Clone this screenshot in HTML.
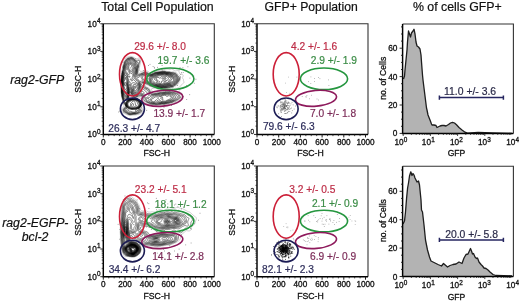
<!DOCTYPE html>
<html><head><meta charset="utf-8"><style>
html,body{margin:0;padding:0;background:#fff;width:520px;height:301px;overflow:hidden}
svg{display:block;filter:blur(0.3px)}
text{font-family:"Liberation Sans", sans-serif}
.tk{stroke:#111;stroke-width:0.3px}
</style></head><body>
<svg width="520" height="301" viewBox="0 0 520 301" font-family='"Liberation Sans", sans-serif'>
<rect width="520" height="301" fill="#fff"/>
<text x="157.40" y="10.80" font-size="12.35" fill="#111" stroke="#111" stroke-width="0.2" text-anchor="middle">Total Cell Population</text>
<text x="311.20" y="10.80" font-size="12.2" fill="#111" stroke="#111" stroke-width="0.2" text-anchor="middle">GFP+ Population</text>
<text x="457.30" y="10.80" font-size="12.35" fill="#111" stroke="#111" stroke-width="0.2" text-anchor="middle">% of cells GFP+</text>
<text x="37.20" y="84.00" font-size="12.3" fill="#111" stroke="#111" stroke-width="0.2" text-anchor="middle" font-style="italic">rag2-GFP</text>
<text x="35.30" y="226.70" font-size="12.3" fill="#111" stroke="#111" stroke-width="0.2" text-anchor="middle" font-style="italic">rag2-EGFP-</text>
<text x="35.10" y="241.20" font-size="12.3" fill="#111" stroke="#111" stroke-width="0.2" text-anchor="middle" font-style="italic">bcl-2</text>
<path d="M132.1,115.3 131.6,115.3 131.1,115.4 130.6,115.4 130.1,115.4 129.6,115.4 129.1,115.3 128.8,115.2 128.3,115.1 128.0,115.0 127.5,114.9 127.3,114.8 126.8,114.6 126.5,114.5 126.1,114.2 125.8,114.1 125.5,114.0 125.0,113.8 124.8,113.7 124.4,113.5 124.0,113.3 123.8,113.2 123.4,113.0 123.0,112.8 122.8,112.6 122.5,112.5 122.3,112.2 122.0,112.0 121.8,111.6 121.7,111.2 121.7,110.8 121.7,110.2 121.7,109.8 121.7,109.2 121.8,108.8 121.9,108.5 122.0,108.2 122.3,107.9 122.5,107.7 122.8,107.5 123.1,107.2 123.4,107.0 123.7,106.8 123.8,106.5 124.0,106.0 123.9,105.5 123.7,105.2 123.5,104.9 123.4,104.5 123.3,104.2 123.1,103.8 123.0,103.5 123.0,103.0 122.9,102.5 122.8,102.2 122.7,101.8 122.6,101.2 122.5,100.9 122.4,100.5 122.3,100.0 122.3,99.8 122.1,99.2 122.0,98.8 122.0,98.5 121.9,98.0 121.8,97.7 121.7,97.2 121.6,96.8 121.5,96.3 121.5,96.0 121.4,95.5 121.4,95.0 121.3,94.5 121.3,94.2 121.2,93.8 121.1,93.2 121.0,92.9 121.0,92.5 121.0,92.0 121.0,91.5 121.0,91.0 121.0,90.5 121.0,90.0 121.0,89.5 120.9,89.0 120.9,88.5 120.9,88.0 120.9,87.5 120.8,87.0 120.8,86.5 120.8,86.0 120.8,85.6 120.8,85.2 120.8,84.8 120.8,84.2 120.8,83.9 120.8,83.5 120.8,83.0 120.9,82.5 120.9,82.0 121.0,81.5 121.0,81.0 121.0,80.5 121.0,80.0 121.0,79.5 121.0,79.0 121.0,78.5 121.0,78.0 121.1,77.8 121.1,77.2 121.1,76.8 121.1,76.2 121.2,75.8 121.2,75.2 121.3,74.9 121.4,74.5 121.4,74.0 121.5,73.5 121.6,73.2 121.7,72.8 121.8,72.2 121.8,71.9 121.8,71.5 121.9,71.0 122.0,70.5 122.0,70.2 122.1,69.8 122.2,69.2 122.3,68.9 122.3,68.5 122.4,68.0 122.5,67.5 122.5,67.0 122.6,66.8 122.7,66.2 122.8,65.8 122.8,65.5 122.9,65.0 123.0,64.6 123.1,64.2 123.3,63.8 123.4,63.5 123.5,63.0 123.5,62.5 123.6,62.2 123.6,61.8 123.8,61.3 123.9,61.0 124.1,60.8 124.3,60.4 124.5,60.1 124.8,59.8 124.9,59.5 125.1,59.2 125.3,58.9 125.5,58.5 125.8,58.3 126.0,58.0 126.3,57.8 126.5,57.6 126.8,57.5 127.2,57.2 127.5,57.1 127.9,57.0 128.3,56.8 128.6,56.8 129.1,56.6 129.3,56.5 129.8,56.4 130.3,56.3 130.8,56.3 131.3,56.4 131.7,56.5 132.1,56.6 132.4,56.8 132.8,56.9 133.1,57.0 133.6,57.2 133.8,57.4 134.1,57.5 134.4,57.8 134.7,58.0 134.9,58.2 135.2,58.5 135.5,58.8 135.8,58.9 136.1,59.0 136.4,59.0 136.8,58.9 137.1,58.8 137.5,58.5 137.8,58.4 138.1,58.2 138.6,58.1 139.1,58.1 139.6,58.2 139.8,58.3 140.1,58.5 140.3,58.8 140.5,59.2 140.6,59.6 140.6,60.0 140.6,60.5 140.7,61.0 140.7,61.5 140.7,62.0 140.6,62.5 140.5,62.8 140.4,63.2 140.3,63.7 140.2,64.0 140.1,64.5 140.0,64.8 139.9,65.2 139.8,65.7 139.7,66.0 139.7,66.5 139.6,67.0 139.5,67.2 139.4,67.8 139.4,68.2 139.3,68.8 139.4,69.2 139.4,69.8 139.6,70.2 139.6,70.5 139.8,70.8 140.1,71.1 140.3,71.3 140.8,71.4 141.3,71.4 141.8,71.3 142.1,71.2 142.6,71.1 142.9,71.0 143.3,70.9 143.8,70.8 144.3,70.8 144.8,70.8 145.3,70.8 145.8,70.9 146.3,71.0 146.6,71.0 147.1,71.1 147.6,71.2 147.8,71.3 148.3,71.5 148.6,71.7 148.8,71.9 149.1,72.2 149.3,72.4 149.6,72.7 149.8,72.9 150.1,73.0 150.6,73.2 151.1,73.1 151.6,73.0 151.8,72.9 152.3,72.8 152.6,72.7 152.9,72.5 153.3,72.3 153.6,72.1 153.8,72.0 154.2,71.8 154.6,71.6 155.0,71.5 155.3,71.4 155.8,71.3 156.1,71.2 156.6,71.1 156.9,71.0 157.3,70.9 157.8,70.8 158.3,70.8 158.6,70.8 159.1,70.7 159.6,70.6 160.0,70.5 160.3,70.4 160.6,70.2 161.1,70.0 161.3,70.0 161.8,69.8 162.3,69.9 162.8,69.9 163.3,69.9 163.8,69.8 164.1,69.7 164.6,69.6 165.1,69.5 165.3,69.4 165.8,69.3 166.1,69.2 166.6,69.1 166.9,69.0 167.3,69.0 167.8,69.0 168.1,69.0 168.6,69.2 168.8,69.3 169.3,69.4 169.8,69.4 170.3,69.3 170.6,69.2 171.0,69.0 171.3,68.9 171.8,68.9 172.1,69.0 172.6,69.2 172.8,69.4 173.1,69.6 173.3,69.8 173.6,70.0 174.0,70.2 174.3,70.5 174.6,70.6 174.8,70.8 175.3,70.9 175.8,70.9 176.2,70.8 176.6,70.7 177.1,70.6 177.6,70.6 178.1,70.7 178.3,70.8 178.6,71.0 178.9,71.2 179.1,71.5 179.3,72.0 179.3,72.5 179.3,73.0 179.3,73.3 179.6,73.7 179.8,73.9 180.1,74.0 180.6,74.1 181.1,74.1 181.6,74.0 182.1,74.1 182.3,74.2 182.7,74.5 182.9,74.8 183.1,75.0 183.2,75.5 183.2,76.0 183.1,76.3 182.8,76.7 182.6,77.0 182.4,77.2 182.3,77.5 182.3,77.8 182.5,78.2 182.8,78.5 183.0,78.8 183.2,79.0 183.3,79.2 183.5,79.8 183.4,80.2 183.5,80.8 183.6,81.0 183.8,81.5 183.9,81.8 184.0,82.2 183.8,82.8 183.6,83.0 183.3,83.2 183.1,83.4 182.8,83.6 182.6,83.9 182.3,84.2 182.1,84.4 181.8,84.6 181.6,84.9 181.3,85.1 181.1,85.3 180.8,85.6 180.6,85.9 180.3,86.2 180.1,86.5 179.8,86.8 179.6,87.0 179.3,87.2 179.1,87.4 178.8,87.6 178.5,87.8 178.1,87.9 177.8,88.0 177.3,88.2 177.1,88.3 176.6,88.4 176.1,88.4 175.6,88.3 175.1,88.4 174.8,88.5 174.3,88.7 174.1,88.9 173.8,89.1 173.5,89.2 173.1,89.5 172.6,89.2 172.3,89.2 172.0,89.2 171.7,89.5 171.8,89.8 172.3,89.9 172.8,89.8 173.1,89.6 173.4,89.8 173.7,90.0 174.0,90.2 174.3,90.5 174.6,90.6 175.1,90.7 175.3,90.8 175.8,90.8 176.3,91.0 176.6,91.1 176.8,91.3 177.1,91.5 177.6,91.7 177.8,91.8 178.3,91.9 178.8,92.0 179.1,92.0 179.6,92.1 179.8,92.2 180.3,92.4 180.6,92.5 181.1,92.7 181.3,92.8 181.7,93.0 182.0,93.2 182.2,93.5 182.4,93.8 182.5,94.2 182.5,94.8 182.5,95.2 182.4,95.8 182.3,96.2 182.3,96.5 182.2,97.0 182.1,97.5 182.0,97.8 181.8,98.1 181.6,98.5 181.4,98.8 181.1,99.0 180.9,99.2 180.6,99.5 180.3,99.8 180.1,99.9 179.8,100.1 179.6,100.3 179.1,100.5 178.8,100.7 178.6,100.8 178.2,101.0 177.8,101.2 177.6,101.3 177.2,101.5 176.8,101.7 176.6,101.8 176.2,102.0 175.8,102.2 175.6,102.3 175.1,102.4 174.8,102.5 174.3,102.7 174.1,102.8 173.6,103.0 173.3,103.1 172.8,103.2 172.6,103.3 172.1,103.4 171.8,103.5 171.3,103.6 170.9,103.8 170.6,103.9 170.1,104.0 169.8,104.0 169.3,104.1 168.8,104.1 168.3,104.1 167.8,104.2 167.4,104.2 167.1,104.3 166.6,104.5 166.3,104.5 165.8,104.7 165.6,104.8 165.1,104.9 164.6,105.0 164.3,105.0 163.8,105.0 163.5,105.0 163.1,105.0 162.6,105.0 162.1,105.0 161.8,105.0 161.3,105.0 160.8,105.1 160.3,105.1 159.8,105.2 159.4,105.2 159.1,105.3 158.6,105.4 158.2,105.5 157.8,105.6 157.3,105.6 156.8,105.6 156.3,105.6 155.8,105.5 155.3,105.5 155.1,105.5 154.6,105.4 154.1,105.3 153.8,105.2 153.3,105.2 152.8,105.2 152.3,105.2 151.8,105.2 151.6,105.3 151.3,105.2 150.8,105.2 150.3,105.1 150.0,105.0 149.6,104.9 149.2,104.8 148.8,104.6 148.5,104.5 148.1,104.3 147.8,104.1 147.5,104.0 147.1,103.8 146.8,103.7 146.3,103.6 146.0,103.5 145.6,103.4 145.1,103.3 144.8,103.2 144.3,103.0 144.1,102.8 143.8,102.6 143.6,102.5 143.2,102.2 142.9,102.0 142.6,101.8 142.3,101.5 142.1,101.3 141.8,101.0 141.7,100.8 141.5,100.5 141.3,100.0 141.2,99.8 141.1,99.4 140.9,99.0 140.7,98.8 140.5,98.5 140.2,98.2 139.8,98.0 139.6,97.9 139.1,97.8 138.6,97.9 138.1,98.0 137.8,98.1 137.5,98.2 137.6,98.7 137.8,98.8 138.1,99.0 138.5,99.2 138.8,99.4 139.1,99.6 139.3,99.8 139.7,100.0 140.0,100.2 140.3,100.5 140.6,100.7 140.8,100.9 141.1,101.1 141.3,101.5 141.5,101.8 141.6,102.0 141.7,102.5 141.8,103.0 141.8,103.2 141.8,103.8 141.8,104.0 141.7,104.5 141.6,105.0 141.6,105.3 141.4,105.8 141.3,106.0 141.1,106.5 141.0,106.8 140.8,107.1 140.8,107.5 141.0,107.8 141.3,107.9 141.6,108.0 142.0,108.2 142.3,108.5 142.6,108.7 142.7,109.0 142.8,109.2 142.9,109.8 143.0,110.2 143.1,110.5 143.1,111.0 143.1,111.3 142.9,111.8 142.8,112.0 142.6,112.3 142.3,112.6 142.1,112.9 141.8,113.0 141.4,113.2 141.1,113.4 140.8,113.5 140.3,113.8 140.1,113.9 139.7,114.0 139.3,114.1 138.9,114.2 138.6,114.4 138.1,114.5 137.8,114.5 137.3,114.6 136.8,114.7 136.6,114.8 136.1,114.9 135.6,114.9 135.1,115.0 134.8,115.0 134.3,115.1 133.8,115.1 133.3,115.1 132.8,115.2 132.3,115.2 132.1,115.3Z" fill="none" stroke="#8a8a8a" stroke-width="0.4"/>
<path d="M156.1,91.8 156.6,91.6 156.8,91.5 157.2,91.2 157.6,91.0 157.8,90.9 158.2,90.8 158.6,90.7 159.1,90.7 159.6,90.7 160.1,90.7 160.6,90.7 161.1,90.6 161.3,90.5 161.8,90.2 162.0,90.0 161.8,89.6 161.6,89.4 161.2,89.2 160.8,89.2 160.3,89.2 159.8,89.2 159.5,89.2 159.1,89.3 158.6,89.4 158.1,89.3 157.8,89.2 157.4,89.0 157.1,88.8 156.8,88.6 156.5,88.5 156.1,88.4 155.6,88.2 155.3,88.2 154.8,88.2 154.3,88.1 153.8,88.1 153.3,88.2 152.8,88.2 152.6,88.3 152.1,88.5 151.8,88.6 151.6,88.8 151.4,89.2 151.4,89.8 151.6,90.0 151.8,90.4 152.0,90.8 152.2,91.0 152.3,91.2 152.6,91.5 152.9,91.8 153.3,91.9 153.8,91.9 154.3,91.9 154.8,91.9 155.3,91.9 155.8,91.8 156.1,91.8Z" fill="none" stroke="#8a8a8a" stroke-width="0.4"/>
<path d="M130.1,98.8 130.6,98.6 130.9,98.5 131.3,98.4 131.8,98.3 132.1,98.2 132.6,98.0 132.7,97.8 132.5,97.5 132.3,97.2 132.0,97.0 131.7,96.8 131.5,96.5 131.3,96.2 131.1,95.8 130.9,95.5 130.7,95.2 130.6,95.0 130.3,94.7 129.8,94.7 129.7,95.0 129.5,95.2 129.4,95.8 129.3,96.1 129.2,96.5 129.2,97.0 129.1,97.5 129.0,97.8 128.9,98.2 128.9,98.8 129.3,98.9 129.8,98.8 130.1,98.8Z" fill="none" stroke="#8a8a8a" stroke-width="0.4"/>
<path d="M132.1,114.8 131.6,114.9 131.1,114.9 130.6,115.0 130.1,115.0 129.6,114.9 129.1,114.8 128.8,114.7 128.3,114.6 128.1,114.5 127.5,114.3 127.3,114.2 127.0,114.0 126.5,113.8 126.3,113.6 126.0,113.5 125.6,113.2 125.3,113.1 124.9,113.0 124.5,112.8 124.3,112.7 123.9,112.5 123.6,112.2 123.4,112.0 123.2,111.8 123.0,111.5 122.8,111.0 122.8,110.8 122.7,110.2 122.7,109.8 122.7,109.2 122.8,108.8 122.9,108.5 123.1,108.2 123.4,108.0 123.7,107.8 124.0,107.5 124.3,107.3 124.5,107.1 124.8,106.9 125.0,106.6 125.2,106.2 125.2,105.8 125.0,105.5 124.8,105.2 124.5,104.9 124.3,104.7 124.0,104.4 123.8,104.1 123.7,103.8 123.5,103.5 123.4,103.0 123.3,102.6 123.2,102.2 123.1,101.8 123.0,101.5 122.9,101.0 122.8,100.5 122.8,100.2 122.6,99.8 122.5,99.4 122.4,99.0 122.3,98.5 122.2,98.2 122.1,97.8 122.0,97.4 121.9,97.0 121.8,96.5 121.8,96.1 121.7,95.8 121.7,95.2 121.6,94.8 121.6,94.2 121.5,94.0 121.4,93.5 121.3,93.0 121.3,92.7 121.3,92.2 121.3,91.8 121.3,91.2 121.3,90.8 121.2,90.2 121.2,89.8 121.2,89.2 121.2,88.8 121.1,88.2 121.1,87.8 121.1,87.2 121.1,86.8 121.1,86.2 121.1,85.8 121.0,85.5 121.0,85.0 121.0,84.5 121.0,84.2 121.1,83.8 121.1,83.2 121.1,82.8 121.2,82.2 121.2,81.8 121.2,81.2 121.2,80.8 121.2,80.2 121.2,79.8 121.2,79.2 121.3,78.8 121.3,78.2 121.3,78.0 121.3,77.5 121.4,77.0 121.4,76.5 121.4,76.0 121.5,75.5 121.6,75.2 121.6,74.8 121.7,74.2 121.8,73.8 121.8,73.5 121.9,73.0 122.0,72.5 122.1,72.2 122.1,71.8 122.2,71.2 122.3,70.9 122.4,70.5 122.5,70.0 122.6,69.8 122.7,69.2 122.8,68.8 122.8,68.5 122.9,68.0 122.9,67.5 123.0,67.0 123.0,66.6 123.1,66.2 123.2,65.8 123.3,65.4 123.4,65.0 123.5,64.5 123.6,64.2 123.8,63.8 123.9,63.5 124.0,63.0 124.0,62.6 124.1,62.2 124.2,61.8 124.3,61.5 124.5,61.1 124.8,60.8 125.0,60.5 125.2,60.2 125.4,60.0 125.6,59.8 125.8,59.4 126.0,59.1 126.3,58.8 126.5,58.5 126.8,58.3 127.0,58.2 127.3,58.0 127.8,57.8 128.1,57.7 128.6,57.5 128.8,57.5 129.3,57.3 129.6,57.2 130.1,57.1 130.6,57.0 130.8,57.0 131.1,57.0 131.6,57.1 132.0,57.2 132.3,57.4 132.7,57.5 133.1,57.6 133.3,57.8 133.7,58.0 134.0,58.2 134.3,58.5 134.6,58.7 134.8,59.0 135.0,59.2 135.3,59.5 135.6,59.7 135.8,59.9 136.1,60.0 136.6,60.1 136.9,60.0 137.3,59.8 137.6,59.6 137.9,59.5 138.3,59.4 138.8,59.3 139.3,59.4 139.6,59.6 139.8,59.8 140.0,60.2 140.1,60.6 140.1,61.0 140.1,61.5 140.1,62.0 140.0,62.2 139.9,62.8 139.8,63.0 139.6,63.5 139.6,63.8 139.4,64.2 139.3,64.8 139.3,65.0 139.2,65.5 139.1,66.0 139.1,66.5 139.0,66.8 138.9,67.2 138.8,67.6 138.7,68.0 138.6,68.5 138.5,68.8 138.5,69.2 138.5,69.8 138.5,70.2 138.5,70.8 138.5,71.2 138.5,71.8 138.5,72.2 138.6,72.5 138.8,72.9 139.1,73.1 139.6,73.2 140.1,73.2 140.6,73.0 140.8,73.0 141.3,72.8 141.6,72.7 141.9,72.5 142.3,72.3 142.6,72.2 142.9,72.0 143.3,71.8 143.6,71.7 144.1,71.6 144.6,71.6 145.1,71.6 145.6,71.7 145.8,71.8 146.3,71.9 146.6,72.0 147.1,72.1 147.6,72.1 147.9,72.2 148.2,72.5 148.5,72.8 148.7,73.0 149.0,73.2 149.2,73.5 149.5,73.8 149.8,73.9 150.3,74.0 150.8,74.0 151.3,73.9 151.6,73.8 152.1,73.6 152.3,73.5 152.8,73.3 153.1,73.1 153.3,73.0 153.8,72.8 154.1,72.6 154.3,72.5 154.8,72.3 155.1,72.2 155.6,72.1 156.1,72.0 156.3,71.9 156.8,71.8 157.3,71.8 157.6,71.8 158.1,71.7 158.6,71.6 159.1,71.6 159.6,71.5 159.8,71.5 160.3,71.4 160.8,71.3 161.1,71.2 161.6,71.1 162.1,71.1 162.6,71.0 162.8,71.0 163.3,70.9 163.8,70.9 164.3,70.9 164.8,70.9 165.3,70.9 165.6,71.0 166.1,71.1 166.3,71.2 166.8,71.4 167.2,71.5 167.6,71.5 168.1,71.6 168.6,71.5 169.1,71.5 169.6,71.5 170.1,71.6 170.5,71.8 170.8,71.8 171.3,71.9 171.8,71.9 172.3,71.8 172.6,71.7 173.1,71.7 173.4,71.8 173.8,71.9 174.1,72.0 174.6,72.2 174.8,72.3 175.3,72.5 175.6,72.6 176.1,72.7 176.3,72.8 176.7,73.0 177.0,73.2 177.3,73.5 177.4,73.8 177.6,74.0 177.8,74.5 178.0,74.8 178.2,75.0 178.5,75.2 178.8,75.4 179.1,75.5 179.6,75.6 179.9,75.8 180.2,76.0 180.4,76.2 180.5,76.8 180.5,77.2 180.5,77.8 180.5,78.2 180.5,78.8 180.4,79.2 180.3,79.6 180.1,80.0 180.0,80.2 179.9,80.8 179.8,81.0 179.7,81.5 179.6,81.9 179.3,82.2 179.1,82.4 178.8,82.6 178.6,82.9 178.4,83.2 178.3,83.6 178.1,84.0 178.0,84.2 177.7,84.5 177.5,84.8 177.2,85.0 176.8,85.2 176.6,85.4 176.2,85.5 175.8,85.6 175.5,85.8 175.1,86.0 174.8,86.2 174.6,86.5 174.3,86.8 174.1,87.0 173.8,87.2 173.6,87.4 173.2,87.5 172.8,87.6 172.3,87.6 171.8,87.6 171.3,87.7 171.1,87.8 170.6,88.0 170.3,88.1 169.8,88.2 169.6,88.3 169.1,88.3 168.6,88.4 168.1,88.4 167.6,88.5 167.1,88.5 166.6,88.5 166.1,88.5 165.8,88.5 165.3,88.5 164.8,88.5 164.6,88.5 164.1,88.5 163.6,88.4 163.1,88.5 162.6,88.5 162.1,88.5 161.6,88.4 161.1,88.4 160.6,88.3 160.1,88.3 159.6,88.4 159.1,88.4 158.6,88.3 158.2,88.2 157.8,88.1 157.5,88.0 157.1,87.9 156.7,87.8 156.3,87.7 155.8,87.6 155.4,87.5 155.1,87.5 154.6,87.4 154.1,87.3 153.6,87.3 153.3,87.2 152.8,87.2 152.3,87.1 152.0,87.0 151.6,86.8 151.3,86.7 150.8,86.6 150.5,86.5 150.1,86.4 149.6,86.2 149.3,86.1 149.1,86.0 148.7,85.8 148.4,85.5 148.1,85.2 147.8,85.1 147.6,85.0 147.1,84.8 146.8,84.7 146.3,84.7 145.8,84.7 145.5,84.8 145.2,85.0 145.2,85.5 145.3,85.8 145.6,86.2 145.8,86.5 146.1,86.7 146.3,86.9 146.6,87.0 147.1,87.2 147.3,87.3 147.8,87.5 148.1,87.6 148.5,87.8 148.8,87.9 149.1,88.2 149.3,88.5 149.4,88.8 149.6,89.1 149.8,89.5 149.9,89.8 150.1,90.0 150.3,90.4 150.5,90.8 150.7,91.0 150.8,91.2 151.1,91.7 151.2,92.0 151.3,92.2 151.6,92.7 151.8,92.9 152.1,93.1 152.6,93.2 153.1,93.2 153.6,93.1 154.1,93.1 154.5,93.0 154.8,93.0 155.3,92.9 155.8,92.8 156.2,92.8 156.6,92.7 157.1,92.6 157.5,92.5 157.8,92.4 158.3,92.3 158.6,92.2 159.1,92.1 159.5,92.0 159.8,91.9 160.3,91.8 160.8,91.8 161.1,91.8 161.6,91.7 162.1,91.7 162.6,91.6 163.1,91.6 163.6,91.6 164.1,91.5 164.3,91.5 164.8,91.4 165.3,91.3 165.8,91.3 166.3,91.3 166.6,91.2 167.1,91.2 167.6,91.1 168.1,91.0 168.3,90.9 168.8,90.8 169.2,90.8 169.4,90.8 169.8,90.8 170.3,91.0 170.6,91.1 170.9,91.2 171.3,91.3 171.8,91.4 172.3,91.4 172.8,91.5 173.1,91.5 173.6,91.7 173.8,91.8 174.3,91.9 174.6,92.0 175.1,92.1 175.6,92.1 176.1,92.2 176.3,92.3 176.6,92.5 177.1,92.7 177.3,92.8 177.8,92.9 178.2,93.0 178.6,93.1 179.1,93.2 179.3,93.4 179.6,93.5 179.9,93.8 180.3,94.0 180.6,94.2 180.8,94.5 181.0,94.8 181.1,95.1 181.1,95.5 181.1,96.0 181.1,96.5 181.0,96.8 180.9,97.2 180.8,97.7 180.7,98.0 180.5,98.2 180.3,98.6 180.1,98.8 179.8,99.1 179.6,99.3 179.2,99.5 178.8,99.7 178.6,99.9 178.3,100.0 177.9,100.2 177.6,100.4 177.3,100.6 177.0,100.8 176.6,101.0 176.3,101.2 176.1,101.3 175.6,101.5 175.3,101.5 174.8,101.7 174.5,101.8 174.1,102.0 173.8,102.1 173.5,102.2 173.1,102.4 172.8,102.6 172.3,102.7 172.1,102.8 171.6,103.0 171.3,103.0 170.8,103.2 170.5,103.2 170.1,103.4 169.6,103.4 169.1,103.5 168.8,103.5 168.3,103.6 167.8,103.6 167.3,103.7 167.0,103.8 166.6,103.8 166.1,104.0 165.8,104.1 165.3,104.2 165.1,104.3 164.6,104.4 164.1,104.5 163.6,104.4 163.1,104.4 162.6,104.4 162.1,104.4 161.6,104.4 161.1,104.5 160.8,104.5 160.3,104.6 159.8,104.6 159.3,104.7 159.0,104.8 158.6,104.8 158.1,104.9 157.6,105.0 157.3,105.0 156.8,105.1 156.3,105.1 155.8,105.0 155.6,105.0 155.1,104.9 154.6,104.8 154.3,104.7 153.8,104.6 153.3,104.6 152.8,104.6 152.3,104.6 151.8,104.6 151.3,104.6 150.8,104.5 150.6,104.4 150.1,104.3 149.8,104.2 149.4,104.0 149.1,103.8 148.8,103.7 148.4,103.5 148.1,103.3 147.8,103.2 147.3,103.0 147.1,102.9 146.6,102.8 146.3,102.7 145.9,102.5 145.6,102.3 145.3,102.2 145.0,102.0 144.7,101.8 144.4,101.5 144.1,101.2 143.8,101.0 143.6,100.9 143.3,100.7 143.1,100.5 142.8,100.1 142.6,99.8 142.5,99.5 142.5,99.0 142.4,98.5 142.3,98.0 142.1,97.8 141.9,97.5 141.6,97.3 141.3,97.2 140.9,97.0 140.6,96.9 140.1,96.8 139.8,96.7 139.3,96.6 138.8,96.6 138.5,96.8 138.1,96.9 137.8,97.1 137.4,97.2 137.1,97.4 136.8,97.6 136.5,97.8 136.1,98.0 136.0,98.2 136.3,98.5 136.6,98.6 136.8,98.8 137.3,99.0 137.6,99.1 137.9,99.2 138.3,99.4 138.6,99.6 138.9,99.8 139.3,100.0 139.6,100.2 139.8,100.4 140.1,100.6 140.3,100.8 140.6,101.1 140.8,101.4 141.0,101.8 141.2,102.0 141.3,102.3 141.5,102.8 141.5,103.2 141.6,103.5 141.6,104.0 141.5,104.2 141.5,104.8 141.4,105.2 141.3,105.5 141.1,106.0 140.9,106.2 140.8,106.5 140.6,106.9 140.3,107.2 140.2,107.5 140.0,107.8 140.1,108.2 140.3,108.4 140.6,108.6 141.0,108.8 141.3,108.9 141.6,109.1 141.8,109.4 142.0,109.8 142.1,110.0 142.2,110.5 142.2,111.0 142.1,111.5 142.0,111.8 141.8,112.1 141.6,112.3 141.3,112.5 140.8,112.7 140.6,112.8 140.2,113.0 139.8,113.2 139.6,113.3 139.1,113.5 138.8,113.6 138.5,113.8 138.1,113.9 137.6,114.0 137.3,114.1 136.8,114.2 136.5,114.2 136.1,114.3 135.6,114.4 135.1,114.4 134.6,114.5 134.3,114.5 133.8,114.5 133.3,114.6 132.8,114.7 132.3,114.7 132.1,114.8Z" fill="none" stroke="#8a8a8a" stroke-width="0.4"/>
<path d="M128.9,99.2 129.3,99.1 129.8,99.0 130.1,98.9 130.6,98.8 130.8,98.7 131.3,98.6 131.6,98.5 132.1,98.4 132.6,98.3 133.1,98.3 133.3,98.2 133.8,98.1 133.9,97.8 133.6,97.5 133.4,97.2 133.1,97.0 132.8,96.8 132.6,96.5 132.3,96.2 132.1,96.0 131.9,95.8 131.7,95.5 131.6,95.2 131.3,94.8 131.2,94.5 131.1,94.2 130.8,93.8 130.6,93.5 130.3,93.3 130.1,93.1 129.7,93.2 129.5,93.5 129.4,94.0 129.3,94.2 129.2,94.8 129.1,95.2 129.0,95.5 128.9,96.0 128.8,96.5 128.8,96.8 128.7,97.2 128.7,97.8 128.6,98.2 128.5,98.5 128.5,99.0 128.7,99.2 128.9,99.2Z" fill="none" stroke="#8a8a8a" stroke-width="0.4"/>
<path d="M131.3,114.5 130.8,114.6 130.3,114.6 129.8,114.6 129.3,114.5 129.1,114.5 128.6,114.3 128.3,114.2 127.9,114.0 127.5,113.8 127.3,113.7 127.0,113.5 126.6,113.2 126.3,113.0 126.0,112.9 125.8,112.8 125.3,112.6 125.0,112.5 124.6,112.2 124.3,112.1 124.0,111.8 123.8,111.5 123.6,111.2 123.5,111.0 123.4,110.5 123.3,110.0 123.3,109.5 123.5,109.0 123.6,108.8 123.8,108.5 124.1,108.2 124.4,108.0 124.7,107.8 125.0,107.5 125.3,107.3 125.5,107.1 125.8,106.8 125.8,106.5 125.8,106.2 125.6,105.8 125.5,105.5 125.3,105.1 125.1,104.8 124.9,104.5 124.6,104.2 124.4,104.0 124.2,103.8 124.0,103.5 123.8,103.1 123.7,102.8 123.5,102.4 123.4,102.0 123.3,101.5 123.2,101.2 123.1,100.8 123.0,100.4 123.0,100.0 122.8,99.5 122.8,99.2 122.6,98.8 122.5,98.4 122.4,98.0 122.3,97.5 122.2,97.2 122.1,96.8 122.0,96.4 122.0,96.0 121.9,95.5 121.9,95.0 121.8,94.5 121.8,94.2 121.7,93.8 121.6,93.2 121.5,93.0 121.5,92.5 121.4,92.0 121.4,91.5 121.4,91.0 121.4,90.5 121.4,90.0 121.4,89.5 121.4,89.0 121.3,88.5 121.3,88.0 121.3,87.8 121.3,87.2 121.2,86.8 121.2,86.2 121.2,85.8 121.2,85.2 121.2,84.8 121.2,84.2 121.2,83.8 121.3,83.2 121.3,83.0 121.3,82.5 121.4,82.0 121.4,81.5 121.4,81.0 121.4,80.5 121.4,80.0 121.4,79.5 121.4,79.0 121.5,78.5 121.5,78.0 121.5,77.5 121.6,77.2 121.6,76.8 121.6,76.2 121.7,75.8 121.8,75.2 121.8,75.0 121.9,74.5 122.0,74.0 122.0,73.6 122.1,73.2 122.2,72.8 122.3,72.2 122.3,72.0 122.4,71.5 122.5,71.0 122.6,70.8 122.8,70.2 122.9,70.0 123.0,69.5 123.1,69.2 123.1,68.8 123.2,68.2 123.2,67.8 123.3,67.2 123.3,67.0 123.4,66.5 123.5,66.0 123.6,65.8 123.7,65.2 123.8,64.9 123.9,64.5 124.1,64.2 124.3,63.8 124.3,63.5 124.4,63.0 124.5,62.5 124.5,62.2 124.7,61.8 124.8,61.5 125.0,61.2 125.3,60.9 125.5,60.5 125.8,60.2 126.0,60.0 126.2,59.8 126.3,59.5 126.6,59.2 126.8,59.0 127.1,58.8 127.4,58.5 127.8,58.3 128.1,58.2 128.6,58.1 128.9,58.0 129.3,57.9 129.7,57.8 130.1,57.6 130.6,57.5 131.1,57.5 131.6,57.6 132.1,57.7 132.3,57.8 132.8,58.0 133.1,58.1 133.3,58.2 133.7,58.5 133.9,58.8 134.2,59.0 134.4,59.2 134.7,59.5 134.9,59.8 135.2,60.0 135.5,60.2 135.8,60.5 136.1,60.7 136.3,60.8 136.8,61.0 137.3,60.9 137.6,60.8 138.0,60.5 138.3,60.4 138.8,60.3 139.3,60.5 139.4,60.8 139.6,61.2 139.6,61.5 139.6,61.8 139.5,62.2 139.3,62.8 139.2,63.0 139.1,63.4 138.9,63.8 138.8,64.2 138.8,64.5 138.7,65.0 138.6,65.5 138.6,66.0 138.6,66.5 138.5,66.8 138.4,67.2 138.3,67.5 138.1,68.0 138.1,68.3 137.9,68.8 137.9,69.2 137.8,69.8 137.8,70.2 137.8,70.7 137.8,71.0 137.7,71.5 137.7,72.0 137.6,72.5 137.6,73.0 137.6,73.5 137.8,74.0 138.1,74.1 138.6,74.2 139.1,74.2 139.6,74.1 140.1,74.0 140.3,73.9 140.7,73.8 141.1,73.6 141.3,73.5 141.8,73.3 142.1,73.2 142.6,73.0 142.8,72.9 143.1,72.7 143.5,72.5 143.8,72.4 144.2,72.2 144.6,72.2 144.9,72.2 145.3,72.3 145.8,72.5 146.1,72.6 146.6,72.7 146.8,72.8 147.3,72.8 147.8,73.0 148.1,73.1 148.3,73.4 148.6,73.6 148.8,73.8 149.1,74.0 149.4,74.2 149.8,74.4 150.3,74.4 150.8,74.4 151.3,74.3 151.6,74.2 152.1,74.0 152.3,73.9 152.7,73.8 153.1,73.6 153.3,73.4 153.6,73.2 154.1,73.0 154.3,72.9 154.8,72.8 155.1,72.7 155.6,72.5 155.8,72.5 156.3,72.4 156.8,72.3 157.1,72.2 157.6,72.2 158.1,72.1 158.6,72.1 159.1,72.0 159.3,72.0 159.8,71.9 160.3,71.8 160.7,71.8 161.1,71.7 161.6,71.6 162.1,71.5 162.6,71.5 162.8,71.5 163.3,71.4 163.8,71.4 164.3,71.4 164.8,71.4 165.2,71.5 165.6,71.6 166.0,71.8 166.3,71.9 166.8,72.0 167.1,72.0 167.6,72.0 168.1,72.1 168.6,72.1 169.1,72.1 169.6,72.1 170.1,72.2 170.3,72.3 170.8,72.4 171.3,72.5 171.6,72.5 172.1,72.6 172.6,72.5 173.1,72.6 173.6,72.7 173.8,72.8 174.3,72.9 174.6,73.0 175.1,73.1 175.4,73.2 175.8,73.5 176.1,73.6 176.3,73.8 176.6,74.0 176.8,74.3 177.0,74.8 177.1,75.0 177.3,75.4 177.5,75.8 177.7,76.0 178.1,76.2 178.3,76.4 178.6,76.5 179.1,76.7 179.3,76.9 179.5,77.2 179.6,77.5 179.7,78.0 179.7,78.5 179.7,79.0 179.6,79.5 179.5,79.8 179.3,80.2 179.2,80.5 179.0,80.8 178.8,81.1 178.6,81.4 178.3,81.7 178.1,82.0 177.9,82.2 177.8,82.5 177.6,82.9 177.4,83.2 177.2,83.5 177.0,83.8 176.8,84.0 176.6,84.3 176.3,84.5 175.8,84.8 175.6,84.9 175.3,85.0 174.9,85.2 174.6,85.5 174.3,85.8 174.1,86.0 173.9,86.2 173.6,86.5 173.3,86.7 173.1,86.8 172.6,86.9 172.1,87.0 171.7,87.0 171.3,87.1 170.8,87.2 170.5,87.2 170.1,87.4 169.6,87.5 169.3,87.5 168.8,87.6 168.3,87.7 167.9,87.8 167.6,87.8 167.1,87.9 166.6,87.9 166.1,87.9 165.6,88.0 165.1,88.0 164.6,88.0 164.1,88.0 163.6,87.9 163.1,88.0 162.6,88.0 162.3,88.0 161.8,88.0 161.5,88.0 161.1,88.0 160.6,87.9 160.1,87.9 159.6,87.9 159.1,87.9 158.6,87.9 158.1,87.8 157.8,87.7 157.3,87.5 157.1,87.4 156.6,87.3 156.3,87.2 155.8,87.1 155.3,87.1 154.8,87.0 154.6,87.0 154.1,86.9 153.6,86.8 153.3,86.8 152.8,86.6 152.3,86.5 152.1,86.4 151.6,86.2 151.3,86.1 150.9,86.0 150.6,85.9 150.1,85.8 149.8,85.6 149.5,85.5 149.2,85.2 148.9,85.0 148.6,84.8 148.3,84.6 148.1,84.4 147.7,84.2 147.3,84.1 147.0,84.0 146.6,83.9 146.1,83.8 145.8,83.7 145.3,83.6 144.8,83.6 144.3,83.7 144.1,83.8 143.6,84.0 143.3,84.2 143.4,84.8 143.6,85.0 143.8,85.3 144.1,85.6 144.3,85.9 144.6,86.2 144.7,86.5 144.9,86.8 145.2,87.0 145.4,87.2 145.8,87.5 146.1,87.6 146.4,87.8 146.8,87.9 147.1,88.0 147.6,88.2 147.8,88.3 148.2,88.5 148.4,88.8 148.6,89.0 148.8,89.3 149.1,89.7 149.2,90.0 149.4,90.2 149.6,90.5 149.8,90.8 150.1,91.2 150.2,91.5 150.3,91.8 150.5,92.2 150.6,92.5 150.8,93.0 151.0,93.2 151.2,93.5 151.5,93.8 151.8,93.8 152.3,93.9 152.8,93.9 153.3,93.8 153.8,93.8 154.1,93.7 154.6,93.6 155.1,93.6 155.5,93.5 155.8,93.4 156.3,93.4 156.8,93.3 157.1,93.2 157.6,93.1 158.1,93.0 158.3,93.0 158.8,92.9 159.2,92.8 159.6,92.7 160.1,92.5 160.3,92.5 160.8,92.4 161.3,92.3 161.8,92.3 162.3,92.3 162.8,92.3 163.1,92.2 163.6,92.2 164.1,92.2 164.6,92.1 165.1,92.0 165.3,92.0 165.8,91.9 166.3,91.9 166.8,91.8 167.3,91.8 167.8,91.8 168.1,91.8 168.6,91.7 169.1,91.6 169.6,91.6 170.1,91.7 170.3,91.8 170.8,91.9 171.3,92.0 171.6,92.0 172.1,92.1 172.6,92.1 173.1,92.2 173.3,92.3 173.8,92.5 174.1,92.5 174.6,92.7 174.9,92.8 175.3,92.8 175.8,93.0 176.1,93.1 176.5,93.2 176.8,93.4 177.1,93.5 177.6,93.7 177.9,93.8 178.3,93.9 178.6,94.0 178.8,94.2 179.1,94.5 179.3,95.0 179.4,95.2 179.6,95.6 179.8,96.0 179.9,96.2 180.0,96.8 180.0,97.2 179.9,97.8 179.8,98.0 179.6,98.3 179.3,98.6 179.1,98.8 178.7,99.0 178.3,99.2 178.1,99.4 177.8,99.5 177.4,99.8 177.1,100.0 176.8,100.2 176.6,100.3 176.2,100.5 175.8,100.7 175.6,100.8 175.1,101.0 174.8,101.0 174.3,101.2 174.1,101.4 173.8,101.5 173.3,101.7 173.1,101.9 172.8,102.0 172.3,102.2 172.1,102.3 171.6,102.5 171.3,102.5 170.8,102.6 170.3,102.7 170.1,102.8 169.6,102.9 169.3,103.0 168.8,103.1 168.3,103.2 167.8,103.2 167.6,103.3 167.1,103.3 166.6,103.4 166.2,103.5 165.8,103.6 165.4,103.8 165.1,103.9 164.6,104.0 164.3,104.0 163.8,104.0 163.3,104.0 163.1,104.0 162.6,103.9 162.1,103.9 161.6,104.0 161.3,104.0 160.8,104.1 160.3,104.2 159.8,104.2 159.6,104.3 159.1,104.3 158.6,104.4 158.1,104.4 157.7,104.5 157.3,104.6 156.8,104.6 156.3,104.6 155.8,104.6 155.4,104.5 155.1,104.4 154.6,104.3 154.3,104.2 153.8,104.2 153.3,104.2 152.8,104.2 152.3,104.2 151.8,104.1 151.3,104.1 150.9,104.0 150.6,103.9 150.1,103.8 149.8,103.6 149.6,103.5 149.2,103.2 148.8,103.0 148.6,102.9 148.1,102.8 147.8,102.6 147.4,102.5 147.1,102.4 146.8,102.2 146.3,102.0 146.1,101.8 145.8,101.6 145.6,101.3 145.3,101.0 145.1,100.8 144.8,100.6 144.6,100.4 144.3,100.2 144.1,100.0 143.8,99.5 143.8,99.2 143.8,98.8 143.7,98.2 143.5,98.0 143.3,97.6 143.1,97.3 142.8,97.0 142.6,96.8 142.3,96.6 142.1,96.5 141.6,96.2 141.3,96.1 140.9,96.0 140.6,95.9 140.1,95.8 139.6,95.8 139.1,95.8 138.6,96.0 138.3,96.1 138.1,96.3 137.6,96.5 137.3,96.7 137.1,96.8 136.6,97.0 136.3,97.2 136.1,97.3 135.7,97.5 135.3,97.6 134.8,97.6 134.5,97.5 134.1,97.2 133.8,97.0 133.6,96.8 133.3,96.5 133.1,96.3 132.8,96.0 132.6,95.8 132.3,95.5 132.1,95.2 132.0,95.0 131.8,94.7 131.6,94.2 131.4,94.0 131.3,93.8 131.1,93.4 130.8,93.0 130.6,92.8 130.4,92.5 130.1,92.3 129.6,92.5 129.4,92.8 129.3,93.0 129.2,93.5 129.1,93.9 129.0,94.2 128.9,94.8 128.8,95.2 128.8,95.5 128.7,96.0 128.6,96.5 128.5,96.8 128.5,97.2 128.4,97.8 128.3,98.2 128.2,98.5 128.1,99.0 128.3,99.5 128.6,99.5 128.8,99.4 129.3,99.3 129.6,99.2 130.1,99.0 130.3,98.9 130.8,98.8 131.1,98.7 131.6,98.6 132.1,98.5 132.4,98.5 132.8,98.4 133.3,98.4 133.8,98.3 134.3,98.3 134.8,98.3 135.3,98.3 135.7,98.5 136.1,98.6 136.3,98.8 136.8,98.9 137.1,99.0 137.6,99.2 137.8,99.3 138.1,99.5 138.6,99.7 138.8,99.9 139.1,100.0 139.4,100.2 139.7,100.5 140.0,100.8 140.2,101.0 140.5,101.2 140.7,101.5 140.8,101.8 141.1,102.1 141.2,102.5 141.3,102.9 141.4,103.2 141.4,103.8 141.4,104.2 141.3,104.8 141.3,105.0 141.1,105.5 141.0,105.8 140.8,106.2 140.6,106.5 140.5,106.8 140.3,107.0 140.1,107.3 139.8,107.6 139.6,107.9 139.4,108.2 139.6,108.7 139.8,108.9 140.1,109.0 140.4,109.2 140.7,109.5 141.0,109.8 141.2,110.0 141.3,110.2 141.5,110.8 141.5,111.2 141.3,111.6 141.1,111.9 140.8,112.1 140.4,112.2 140.1,112.4 139.8,112.5 139.3,112.8 139.1,112.9 138.8,113.1 138.4,113.2 138.1,113.4 137.8,113.5 137.3,113.6 136.9,113.8 136.6,113.8 136.1,114.0 135.8,114.0 135.3,114.1 134.8,114.1 134.3,114.1 133.8,114.2 133.3,114.2 133.1,114.3 132.6,114.3 132.1,114.4 131.6,114.5 131.3,114.5Z" fill="none" stroke="#050505" stroke-width="0.55"/>
<path d="M130.8,114.3 130.3,114.3 129.8,114.3 129.5,114.2 129.1,114.1 128.7,114.0 128.3,113.8 128.1,113.7 127.7,113.5 127.4,113.2 127.1,113.0 126.8,112.8 126.5,112.6 126.3,112.5 125.9,112.2 125.5,112.1 125.3,112.0 124.8,111.8 124.5,111.6 124.3,111.3 124.1,111.0 124.0,110.8 123.9,110.2 123.9,109.8 124.0,109.2 124.1,109.0 124.3,108.8 124.6,108.5 124.8,108.2 125.1,108.0 125.5,107.8 125.8,107.5 126.0,107.4 126.2,107.0 126.1,106.5 126.0,106.2 125.8,105.8 125.7,105.5 125.5,105.1 125.4,104.8 125.3,104.5 125.0,104.1 124.8,103.8 124.5,103.5 124.3,103.2 124.2,103.0 124.0,102.8 123.8,102.2 123.7,102.0 123.6,101.5 123.5,101.2 123.4,100.8 123.3,100.4 123.2,100.0 123.1,99.5 123.0,99.2 122.9,98.8 122.8,98.5 122.6,98.0 122.5,97.7 122.4,97.2 122.3,96.8 122.2,96.5 122.2,96.0 122.1,95.5 122.1,95.0 122.0,94.8 122.0,94.2 121.9,93.8 121.8,93.4 121.7,93.0 121.6,92.5 121.6,92.0 121.6,91.5 121.6,91.0 121.6,90.5 121.6,90.0 121.6,89.5 121.5,89.2 121.5,88.8 121.5,88.2 121.4,87.8 121.4,87.2 121.4,86.8 121.4,86.2 121.4,85.8 121.4,85.2 121.4,84.8 121.4,84.2 121.4,83.8 121.4,83.2 121.5,82.8 121.5,82.2 121.5,81.9 121.6,81.5 121.6,81.0 121.6,80.5 121.6,80.0 121.6,79.5 121.6,79.0 121.6,78.5 121.7,78.0 121.7,77.5 121.7,77.0 121.8,76.5 121.8,76.2 121.9,75.8 122.0,75.2 122.0,74.8 122.1,74.5 122.2,74.0 122.3,73.5 122.3,73.2 122.4,72.8 122.5,72.2 122.5,71.9 122.6,71.5 122.8,71.0 122.9,70.8 123.0,70.4 123.2,70.0 123.3,69.7 123.4,69.2 123.4,68.8 123.5,68.2 123.5,67.8 123.6,67.5 123.6,67.0 123.7,66.5 123.8,66.1 123.9,65.8 124.0,65.2 124.1,65.0 124.3,64.5 124.4,64.2 124.6,64.0 124.7,63.5 124.8,63.2 124.9,62.8 125.0,62.2 125.1,62.0 125.3,61.6 125.5,61.2 125.7,61.0 125.9,60.8 126.1,60.5 126.3,60.2 126.5,59.9 126.8,59.6 127.0,59.3 127.3,59.1 127.5,58.9 127.9,58.8 128.3,58.6 128.8,58.5 129.1,58.4 129.6,58.3 129.8,58.2 130.3,58.1 130.6,58.0 131.1,57.9 131.6,58.0 131.8,58.0 132.3,58.2 132.6,58.3 133.0,58.5 133.3,58.7 133.6,58.9 133.8,59.2 134.1,59.4 134.3,59.7 134.6,59.9 134.8,60.2 135.1,60.4 135.3,60.6 135.6,60.8 135.8,61.0 136.1,61.3 136.3,61.5 136.6,61.8 136.9,62.0 137.3,62.2 137.6,62.3 138.1,62.4 138.2,62.8 138.2,63.2 138.2,63.8 138.1,64.2 138.1,64.8 138.1,65.2 138.1,65.8 138.1,66.2 138.1,66.8 138.0,67.0 137.9,67.5 137.8,67.8 137.6,68.2 137.5,68.5 137.4,69.0 137.4,69.5 137.4,70.0 137.3,70.5 137.3,70.9 137.3,71.2 137.2,71.8 137.1,72.2 137.1,72.7 137.0,73.0 136.9,73.5 137.0,74.0 137.1,74.3 137.3,74.7 137.6,74.9 137.8,75.0 138.3,75.1 138.6,75.0 139.1,74.9 139.6,74.8 139.8,74.7 140.3,74.5 140.6,74.4 140.8,74.2 141.3,74.0 141.6,73.9 142.1,73.8 142.3,73.7 142.8,73.5 143.1,73.4 143.4,73.2 143.8,73.0 144.1,72.9 144.6,72.8 145.1,72.9 145.5,73.0 145.8,73.1 146.2,73.2 146.6,73.3 147.1,73.4 147.3,73.5 147.8,73.7 148.1,73.9 148.3,74.1 148.6,74.3 148.9,74.5 149.3,74.7 149.6,74.8 150.1,74.8 150.6,74.8 150.8,74.7 151.3,74.6 151.7,74.5 152.1,74.4 152.4,74.2 152.8,74.0 153.1,73.9 153.4,73.8 153.8,73.5 154.1,73.4 154.4,73.2 154.8,73.1 155.1,73.0 155.6,72.9 156.1,72.8 156.3,72.7 156.8,72.6 157.3,72.6 157.8,72.5 158.1,72.5 158.6,72.4 159.1,72.3 159.4,72.2 159.8,72.2 160.3,72.1 160.8,72.0 161.2,72.0 161.6,72.0 162.1,71.9 162.6,71.9 163.1,71.8 163.6,71.8 164.1,71.8 164.6,71.8 165.1,71.9 165.5,72.0 165.8,72.1 166.3,72.2 166.6,72.3 167.1,72.4 167.6,72.4 168.1,72.4 168.6,72.4 169.1,72.5 169.4,72.5 169.8,72.6 170.3,72.7 170.6,72.8 171.1,72.9 171.6,73.0 171.8,73.0 172.3,73.1 172.8,73.2 173.3,73.2 173.6,73.3 174.1,73.4 174.4,73.5 174.8,73.6 175.1,73.8 175.6,74.0 175.8,74.1 176.1,74.3 176.3,74.6 176.5,75.0 176.6,75.2 176.8,75.7 177.0,76.0 177.1,76.2 177.3,76.5 177.6,76.8 177.9,77.0 178.2,77.2 178.6,77.5 178.8,77.7 179.0,78.0 179.1,78.3 179.1,78.8 179.1,79.2 179.0,79.5 178.8,80.0 178.7,80.2 178.6,80.5 178.3,80.9 178.1,81.2 177.8,81.5 177.6,81.8 177.5,82.0 177.3,82.3 177.1,82.7 176.8,83.0 176.7,83.2 176.5,83.5 176.2,83.8 176.0,84.0 175.6,84.2 175.3,84.4 175.1,84.5 174.7,84.8 174.4,85.0 174.1,85.2 173.9,85.5 173.7,85.8 173.4,86.0 173.1,86.2 172.8,86.4 172.3,86.5 172.1,86.5 171.6,86.6 171.1,86.6 170.6,86.7 170.3,86.8 169.8,86.9 169.3,87.0 169.0,87.0 168.6,87.1 168.1,87.2 167.8,87.3 167.3,87.4 166.8,87.5 166.6,87.5 166.1,87.6 165.6,87.6 165.1,87.6 164.6,87.6 164.1,87.6 163.6,87.6 163.1,87.6 162.6,87.7 162.1,87.7 161.6,87.7 161.1,87.7 160.6,87.6 160.1,87.6 159.6,87.6 159.1,87.6 158.6,87.5 158.3,87.4 157.8,87.3 157.6,87.2 157.1,87.1 156.8,87.0 156.3,86.9 155.8,86.8 155.6,86.7 155.1,86.7 154.6,86.6 154.1,86.5 153.8,86.5 153.3,86.3 153.0,86.2 152.6,86.1 152.2,86.0 151.8,85.9 151.5,85.8 151.1,85.6 150.8,85.5 150.3,85.3 150.1,85.2 149.7,85.0 149.4,84.8 149.1,84.5 148.8,84.3 148.6,84.1 148.3,83.9 148.0,83.8 147.6,83.6 147.3,83.5 146.8,83.3 146.6,83.2 146.1,83.1 145.8,83.0 145.3,83.0 144.8,83.0 144.6,83.0 144.1,83.1 143.6,83.1 143.1,83.2 142.6,83.2 142.3,83.3 142.0,83.5 141.7,83.8 141.6,84.2 141.6,84.8 141.8,85.1 142.1,85.4 142.3,85.6 142.6,85.8 143.0,86.0 143.3,86.2 143.6,86.4 143.8,86.6 144.1,86.9 144.3,87.1 144.6,87.4 144.8,87.7 145.1,87.9 145.3,88.1 145.7,88.2 146.1,88.3 146.6,88.5 146.8,88.6 147.3,88.8 147.6,88.9 147.8,89.1 148.1,89.4 148.3,89.8 148.4,90.0 148.6,90.2 148.8,90.5 149.1,90.8 149.3,91.2 149.5,91.5 149.6,91.8 149.8,92.1 149.9,92.5 150.1,92.9 150.2,93.2 150.3,93.6 150.6,94.0 150.8,94.2 151.1,94.3 151.6,94.4 152.1,94.5 152.6,94.4 153.1,94.4 153.6,94.3 153.9,94.2 154.3,94.2 154.8,94.1 155.3,94.0 155.6,94.0 156.1,93.9 156.6,93.9 157.1,93.8 157.3,93.7 157.8,93.6 158.1,93.5 158.6,93.4 159.1,93.3 159.3,93.2 159.8,93.1 160.3,93.0 160.6,93.0 161.1,92.9 161.6,92.9 162.1,92.8 162.6,92.8 163.0,92.8 163.3,92.7 163.8,92.6 164.3,92.6 164.8,92.5 165.1,92.5 165.6,92.4 166.1,92.4 166.6,92.3 167.1,92.3 167.6,92.3 168.1,92.3 168.6,92.3 168.8,92.2 169.3,92.2 169.8,92.2 170.1,92.3 170.6,92.4 170.8,92.5 171.3,92.6 171.8,92.6 172.3,92.7 172.8,92.8 173.1,92.8 173.6,93.0 173.8,93.1 174.2,93.2 174.6,93.3 175.1,93.5 175.3,93.5 175.8,93.7 176.1,93.8 176.4,94.0 176.8,94.2 177.1,94.4 177.3,94.5 177.8,94.8 178.1,95.0 178.3,95.2 178.4,95.5 178.6,95.8 178.7,96.2 178.8,96.5 178.9,97.0 178.9,97.5 178.8,97.8 178.6,98.2 178.3,98.4 178.1,98.6 177.7,98.8 177.3,99.0 177.1,99.1 176.8,99.3 176.5,99.5 176.1,99.7 175.8,99.9 175.6,100.0 175.1,100.2 174.8,100.4 174.6,100.5 174.1,100.8 173.8,100.9 173.6,101.1 173.2,101.2 172.8,101.5 172.6,101.6 172.2,101.8 171.8,101.9 171.5,102.0 171.1,102.1 170.6,102.2 170.2,102.2 169.8,102.4 169.3,102.5 169.1,102.6 168.6,102.7 168.3,102.8 167.8,102.9 167.3,102.9 166.9,103.0 166.6,103.1 166.1,103.2 165.8,103.2 165.3,103.4 165.0,103.5 164.6,103.6 164.1,103.7 163.6,103.7 163.1,103.6 162.6,103.6 162.1,103.6 161.6,103.6 161.1,103.7 160.8,103.8 160.3,103.8 159.8,103.9 159.3,103.9 158.8,103.9 158.3,103.9 157.8,104.0 157.6,104.0 157.1,104.1 156.6,104.1 156.1,104.1 155.6,104.1 155.1,104.0 154.8,103.9 154.3,103.9 153.8,103.8 153.3,103.8 152.8,103.8 152.6,103.7 152.1,103.7 151.6,103.6 151.1,103.5 150.8,103.5 150.3,103.3 150.1,103.2 149.8,103.0 149.4,102.8 149.1,102.6 148.8,102.5 148.3,102.3 148.1,102.2 147.6,102.0 147.3,101.9 147.0,101.8 146.6,101.5 146.4,101.2 146.2,101.0 146.1,100.7 145.8,100.2 145.7,100.0 145.6,99.6 145.4,99.2 145.3,98.8 145.2,98.5 145.1,98.1 144.8,97.8 144.6,97.5 144.3,97.3 144.1,97.1 143.8,96.8 143.6,96.6 143.3,96.4 143.1,96.2 142.7,96.0 142.3,95.8 142.1,95.7 141.6,95.5 141.3,95.4 141.0,95.2 140.6,95.1 140.3,95.0 139.8,94.9 139.3,95.0 139.1,95.1 138.7,95.2 138.3,95.5 138.1,95.7 137.8,95.8 137.5,96.0 137.1,96.2 136.8,96.4 136.5,96.5 136.1,96.7 135.8,96.8 135.3,97.0 135.1,97.0 134.8,97.0 134.3,96.8 134.1,96.6 133.8,96.4 133.6,96.1 133.3,95.9 133.1,95.7 132.8,95.4 132.6,95.1 132.3,94.8 132.1,94.5 132.0,94.2 131.8,93.9 131.6,93.5 131.4,93.2 131.3,93.0 131.1,92.7 130.8,92.3 130.6,92.0 130.3,91.8 130.1,91.6 129.6,91.7 129.4,92.0 129.2,92.2 129.1,92.8 129.0,93.0 128.9,93.5 128.8,94.0 128.8,94.2 128.7,94.8 128.6,95.2 128.6,95.5 128.5,96.0 128.4,96.5 128.3,96.8 128.2,97.2 128.1,97.8 128.1,98.2 128.0,98.5 127.9,99.0 127.8,99.2 127.8,99.6 128.1,99.8 128.3,99.7 128.8,99.6 129.1,99.5 129.6,99.3 129.8,99.2 130.3,99.0 130.6,99.0 131.1,98.8 131.4,98.8 131.8,98.7 132.3,98.6 132.8,98.5 133.3,98.5 133.7,98.5 134.1,98.5 134.6,98.5 134.9,98.5 135.3,98.5 135.8,98.7 136.1,98.8 136.6,99.0 136.8,99.0 137.3,99.2 137.6,99.3 137.9,99.5 138.3,99.7 138.6,99.8 138.8,100.0 139.2,100.2 139.5,100.5 139.8,100.8 140.0,101.0 140.3,101.2 140.5,101.5 140.7,101.8 140.8,102.0 141.0,102.5 141.1,102.8 141.2,103.2 141.3,103.8 141.3,104.2 141.2,104.8 141.1,105.2 141.0,105.5 140.8,105.9 140.6,106.2 140.5,106.5 140.3,106.8 140.1,107.1 139.8,107.4 139.6,107.6 139.3,107.9 139.1,108.2 138.9,108.5 139.1,108.9 139.3,109.1 139.6,109.3 139.8,109.6 140.1,109.8 140.3,110.1 140.5,110.5 140.6,110.8 140.6,111.1 140.3,111.5 140.1,111.7 139.8,111.8 139.5,112.0 139.1,112.2 138.8,112.5 138.6,112.6 138.3,112.8 137.9,113.0 137.6,113.1 137.2,113.2 136.8,113.4 136.4,113.5 136.1,113.6 135.6,113.7 135.2,113.8 134.8,113.8 134.3,113.8 133.8,113.8 133.3,113.9 132.8,114.0 132.4,114.0 132.1,114.1 131.6,114.1 131.1,114.2 130.8,114.3Z" fill="none" stroke="#050505" stroke-width="0.55"/>
<path d="M131.3,113.8 130.8,113.8 130.3,113.9 129.8,113.9 129.3,113.8 129.1,113.7 128.6,113.5 128.3,113.4 128.1,113.2 127.8,113.0 127.5,112.8 127.2,112.5 126.9,112.2 126.5,112.0 126.3,111.9 126.0,111.7 125.7,111.5 125.3,111.3 125.0,111.1 124.8,110.9 124.6,110.5 124.5,110.2 124.5,109.8 124.6,109.5 124.8,109.1 125.0,108.8 125.3,108.5 125.5,108.3 125.8,108.2 126.1,108.0 126.5,107.8 126.6,107.5 126.6,107.0 126.5,106.8 126.3,106.4 126.1,106.0 126.0,105.8 125.8,105.2 125.7,105.0 125.5,104.5 125.4,104.2 125.3,103.8 125.2,103.5 125.0,103.2 124.8,103.0 124.5,102.8 124.3,102.4 124.1,102.0 124.0,101.8 123.8,101.2 123.7,101.0 123.6,100.5 123.5,100.2 123.4,99.8 123.3,99.3 123.2,99.0 123.0,98.5 123.0,98.2 122.8,97.8 122.7,97.5 122.6,97.0 122.5,96.8 122.4,96.2 122.3,95.8 122.3,95.5 122.2,95.0 122.2,94.5 122.1,94.0 122.0,93.7 121.9,93.2 121.8,92.8 121.8,92.3 121.8,92.0 121.8,91.5 121.8,91.0 121.8,90.5 121.7,90.0 121.7,89.5 121.7,89.0 121.7,88.5 121.6,88.0 121.6,87.5 121.6,87.0 121.5,86.7 121.5,86.2 121.5,85.8 121.5,85.2 121.6,85.0 121.6,84.5 121.6,84.0 121.6,83.5 121.6,83.0 121.7,82.5 121.7,82.0 121.7,81.5 121.7,81.0 121.7,80.5 121.7,80.0 121.7,79.5 121.8,79.0 121.8,78.5 121.8,78.2 121.9,77.8 121.9,77.2 121.9,76.8 122.0,76.2 122.0,76.0 122.1,75.5 122.2,75.0 122.3,74.7 122.4,74.2 122.4,73.8 122.5,73.2 122.6,73.0 122.6,72.5 122.8,72.0 122.8,71.8 123.0,71.2 123.1,71.0 123.3,70.6 123.5,70.2 123.6,70.0 123.7,69.5 123.8,69.0 123.8,68.8 123.9,68.2 123.9,67.8 124.0,67.2 124.0,66.8 124.1,66.5 124.2,66.0 124.3,65.5 124.4,65.2 124.5,64.9 124.8,64.5 124.9,64.2 125.0,64.0 125.2,63.5 125.3,63.2 125.4,62.8 125.5,62.2 125.6,62.0 125.8,61.7 126.0,61.4 126.3,61.0 126.5,60.8 126.6,60.5 126.8,60.2 127.0,60.0 127.3,59.7 127.6,59.5 128.0,59.2 128.3,59.1 128.8,59.0 129.1,59.0 129.6,58.8 129.8,58.7 130.3,58.6 130.6,58.5 131.1,58.4 131.6,58.4 131.8,58.5 132.3,58.7 132.6,58.8 132.9,59.0 133.2,59.2 133.5,59.5 133.7,59.8 134.0,60.0 134.3,60.2 134.6,60.5 134.8,60.7 135.1,60.9 135.3,61.1 135.6,61.4 135.8,61.7 136.0,62.0 136.1,62.2 136.3,62.7 136.4,63.0 136.6,63.3 136.8,63.6 137.0,64.0 137.2,64.2 137.3,64.6 137.4,65.0 137.5,65.5 137.6,65.8 137.6,66.2 137.6,66.8 137.5,67.0 137.4,67.5 137.2,67.8 137.1,68.2 137.0,68.5 136.9,69.0 136.9,69.5 136.9,70.0 136.9,70.5 136.9,71.0 136.8,71.5 136.8,71.8 136.7,72.2 136.6,72.8 136.5,73.0 136.4,73.5 136.4,74.0 136.5,74.5 136.6,74.8 136.8,75.2 137.0,75.5 137.2,75.8 137.6,76.0 137.8,76.0 138.1,76.0 138.6,75.9 138.8,75.8 139.3,75.6 139.6,75.5 140.1,75.3 140.3,75.1 140.6,75.0 140.9,74.8 141.3,74.5 141.6,74.4 142.0,74.2 142.3,74.2 142.8,74.1 143.1,74.0 143.6,73.8 143.8,73.7 144.3,73.5 144.6,73.4 145.1,73.5 145.3,73.5 145.8,73.7 146.1,73.8 146.6,74.0 146.8,74.0 147.3,74.2 147.6,74.3 147.9,74.5 148.3,74.8 148.6,74.9 148.8,75.0 149.3,75.2 149.8,75.2 150.3,75.2 150.8,75.1 151.2,75.0 151.6,74.9 152.0,74.8 152.3,74.6 152.6,74.5 153.1,74.3 153.3,74.1 153.6,74.0 154.1,73.8 154.3,73.6 154.6,73.5 155.1,73.4 155.4,73.2 155.8,73.2 156.3,73.0 156.6,73.0 157.1,72.9 157.6,72.8 158.1,72.8 158.3,72.7 158.8,72.6 159.3,72.5 159.6,72.5 160.1,72.4 160.6,72.4 161.1,72.3 161.6,72.3 161.8,72.2 162.3,72.2 162.8,72.2 163.3,72.2 163.8,72.1 164.3,72.1 164.8,72.2 165.1,72.2 165.6,72.4 165.9,72.5 166.3,72.6 166.8,72.7 167.3,72.7 167.8,72.7 168.1,72.8 168.6,72.8 169.1,72.8 169.6,72.9 170.0,73.0 170.3,73.1 170.8,73.2 171.1,73.3 171.6,73.4 171.8,73.5 172.3,73.6 172.8,73.7 173.1,73.8 173.6,73.9 174.0,74.0 174.3,74.1 174.8,74.2 175.1,74.4 175.3,74.5 175.6,74.8 175.9,75.0 176.1,75.3 176.2,75.8 176.3,76.0 176.6,76.4 176.8,76.8 177.0,77.0 177.2,77.2 177.5,77.5 177.7,77.8 178.0,78.0 178.1,78.2 178.3,78.6 178.4,79.0 178.3,79.5 178.3,79.8 178.1,80.2 177.9,80.5 177.8,80.8 177.6,81.1 177.3,81.4 177.1,81.8 176.9,82.0 176.7,82.2 176.6,82.5 176.3,82.9 176.1,83.2 175.8,83.5 175.6,83.7 175.3,83.9 175.1,84.0 174.7,84.2 174.3,84.5 174.1,84.7 173.8,84.9 173.6,85.2 173.3,85.5 173.1,85.7 172.8,85.9 172.5,86.0 172.1,86.1 171.6,86.2 171.1,86.2 170.6,86.2 170.3,86.3 169.8,86.4 169.3,86.4 168.9,86.5 168.6,86.6 168.1,86.8 167.8,86.8 167.3,87.0 167.1,87.0 166.6,87.1 166.1,87.2 165.6,87.2 165.3,87.3 164.8,87.3 164.3,87.3 164.1,87.2 163.6,87.2 163.2,87.2 162.8,87.3 162.3,87.4 161.8,87.4 161.3,87.4 160.8,87.3 160.3,87.3 159.8,87.3 159.3,87.3 159.1,87.2 158.6,87.2 158.1,87.0 157.8,87.0 157.3,86.8 157.1,86.7 156.6,86.6 156.2,86.5 155.8,86.4 155.3,86.4 154.8,86.3 154.5,86.2 154.1,86.2 153.6,86.0 153.3,85.9 152.8,85.8 152.6,85.7 152.1,85.5 151.8,85.4 151.4,85.2 151.1,85.1 150.8,85.0 150.3,84.8 150.1,84.6 149.8,84.4 149.6,84.2 149.3,84.0 149.1,83.7 148.7,83.5 148.4,83.2 148.1,83.1 147.8,83.0 147.3,82.8 147.1,82.7 146.6,82.5 146.3,82.4 145.8,82.4 145.3,82.4 144.8,82.5 144.6,82.5 144.1,82.6 143.6,82.6 143.1,82.5 142.8,82.5 142.3,82.5 141.9,82.5 141.6,82.6 141.3,82.8 141.1,83.0 140.8,83.5 140.7,83.8 140.7,84.2 140.8,84.8 140.8,85.0 141.0,85.5 141.1,85.8 141.3,86.2 141.5,86.5 141.8,86.8 142.1,86.9 142.3,87.0 142.8,87.2 143.1,87.3 143.3,87.5 143.6,87.8 143.9,88.0 144.2,88.2 144.4,88.5 144.8,88.8 145.1,88.9 145.3,89.0 145.8,89.2 146.1,89.3 146.6,89.5 146.8,89.7 147.1,90.0 147.2,90.2 147.3,90.5 147.6,90.8 147.8,91.0 148.1,91.2 148.4,91.5 148.6,91.8 148.8,92.0 149.0,92.5 149.1,92.8 149.2,93.2 149.2,93.8 149.1,94.2 148.9,94.5 148.8,94.8 148.5,95.0 148.6,95.3 148.8,95.2 149.3,95.1 149.8,95.1 150.3,95.2 150.8,95.2 151.3,95.2 151.8,95.1 152.3,95.0 152.6,95.0 153.1,94.9 153.6,94.8 154.0,94.8 154.3,94.7 154.8,94.6 155.2,94.5 155.6,94.4 156.1,94.4 156.6,94.4 157.1,94.3 157.3,94.2 157.8,94.0 158.1,93.9 158.6,93.8 158.8,93.7 159.3,93.7 159.8,93.6 160.3,93.6 160.8,93.6 161.2,93.5 161.6,93.4 162.1,93.4 162.6,93.3 162.8,93.2 163.3,93.2 163.8,93.1 164.3,93.0 164.6,93.0 165.1,92.9 165.6,92.9 166.1,92.9 166.6,92.9 167.1,92.9 167.6,92.9 168.1,92.9 168.6,92.8 169.1,92.8 169.6,92.8 170.1,92.9 170.4,93.0 170.8,93.1 171.3,93.2 171.6,93.3 172.1,93.4 172.6,93.5 172.8,93.5 173.3,93.7 173.6,93.9 173.8,94.0 174.3,94.2 174.6,94.2 175.1,94.4 175.4,94.5 175.8,94.8 176.0,95.0 176.2,95.2 176.4,95.5 176.6,95.8 176.8,96.0 177.1,96.3 177.3,96.8 177.3,97.0 177.3,97.4 177.1,97.8 176.9,98.0 176.7,98.2 176.4,98.5 176.1,98.7 175.8,98.9 175.6,99.1 175.3,99.2 174.9,99.5 174.6,99.8 174.3,100.0 174.1,100.2 173.8,100.3 173.6,100.5 173.2,100.8 172.8,100.9 172.6,101.1 172.1,101.2 171.8,101.4 171.3,101.5 171.1,101.6 170.6,101.6 170.1,101.7 169.8,101.8 169.3,102.0 169.1,102.1 168.6,102.2 168.3,102.3 167.8,102.4 167.4,102.5 167.1,102.6 166.6,102.7 166.3,102.8 165.8,102.9 165.4,103.0 165.1,103.1 164.6,103.2 164.2,103.2 163.8,103.3 163.6,103.2 163.1,103.2 162.6,103.2 162.1,103.2 161.6,103.2 161.3,103.3 160.8,103.4 160.3,103.5 159.8,103.5 159.3,103.5 158.8,103.4 158.3,103.4 157.8,103.4 157.3,103.4 156.8,103.5 156.6,103.5 156.1,103.6 155.6,103.5 155.1,103.5 154.8,103.5 154.3,103.4 153.8,103.4 153.3,103.4 152.8,103.3 152.4,103.2 152.1,103.2 151.6,103.1 151.1,103.0 150.8,102.9 150.4,102.8 150.1,102.5 149.8,102.4 149.6,102.2 149.1,102.0 148.8,101.9 148.5,101.8 148.1,101.6 147.8,101.5 147.4,101.2 147.2,101.0 147.0,100.8 146.9,100.2 146.8,100.0 146.6,99.5 146.5,99.2 146.3,98.8 146.2,98.5 146.1,98.0 145.9,97.8 145.8,97.5 145.6,97.1 145.3,96.8 145.1,96.6 144.8,96.4 144.6,96.2 144.3,96.0 143.8,95.8 143.6,95.7 143.2,95.5 142.8,95.4 142.5,95.2 142.1,95.1 141.8,94.9 141.4,94.8 141.1,94.6 140.8,94.4 140.5,94.2 140.1,94.0 139.8,93.9 139.3,94.0 139.1,94.2 138.8,94.4 138.6,94.6 138.3,94.8 138.1,95.0 137.8,95.2 137.4,95.5 137.1,95.7 136.8,95.8 136.3,96.0 136.1,96.1 135.6,96.2 135.3,96.2 134.8,96.3 134.6,96.2 134.2,96.0 133.8,95.8 133.6,95.5 133.3,95.3 133.1,95.0 132.8,94.8 132.6,94.5 132.4,94.2 132.3,94.0 132.1,93.7 131.8,93.3 131.7,93.0 131.5,92.8 131.3,92.3 131.1,92.0 131.0,91.8 130.8,91.5 130.6,91.1 130.3,90.8 130.1,90.6 129.7,90.8 129.5,91.0 129.3,91.4 129.1,91.8 129.0,92.0 128.9,92.5 128.8,92.8 128.7,93.2 128.6,93.8 128.6,94.2 128.5,94.5 128.4,95.0 128.3,95.5 128.3,95.8 128.2,96.2 128.1,96.8 128.0,97.0 127.9,97.5 127.8,98.0 127.8,98.2 127.6,98.8 127.5,99.1 127.4,99.5 127.3,100.0 127.8,100.1 128.1,100.0 128.6,99.8 128.8,99.7 129.3,99.5 129.6,99.4 130.0,99.2 130.3,99.1 130.8,99.0 131.1,98.9 131.6,98.8 132.0,98.8 132.3,98.7 132.8,98.6 133.3,98.6 133.8,98.6 134.3,98.6 134.8,98.6 135.3,98.7 135.6,98.8 136.1,98.9 136.3,99.0 136.8,99.2 137.1,99.3 137.6,99.5 137.8,99.6 138.1,99.8 138.6,100.0 138.8,100.1 139.1,100.3 139.3,100.5 139.6,100.8 139.9,101.0 140.1,101.2 140.3,101.5 140.6,101.8 140.8,102.2 140.9,102.5 141.0,103.0 141.1,103.2 141.1,103.8 141.1,104.2 141.1,104.7 141.0,105.0 140.8,105.5 140.7,105.8 140.6,106.1 140.3,106.5 140.1,106.8 139.9,107.0 139.7,107.2 139.5,107.5 139.2,107.8 138.9,108.0 138.7,108.2 138.5,108.5 138.5,109.0 138.7,109.2 139.0,109.5 139.2,109.8 139.4,110.0 139.6,110.4 139.6,110.8 139.5,111.0 139.3,111.3 139.1,111.6 138.8,111.8 138.5,112.0 138.1,112.2 137.8,112.4 137.6,112.5 137.1,112.8 136.8,112.9 136.6,113.0 136.1,113.2 135.8,113.3 135.3,113.4 134.8,113.5 134.3,113.5 133.8,113.5 133.6,113.5 133.1,113.6 132.6,113.6 132.1,113.7 131.6,113.7 131.3,113.8Z" fill="none" stroke="#050505" stroke-width="0.55"/>
<path d="M131.3,113.3 130.8,113.3 130.3,113.4 129.8,113.4 129.3,113.3 129.1,113.2 128.6,113.0 128.3,112.8 128.1,112.6 127.8,112.3 127.5,112.1 127.3,111.9 127.0,111.7 126.8,111.5 126.5,111.2 126.1,111.0 125.8,110.8 125.5,110.5 125.4,110.2 125.3,110.0 125.3,109.7 125.5,109.2 125.8,109.0 126.0,108.8 126.3,108.7 126.6,108.5 127.0,108.3 127.3,108.0 127.1,107.5 127.0,107.2 126.8,107.0 126.6,106.5 126.4,106.2 126.3,106.0 126.1,105.5 126.0,105.2 125.8,104.8 125.8,104.5 125.6,104.0 125.6,103.5 125.5,103.2 125.4,102.8 125.3,102.4 125.0,102.2 124.7,102.0 124.5,101.8 124.3,101.4 124.1,101.0 124.0,100.7 123.9,100.2 123.8,99.9 123.7,99.5 123.5,99.2 123.4,98.8 123.3,98.4 123.2,98.0 123.0,97.7 122.9,97.2 122.8,97.0 122.7,96.5 122.6,96.0 122.5,95.8 122.5,95.2 122.4,94.8 122.4,94.2 122.3,93.9 122.2,93.5 122.1,93.0 122.0,92.7 122.0,92.2 121.9,91.8 121.9,91.2 121.9,90.8 121.9,90.2 121.9,89.8 121.9,89.2 121.8,88.8 121.8,88.2 121.8,87.9 121.8,87.5 121.7,87.0 121.7,86.5 121.7,86.0 121.7,85.5 121.7,85.0 121.7,84.5 121.8,84.0 121.8,83.5 121.8,83.2 121.8,82.8 121.9,82.2 121.9,81.8 121.9,81.2 121.9,80.8 121.9,80.2 121.9,79.8 121.9,79.2 122.0,78.8 122.0,78.2 122.0,77.8 122.1,77.5 122.1,77.0 122.2,76.5 122.3,76.0 122.3,75.8 122.4,75.2 122.5,74.8 122.6,74.5 122.6,74.0 122.7,73.5 122.8,73.0 122.8,72.8 122.9,72.2 123.0,71.9 123.2,71.5 123.3,71.2 123.5,70.8 123.7,70.5 123.9,70.2 124.0,69.9 124.2,69.5 124.2,69.0 124.2,68.5 124.3,68.0 124.3,67.8 124.4,67.2 124.4,66.8 124.5,66.2 124.6,66.0 124.7,65.5 124.8,65.2 125.0,64.8 125.3,64.5 125.4,64.2 125.6,64.0 125.8,63.6 125.9,63.2 126.0,63.0 126.2,62.5 126.3,62.2 126.5,61.8 126.7,61.5 126.8,61.2 127.0,60.8 127.3,60.5 127.5,60.2 127.7,60.0 128.1,59.8 128.3,59.7 128.8,59.5 129.1,59.5 129.6,59.4 130.1,59.3 130.3,59.2 130.8,59.0 131.1,59.0 131.6,59.0 131.8,59.0 132.3,59.2 132.6,59.4 132.8,59.6 133.1,59.8 133.3,60.0 133.6,60.2 133.9,60.5 134.2,60.8 134.5,61.0 134.8,61.2 135.0,61.5 135.2,61.8 135.4,62.0 135.5,62.5 135.6,62.8 135.7,63.2 135.8,63.7 135.9,64.0 136.1,64.2 136.3,64.5 136.6,64.8 136.8,65.2 136.9,65.5 137.0,66.0 137.1,66.2 137.1,66.8 137.0,67.0 136.8,67.5 136.7,67.8 136.6,68.2 136.5,68.5 136.5,69.0 136.5,69.5 136.5,70.0 136.5,70.5 136.5,71.0 136.4,71.5 136.3,72.0 136.3,72.2 136.1,72.8 136.1,73.0 135.9,73.5 135.9,74.0 135.9,74.5 136.0,75.0 136.1,75.2 136.2,75.8 136.3,76.0 136.6,76.4 136.8,76.8 137.0,77.0 137.3,77.2 137.6,77.3 138.0,77.5 138.1,77.5 138.6,77.4 138.8,77.2 139.1,77.0 139.5,76.8 139.8,76.5 140.1,76.3 140.3,76.1 140.6,75.8 140.8,75.6 141.1,75.3 141.3,75.1 141.6,75.0 142.0,74.8 142.3,74.7 142.8,74.6 143.2,74.5 143.6,74.4 143.9,74.2 144.3,74.1 144.8,74.0 145.3,74.1 145.8,74.2 146.1,74.3 146.4,74.5 146.8,74.7 147.1,74.8 147.3,75.0 147.8,75.2 148.1,75.4 148.3,75.5 148.8,75.7 149.3,75.7 149.8,75.7 150.3,75.6 150.6,75.5 151.1,75.4 151.5,75.2 151.8,75.2 152.3,75.0 152.6,74.9 152.9,74.8 153.3,74.5 153.6,74.4 153.8,74.2 154.3,74.0 154.6,73.9 155.0,73.8 155.3,73.6 155.8,73.5 156.1,73.4 156.6,73.3 156.9,73.2 157.3,73.2 157.8,73.1 158.3,73.0 158.6,73.0 159.1,72.9 159.6,72.8 159.8,72.7 160.3,72.7 160.8,72.6 161.3,72.6 161.8,72.6 162.3,72.5 162.8,72.5 163.2,72.5 163.6,72.5 164.1,72.5 164.6,72.5 164.8,72.5 165.3,72.6 165.7,72.8 166.1,72.8 166.6,72.9 167.0,73.0 167.3,73.0 167.8,73.1 168.3,73.1 168.8,73.2 169.2,73.2 169.6,73.3 170.1,73.4 170.4,73.5 170.8,73.6 171.1,73.8 171.6,73.9 171.9,74.0 172.3,74.1 172.7,74.2 173.1,74.3 173.6,74.5 173.8,74.6 174.3,74.7 174.6,74.8 174.9,75.0 175.2,75.2 175.4,75.5 175.6,75.8 175.8,76.2 176.0,76.5 176.1,76.8 176.3,77.0 176.6,77.3 176.8,77.6 177.1,77.9 177.3,78.2 177.5,78.5 177.6,78.8 177.6,79.2 177.6,79.8 177.5,80.0 177.3,80.5 177.2,80.8 177.0,81.0 176.8,81.4 176.6,81.7 176.3,82.0 176.2,82.2 176.0,82.5 175.8,82.8 175.6,83.0 175.3,83.3 175.0,83.5 174.7,83.8 174.3,84.0 174.1,84.1 173.8,84.3 173.6,84.5 173.3,84.8 173.1,85.0 172.8,85.3 172.5,85.5 172.1,85.7 171.6,85.8 171.3,85.8 170.8,85.8 170.3,85.9 169.8,85.9 169.3,85.9 169.0,86.0 168.6,86.1 168.1,86.2 167.8,86.4 167.4,86.5 167.1,86.6 166.6,86.7 166.3,86.8 165.8,86.9 165.3,86.9 164.8,86.9 164.3,86.9 163.8,86.9 163.3,86.9 162.8,87.0 162.5,87.0 162.1,87.1 161.6,87.1 161.1,87.0 160.8,87.0 160.3,87.0 159.8,87.0 159.3,86.9 158.8,86.9 158.3,86.8 158.1,86.7 157.6,86.6 157.3,86.5 156.8,86.3 156.6,86.2 156.1,86.1 155.6,86.0 155.2,86.0 154.8,86.0 154.3,85.8 154.0,85.8 153.6,85.6 153.3,85.5 152.8,85.3 152.6,85.2 152.1,85.1 151.8,85.0 151.3,84.8 151.1,84.6 150.8,84.5 150.4,84.2 150.1,84.0 149.8,83.8 149.6,83.5 149.3,83.2 149.1,83.0 148.8,82.8 148.6,82.5 148.3,82.4 148.0,82.2 147.6,82.1 147.3,82.0 146.8,81.8 146.6,81.7 146.1,81.7 145.6,81.7 145.3,81.8 144.8,81.9 144.4,82.0 144.1,82.0 143.6,82.0 143.3,82.0 142.8,81.8 142.6,81.7 142.2,81.5 141.8,81.3 141.6,81.2 141.2,81.0 140.8,80.9 140.6,81.2 140.5,81.5 140.4,82.0 140.3,82.5 140.2,82.8 140.1,83.2 140.1,83.8 140.1,84.2 140.2,84.8 140.3,85.2 140.4,85.5 140.5,86.0 140.6,86.3 140.7,86.8 140.8,87.1 141.0,87.5 141.2,87.8 141.6,88.0 141.8,88.1 142.2,88.2 142.6,88.4 142.8,88.6 143.1,88.8 143.3,89.1 143.6,89.4 143.8,89.7 144.1,89.9 144.3,90.1 144.6,90.3 144.9,90.5 145.1,90.8 145.4,91.0 145.6,91.2 145.8,91.5 146.1,91.8 146.4,92.0 146.7,92.2 147.0,92.5 147.3,92.8 147.5,93.0 147.4,93.5 147.3,93.8 147.1,94.1 146.8,94.3 146.5,94.5 146.1,94.8 145.8,94.9 145.4,95.0 145.1,95.0 144.6,95.0 144.3,95.0 143.8,94.9 143.3,94.9 142.8,94.8 142.6,94.7 142.1,94.5 141.8,94.3 141.6,94.2 141.3,94.0 140.9,93.8 140.7,93.5 140.4,93.2 140.1,93.0 139.8,92.9 139.3,93.0 139.1,93.2 138.8,93.4 138.6,93.7 138.4,94.0 138.1,94.2 137.9,94.5 137.6,94.8 137.3,95.0 137.1,95.1 136.8,95.2 136.3,95.4 135.8,95.5 135.6,95.5 135.1,95.6 134.7,95.5 134.3,95.4 134.1,95.2 133.7,95.0 133.4,94.8 133.2,94.5 132.9,94.2 132.7,94.0 132.5,93.8 132.3,93.4 132.1,93.0 131.9,92.8 131.8,92.5 131.6,92.0 131.5,91.8 131.3,91.3 131.1,91.0 131.1,90.7 130.9,90.2 130.8,89.9 130.6,89.5 130.5,89.2 130.2,89.0 129.8,89.0 129.6,89.2 129.5,89.5 129.3,90.0 129.3,90.2 129.2,90.8 129.1,91.1 128.9,91.5 128.8,91.9 128.7,92.2 128.6,92.8 128.5,93.0 128.5,93.5 128.4,94.0 128.3,94.5 128.3,94.8 128.2,95.2 128.1,95.7 128.0,96.0 127.8,96.5 127.8,96.8 127.7,97.2 127.6,97.8 127.5,98.0 127.4,98.5 127.3,98.8 127.1,99.2 127.0,99.5 126.8,99.9 126.6,100.2 126.5,100.5 126.5,100.8 127.0,100.8 127.3,100.6 127.5,100.5 128.0,100.2 128.3,100.1 128.6,100.0 129.0,99.8 129.3,99.6 129.6,99.5 130.1,99.3 130.3,99.2 130.8,99.1 131.2,99.0 131.6,98.9 132.1,98.8 132.6,98.8 133.1,98.8 133.3,98.7 133.8,98.7 134.3,98.7 134.8,98.8 135.1,98.8 135.6,98.9 135.9,99.0 136.3,99.1 136.7,99.2 137.1,99.4 137.3,99.5 137.8,99.7 138.1,99.8 138.4,100.0 138.8,100.2 139.1,100.5 139.3,100.7 139.6,100.9 139.8,101.1 140.1,101.4 140.3,101.7 140.5,102.0 140.6,102.2 140.8,102.7 140.9,103.0 141.0,103.5 141.0,104.0 141.0,104.5 140.9,105.0 140.8,105.2 140.6,105.8 140.5,106.0 140.3,106.3 140.1,106.6 139.8,106.9 139.6,107.2 139.3,107.5 139.1,107.7 138.8,107.9 138.6,108.1 138.3,108.3 138.1,108.5 137.8,108.8 137.8,109.2 138.1,109.4 138.3,109.6 138.6,109.9 138.7,110.2 138.7,110.8 138.6,111.1 138.3,111.3 138.0,111.5 137.6,111.8 137.3,111.9 137.1,112.0 136.7,112.2 136.4,112.5 136.1,112.7 135.8,112.9 135.4,113.0 135.1,113.1 134.6,113.1 134.1,113.1 133.6,113.2 133.1,113.2 132.6,113.2 132.1,113.2 131.6,113.2 131.3,113.3Z" fill="none" stroke="#050505" stroke-width="0.55"/>
<path d="M160.6,103.0 160.1,103.1 159.6,103.0 159.3,103.0 158.8,102.9 158.3,102.8 158.1,102.7 157.6,102.7 157.1,102.7 156.7,102.8 156.3,102.8 155.8,102.9 155.3,102.9 154.8,102.9 154.3,103.0 153.8,103.0 153.3,102.9 152.8,102.8 152.5,102.8 152.1,102.6 151.6,102.5 151.3,102.4 150.8,102.3 150.6,102.1 150.3,102.0 150.0,101.8 149.6,101.5 149.3,101.2 149.1,101.0 148.8,100.8 148.7,100.5 148.8,100.2 149.1,99.8 149.2,99.5 149.2,99.0 149.0,98.8 148.6,98.7 148.1,98.7 147.6,98.5 147.3,98.3 147.1,98.0 147.0,97.8 147.0,97.2 147.2,97.0 147.6,96.9 147.8,97.0 148.3,97.2 148.6,97.3 149.1,97.4 149.6,97.3 149.8,97.1 150.1,96.9 150.3,96.7 150.6,96.5 151.1,96.3 151.3,96.1 151.7,96.0 152.1,95.9 152.6,95.8 152.8,95.7 153.3,95.6 153.6,95.5 154.1,95.3 154.3,95.2 154.8,95.1 155.3,95.0 155.6,95.0 156.1,94.9 156.6,94.9 157.1,94.8 157.3,94.8 157.8,94.5 158.1,94.4 158.5,94.2 158.8,94.2 159.3,94.1 159.8,94.2 160.3,94.2 160.6,94.3 160.8,94.2 161.3,94.1 161.8,94.0 162.1,93.9 162.6,93.8 162.8,93.7 163.3,93.6 163.8,93.6 164.1,93.5 164.6,93.5 165.1,93.4 165.6,93.5 166.1,93.5 166.6,93.5 167.1,93.5 167.6,93.5 168.1,93.4 168.6,93.3 169.1,93.3 169.6,93.3 170.1,93.4 170.3,93.6 170.7,93.8 171.1,93.9 171.3,94.1 171.8,94.2 172.1,94.3 172.6,94.4 172.9,94.5 173.3,94.7 173.6,94.8 174.0,95.0 174.3,95.2 174.6,95.3 174.8,95.5 175.1,95.9 175.2,96.2 175.3,96.7 175.4,97.0 175.4,97.5 175.3,98.0 175.1,98.2 174.9,98.5 174.7,98.8 174.5,99.0 174.2,99.2 174.0,99.5 173.7,99.8 173.4,100.0 173.1,100.2 172.8,100.4 172.5,100.5 172.1,100.7 171.8,100.8 171.3,100.9 171.0,101.0 170.6,101.1 170.1,101.2 169.7,101.2 169.3,101.4 169.0,101.5 168.6,101.7 168.3,101.8 167.8,101.9 167.4,102.0 167.1,102.1 166.6,102.2 166.3,102.4 165.8,102.5 165.6,102.6 165.1,102.7 164.7,102.8 164.3,102.8 163.8,102.8 163.3,102.8 162.8,102.8 162.3,102.8 161.8,102.8 161.3,102.9 160.8,103.0 160.6,103.0Z" fill="none" stroke="#050505" stroke-width="0.55"/>
<path d="M125.3,100.7 124.8,100.6 124.5,100.3 124.4,100.0 124.2,99.8 124.0,99.4 123.9,99.0 123.7,98.8 123.6,98.2 123.5,98.0 123.3,97.6 123.2,97.2 123.0,96.9 122.9,96.5 122.8,96.0 122.8,95.8 122.7,95.2 122.6,94.8 122.6,94.2 122.5,94.0 122.4,93.5 122.3,93.0 122.3,92.8 122.2,92.2 122.1,91.8 122.1,91.2 122.1,90.8 122.1,90.2 122.1,89.8 122.1,89.2 122.0,88.9 122.0,88.5 122.0,88.0 121.9,87.5 121.9,87.0 121.9,86.5 121.9,86.0 121.9,85.5 121.9,85.0 121.9,84.5 122.0,84.0 122.0,83.5 122.0,83.0 122.0,82.5 122.0,82.1 122.1,81.8 122.1,81.2 122.1,80.8 122.1,80.2 122.1,79.8 122.1,79.2 122.2,78.8 122.2,78.2 122.3,77.8 122.3,77.4 122.3,77.0 122.4,76.5 122.5,76.0 122.5,75.7 122.7,75.2 122.8,74.8 122.8,74.5 122.9,74.0 123.0,73.5 123.0,73.0 123.1,72.8 123.2,72.2 123.3,72.0 123.5,71.5 123.7,71.2 123.9,71.0 124.1,70.8 124.3,70.4 124.5,70.0 124.6,69.8 124.7,69.2 124.7,68.8 124.7,68.2 124.7,67.8 124.8,67.3 124.8,67.0 124.9,66.5 125.0,66.0 125.1,65.8 125.3,65.2 125.5,65.0 125.6,64.8 125.8,64.5 126.0,64.2 126.3,63.9 126.5,63.6 126.8,63.2 126.9,63.0 127.0,62.7 127.2,62.2 127.3,61.9 127.4,61.5 127.5,61.2 127.8,60.8 128.0,60.5 128.3,60.3 128.6,60.2 129.1,60.1 129.6,60.0 129.8,60.0 130.3,59.9 130.8,59.8 131.1,59.7 131.6,59.7 131.8,59.8 132.3,60.0 132.6,60.2 132.8,60.4 133.1,60.6 133.3,60.8 133.7,61.0 134.0,61.2 134.3,61.5 134.5,61.8 134.7,62.0 134.8,62.3 134.9,62.8 134.9,63.2 135.0,63.8 135.1,64.0 135.3,64.4 135.6,64.7 135.8,65.0 136.0,65.2 136.1,65.5 136.3,65.8 136.5,66.2 136.5,66.8 136.3,67.2 136.2,67.5 136.1,68.0 136.0,68.2 136.0,68.8 136.0,69.2 136.1,69.5 136.1,70.0 136.1,70.5 136.1,71.0 136.0,71.2 136.0,71.8 135.8,72.2 135.8,72.5 135.6,73.0 135.5,73.2 135.3,73.8 135.3,74.0 135.3,74.5 135.3,75.0 135.3,75.3 135.4,75.8 135.5,76.2 135.6,76.5 135.8,77.0 136.0,77.2 136.1,77.5 136.3,77.8 136.6,78.1 136.8,78.5 137.0,78.8 137.2,79.0 137.5,79.2 137.8,79.4 138.1,79.6 138.4,79.8 138.7,80.0 138.9,80.2 139.1,80.5 139.3,81.0 139.3,81.2 139.5,81.8 139.5,82.2 139.5,82.8 139.5,83.2 139.5,83.8 139.6,84.2 139.6,84.5 139.8,85.0 139.8,85.2 140.0,85.8 140.1,86.2 140.1,86.5 140.2,87.0 140.3,87.5 140.3,87.8 140.4,88.2 140.5,88.8 140.6,89.0 140.7,89.5 140.8,89.8 140.9,90.2 140.8,90.6 140.6,91.0 140.3,91.2 140.1,91.4 139.8,91.6 139.6,91.8 139.3,92.0 139.0,92.2 138.8,92.5 138.5,92.8 138.3,93.1 138.1,93.5 137.9,93.8 137.7,94.0 137.4,94.2 137.1,94.5 136.8,94.6 136.5,94.8 136.1,94.9 135.6,94.9 135.1,94.9 134.6,94.8 134.3,94.7 134.0,94.5 133.6,94.2 133.3,94.0 133.1,93.8 132.9,93.5 132.7,93.2 132.5,93.0 132.3,92.6 132.1,92.2 132.0,92.0 131.9,91.5 131.8,91.2 131.6,90.8 131.6,90.4 131.4,90.0 131.3,89.5 131.2,89.2 131.1,89.0 130.8,88.6 130.6,88.4 130.3,88.2 129.8,88.0 129.4,88.2 129.3,88.5 129.1,89.0 129.1,89.4 129.0,89.8 128.9,90.2 128.9,90.8 128.8,91.0 128.7,91.5 128.6,91.9 128.5,92.2 128.4,92.8 128.3,93.1 128.3,93.5 128.2,94.0 128.1,94.5 128.0,94.8 127.9,95.2 127.8,95.6 127.7,96.0 127.5,96.4 127.4,96.8 127.3,97.2 127.2,97.5 127.1,98.0 127.0,98.3 126.9,98.8 126.8,99.0 126.5,99.4 126.3,99.7 126.1,100.0 125.8,100.2 125.5,100.5 125.3,100.7Z" fill="none" stroke="#050505" stroke-width="0.55"/>
<path d="M165.8,86.5 165.3,86.6 164.8,86.6 164.3,86.6 163.8,86.5 163.3,86.5 162.8,86.6 162.3,86.7 161.8,86.7 161.3,86.7 160.8,86.6 160.3,86.6 159.8,86.6 159.3,86.6 158.8,86.6 158.4,86.5 158.1,86.4 157.6,86.3 157.3,86.2 156.9,86.0 156.6,85.9 156.1,85.8 155.8,85.7 155.3,85.7 154.8,85.6 154.5,85.5 154.1,85.3 153.8,85.2 153.3,85.0 153.1,85.0 152.6,84.8 152.3,84.7 151.8,84.5 151.6,84.4 151.3,84.2 150.8,84.0 150.6,83.8 150.3,83.6 150.1,83.3 149.8,83.0 149.7,82.8 149.5,82.5 149.3,82.2 149.1,81.8 148.9,81.5 148.7,81.2 148.5,81.0 148.1,80.8 147.8,80.7 147.3,80.7 146.9,80.8 146.6,80.8 146.1,80.9 145.6,81.0 145.3,81.1 144.9,81.2 144.6,81.3 144.1,81.4 143.6,81.3 143.3,81.1 143.1,80.9 142.8,80.5 142.6,80.2 142.5,80.0 142.3,79.6 142.1,79.2 142.0,79.0 141.8,78.7 141.6,78.3 141.4,78.0 141.3,77.8 141.1,77.2 141.1,76.8 141.3,76.2 141.4,76.0 141.6,75.8 141.9,75.5 142.3,75.3 142.6,75.2 143.1,75.2 143.6,75.0 143.8,74.9 144.3,74.8 144.6,74.7 145.1,74.6 145.6,74.7 145.8,74.8 146.1,75.0 146.5,75.2 146.8,75.5 147.1,75.7 147.3,75.9 147.6,76.1 147.8,76.3 148.1,76.5 148.6,76.6 149.1,76.5 149.3,76.4 149.8,76.2 150.1,76.1 150.4,76.0 150.8,75.9 151.1,75.8 151.6,75.6 151.9,75.5 152.3,75.4 152.6,75.2 153.1,75.1 153.3,74.9 153.6,74.8 154.1,74.5 154.3,74.4 154.7,74.2 155.1,74.1 155.4,74.0 155.8,73.9 156.2,73.8 156.6,73.7 157.1,73.5 157.3,73.5 157.8,73.4 158.3,73.3 158.6,73.2 159.1,73.1 159.6,73.0 159.9,73.0 160.3,73.0 160.8,72.9 161.3,72.9 161.8,72.9 162.3,72.9 162.8,72.8 163.3,72.8 163.8,72.8 164.3,72.8 164.8,72.8 165.3,72.9 165.6,73.0 166.1,73.1 166.6,73.2 166.8,73.3 167.3,73.3 167.8,73.4 168.3,73.5 168.6,73.5 169.1,73.6 169.6,73.7 169.8,73.8 170.3,73.9 170.6,74.0 171.1,74.2 171.3,74.3 171.8,74.5 172.1,74.6 172.5,74.8 172.8,74.9 173.2,75.0 173.6,75.1 173.8,75.2 174.3,75.5 174.6,75.7 174.8,75.9 175.1,76.2 175.3,76.5 175.4,76.8 175.6,77.0 175.8,77.3 176.1,77.6 176.3,77.9 176.6,78.2 176.7,78.5 176.8,78.8 177.0,79.2 176.9,79.8 176.8,80.2 176.7,80.5 176.6,80.8 176.3,81.2 176.1,81.5 175.9,81.8 175.7,82.0 175.5,82.2 175.3,82.5 175.1,82.8 174.8,83.1 174.6,83.3 174.2,83.5 173.8,83.8 173.6,83.9 173.3,84.1 173.1,84.3 172.8,84.6 172.6,84.8 172.3,85.0 171.8,85.2 171.6,85.3 171.1,85.4 170.6,85.4 170.1,85.4 169.6,85.5 169.2,85.5 168.8,85.6 168.3,85.7 168.1,85.8 167.6,86.0 167.3,86.1 166.8,86.2 166.6,86.3 166.1,86.5 165.8,86.5Z" fill="none" stroke="#050505" stroke-width="0.55"/>
<path d="M143.3,94.0 142.8,94.0 142.6,93.9 142.1,93.8 141.8,93.5 141.6,93.3 141.3,93.0 141.2,92.8 141.1,92.2 141.2,91.8 141.3,91.4 141.6,91.2 142.1,91.1 142.6,91.2 142.8,91.3 143.1,91.5 143.4,91.8 143.6,92.0 143.8,92.4 144.0,92.8 144.0,93.2 143.8,93.7 143.6,93.9 143.3,94.0Z" fill="none" stroke="#050505" stroke-width="0.55"/>
<path d="M161.1,102.5 160.6,102.6 160.1,102.6 159.6,102.5 159.3,102.4 158.9,102.2 158.6,102.1 158.1,102.0 157.8,101.9 157.3,101.8 156.8,101.8 156.3,101.8 155.8,101.9 155.5,102.0 155.1,102.2 154.8,102.2 154.3,102.4 153.8,102.4 153.3,102.4 152.8,102.3 152.6,102.2 152.1,102.0 151.8,101.9 151.4,101.8 151.1,101.6 150.8,101.4 150.6,101.2 150.3,100.8 150.3,100.5 150.3,100.2 150.4,99.8 150.6,99.3 150.6,99.0 150.8,98.6 151.0,98.2 151.1,98.0 151.4,97.8 151.7,97.5 152.1,97.3 152.3,97.2 152.8,97.1 153.2,97.0 153.6,96.8 153.8,96.6 154.1,96.3 154.3,96.1 154.6,96.0 155.1,95.8 155.3,95.7 155.8,95.7 156.3,95.7 156.8,95.6 157.2,95.5 157.6,95.3 157.8,95.2 158.1,95.0 158.6,94.8 158.8,94.7 159.3,94.7 159.6,94.8 160.1,94.9 160.6,95.0 161.1,94.9 161.5,94.8 161.8,94.6 162.1,94.5 162.6,94.3 162.9,94.2 163.3,94.2 163.8,94.1 164.2,94.0 164.6,94.0 165.1,94.0 165.4,94.0 165.8,94.1 166.3,94.1 166.8,94.2 167.3,94.1 167.8,94.0 168.1,94.0 168.6,93.8 169.1,93.8 169.6,93.9 169.9,94.0 170.3,94.2 170.6,94.4 170.8,94.6 171.1,94.8 171.3,95.0 171.8,95.2 172.2,95.2 172.6,95.3 173.0,95.5 173.3,95.7 173.5,96.0 173.6,96.2 173.7,96.8 173.7,97.2 173.8,97.5 173.9,98.0 173.9,98.5 173.7,98.8 173.6,99.0 173.3,99.3 173.1,99.5 172.7,99.8 172.3,99.9 172.1,100.0 171.6,100.2 171.3,100.3 170.8,100.5 170.6,100.5 170.1,100.6 169.6,100.7 169.3,100.8 168.8,100.9 168.6,101.0 168.1,101.2 167.8,101.2 167.3,101.4 167.1,101.6 166.7,101.8 166.3,101.9 166.1,102.0 165.6,102.2 165.2,102.2 164.8,102.3 164.3,102.3 163.8,102.3 163.3,102.3 162.8,102.3 162.3,102.3 161.8,102.4 161.3,102.5 161.1,102.5Z" fill="none" stroke="#050505" stroke-width="0.55"/>
<path d="M134.1,112.8 133.6,112.8 133.3,112.7 132.8,112.7 132.3,112.7 131.8,112.6 131.3,112.6 130.8,112.7 130.3,112.7 129.8,112.7 129.3,112.6 129.0,112.5 128.7,112.2 128.4,112.0 128.1,111.8 127.9,111.5 127.6,111.2 127.3,111.0 127.1,110.8 126.9,110.5 126.7,110.2 126.7,109.8 127.0,109.5 127.3,109.4 127.6,109.2 128.0,109.0 128.2,108.8 128.1,108.2 127.9,108.0 127.6,107.8 127.4,107.5 127.2,107.2 127.0,107.0 126.8,106.6 126.6,106.2 126.5,106.0 126.3,105.6 126.2,105.2 126.0,104.8 125.9,104.5 125.9,104.0 125.8,103.5 125.8,103.0 125.9,102.5 126.0,102.2 126.3,101.8 126.5,101.5 126.8,101.3 127.0,101.1 127.3,100.9 127.5,100.7 127.9,100.5 128.3,100.3 128.6,100.1 128.8,100.0 129.3,99.8 129.6,99.7 130.0,99.5 130.3,99.4 130.7,99.2 131.1,99.1 131.6,99.0 131.8,99.0 132.3,98.9 132.8,98.9 133.3,98.8 133.8,98.8 134.3,98.8 134.8,98.9 135.3,98.9 135.6,99.0 136.1,99.1 136.3,99.2 136.8,99.4 137.1,99.5 137.6,99.7 137.8,99.8 138.1,100.0 138.5,100.2 138.8,100.4 139.1,100.6 139.3,100.8 139.6,101.1 139.8,101.3 140.1,101.6 140.3,102.0 140.4,102.2 140.6,102.5 140.7,103.0 140.8,103.5 140.8,103.8 140.8,104.2 140.8,104.5 140.7,105.0 140.6,105.5 140.4,105.8 140.3,106.0 140.1,106.4 139.8,106.7 139.6,107.0 139.3,107.2 139.1,107.5 138.8,107.7 138.6,107.9 138.3,108.1 138.0,108.2 137.7,108.5 137.3,108.7 137.1,108.9 136.8,109.0 136.4,109.2 136.2,109.5 136.3,109.8 136.8,110.0 137.1,110.1 137.5,110.2 137.3,110.8 137.1,111.0 136.8,111.2 136.6,111.4 136.3,111.7 136.1,112.0 135.8,112.2 135.6,112.4 135.3,112.6 134.8,112.7 134.3,112.7 134.1,112.8Z" fill="none" stroke="#050505" stroke-width="0.55"/>
<path d="M125.5,99.4 125.0,99.4 124.7,99.2 124.4,99.0 124.2,98.8 124.0,98.4 123.8,98.0 123.7,97.8 123.5,97.3 123.4,97.0 123.3,96.7 123.1,96.2 123.0,95.8 123.0,95.5 122.9,95.0 122.9,94.5 122.8,94.1 122.7,93.8 122.6,93.2 122.5,93.0 122.4,92.5 122.4,92.0 122.3,91.5 122.3,91.0 122.3,90.5 122.3,90.0 122.3,89.8 122.3,89.2 122.2,88.8 122.2,88.2 122.2,87.8 122.1,87.2 122.1,86.8 122.1,86.2 122.1,85.8 122.1,85.2 122.2,84.8 122.2,84.2 122.2,83.8 122.2,83.2 122.2,82.8 122.2,82.2 122.2,81.8 122.3,81.2 122.3,80.8 122.3,80.3 122.3,80.0 122.3,79.5 122.4,79.0 122.4,78.5 122.5,78.0 122.5,77.5 122.5,77.2 122.6,76.8 122.7,76.2 122.8,75.8 122.9,75.5 123.0,75.0 123.1,74.8 123.2,74.2 123.2,73.8 123.3,73.3 123.4,73.0 123.5,72.5 123.6,72.2 123.8,71.8 124.0,71.5 124.2,71.2 124.4,71.0 124.6,70.8 124.8,70.5 125.0,70.2 125.3,69.8 125.3,69.5 125.3,69.0 125.3,68.8 125.2,68.2 125.3,67.8 125.3,67.3 125.3,67.0 125.4,66.5 125.5,66.0 125.6,65.8 125.8,65.4 126.0,65.0 126.3,64.8 126.5,64.5 126.7,64.2 127.0,64.0 127.2,63.8 127.4,63.5 127.5,63.2 127.8,62.8 127.8,62.5 128.0,62.0 128.1,61.8 128.3,61.3 128.6,61.0 128.8,60.9 129.3,60.8 129.8,60.8 130.3,60.8 130.8,60.8 131.3,60.8 131.8,60.9 132.2,61.0 132.6,61.2 132.8,61.3 133.1,61.5 133.5,61.8 133.7,62.0 133.9,62.2 134.0,62.8 134.1,63.0 134.2,63.5 134.3,63.8 134.5,64.2 134.6,64.5 134.8,64.8 135.1,65.2 135.3,65.5 135.5,65.8 135.6,66.0 135.8,66.5 135.7,67.0 135.6,67.5 135.6,67.8 135.5,68.2 135.4,68.8 135.5,69.2 135.6,69.7 135.6,70.0 135.6,70.5 135.6,71.0 135.5,71.2 135.5,71.8 135.3,72.2 135.2,72.5 135.1,72.9 134.9,73.2 134.8,73.5 134.6,74.0 134.5,74.2 134.4,74.8 134.4,75.2 134.5,75.8 134.6,76.1 134.6,76.5 134.8,77.0 134.9,77.2 135.1,77.6 135.3,78.0 135.5,78.2 135.7,78.5 135.9,78.8 136.1,79.0 136.3,79.2 136.6,79.5 136.8,79.8 137.1,80.0 137.5,80.2 137.8,80.5 138.1,80.7 138.3,81.0 138.5,81.2 138.6,81.5 138.8,82.0 138.9,82.2 138.9,82.8 138.9,83.2 139.0,83.8 139.1,84.2 139.1,84.5 139.3,85.0 139.4,85.2 139.5,85.8 139.6,86.0 139.7,86.5 139.8,87.0 139.8,87.5 139.8,88.0 139.7,88.5 139.7,89.0 139.6,89.5 139.5,89.8 139.4,90.2 139.3,90.6 139.1,91.0 138.9,91.2 138.7,91.5 138.5,91.8 138.3,92.0 138.1,92.4 137.8,92.8 137.7,93.0 137.5,93.2 137.3,93.5 137.1,93.8 136.7,94.0 136.3,94.1 135.8,94.2 135.3,94.2 134.8,94.2 134.3,94.0 134.1,93.9 133.8,93.7 133.5,93.5 133.2,93.2 133.0,93.0 132.8,92.7 132.6,92.2 132.5,92.0 132.4,91.5 132.3,91.2 132.2,90.8 132.1,90.2 132.0,90.0 131.9,89.5 131.8,89.2 131.6,88.8 131.4,88.5 131.2,88.2 130.9,88.0 130.6,87.8 130.3,87.5 130.1,87.4 129.8,87.2 129.3,87.2 129.1,87.5 129.0,87.8 128.9,88.2 128.8,88.8 128.8,89.0 128.7,89.5 128.7,90.0 128.6,90.5 128.6,90.9 128.5,91.2 128.3,91.8 128.3,92.0 128.2,92.5 128.1,93.0 128.1,93.3 128.0,93.8 127.9,94.2 127.8,94.7 127.7,95.0 127.6,95.5 127.5,95.8 127.3,96.2 127.2,96.5 127.0,96.8 126.9,97.2 126.8,97.5 126.6,98.0 126.5,98.2 126.3,98.7 126.1,99.0 125.8,99.2 125.5,99.4Z" fill="none" stroke="#050505" stroke-width="0.55"/>
<path d="M162.6,86.3 162.1,86.3 161.6,86.3 161.1,86.3 160.8,86.2 160.3,86.2 159.8,86.2 159.3,86.2 158.8,86.2 158.3,86.2 157.8,86.0 157.6,85.9 157.1,85.8 156.8,85.6 156.5,85.5 156.1,85.4 155.6,85.3 155.3,85.2 154.8,85.1 154.4,85.0 154.1,84.9 153.8,84.8 153.3,84.5 153.1,84.4 152.6,84.3 152.3,84.2 151.8,84.0 151.6,83.9 151.3,83.8 150.9,83.5 150.7,83.2 150.4,83.0 150.3,82.8 150.1,82.3 149.9,82.0 149.8,81.6 149.7,81.2 149.6,80.9 149.4,80.5 149.3,80.2 149.1,79.8 149.0,79.5 148.9,79.0 148.9,78.5 149.0,78.0 149.1,77.8 149.3,77.5 149.6,77.2 149.8,77.0 150.1,76.8 150.5,76.5 150.8,76.4 151.1,76.2 151.6,76.0 151.8,76.0 152.3,75.8 152.6,75.7 153.1,75.5 153.3,75.4 153.6,75.2 154.0,75.0 154.3,74.9 154.6,74.8 155.1,74.6 155.3,74.5 155.8,74.3 156.1,74.2 156.6,74.0 156.8,73.9 157.3,73.8 157.7,73.8 158.1,73.7 158.6,73.6 158.8,73.5 159.3,73.4 159.8,73.3 160.3,73.3 160.6,73.2 161.1,73.2 161.6,73.2 162.1,73.2 162.6,73.2 163.1,73.1 163.6,73.1 164.1,73.1 164.6,73.1 165.1,73.2 165.3,73.3 165.8,73.4 166.3,73.5 166.6,73.5 167.1,73.6 167.6,73.7 168.0,73.8 168.3,73.8 168.8,74.0 169.1,74.0 169.6,74.2 169.9,74.2 170.3,74.3 170.7,74.5 171.1,74.6 171.3,74.8 171.8,75.0 172.1,75.1 172.3,75.2 172.8,75.5 173.1,75.6 173.3,75.8 173.7,76.0 174.1,76.2 174.3,76.4 174.6,76.7 174.8,77.0 175.0,77.2 175.2,77.5 175.4,77.8 175.6,78.0 175.8,78.3 176.1,78.7 176.2,79.0 176.3,79.5 176.2,80.0 176.1,80.5 175.9,80.8 175.8,81.0 175.6,81.3 175.3,81.6 175.1,81.9 174.8,82.2 174.6,82.5 174.3,82.8 174.1,83.0 173.8,83.2 173.6,83.3 173.2,83.5 172.8,83.8 172.6,84.0 172.3,84.2 172.1,84.5 171.8,84.7 171.6,84.8 171.1,84.9 170.6,85.0 170.1,85.0 169.6,85.0 169.3,85.0 168.8,85.1 168.4,85.2 168.1,85.4 167.7,85.5 167.3,85.6 167.0,85.8 166.6,85.9 166.3,86.0 165.8,86.1 165.3,86.2 164.8,86.2 164.3,86.2 163.8,86.1 163.3,86.2 162.8,86.2 162.6,86.3Z" fill="none" stroke="#050505" stroke-width="0.55"/>
<path d="M144.8,80.3 144.3,80.3 144.0,80.2 143.6,80.0 143.5,79.8 143.3,79.5 143.1,79.0 143.0,78.8 142.8,78.2 142.7,78.0 142.6,77.5 142.5,77.2 142.5,76.8 142.6,76.5 142.9,76.2 143.3,76.0 143.6,75.9 143.9,75.8 144.3,75.5 144.6,75.4 145.1,75.3 145.6,75.4 145.8,75.6 146.1,75.8 146.3,76.1 146.6,76.5 146.7,76.8 146.8,77.1 146.9,77.5 147.0,78.0 147.1,78.2 147.2,78.8 147.2,79.2 147.0,79.5 146.7,79.8 146.3,79.9 145.8,80.0 145.6,80.1 145.1,80.2 144.8,80.3Z" fill="none" stroke="#050505" stroke-width="0.55"/>
<path d="M161.3,102.0 160.8,102.1 160.3,102.0 160.1,102.0 159.6,101.8 159.3,101.6 159.1,101.5 158.6,101.2 158.3,101.1 158.1,100.9 157.8,100.8 157.5,100.5 157.3,100.2 157.0,100.0 156.6,99.8 156.3,99.7 156.1,99.8 155.8,100.0 155.6,100.3 155.3,100.7 155.1,101.0 154.8,101.2 154.6,101.4 154.3,101.5 153.8,101.7 153.3,101.7 152.8,101.5 152.6,101.4 152.3,101.2 151.9,101.0 151.6,100.8 151.5,100.5 151.5,100.0 151.6,99.6 151.7,99.2 151.9,99.0 152.2,98.8 152.6,98.6 153.0,98.5 153.3,98.4 153.6,98.2 154.0,98.0 154.2,97.8 154.4,97.5 154.7,97.2 155.0,97.0 155.3,96.9 155.8,96.8 156.3,96.8 156.8,96.8 157.1,96.7 157.3,96.5 157.7,96.2 158.0,96.0 158.3,95.8 158.6,95.6 158.8,95.5 159.3,95.5 159.6,95.5 160.1,95.7 160.3,95.8 160.7,95.8 161.1,95.7 161.4,95.5 161.8,95.3 162.1,95.1 162.4,95.0 162.8,94.8 163.2,94.8 163.6,94.7 164.1,94.6 164.6,94.5 165.1,94.5 165.6,94.6 166.1,94.7 166.3,94.8 166.8,94.9 167.3,94.9 167.8,94.8 168.1,94.7 168.5,94.5 168.8,94.4 169.3,94.5 169.6,94.6 169.8,94.8 170.1,95.0 170.3,95.3 170.6,95.5 170.9,95.8 171.3,96.0 171.6,96.2 171.8,96.4 172.1,96.7 172.2,97.0 172.3,97.4 172.4,97.8 172.5,98.2 172.4,98.8 172.2,99.0 171.9,99.2 171.6,99.4 171.3,99.5 170.8,99.7 170.6,99.8 170.1,100.0 169.8,100.0 169.3,100.2 169.0,100.2 168.6,100.4 168.1,100.5 167.8,100.6 167.4,100.8 167.1,100.9 166.8,101.1 166.5,101.2 166.1,101.5 165.8,101.6 165.3,101.8 165.1,101.8 164.6,101.8 164.1,101.8 163.7,101.8 163.3,101.7 163.1,101.8 162.6,101.8 162.1,101.9 161.6,102.0 161.3,102.0Z" fill="none" stroke="#050505" stroke-width="0.55"/>
<path d="M134.1,112.3 133.8,112.2 133.3,112.2 132.8,112.1 132.5,112.0 132.1,111.8 131.8,111.7 131.3,111.5 131.1,111.4 130.6,111.3 130.1,111.4 129.6,111.3 129.3,111.2 129.0,111.0 128.7,110.8 128.6,110.2 128.8,109.8 128.9,109.5 129.1,109.2 129.1,108.8 128.8,108.5 128.6,108.2 128.3,108.0 128.1,107.8 127.8,107.6 127.5,107.3 127.3,107.0 127.1,106.8 126.9,106.5 126.8,106.2 126.6,105.8 126.5,105.5 126.3,105.0 126.2,104.8 126.1,104.2 126.1,103.8 126.1,103.2 126.2,102.8 126.3,102.4 126.5,102.0 126.7,101.8 126.9,101.5 127.2,101.2 127.5,101.0 127.8,100.8 128.1,100.6 128.3,100.4 128.6,100.2 129.1,100.0 129.3,99.9 129.7,99.8 130.1,99.6 130.3,99.5 130.8,99.3 131.1,99.2 131.6,99.1 132.1,99.0 132.6,99.0 132.8,99.0 133.3,99.0 133.8,99.0 134.3,99.0 134.7,99.0 135.1,99.0 135.6,99.1 135.9,99.2 136.3,99.4 136.6,99.5 137.1,99.7 137.3,99.8 137.8,100.0 138.1,100.1 138.3,100.3 138.6,100.5 139.0,100.8 139.2,101.0 139.5,101.2 139.7,101.5 139.9,101.8 140.1,102.0 140.3,102.4 140.5,102.8 140.6,103.1 140.6,103.5 140.7,104.0 140.6,104.5 140.6,104.9 140.5,105.2 140.3,105.6 140.1,106.0 140.0,106.2 139.8,106.5 139.6,106.8 139.3,107.0 139.1,107.3 138.8,107.5 138.5,107.8 138.1,108.0 137.8,108.2 137.6,108.3 137.2,108.5 136.8,108.7 136.6,108.8 136.1,109.0 135.8,109.1 135.6,109.3 135.2,109.5 135.0,109.8 135.2,110.0 135.4,110.2 135.6,110.5 135.7,111.0 135.6,111.5 135.4,111.8 135.1,112.0 134.8,112.1 134.3,112.2 134.1,112.3Z" fill="none" stroke="#050505" stroke-width="0.55"/>
<path d="M125.3,98.3 124.8,98.3 124.5,98.1 124.3,97.8 124.2,97.5 124.0,97.2 123.8,96.8 123.6,96.5 123.5,96.2 123.4,95.8 123.3,95.5 123.2,95.0 123.1,94.5 123.0,94.0 123.0,93.8 122.9,93.2 122.8,92.9 122.7,92.5 122.6,92.0 122.6,91.5 122.6,91.0 122.5,90.6 122.5,90.2 122.5,89.8 122.5,89.2 122.5,88.8 122.5,88.2 122.4,87.8 122.3,87.2 122.3,87.0 122.3,86.5 122.3,86.0 122.3,85.8 122.4,85.2 122.4,84.8 122.4,84.2 122.4,83.8 122.4,83.2 122.4,82.8 122.4,82.2 122.4,81.8 122.5,81.2 122.5,80.8 122.5,80.2 122.5,80.0 122.6,79.5 122.6,79.0 122.7,78.5 122.7,78.0 122.8,77.5 122.8,77.2 122.8,76.8 122.9,76.2 123.0,75.8 123.1,75.5 123.3,75.0 123.4,74.8 123.5,74.2 123.5,73.8 123.6,73.5 123.7,73.0 123.8,72.7 124.0,72.2 124.2,72.0 124.4,71.8 124.6,71.5 124.9,71.2 125.2,71.0 125.5,70.8 125.8,70.5 126.0,70.2 126.2,70.0 126.2,69.5 126.1,69.0 126.0,68.7 125.9,68.2 125.9,67.8 125.9,67.2 126.0,66.8 126.0,66.4 126.2,66.0 126.3,65.7 126.5,65.3 126.8,65.0 127.0,64.8 127.3,64.5 127.5,64.2 127.7,64.0 127.9,63.8 128.1,63.5 128.3,63.1 128.5,62.8 128.6,62.5 128.8,62.2 129.1,62.0 129.6,61.8 130.1,61.8 130.6,61.8 131.1,61.9 131.6,62.0 131.8,62.0 132.3,62.2 132.6,62.4 132.8,62.6 133.1,62.9 133.2,63.2 133.3,63.5 133.6,63.9 133.7,64.2 133.9,64.5 134.1,64.8 134.3,65.2 134.5,65.5 134.6,65.8 134.8,66.1 135.0,66.5 135.0,67.0 135.0,67.5 134.9,68.0 134.9,68.5 134.8,69.0 134.8,69.5 134.8,70.0 134.9,70.5 134.9,71.0 134.8,71.5 134.8,71.8 134.7,72.2 134.6,72.5 134.3,72.9 134.1,73.2 133.9,73.5 133.8,73.8 133.6,74.2 133.6,74.8 133.6,75.2 133.7,75.8 133.7,76.2 133.8,76.8 133.8,77.0 133.9,77.5 134.1,77.9 134.2,78.2 134.4,78.5 134.6,78.8 134.8,79.0 135.1,79.2 135.4,79.5 135.7,79.8 136.0,80.0 136.2,80.2 136.4,80.5 136.7,80.8 136.9,81.0 137.1,81.2 137.3,81.5 137.6,81.8 137.8,82.0 138.1,82.4 138.2,82.8 138.3,83.0 138.4,83.5 138.5,84.0 138.6,84.3 138.7,84.8 138.8,85.1 138.9,85.5 139.1,85.9 139.2,86.2 139.3,86.8 139.3,87.0 139.3,87.5 139.3,88.0 139.3,88.2 139.2,88.8 139.1,89.2 139.0,89.5 138.9,90.0 138.8,90.2 138.6,90.7 138.3,91.0 138.2,91.2 138.0,91.5 137.8,91.8 137.6,92.0 137.3,92.4 137.1,92.7 136.8,93.0 136.6,93.2 136.3,93.3 135.8,93.4 135.3,93.4 134.8,93.4 134.3,93.3 134.1,93.2 133.8,93.0 133.5,92.8 133.3,92.5 133.1,92.1 132.9,91.8 132.8,91.3 132.7,91.0 132.6,90.5 132.6,90.1 132.5,89.8 132.4,89.2 132.3,88.9 132.1,88.5 132.0,88.2 131.8,88.0 131.5,87.8 131.2,87.5 130.9,87.2 130.6,87.0 130.3,86.8 130.1,86.5 130.0,86.2 129.8,85.8 129.7,85.5 129.6,85.0 129.5,84.8 129.3,84.4 129.0,84.5 128.8,85.0 128.8,85.2 128.8,85.8 128.8,86.2 128.7,86.8 128.7,87.2 128.6,87.8 128.6,88.2 128.6,88.5 128.5,89.0 128.5,89.5 128.4,90.0 128.3,90.5 128.3,90.8 128.2,91.2 128.1,91.8 128.0,92.0 127.9,92.5 127.8,93.0 127.8,93.3 127.7,93.8 127.6,94.2 127.5,94.6 127.4,95.0 127.3,95.3 127.1,95.8 127.0,96.0 126.8,96.3 126.5,96.7 126.4,97.0 126.3,97.2 126.0,97.6 125.8,98.0 125.5,98.2 125.3,98.3Z" fill="none" stroke="#050505" stroke-width="0.55"/>
<path d="M165.3,85.8 164.8,85.8 164.6,85.7 164.1,85.7 163.6,85.7 163.3,85.8 162.8,85.9 162.3,85.9 161.8,85.9 161.3,85.9 160.8,85.8 160.3,85.8 159.8,85.8 159.3,85.9 158.8,85.9 158.3,85.8 158.1,85.7 157.6,85.6 157.3,85.4 156.9,85.2 156.6,85.1 156.2,85.0 155.8,84.9 155.3,84.8 155.1,84.7 154.6,84.6 154.3,84.5 153.9,84.2 153.6,84.1 153.3,84.0 152.8,83.8 152.6,83.7 152.1,83.6 151.8,83.5 151.4,83.2 151.1,83.0 150.9,82.8 150.7,82.5 150.6,82.0 150.5,81.8 150.3,81.2 150.2,81.0 150.1,80.5 150.0,80.2 149.8,79.8 149.8,79.5 149.7,79.0 149.7,78.5 149.8,78.1 150.0,77.8 150.2,77.5 150.5,77.2 150.8,77.0 151.1,76.9 151.3,76.7 151.7,76.5 152.1,76.4 152.4,76.2 152.8,76.1 153.1,76.0 153.6,75.8 153.8,75.6 154.1,75.5 154.6,75.3 154.8,75.2 155.3,75.0 155.6,74.9 155.9,74.8 156.3,74.6 156.6,74.4 157.1,74.3 157.3,74.2 157.8,74.1 158.1,74.0 158.6,73.9 159.1,73.8 159.3,73.7 159.8,73.6 160.3,73.6 160.8,73.6 161.3,73.6 161.8,73.5 162.3,73.5 162.6,73.5 163.1,73.5 163.6,73.4 164.1,73.4 164.6,73.5 164.9,73.5 165.3,73.6 165.8,73.7 166.1,73.8 166.6,73.8 167.1,73.9 167.6,74.0 167.8,74.0 168.3,74.2 168.6,74.3 169.1,74.5 169.3,74.6 169.8,74.7 170.1,74.8 170.6,74.9 170.8,75.0 171.2,75.2 171.6,75.4 171.8,75.6 172.1,75.8 172.6,76.0 172.8,76.1 173.1,76.3 173.3,76.5 173.6,76.8 173.9,77.0 174.1,77.2 174.3,77.5 174.6,77.8 174.8,78.2 175.0,78.5 175.1,78.8 175.3,79.2 175.4,79.5 175.4,80.0 175.3,80.4 175.1,80.8 175.0,81.0 174.8,81.2 174.6,81.5 174.3,81.9 174.1,82.2 173.8,82.4 173.6,82.6 173.3,82.8 172.9,83.0 172.6,83.2 172.3,83.4 172.1,83.6 171.8,83.9 171.6,84.1 171.3,84.2 170.8,84.4 170.3,84.5 169.8,84.5 169.6,84.5 169.1,84.6 168.6,84.8 168.3,84.9 167.8,85.0 167.6,85.1 167.1,85.2 166.8,85.4 166.4,85.5 166.1,85.6 165.6,85.7 165.3,85.8Z" fill="none" stroke="#050505" stroke-width="0.55"/>
<path d="M162.1,101.3 161.6,101.4 161.1,101.4 160.6,101.2 160.3,101.0 160.1,100.8 160.1,100.5 159.9,100.0 159.6,99.8 159.3,99.6 159.1,99.5 158.6,99.2 158.3,99.0 158.1,98.8 157.9,98.5 157.8,98.2 157.8,97.9 158.0,97.5 158.2,97.2 158.4,97.0 158.6,96.8 159.1,96.5 159.3,96.5 159.8,96.5 160.1,96.5 160.6,96.5 160.8,96.5 161.3,96.3 161.6,96.2 161.9,96.0 162.3,95.8 162.6,95.7 163.1,95.5 163.3,95.5 163.8,95.4 164.3,95.3 164.8,95.3 165.3,95.3 165.8,95.5 166.0,95.8 166.2,96.0 166.4,96.2 166.8,96.5 167.3,96.4 167.6,96.2 168.0,96.0 168.3,95.8 168.6,95.7 169.1,95.6 169.3,95.8 169.7,96.0 170.0,96.2 170.3,96.4 170.6,96.6 170.8,96.9 171.1,97.2 171.2,97.5 171.2,98.0 171.1,98.4 170.8,98.6 170.6,98.8 170.1,99.0 169.8,99.1 169.4,99.2 169.1,99.4 168.8,99.5 168.3,99.7 168.1,99.8 167.6,100.0 167.3,100.1 166.9,100.2 166.6,100.4 166.3,100.6 166.0,100.8 165.6,101.0 165.3,101.1 164.8,101.1 164.3,101.1 163.8,101.0 163.3,101.0 162.8,101.1 162.3,101.2 162.1,101.3Z" fill="none" stroke="#050505" stroke-width="0.55"/>
<path d="M134.1,109.3 133.6,109.3 133.1,109.4 132.6,109.4 132.1,109.5 131.6,109.4 131.1,109.3 130.7,109.2 130.3,109.1 130.0,109.0 129.7,108.8 129.3,108.5 129.1,108.3 128.8,108.1 128.6,107.9 128.3,107.7 128.0,107.5 127.8,107.2 127.5,107.0 127.3,106.7 127.0,106.3 126.9,106.0 126.7,105.8 126.6,105.2 126.5,105.0 126.4,104.5 126.3,104.0 126.3,103.8 126.3,103.5 126.4,103.0 126.5,102.5 126.6,102.2 126.8,102.0 127.0,101.7 127.3,101.4 127.5,101.2 127.8,101.0 128.1,100.8 128.5,100.5 128.8,100.3 129.1,100.2 129.5,100.0 129.8,99.8 130.1,99.8 130.6,99.6 130.8,99.5 131.3,99.3 131.7,99.2 132.1,99.2 132.6,99.1 133.1,99.1 133.6,99.1 134.1,99.1 134.6,99.1 135.1,99.2 135.4,99.2 135.8,99.4 136.2,99.5 136.6,99.6 136.8,99.8 137.3,99.9 137.6,100.0 138.0,100.2 138.3,100.5 138.6,100.6 138.8,100.8 139.1,101.1 139.3,101.3 139.6,101.6 139.8,101.9 140.0,102.2 140.1,102.5 140.3,103.0 140.4,103.2 140.4,103.8 140.5,104.2 140.4,104.8 140.3,105.1 140.2,105.5 140.0,105.8 139.8,106.2 139.6,106.5 139.4,106.8 139.1,107.0 138.8,107.2 138.6,107.5 138.3,107.7 138.1,107.8 137.7,108.0 137.3,108.2 137.1,108.3 136.6,108.5 136.3,108.6 136.0,108.8 135.6,108.9 135.3,109.0 134.8,109.2 134.3,109.2 134.1,109.3Z" fill="none" stroke="#050505" stroke-width="0.55"/>
<path d="M125.5,96.8 125.0,97.0 124.6,96.8 124.3,96.5 124.1,96.2 124.0,96.0 123.8,95.7 123.6,95.2 123.5,94.9 123.5,94.5 123.4,94.0 123.3,93.7 123.2,93.2 123.1,92.8 123.0,92.5 122.9,92.0 122.8,91.5 122.8,91.0 122.8,90.5 122.8,90.2 122.8,89.8 122.8,89.2 122.8,88.8 122.7,88.2 122.7,87.8 122.6,87.2 122.5,87.0 122.5,86.5 122.5,86.0 122.5,85.7 122.6,85.2 122.7,84.8 122.7,84.2 122.6,83.8 122.6,83.2 122.6,82.8 122.6,82.2 122.7,81.8 122.7,81.2 122.7,80.8 122.8,80.2 122.8,80.0 122.9,79.5 122.9,79.0 122.9,78.5 123.0,78.0 123.0,77.5 123.1,77.2 123.1,76.8 123.2,76.2 123.3,76.0 123.5,75.5 123.5,75.2 123.7,74.8 123.8,74.4 123.9,74.0 124.0,73.5 124.1,73.2 124.3,72.8 124.4,72.5 124.6,72.2 124.9,72.0 125.3,71.8 125.5,71.7 126.0,71.6 126.5,71.8 126.6,72.0 126.8,72.4 127.0,72.8 127.1,73.0 127.3,73.4 127.5,73.8 127.7,74.0 127.9,74.2 128.2,74.5 128.5,74.8 128.8,74.8 129.0,74.5 129.2,74.2 129.3,73.8 129.3,73.5 129.3,73.1 129.2,72.8 129.1,72.2 129.0,72.0 128.8,71.6 128.7,71.2 128.5,71.0 128.3,70.7 128.1,70.5 127.8,70.2 127.5,69.9 127.4,69.5 127.3,69.2 127.1,68.8 127.0,68.5 126.9,68.0 126.8,67.5 126.9,67.0 127.0,66.5 127.0,66.1 127.2,65.8 127.3,65.5 127.5,65.2 127.8,64.9 128.1,64.5 128.2,64.2 128.4,64.0 128.6,63.8 128.8,63.4 129.1,63.2 129.3,63.0 129.7,62.8 130.1,62.7 130.6,62.7 131.0,62.8 131.3,62.9 131.6,63.0 132.0,63.2 132.3,63.5 132.5,63.8 132.7,64.0 132.9,64.2 133.1,64.5 133.3,64.9 133.5,65.2 133.6,65.5 133.8,65.9 134.0,66.2 134.1,66.5 134.3,66.9 134.4,67.2 134.4,67.8 134.3,68.2 134.2,68.5 134.1,69.0 134.0,69.2 133.9,69.8 133.8,70.2 133.9,70.8 133.9,71.2 133.9,71.8 133.8,72.0 133.6,72.5 133.4,72.8 133.3,73.0 133.1,73.4 132.9,73.8 132.8,74.2 132.8,74.8 132.8,75.2 132.8,75.8 132.8,76.0 132.6,76.5 132.4,76.8 132.3,77.0 132.2,77.5 132.3,77.9 132.5,78.2 132.6,78.5 132.8,78.8 133.1,79.2 133.3,79.5 133.5,79.8 133.8,80.0 134.1,80.1 134.3,80.3 134.6,80.5 134.9,80.8 135.1,81.0 135.3,81.2 135.6,81.6 135.8,82.0 136.0,82.2 136.3,82.4 136.6,82.6 136.9,82.8 137.3,83.0 137.5,83.2 137.7,83.5 137.8,83.8 137.9,84.2 138.1,84.7 138.2,85.0 138.3,85.4 138.4,85.8 138.6,86.1 138.7,86.5 138.8,87.0 138.8,87.2 138.8,87.8 138.8,88.0 138.7,88.5 138.6,89.0 138.5,89.2 138.4,89.8 138.3,90.0 138.1,90.4 137.8,90.7 137.6,91.0 137.4,91.2 137.2,91.5 137.0,91.8 136.7,92.0 136.4,92.2 136.1,92.5 135.8,92.5 135.3,92.6 134.8,92.6 134.3,92.5 134.1,92.4 133.8,92.2 133.6,91.9 133.4,91.5 133.3,91.2 133.2,90.8 133.1,90.2 133.0,90.0 133.0,89.5 133.0,89.0 132.9,88.5 132.8,88.2 132.6,87.8 132.3,87.5 132.1,87.3 131.8,87.0 131.6,86.9 131.3,86.7 131.1,86.5 130.8,86.2 130.6,85.8 130.5,85.5 130.4,85.0 130.3,84.6 130.2,84.2 130.2,83.8 130.1,83.2 130.1,82.8 130.1,82.2 130.0,82.0 129.8,81.7 129.3,81.8 129.1,82.0 128.9,82.2 128.8,82.5 128.6,83.0 128.5,83.2 128.3,83.8 128.3,84.0 128.3,84.5 128.3,85.0 128.3,85.5 128.3,86.0 128.3,86.3 128.3,86.8 128.3,87.2 128.3,87.6 128.3,88.0 128.3,88.5 128.2,89.0 128.2,89.5 128.1,90.0 128.1,90.5 128.0,90.8 127.9,91.2 127.8,91.5 127.7,92.0 127.6,92.5 127.5,93.0 127.5,93.2 127.5,93.8 127.4,94.2 127.3,94.5 127.1,95.0 126.9,95.2 126.8,95.5 126.5,95.8 126.3,96.1 126.0,96.4 125.8,96.6 125.5,96.8Z" fill="none" stroke="#050505" stroke-width="0.55"/>
<path d="M165.3,85.3 164.8,85.3 164.5,85.2 164.1,85.2 163.8,85.3 163.3,85.3 162.8,85.4 162.3,85.5 161.8,85.5 161.3,85.4 160.8,85.3 160.3,85.3 159.8,85.4 159.3,85.4 158.8,85.5 158.3,85.4 157.8,85.3 157.6,85.2 157.2,85.0 156.8,84.8 156.6,84.7 156.1,84.5 155.8,84.5 155.3,84.3 155.1,84.2 154.6,84.0 154.3,83.9 154.1,83.7 153.6,83.5 153.3,83.3 153.1,83.2 152.6,83.1 152.3,83.0 151.8,82.8 151.6,82.5 151.3,82.2 151.2,82.0 151.1,81.6 150.9,81.2 150.8,80.8 150.7,80.5 150.6,80.0 150.5,79.8 150.4,79.2 150.4,78.8 150.6,78.4 150.8,78.0 151.0,77.8 151.3,77.5 151.6,77.3 151.8,77.1 152.1,77.0 152.5,76.8 152.8,76.7 153.2,76.5 153.6,76.4 153.8,76.2 154.3,76.0 154.6,75.9 155.0,75.8 155.3,75.6 155.6,75.5 156.1,75.3 156.3,75.1 156.6,75.0 156.9,74.8 157.3,74.6 157.6,74.5 158.1,74.4 158.5,74.2 158.8,74.2 159.3,74.1 159.8,74.0 160.1,74.0 160.6,74.0 161.1,73.9 161.6,73.9 162.1,73.8 162.6,73.8 163.1,73.8 163.6,73.8 164.1,73.8 164.6,73.8 165.1,73.9 165.6,74.0 165.8,74.0 166.3,74.1 166.8,74.1 167.3,74.2 167.6,74.3 168.1,74.5 168.3,74.6 168.6,74.8 169.1,75.0 169.3,75.1 169.8,75.2 170.1,75.3 170.6,75.5 170.8,75.6 171.2,75.8 171.6,76.0 171.8,76.1 172.1,76.3 172.4,76.5 172.7,76.8 173.0,77.0 173.3,77.2 173.5,77.5 173.7,77.8 173.8,78.0 174.0,78.5 174.1,78.8 174.3,79.2 174.3,79.5 174.4,80.0 174.3,80.5 174.2,80.8 174.1,81.0 173.8,81.4 173.6,81.7 173.3,82.0 173.1,82.2 172.8,82.3 172.5,82.5 172.1,82.8 171.8,83.0 171.6,83.2 171.3,83.4 171.1,83.6 170.8,83.8 170.3,83.9 169.8,84.0 169.6,84.0 169.1,84.1 168.7,84.2 168.3,84.4 168.0,84.5 167.6,84.6 167.2,84.8 166.8,84.9 166.4,85.0 166.1,85.1 165.6,85.2 165.3,85.3Z" fill="none" stroke="#050505" stroke-width="0.55"/>
<path d="M129.4,77.2 129.8,77.0 129.9,76.8 129.8,76.5 129.6,76.2 129.2,76.0 128.8,75.9 128.6,76.2 128.5,76.5 128.6,76.9 128.8,77.2 129.1,77.3 129.4,77.2Z" fill="none" stroke="#050505" stroke-width="0.55"/>
<path d="M162.6,99.8 162.2,99.8 161.8,99.5 161.6,99.2 161.4,99.0 161.2,98.8 161.0,98.5 160.8,98.2 160.7,97.8 161.0,97.5 161.3,97.4 161.6,97.2 162.1,97.1 162.5,97.2 162.6,97.5 162.6,98.0 162.7,98.5 162.8,98.9 163.0,99.2 162.8,99.7 162.6,99.8Z" fill="none" stroke="#050505" stroke-width="0.55"/>
<path d="M133.6,109.0 133.1,109.1 132.6,109.1 132.1,109.1 131.6,109.0 131.3,109.0 130.8,108.9 130.3,108.8 130.1,108.6 129.8,108.5 129.4,108.2 129.1,108.0 128.8,107.8 128.6,107.7 128.3,107.5 128.0,107.2 127.8,107.0 127.5,106.7 127.3,106.4 127.1,106.0 127.0,105.8 126.8,105.4 126.7,105.0 126.6,104.5 126.5,104.2 126.5,103.8 126.5,103.4 126.6,103.0 126.8,102.5 126.9,102.2 127.1,102.0 127.3,101.7 127.5,101.5 127.8,101.2 128.1,101.0 128.4,100.8 128.8,100.5 129.1,100.4 129.3,100.2 129.8,100.0 130.1,99.9 130.5,99.8 130.8,99.6 131.3,99.5 131.6,99.4 132.1,99.3 132.6,99.3 132.8,99.2 133.3,99.2 133.8,99.2 134.2,99.2 134.6,99.3 135.1,99.3 135.6,99.5 135.8,99.5 136.3,99.7 136.6,99.8 137.0,100.0 137.3,100.1 137.6,100.2 138.0,100.5 138.3,100.7 138.6,100.9 138.8,101.1 139.1,101.3 139.3,101.6 139.6,102.0 139.7,102.2 139.9,102.5 140.1,103.0 140.1,103.2 140.2,103.8 140.2,104.2 140.2,104.8 140.1,105.2 139.9,105.5 139.8,105.8 139.6,106.2 139.3,106.5 139.1,106.8 138.9,107.0 138.6,107.2 138.3,107.5 138.1,107.6 137.8,107.8 137.3,108.0 137.1,108.1 136.7,108.2 136.3,108.4 136.0,108.5 135.6,108.7 135.3,108.8 134.8,108.9 134.3,109.0 133.8,109.0 133.6,109.0Z" fill="none" stroke="#050505" stroke-width="0.55"/>
<path d="M131.6,73.5 131.1,73.7 130.8,73.5 130.6,73.2 130.3,72.8 130.1,72.5 130.0,72.2 129.8,71.8 129.7,71.5 129.6,71.0 129.5,70.8 129.3,70.3 129.1,70.0 128.8,69.8 128.6,69.5 128.3,69.2 128.2,69.0 128.0,68.8 127.9,68.2 127.8,67.8 127.9,67.2 127.9,66.8 128.0,66.2 128.1,66.0 128.3,65.5 128.4,65.2 128.6,65.0 128.8,64.5 129.0,64.2 129.2,64.0 129.4,63.8 129.8,63.5 130.1,63.5 130.6,63.4 130.8,63.5 131.3,63.7 131.6,63.9 131.8,64.1 132.1,64.3 132.3,64.7 132.4,65.0 132.6,65.3 132.7,65.8 132.8,66.0 133.1,66.4 133.3,66.8 133.4,67.0 133.6,67.2 133.7,67.8 133.6,68.2 133.5,68.5 133.3,68.9 133.1,69.2 133.0,69.5 132.9,70.0 132.9,70.5 133.0,71.0 133.0,71.5 132.9,72.0 132.7,72.2 132.6,72.5 132.3,72.8 132.1,73.1 131.8,73.3 131.6,73.5Z" fill="none" stroke="#050505" stroke-width="0.55"/>
<path d="M125.5,95.8 125.0,95.9 124.7,95.8 124.4,95.5 124.2,95.2 124.0,95.0 123.9,94.5 123.8,94.2 123.7,93.8 123.5,93.3 123.5,93.0 123.3,92.5 123.3,92.2 123.2,91.8 123.1,91.2 123.1,90.8 123.1,90.2 123.1,89.8 123.1,89.2 123.1,88.8 123.0,88.3 123.0,88.0 122.9,87.5 122.8,87.0 122.8,86.8 122.8,86.2 122.8,86.0 122.9,85.5 122.9,85.0 122.9,84.5 122.9,84.0 122.9,83.5 122.9,83.0 122.9,82.5 122.9,82.0 122.9,81.5 123.0,81.0 123.0,80.6 123.1,80.2 123.2,79.8 123.2,79.2 123.2,78.8 123.3,78.2 123.3,78.0 123.4,77.5 123.4,77.0 123.5,76.5 123.5,76.2 123.7,75.8 123.8,75.5 124.0,75.0 124.1,74.8 124.3,74.2 124.3,74.0 124.5,73.5 124.6,73.2 124.8,73.0 125.2,72.8 125.5,72.6 125.9,72.8 126.2,73.0 126.4,73.2 126.6,73.5 126.8,73.8 127.0,74.1 127.3,74.5 127.4,74.8 127.5,75.2 127.5,75.8 127.5,76.2 127.5,76.8 127.6,77.0 127.7,77.5 127.8,77.8 128.0,78.2 128.1,78.5 128.2,79.0 128.3,79.2 128.5,79.8 128.6,80.0 128.7,80.5 128.6,81.0 128.5,81.2 128.3,81.8 128.3,82.0 128.1,82.5 128.0,82.8 127.9,83.2 127.9,83.8 127.9,84.2 127.9,84.8 127.9,85.2 127.9,85.8 127.9,86.2 128.0,86.8 128.0,87.2 128.0,87.8 128.0,88.2 128.0,88.8 127.9,89.2 127.9,89.8 127.8,90.1 127.7,90.5 127.6,91.0 127.5,91.2 127.3,91.8 127.3,92.0 127.2,92.5 127.2,93.0 127.2,93.5 127.1,94.0 127.0,94.2 126.8,94.7 126.6,95.0 126.4,95.2 126.1,95.5 125.8,95.7 125.5,95.8Z" fill="none" stroke="#050505" stroke-width="0.55"/>
<path d="M159.1,85.0 158.6,85.0 158.3,85.0 157.8,84.8 157.6,84.7 157.1,84.5 156.8,84.4 156.5,84.2 156.1,84.1 155.8,84.0 155.3,83.8 155.1,83.6 154.8,83.5 154.4,83.2 154.1,83.0 153.8,82.8 153.6,82.6 153.3,82.4 152.9,82.2 152.6,82.1 152.3,81.9 152.1,81.7 151.8,81.4 151.6,81.0 151.5,80.8 151.3,80.2 151.3,80.0 151.2,79.5 151.3,79.0 151.3,78.8 151.6,78.3 151.8,78.0 152.1,77.8 152.3,77.6 152.6,77.4 152.9,77.2 153.3,77.1 153.6,77.0 154.1,76.8 154.3,76.7 154.8,76.5 155.1,76.4 155.4,76.2 155.8,76.0 156.1,75.9 156.3,75.8 156.7,75.5 157.0,75.2 157.3,75.1 157.6,75.0 158.1,74.8 158.3,74.7 158.8,74.6 159.3,74.5 159.6,74.5 160.1,74.4 160.6,74.4 161.1,74.3 161.6,74.3 161.8,74.2 162.3,74.2 162.8,74.2 163.3,74.2 163.8,74.2 164.3,74.2 164.8,74.2 165.1,74.3 165.6,74.3 166.1,74.4 166.6,74.5 166.9,74.5 167.3,74.6 167.7,74.8 168.1,74.9 168.3,75.1 168.6,75.3 168.9,75.5 169.3,75.7 169.6,75.8 170.1,75.9 170.4,76.0 170.8,76.1 171.1,76.2 171.5,76.5 171.8,76.7 172.1,76.9 172.3,77.1 172.6,77.4 172.8,77.7 173.0,78.0 173.1,78.2 173.3,78.8 173.3,79.0 173.4,79.5 173.4,80.0 173.4,80.5 173.3,80.8 173.1,81.1 172.8,81.4 172.6,81.6 172.3,81.8 172.1,82.0 171.7,82.2 171.4,82.5 171.1,82.8 170.8,83.0 170.6,83.2 170.3,83.3 169.8,83.4 169.5,83.5 169.1,83.7 168.8,83.8 168.3,83.9 168.1,84.0 167.6,84.2 167.3,84.2 166.8,84.4 166.4,84.5 166.1,84.6 165.6,84.7 165.3,84.8 164.8,84.8 164.6,84.7 164.1,84.7 163.8,84.8 163.3,84.8 162.8,84.9 162.3,85.0 161.8,85.0 161.3,84.9 160.8,84.9 160.3,84.9 159.8,84.9 159.3,85.0 159.1,85.0Z" fill="none" stroke="#050505" stroke-width="0.55"/>
<path d="M132.1,81.0 131.8,81.0 131.5,80.8 131.1,80.5 130.8,80.2 130.6,80.0 130.4,79.8 130.3,79.5 130.3,79.1 130.6,78.8 130.8,78.7 131.1,78.8 131.4,79.0 131.7,79.2 131.9,79.5 132.1,79.8 132.3,80.2 132.4,80.5 132.3,80.9 132.1,81.0Z" fill="none" stroke="#050505" stroke-width="0.55"/>
<path d="M135.6,91.8 135.1,91.9 134.6,91.8 134.3,91.7 134.1,91.5 133.8,91.1 133.7,90.8 133.6,90.2 133.6,89.8 133.6,89.2 133.6,88.8 133.6,88.3 133.4,88.0 133.3,87.7 133.1,87.3 132.9,87.0 132.7,86.8 132.6,86.5 132.3,86.1 132.1,85.8 131.8,85.5 131.6,85.2 131.4,85.0 131.3,84.7 131.2,84.2 131.3,84.0 131.6,83.5 131.8,83.3 132.1,83.2 132.3,83.0 132.8,82.8 133.1,82.7 133.6,82.7 133.9,82.8 134.3,82.8 134.7,83.0 135.1,83.1 135.3,83.2 135.8,83.4 136.1,83.5 136.6,83.7 136.8,83.9 137.1,84.2 137.2,84.5 137.3,85.0 137.4,85.2 137.5,85.8 137.6,86.0 137.8,86.5 138.0,86.8 138.1,87.0 138.2,87.5 138.2,88.0 138.1,88.5 138.1,88.9 137.9,89.2 137.8,89.5 137.6,89.9 137.3,90.2 137.1,90.5 136.8,90.7 136.6,91.0 136.4,91.2 136.1,91.5 135.8,91.7 135.6,91.8Z" fill="none" stroke="#050505" stroke-width="0.55"/>
<path d="M133.8,108.8 133.3,108.8 132.8,108.9 132.3,108.9 131.8,108.8 131.3,108.8 131.1,108.7 130.6,108.6 130.3,108.5 129.8,108.2 129.6,108.1 129.3,107.9 129.1,107.7 128.7,107.5 128.4,107.2 128.1,107.0 127.8,106.8 127.6,106.5 127.5,106.2 127.3,106.0 127.1,105.5 127.0,105.2 126.9,104.8 126.8,104.4 126.8,104.0 126.8,103.5 126.8,103.2 126.9,102.8 127.1,102.5 127.3,102.1 127.5,101.8 127.8,101.5 128.1,101.3 128.3,101.1 128.6,100.9 128.8,100.8 129.3,100.5 129.6,100.4 129.8,100.2 130.3,100.0 130.6,99.9 131.1,99.8 131.3,99.7 131.8,99.5 132.1,99.5 132.6,99.4 133.1,99.4 133.6,99.4 134.1,99.4 134.6,99.4 134.9,99.5 135.3,99.6 135.8,99.7 136.1,99.8 136.5,100.0 136.8,100.1 137.1,100.2 137.6,100.5 137.8,100.6 138.1,100.8 138.3,101.0 138.6,101.2 138.9,101.5 139.1,101.8 139.3,102.1 139.5,102.5 139.7,102.8 139.8,103.1 139.9,103.5 140.0,104.0 140.0,104.5 139.9,105.0 139.8,105.2 139.6,105.8 139.4,106.0 139.3,106.2 139.1,106.5 138.8,106.8 138.6,107.0 138.2,107.2 137.8,107.5 137.6,107.7 137.3,107.8 136.8,108.0 136.6,108.0 136.1,108.2 135.8,108.3 135.3,108.5 135.1,108.6 134.6,108.7 134.1,108.7 133.8,108.8Z" fill="none" stroke="#050505" stroke-width="0.55"/>
<path d="M131.6,71.8 131.1,71.8 130.8,71.6 130.6,71.2 130.5,71.0 130.3,70.5 130.2,70.2 130.1,69.9 129.8,69.6 129.6,69.3 129.3,69.1 129.1,68.9 128.8,68.5 128.7,68.2 128.6,67.8 128.7,67.2 128.8,66.8 128.8,66.5 129.0,66.0 129.1,65.8 129.3,65.3 129.4,65.0 129.6,64.8 129.8,64.5 130.3,64.3 130.8,64.4 131.1,64.5 131.3,64.8 131.5,65.2 131.6,65.5 131.6,66.0 131.7,66.5 131.8,66.8 132.1,67.2 132.2,67.5 132.3,67.8 132.3,68.2 132.3,68.5 132.1,69.0 132.0,69.2 132.0,69.8 132.0,70.2 132.1,70.6 132.1,71.0 132.1,71.3 131.8,71.7 131.6,71.8Z" fill="none" stroke="#050505" stroke-width="0.55"/>
<path d="M125.8,94.9 125.3,95.0 124.8,94.8 124.5,94.6 124.3,94.2 124.2,94.0 124.1,93.5 124.0,93.2 123.9,92.8 123.8,92.5 123.7,92.0 123.5,91.5 123.5,91.2 123.5,90.8 123.5,90.2 123.5,89.8 123.5,89.2 123.5,88.8 123.5,88.2 123.3,87.8 123.3,87.5 123.2,87.0 123.1,86.5 123.1,86.0 123.2,85.5 123.2,85.0 123.2,84.5 123.2,84.0 123.2,83.5 123.1,83.0 123.1,82.5 123.2,82.0 123.2,81.5 123.3,81.1 123.4,80.8 123.5,80.2 123.5,80.0 123.6,79.5 123.6,79.0 123.7,78.5 123.7,78.0 123.7,77.5 123.8,77.0 123.8,76.8 124.0,76.2 124.1,76.0 124.3,75.5 124.5,75.2 124.6,75.0 124.8,74.5 124.9,74.2 125.1,74.0 125.4,73.8 125.7,73.8 126.0,73.9 126.3,74.2 126.5,74.5 126.7,74.8 126.8,75.1 126.9,75.5 126.9,76.0 126.9,76.5 127.0,77.0 127.1,77.2 127.2,77.8 127.3,78.1 127.4,78.5 127.5,79.0 127.6,79.2 127.8,79.7 127.9,80.0 128.0,80.5 128.0,81.0 127.9,81.5 127.8,81.9 127.7,82.2 127.6,82.8 127.5,83.0 127.5,83.5 127.5,84.0 127.5,84.5 127.5,85.0 127.5,85.5 127.6,85.8 127.6,86.2 127.6,86.8 127.6,87.2 127.7,87.8 127.7,88.2 127.6,88.8 127.6,89.2 127.5,89.5 127.4,90.0 127.3,90.5 127.2,90.8 127.0,91.1 126.9,91.5 126.8,91.8 126.7,92.2 126.7,92.8 126.7,93.2 126.7,93.8 126.5,94.1 126.3,94.5 126.0,94.7 125.8,94.9Z" fill="none" stroke="#050505" stroke-width="0.55"/>
<path d="M159.3,84.5 158.8,84.5 158.4,84.5 158.1,84.4 157.6,84.2 157.3,84.1 157.1,84.0 156.6,83.8 156.3,83.6 156.1,83.5 155.7,83.2 155.3,83.0 155.1,82.8 154.8,82.6 154.6,82.3 154.3,82.0 154.1,81.8 153.9,81.5 153.7,81.2 153.5,81.0 153.3,80.8 152.9,80.5 152.6,80.2 152.4,80.0 152.3,79.5 152.3,79.4 152.4,79.0 152.6,78.6 152.8,78.2 153.1,78.0 153.3,77.9 153.6,77.8 154.1,77.6 154.3,77.5 154.8,77.3 155.1,77.1 155.3,77.0 155.7,76.8 156.1,76.6 156.3,76.4 156.6,76.2 156.9,76.0 157.3,75.8 157.6,75.6 157.8,75.4 158.3,75.2 158.6,75.2 159.1,75.1 159.6,75.0 159.8,75.0 160.3,74.9 160.8,74.8 161.2,74.8 161.6,74.7 162.1,74.6 162.6,74.6 163.1,74.6 163.6,74.6 164.1,74.7 164.6,74.7 164.8,74.8 165.3,74.8 165.8,74.8 166.3,74.8 166.8,74.9 167.3,75.0 167.6,75.1 167.8,75.3 168.1,75.5 168.3,75.8 168.6,76.0 168.9,76.2 169.3,76.5 169.6,76.5 170.1,76.6 170.6,76.7 170.8,76.8 171.2,77.0 171.5,77.2 171.7,77.5 171.9,77.8 172.1,78.1 172.2,78.5 172.1,79.0 172.0,79.2 171.6,79.5 171.3,79.6 171.1,79.9 170.9,80.2 171.0,80.8 171.1,81.0 171.1,81.5 171.0,81.8 170.8,82.1 170.6,82.4 170.3,82.6 170.0,82.8 169.6,82.9 169.3,83.0 168.8,83.2 168.6,83.3 168.2,83.5 167.8,83.6 167.4,83.8 167.1,83.8 166.6,84.0 166.3,84.0 165.8,84.2 165.3,84.2 164.8,84.2 164.3,84.2 163.8,84.2 163.5,84.2 163.1,84.3 162.6,84.4 162.1,84.4 161.6,84.4 161.1,84.4 160.6,84.4 160.1,84.4 159.6,84.5 159.3,84.5Z" fill="none" stroke="#050505" stroke-width="0.55"/>
<path d="M135.1,90.8 134.7,90.8 134.4,90.5 134.3,90.1 134.3,89.8 134.3,89.4 134.3,89.0 134.3,88.7 134.2,88.2 134.1,87.8 134.0,87.5 133.8,87.2 133.6,86.8 133.5,86.5 133.4,86.0 133.3,85.5 133.4,85.0 133.6,84.6 133.8,84.5 134.3,84.4 134.8,84.5 135.1,84.5 135.6,84.6 135.8,84.8 136.1,85.0 136.3,85.5 136.4,85.8 136.5,86.2 136.6,86.5 136.8,86.8 137.1,87.2 137.2,87.5 137.3,87.9 137.3,88.2 137.3,88.5 137.1,89.0 136.8,89.2 136.6,89.4 136.3,89.6 136.1,89.8 135.8,90.1 135.6,90.4 135.3,90.7 135.1,90.8Z" fill="none" stroke="#050505" stroke-width="0.55"/>
<path d="M133.8,108.5 133.3,108.6 132.8,108.6 132.3,108.6 131.8,108.6 131.3,108.5 131.1,108.5 130.6,108.3 130.3,108.2 129.9,108.0 129.6,107.8 129.3,107.6 129.1,107.5 128.8,107.2 128.5,107.0 128.2,106.8 128.0,106.5 127.8,106.2 127.5,105.9 127.4,105.5 127.3,105.2 127.1,104.8 127.1,104.2 127.1,103.8 127.1,103.2 127.2,102.8 127.4,102.5 127.5,102.2 127.8,101.9 128.1,101.6 128.3,101.4 128.6,101.2 128.9,101.0 129.3,100.8 129.6,100.6 129.8,100.5 130.3,100.3 130.6,100.2 131.0,100.0 131.3,99.9 131.7,99.8 132.1,99.7 132.6,99.6 133.1,99.6 133.6,99.6 134.1,99.6 134.6,99.7 135.0,99.8 135.3,99.8 135.8,100.0 136.1,100.1 136.4,100.2 136.8,100.4 137.1,100.5 137.5,100.8 137.8,100.9 138.1,101.1 138.3,101.4 138.6,101.6 138.8,102.0 139.0,102.2 139.1,102.5 139.3,102.9 139.5,103.2 139.6,103.6 139.6,104.0 139.6,104.5 139.6,104.9 139.5,105.2 139.3,105.6 139.1,106.0 138.9,106.2 138.7,106.5 138.5,106.8 138.2,107.0 137.8,107.2 137.6,107.4 137.3,107.5 136.8,107.7 136.6,107.8 136.1,107.9 135.8,108.0 135.3,108.2 135.1,108.3 134.6,108.4 134.1,108.5 133.8,108.5Z" fill="none" stroke="#050505" stroke-width="0.55"/>
<path d="M130.3,68.1 130.0,68.0 130.1,67.7 130.3,67.8 130.3,68.1Z" fill="none" stroke="#050505" stroke-width="0.55"/>
<path d="M162.3,83.8 161.8,83.8 161.3,83.8 160.8,83.9 160.3,83.9 159.8,84.0 159.3,84.0 158.8,84.0 158.3,83.9 157.9,83.8 157.6,83.6 157.3,83.4 157.1,83.2 156.8,83.0 156.6,82.5 156.8,82.0 156.9,81.8 157.0,81.2 157.1,81.0 157.0,80.8 156.8,80.5 156.4,80.2 156.1,80.2 155.6,80.1 155.1,80.0 154.8,79.8 154.6,79.5 154.5,79.2 154.5,78.8 154.7,78.5 154.9,78.2 155.1,78.0 155.4,77.8 155.7,77.5 156.0,77.2 156.3,77.1 156.6,77.0 157.0,76.8 157.3,76.6 157.6,76.4 157.8,76.2 158.3,76.0 158.6,75.9 159.1,75.8 159.6,75.8 160.1,75.8 160.3,75.7 160.8,75.5 161.1,75.4 161.6,75.3 161.8,75.2 162.3,75.2 162.8,75.2 163.1,75.3 163.6,75.4 163.9,75.5 164.3,75.6 164.8,75.6 165.3,75.6 165.6,75.5 166.1,75.4 166.6,75.4 167.1,75.5 167.3,75.6 167.6,75.8 167.8,76.1 168.1,76.4 168.3,76.8 168.6,77.0 168.8,77.2 169.1,77.3 169.6,77.4 170.1,77.4 170.4,77.5 170.7,77.8 170.8,78.2 170.6,78.6 170.3,78.9 170.1,79.2 169.9,79.5 169.8,79.8 169.7,80.2 169.8,80.8 169.8,81.0 169.9,81.5 169.8,81.9 169.6,82.2 169.3,82.4 169.1,82.5 168.6,82.8 168.3,82.9 168.0,83.0 167.6,83.2 167.3,83.2 166.8,83.4 166.3,83.5 166.1,83.5 165.6,83.7 165.1,83.7 164.6,83.7 164.1,83.6 163.6,83.6 163.1,83.6 162.6,83.7 162.3,83.8Z" fill="none" stroke="#050505" stroke-width="0.55"/>
<path d="M125.5,93.8 125.0,93.8 124.9,93.5 124.8,93.2 124.7,92.8 124.6,92.2 124.5,92.0 124.3,91.7 124.1,91.2 124.0,91.0 124.0,90.5 124.0,90.0 124.0,89.5 124.0,89.0 124.0,88.5 123.9,88.0 123.8,87.6 123.7,87.2 123.6,86.8 123.5,86.5 123.5,86.0 123.5,85.5 123.6,85.2 123.6,84.8 123.6,84.2 123.5,84.0 123.5,83.5 123.5,83.0 123.5,82.5 123.5,82.0 123.5,81.7 123.7,81.2 123.8,80.8 123.9,80.5 124.0,80.0 124.1,79.8 124.2,79.2 124.2,78.8 124.2,78.2 124.2,77.8 124.2,77.2 124.3,76.8 124.4,76.5 124.6,76.2 124.8,76.0 125.0,75.7 125.5,75.5 126.0,75.8 126.1,76.0 126.3,76.5 126.4,76.8 126.5,77.2 126.6,77.5 126.7,78.0 126.8,78.4 126.9,78.8 127.0,79.2 127.1,79.5 127.3,80.0 127.4,80.2 127.4,80.8 127.4,81.2 127.3,81.8 127.3,82.0 127.2,82.5 127.1,83.0 127.0,83.3 127.0,83.8 127.0,84.1 127.1,84.5 127.1,85.0 127.2,85.5 127.2,86.0 127.2,86.5 127.3,87.0 127.3,87.5 127.3,88.0 127.2,88.5 127.2,89.0 127.1,89.5 127.0,89.8 126.8,90.2 126.6,90.5 126.4,90.8 126.2,91.0 125.9,91.2 125.6,91.5 125.4,91.8 125.4,92.2 125.5,92.6 125.8,93.0 125.8,93.2 125.8,93.5 125.5,93.8Z" fill="none" stroke="#050505" stroke-width="0.55"/>
<path d="M135.6,88.3 135.3,88.2 135.1,87.8 135.0,87.5 134.8,87.1 134.6,86.8 134.5,86.5 134.6,86.2 134.8,85.9 135.1,86.0 135.3,86.2 135.5,86.8 135.6,87.0 135.8,87.5 135.9,87.8 135.8,88.1 135.6,88.3Z" fill="none" stroke="#050505" stroke-width="0.55"/>
<path d="M133.8,108.3 133.3,108.3 132.8,108.4 132.3,108.4 131.8,108.4 131.3,108.3 131.1,108.2 130.6,108.0 130.3,107.9 130.0,107.8 129.6,107.5 129.3,107.3 129.1,107.1 128.8,106.9 128.6,106.7 128.3,106.4 128.1,106.1 127.8,105.8 127.7,105.5 127.5,105.0 127.5,104.8 127.4,104.2 127.4,103.8 127.5,103.2 127.5,102.9 127.7,102.5 127.9,102.2 128.1,102.0 128.4,101.8 128.8,101.5 129.1,101.3 129.3,101.2 129.6,101.0 130.1,100.8 130.3,100.7 130.7,100.5 131.1,100.3 131.3,100.2 131.8,100.0 132.1,99.9 132.6,99.8 133.1,99.8 133.6,99.8 134.1,99.9 134.6,99.9 134.8,100.0 135.3,100.1 135.6,100.2 136.1,100.4 136.3,100.6 136.7,100.8 137.1,100.9 137.3,101.1 137.6,101.3 137.8,101.5 138.1,101.8 138.3,102.1 138.5,102.5 138.6,102.8 138.8,103.2 138.9,103.5 139.1,103.8 139.1,104.2 139.1,104.8 139.1,105.1 138.9,105.5 138.8,105.8 138.6,106.2 138.3,106.5 138.1,106.7 137.8,106.9 137.6,107.1 137.1,107.2 136.8,107.3 136.3,107.5 136.1,107.5 135.6,107.7 135.3,107.8 134.9,108.0 134.6,108.1 134.1,108.2 133.8,108.3Z" fill="none" stroke="#050505" stroke-width="0.55"/>
<path d="M160.3,83.3 159.8,83.4 159.3,83.4 158.8,83.3 158.6,83.2 158.2,83.0 157.9,82.8 157.8,82.4 157.8,82.0 157.8,81.8 157.9,81.2 157.9,80.8 157.8,80.3 157.6,80.0 157.3,79.8 157.1,79.6 156.8,79.5 156.4,79.2 156.1,79.0 156.0,78.8 156.1,78.4 156.3,78.0 156.6,77.8 156.8,77.7 157.3,77.5 157.6,77.5 158.1,77.4 158.6,77.5 158.8,77.6 159.1,77.8 159.3,78.0 159.7,78.2 160.1,78.3 160.3,78.2 160.6,77.9 160.7,77.5 160.9,77.2 161.1,76.9 161.3,76.6 161.6,76.4 162.0,76.2 162.3,76.2 162.6,76.3 163.1,76.4 163.3,76.5 163.8,76.7 164.3,76.7 164.8,76.7 165.3,76.6 165.8,76.6 166.3,76.5 166.6,76.5 166.8,76.5 167.1,76.8 167.3,77.0 167.6,77.3 167.8,77.6 168.1,77.9 168.3,78.2 168.4,78.5 168.3,79.0 168.2,79.2 168.0,79.5 167.8,79.8 167.7,80.2 168.1,80.5 168.3,80.7 168.6,81.0 168.6,81.2 168.6,81.7 168.3,82.0 168.1,82.2 167.8,82.3 167.4,82.5 167.1,82.6 166.6,82.7 166.1,82.8 165.8,82.8 165.3,82.9 164.8,82.9 164.3,82.8 164.1,82.7 163.8,82.5 163.6,82.1 163.6,82.0 163.8,81.7 164.3,81.6 164.8,81.6 165.3,81.6 165.7,81.5 166.1,81.3 166.3,81.1 166.6,80.9 166.8,80.5 166.8,80.5 166.3,80.4 165.8,80.3 165.6,80.2 165.1,80.1 164.6,80.0 164.1,80.1 163.6,80.2 163.3,80.5 163.1,80.6 162.8,80.8 162.3,80.9 161.8,81.0 161.7,81.2 161.7,81.8 161.6,82.2 161.5,82.5 161.3,82.8 161.1,83.0 160.6,83.2 160.3,83.3Z" fill="none" stroke="#050505" stroke-width="0.55"/>
<path d="M125.5,89.8 125.2,89.8 125.0,89.5 124.9,89.0 124.8,88.5 124.7,88.2 124.6,87.8 124.5,87.5 124.3,87.0 124.2,86.8 124.1,86.2 124.0,85.9 124.0,85.5 124.0,85.0 124.0,84.5 123.9,84.0 123.9,83.5 123.9,83.0 123.9,82.5 124.0,82.0 124.0,81.7 124.2,81.2 124.4,81.0 124.5,80.6 124.7,80.2 124.8,80.0 125.0,79.5 125.0,79.1 125.1,78.8 125.1,78.2 125.1,77.8 125.3,77.3 125.6,77.5 125.8,78.0 125.8,78.2 125.9,78.8 126.1,79.0 126.3,79.5 126.4,79.8 126.6,80.0 126.7,80.5 126.8,81.0 126.7,81.5 126.6,82.0 126.6,82.5 126.6,83.0 126.5,83.2 126.6,83.5 126.6,84.0 126.6,84.5 126.7,85.0 126.7,85.5 126.7,86.0 126.7,86.5 126.7,87.0 126.7,87.5 126.7,88.0 126.6,88.5 126.5,88.8 126.3,89.2 126.1,89.5 125.8,89.7 125.5,89.8Z" fill="none" stroke="#050505" stroke-width="0.55"/>
<path d="M133.3,108.0 132.8,108.1 132.3,108.1 131.8,108.1 131.4,108.0 131.1,107.9 130.6,107.8 130.3,107.6 130.1,107.4 129.8,107.2 129.6,106.9 129.3,106.7 129.1,106.4 128.8,106.1 128.6,105.8 128.3,105.5 128.2,105.2 128.1,104.8 128.0,104.5 128.0,104.0 128.0,103.5 128.1,103.1 128.2,102.8 128.4,102.5 128.6,102.2 129.0,102.0 129.3,101.9 129.7,101.8 130.1,101.6 130.3,101.5 130.6,101.2 130.9,101.0 131.2,100.8 131.6,100.5 131.8,100.4 132.2,100.2 132.6,100.2 133.1,100.1 133.6,100.1 134.1,100.2 134.3,100.3 134.8,100.5 135.1,100.6 135.4,100.8 135.8,101.0 136.1,101.1 136.3,101.3 136.6,101.5 136.9,101.8 137.1,102.0 137.3,102.4 137.4,102.8 137.5,103.2 137.6,103.5 137.8,104.0 137.9,104.2 138.1,104.5 138.3,105.0 138.3,105.2 138.3,105.5 138.1,106.0 137.9,106.2 137.7,106.5 137.3,106.7 137.1,106.8 136.6,106.9 136.1,107.0 135.8,107.0 135.3,107.2 135.1,107.4 134.8,107.5 134.3,107.7 134.1,107.8 133.6,108.0 133.3,108.0Z" fill="none" stroke="#050505" stroke-width="0.55"/>
<path d="M163.3,79.0 162.8,79.2 162.3,79.1 162.1,78.9 162.0,78.5 162.1,78.1 162.3,77.8 162.6,77.7 162.8,77.8 163.3,77.9 163.8,78.0 164.3,77.8 164.7,77.8 165.1,77.7 165.6,77.7 165.8,77.8 166.1,78.1 166.1,78.5 166.0,78.8 165.6,78.9 165.1,78.9 164.6,78.9 164.1,78.8 163.6,78.9 163.3,79.0Z" fill="none" stroke="#050505" stroke-width="0.55"/>
<path d="M159.8,82.1 159.3,82.1 159.2,81.8 159.6,81.6 159.8,81.8 159.8,82.1Z" fill="none" stroke="#050505" stroke-width="0.55"/>
<path d="M125.5,85.9 125.2,85.8 124.9,85.5 124.8,85.2 124.6,84.8 124.5,84.5 124.5,84.0 124.4,83.5 124.5,83.0 124.6,82.8 124.8,82.5 125.3,82.4 125.5,82.6 125.7,83.0 125.8,83.2 125.9,83.8 125.9,84.2 126.0,84.8 125.9,85.2 125.8,85.7 125.5,85.9Z" fill="none" stroke="#050505" stroke-width="0.55"/>
<path d="M133.3,107.5 132.8,107.7 132.3,107.7 131.8,107.7 131.3,107.6 131.1,107.5 130.7,107.2 130.5,107.0 130.3,106.5 130.3,106.0 130.4,105.5 130.5,105.0 130.6,104.8 130.6,104.2 130.6,103.8 130.8,103.2 131.0,103.0 131.2,102.8 131.6,102.5 131.8,102.3 132.1,102.1 132.3,101.8 132.3,101.5 132.5,101.0 132.8,100.8 133.1,100.7 133.3,100.8 133.8,101.0 134.1,101.2 134.3,101.5 134.5,101.8 134.7,102.0 135.0,102.2 135.1,102.5 135.3,103.0 135.3,103.5 135.3,104.0 135.3,104.2 135.6,104.7 135.8,105.0 136.1,105.1 136.3,105.3 136.3,105.7 136.1,105.8 135.6,105.9 135.3,106.0 135.0,106.2 134.7,106.5 134.5,106.8 134.2,107.0 133.9,107.2 133.6,107.5 133.3,107.5Z" fill="none" stroke="#050505" stroke-width="0.55"/>
<path d="M132.8,106.8 132.3,106.9 131.8,106.8 131.6,106.6 131.4,106.2 131.4,105.8 131.5,105.2 131.6,105.0 131.6,104.5 131.8,104.0 132.0,103.8 132.3,103.6 132.8,103.5 133.3,103.8 133.4,104.0 133.4,104.5 133.4,105.0 133.3,105.5 133.3,105.9 133.2,106.2 133.1,106.5 132.8,106.8Z" fill="none" stroke="#050505" stroke-width="0.55"/>
<rect x="189.5" y="77.7" width="0.8" height="0.8" fill="#777"/>
<rect x="182.5" y="67.4" width="0.8" height="0.8" fill="#777"/>
<rect x="180.2" y="88.3" width="0.8" height="0.8" fill="#777"/>
<rect x="193.9" y="82.8" width="0.8" height="0.8" fill="#777"/>
<rect x="195.5" y="78.8" width="0.8" height="0.8" fill="#777"/>
<rect x="120.6" y="111.0" width="0.8" height="0.8" fill="#777"/>
<rect x="180.3" y="97.3" width="0.8" height="0.8" fill="#777"/>
<rect x="187.9" y="72.3" width="0.8" height="0.8" fill="#777"/>
<rect x="180.4" y="74.2" width="0.8" height="0.8" fill="#777"/>
<rect x="143.3" y="70.0" width="0.8" height="0.8" fill="#777"/>
<rect x="177.1" y="85.0" width="0.8" height="0.8" fill="#777"/>
<rect x="159.0" y="62.0" width="0.8" height="0.8" fill="#777"/>
<rect x="141.6" y="106.5" width="0.8" height="0.8" fill="#777"/>
<rect x="161.9" y="69.7" width="0.8" height="0.8" fill="#777"/>
<rect x="180.9" y="93.1" width="0.8" height="0.8" fill="#777"/>
<rect x="163.6" y="106.9" width="0.8" height="0.8" fill="#777"/>
<rect x="179.6" y="67.1" width="0.8" height="0.8" fill="#777"/>
<rect x="122.4" y="62.3" width="0.8" height="0.8" fill="#777"/>
<rect x="182.8" y="72.0" width="0.8" height="0.8" fill="#777"/>
<rect x="164.5" y="89.6" width="0.8" height="0.8" fill="#777"/>
<rect x="122.2" y="66.7" width="0.8" height="0.8" fill="#777"/>
<rect x="187.5" y="66.4" width="0.8" height="0.8" fill="#777"/>
<rect x="161.4" y="69.3" width="0.8" height="0.8" fill="#777"/>
<rect x="118.3" y="111.6" width="0.8" height="0.8" fill="#777"/>
<rect x="157.0" y="66.9" width="0.8" height="0.8" fill="#777"/>
<rect x="130.3" y="94.1" width="0.8" height="0.8" fill="#777"/>
<rect x="178.7" y="69.7" width="0.8" height="0.8" fill="#777"/>
<rect x="165.0" y="90.9" width="0.8" height="0.8" fill="#777"/>
<rect x="179.4" y="89.5" width="0.8" height="0.8" fill="#777"/>
<rect x="179.8" y="76.6" width="0.8" height="0.8" fill="#777"/>
<rect x="152.7" y="66.2" width="0.8" height="0.8" fill="#777"/>
<rect x="141.0" y="107.5" width="0.8" height="0.8" fill="#777"/>
<rect x="186.3" y="99.0" width="0.8" height="0.8" fill="#777"/>
<rect x="143.8" y="100.5" width="0.8" height="0.8" fill="#777"/>
<rect x="175.8" y="102.6" width="0.8" height="0.8" fill="#777"/>
<rect x="186.0" y="85.2" width="0.8" height="0.8" fill="#777"/>
<rect x="123.1" y="111.7" width="0.8" height="0.8" fill="#777"/>
<rect x="193.4" y="75.7" width="0.8" height="0.8" fill="#777"/>
<rect x="149.6" y="63.9" width="0.8" height="0.8" fill="#777"/>
<rect x="135.4" y="58.0" width="0.8" height="0.8" fill="#777"/>
<rect x="157.8" y="68.7" width="0.8" height="0.8" fill="#777"/>
<rect x="148.1" y="65.1" width="0.8" height="0.8" fill="#777"/>
<rect x="153.9" y="66.9" width="0.8" height="0.8" fill="#777"/>
<rect x="143.7" y="104.1" width="0.8" height="0.8" fill="#777"/>
<rect x="144.9" y="72.2" width="0.8" height="0.8" fill="#777"/>
<rect x="171.0" y="105.2" width="0.8" height="0.8" fill="#777"/>
<rect x="119.0" y="110.7" width="0.8" height="0.8" fill="#777"/>
<rect x="142.7" y="72.8" width="0.8" height="0.8" fill="#777"/>
<rect x="154.2" y="67.7" width="0.8" height="0.8" fill="#777"/>
<rect x="181.2" y="72.3" width="0.8" height="0.8" fill="#777"/>
<rect x="161.7" y="65.2" width="0.8" height="0.8" fill="#777"/>
<rect x="133.0" y="96.8" width="0.8" height="0.8" fill="#777"/>
<rect x="182.9" y="96.3" width="0.8" height="0.8" fill="#777"/>
<rect x="189.3" y="94.3" width="0.8" height="0.8" fill="#777"/>
<rect x="146.3" y="109.9" width="0.8" height="0.8" fill="#777"/>
<ellipse cx="132.50" cy="74.30" rx="13.0" ry="21.7" fill="none" stroke="#cc1f38" stroke-width="1.6"/>
<ellipse cx="170.30" cy="78.80" rx="23.6" ry="10.8" fill="none" stroke="#25963f" stroke-width="1.6"/>
<ellipse cx="162.30" cy="98.30" rx="20.6" ry="7.9" fill="none" stroke="#8e1a5c" stroke-width="1.6" transform="rotate(-5 162.30 98.30)"/>
<ellipse cx="132.40" cy="108.80" rx="12.0" ry="10.8" fill="none" stroke="#1c1c55" stroke-width="1.6"/>
<path d="M103.30,23.75 H214.30 V134.45" fill="none" stroke="#333" stroke-width="1.1"/>
<path d="M103.30,23.75 V134.45 H214.30" fill="none" stroke="#000" stroke-width="1.45"/>
<line x1="101.70" y1="126.12" x2="103.30" y2="126.12" stroke="#1a1a1a" stroke-width="0.7"/>
<line x1="101.70" y1="121.25" x2="103.30" y2="121.25" stroke="#1a1a1a" stroke-width="0.7"/>
<line x1="101.70" y1="117.79" x2="103.30" y2="117.79" stroke="#1a1a1a" stroke-width="0.7"/>
<line x1="101.70" y1="115.11" x2="103.30" y2="115.11" stroke="#1a1a1a" stroke-width="0.7"/>
<line x1="101.70" y1="112.91" x2="103.30" y2="112.91" stroke="#1a1a1a" stroke-width="0.7"/>
<line x1="101.70" y1="111.06" x2="103.30" y2="111.06" stroke="#1a1a1a" stroke-width="0.7"/>
<line x1="101.70" y1="109.46" x2="103.30" y2="109.46" stroke="#1a1a1a" stroke-width="0.7"/>
<line x1="101.70" y1="108.04" x2="103.30" y2="108.04" stroke="#1a1a1a" stroke-width="0.7"/>
<line x1="101.70" y1="98.44" x2="103.30" y2="98.44" stroke="#1a1a1a" stroke-width="0.7"/>
<line x1="101.70" y1="93.57" x2="103.30" y2="93.57" stroke="#1a1a1a" stroke-width="0.7"/>
<line x1="101.70" y1="90.11" x2="103.30" y2="90.11" stroke="#1a1a1a" stroke-width="0.7"/>
<line x1="101.70" y1="87.43" x2="103.30" y2="87.43" stroke="#1a1a1a" stroke-width="0.7"/>
<line x1="101.70" y1="85.24" x2="103.30" y2="85.24" stroke="#1a1a1a" stroke-width="0.7"/>
<line x1="101.70" y1="83.39" x2="103.30" y2="83.39" stroke="#1a1a1a" stroke-width="0.7"/>
<line x1="101.70" y1="81.78" x2="103.30" y2="81.78" stroke="#1a1a1a" stroke-width="0.7"/>
<line x1="101.70" y1="80.37" x2="103.30" y2="80.37" stroke="#1a1a1a" stroke-width="0.7"/>
<line x1="101.70" y1="70.77" x2="103.30" y2="70.77" stroke="#1a1a1a" stroke-width="0.7"/>
<line x1="101.70" y1="65.90" x2="103.30" y2="65.90" stroke="#1a1a1a" stroke-width="0.7"/>
<line x1="101.70" y1="62.44" x2="103.30" y2="62.44" stroke="#1a1a1a" stroke-width="0.7"/>
<line x1="101.70" y1="59.76" x2="103.30" y2="59.76" stroke="#1a1a1a" stroke-width="0.7"/>
<line x1="101.70" y1="57.56" x2="103.30" y2="57.56" stroke="#1a1a1a" stroke-width="0.7"/>
<line x1="101.70" y1="55.71" x2="103.30" y2="55.71" stroke="#1a1a1a" stroke-width="0.7"/>
<line x1="101.70" y1="54.11" x2="103.30" y2="54.11" stroke="#1a1a1a" stroke-width="0.7"/>
<line x1="101.70" y1="52.69" x2="103.30" y2="52.69" stroke="#1a1a1a" stroke-width="0.7"/>
<line x1="101.70" y1="43.09" x2="103.30" y2="43.09" stroke="#1a1a1a" stroke-width="0.7"/>
<line x1="101.70" y1="38.22" x2="103.30" y2="38.22" stroke="#1a1a1a" stroke-width="0.7"/>
<line x1="101.70" y1="34.76" x2="103.30" y2="34.76" stroke="#1a1a1a" stroke-width="0.7"/>
<line x1="101.70" y1="32.08" x2="103.30" y2="32.08" stroke="#1a1a1a" stroke-width="0.7"/>
<line x1="101.70" y1="29.89" x2="103.30" y2="29.89" stroke="#1a1a1a" stroke-width="0.7"/>
<line x1="101.70" y1="28.04" x2="103.30" y2="28.04" stroke="#1a1a1a" stroke-width="0.7"/>
<line x1="101.70" y1="26.43" x2="103.30" y2="26.43" stroke="#1a1a1a" stroke-width="0.7"/>
<line x1="101.70" y1="25.02" x2="103.30" y2="25.02" stroke="#1a1a1a" stroke-width="0.7"/>
<line x1="100.30" y1="134.45" x2="103.30" y2="134.45" stroke="#1a1a1a" stroke-width="0.9"/>
<text x="96.70" y="137.45" font-size="8.2" fill="#111" class="tk" text-anchor="end">10</text>
<text x="96.90" y="133.85" font-size="6.4" fill="#111" class="tk">0</text>
<line x1="100.30" y1="106.77" x2="103.30" y2="106.77" stroke="#1a1a1a" stroke-width="0.9"/>
<text x="96.70" y="109.77" font-size="8.2" fill="#111" class="tk" text-anchor="end">10</text>
<text x="96.90" y="106.17" font-size="6.4" fill="#111" class="tk">1</text>
<line x1="100.30" y1="79.10" x2="103.30" y2="79.10" stroke="#1a1a1a" stroke-width="0.9"/>
<text x="96.70" y="82.10" font-size="8.2" fill="#111" class="tk" text-anchor="end">10</text>
<text x="96.90" y="78.50" font-size="6.4" fill="#111" class="tk">2</text>
<line x1="100.30" y1="51.42" x2="103.30" y2="51.42" stroke="#1a1a1a" stroke-width="0.9"/>
<text x="96.70" y="54.42" font-size="8.2" fill="#111" class="tk" text-anchor="end">10</text>
<text x="96.90" y="50.82" font-size="6.4" fill="#111" class="tk">3</text>
<line x1="100.30" y1="23.75" x2="103.30" y2="23.75" stroke="#1a1a1a" stroke-width="0.9"/>
<text x="96.70" y="26.75" font-size="8.2" fill="#111" class="tk" text-anchor="end">10</text>
<text x="96.90" y="23.15" font-size="6.4" fill="#111" class="tk">4</text>
<line x1="103.30" y1="134.45" x2="103.30" y2="137.45" stroke="#1a1a1a" stroke-width="1.0"/>
<line x1="108.73" y1="134.45" x2="108.73" y2="136.15" stroke="#1a1a1a" stroke-width="0.8"/>
<line x1="114.15" y1="134.45" x2="114.15" y2="136.15" stroke="#1a1a1a" stroke-width="0.8"/>
<line x1="119.58" y1="134.45" x2="119.58" y2="136.15" stroke="#1a1a1a" stroke-width="0.8"/>
<line x1="125.00" y1="134.45" x2="125.00" y2="137.45" stroke="#1a1a1a" stroke-width="1.0"/>
<line x1="130.43" y1="134.45" x2="130.43" y2="136.15" stroke="#1a1a1a" stroke-width="0.8"/>
<line x1="135.85" y1="134.45" x2="135.85" y2="136.15" stroke="#1a1a1a" stroke-width="0.8"/>
<line x1="141.28" y1="134.45" x2="141.28" y2="136.15" stroke="#1a1a1a" stroke-width="0.8"/>
<line x1="146.70" y1="134.45" x2="146.70" y2="137.45" stroke="#1a1a1a" stroke-width="1.0"/>
<line x1="152.13" y1="134.45" x2="152.13" y2="136.15" stroke="#1a1a1a" stroke-width="0.8"/>
<line x1="157.55" y1="134.45" x2="157.55" y2="136.15" stroke="#1a1a1a" stroke-width="0.8"/>
<line x1="162.98" y1="134.45" x2="162.98" y2="136.15" stroke="#1a1a1a" stroke-width="0.8"/>
<line x1="168.40" y1="134.45" x2="168.40" y2="137.45" stroke="#1a1a1a" stroke-width="1.0"/>
<line x1="173.83" y1="134.45" x2="173.83" y2="136.15" stroke="#1a1a1a" stroke-width="0.8"/>
<line x1="179.25" y1="134.45" x2="179.25" y2="136.15" stroke="#1a1a1a" stroke-width="0.8"/>
<line x1="184.68" y1="134.45" x2="184.68" y2="136.15" stroke="#1a1a1a" stroke-width="0.8"/>
<line x1="190.10" y1="134.45" x2="190.10" y2="137.45" stroke="#1a1a1a" stroke-width="1.0"/>
<line x1="195.53" y1="134.45" x2="195.53" y2="136.15" stroke="#1a1a1a" stroke-width="0.8"/>
<line x1="200.95" y1="134.45" x2="200.95" y2="136.15" stroke="#1a1a1a" stroke-width="0.8"/>
<line x1="206.38" y1="134.45" x2="206.38" y2="136.15" stroke="#1a1a1a" stroke-width="0.8"/>
<line x1="211.80" y1="134.45" x2="211.80" y2="137.45" stroke="#1a1a1a" stroke-width="1.0"/>
<text x="103.30" y="144.95" font-size="8.2" fill="#111" class="tk" text-anchor="middle">0</text>
<text x="125.00" y="144.95" font-size="8.2" fill="#111" class="tk" text-anchor="middle">200</text>
<text x="146.70" y="144.95" font-size="8.2" fill="#111" class="tk" text-anchor="middle">400</text>
<text x="168.40" y="144.95" font-size="8.2" fill="#111" class="tk" text-anchor="middle">600</text>
<text x="190.10" y="144.95" font-size="8.2" fill="#111" class="tk" text-anchor="middle">800</text>
<text x="211.80" y="144.95" font-size="8.2" fill="#111" class="tk" text-anchor="middle">1000</text>
<text x="156.80" y="155.95" font-size="8.7" fill="#111" stroke="#111" stroke-width="0.3" text-anchor="middle">FSC-H</text>
<text transform="translate(81.00,79.25) rotate(-90)" font-size="8.6" fill="#111" class="tk" text-anchor="middle">SSC-H</text>
<text x="134.20" y="49.50" font-size="10.2" fill="#bd2c46" stroke="#bd2c46" stroke-width="0.2" text-anchor="start">29.6 +/- 8.0</text>
<text x="157.60" y="63.80" font-size="10.2" fill="#3a8c45" stroke="#3a8c45" stroke-width="0.2" text-anchor="start">19.7 +/- 3.6</text>
<text x="153.40" y="116.50" font-size="10.2" fill="#7c2c58" stroke="#7c2c58" stroke-width="0.2" text-anchor="start">13.9 +/- 1.7</text>
<text x="108.30" y="131.90" font-size="10.2" fill="#2c2c5a" stroke="#2c2c5a" stroke-width="0.2" text-anchor="start">26.3 +/- 4.7</text>
<rect x="281.5" y="101.5" width="0.9" height="0.9" fill="#777" opacity="0.75"/>
<rect x="283.6" y="107.8" width="0.9" height="0.9" fill="#777" opacity="0.75"/>
<rect x="288.8" y="106.7" width="0.9" height="0.9" fill="#777" opacity="0.75"/>
<rect x="282.4" y="103.5" width="0.9" height="0.9" fill="#777" opacity="0.75"/>
<rect x="287.3" y="112.2" width="0.9" height="0.9" fill="#777" opacity="0.75"/>
<rect x="285.5" y="101.9" width="0.9" height="0.9" fill="#777" opacity="0.75"/>
<rect x="280.9" y="112.1" width="0.9" height="0.9" fill="#777" opacity="0.75"/>
<rect x="285.3" y="100.1" width="0.9" height="0.9" fill="#777" opacity="0.75"/>
<rect x="284.2" y="102.1" width="0.9" height="0.9" fill="#777" opacity="0.75"/>
<rect x="282.1" y="104.5" width="0.9" height="0.9" fill="#777" opacity="0.75"/>
<rect x="281.8" y="108.3" width="0.9" height="0.9" fill="#777" opacity="0.75"/>
<rect x="284.3" y="104.2" width="0.9" height="0.9" fill="#777" opacity="0.75"/>
<rect x="286.1" y="109.3" width="0.9" height="0.9" fill="#777" opacity="0.75"/>
<rect x="278.3" y="105.4" width="0.9" height="0.9" fill="#777" opacity="0.75"/>
<rect x="280.8" y="105.7" width="0.9" height="0.9" fill="#777" opacity="0.75"/>
<rect x="279.6" y="106.4" width="0.9" height="0.9" fill="#777" opacity="0.75"/>
<rect x="284.4" y="105.2" width="0.9" height="0.9" fill="#777" opacity="0.75"/>
<rect x="280.5" y="104.9" width="0.9" height="0.9" fill="#777" opacity="0.75"/>
<rect x="280.4" y="101.4" width="0.9" height="0.9" fill="#777" opacity="0.75"/>
<rect x="285.4" y="102.3" width="0.9" height="0.9" fill="#777" opacity="0.75"/>
<rect x="288.9" y="108.9" width="0.9" height="0.9" fill="#777" opacity="0.75"/>
<rect x="276.9" y="107.3" width="0.9" height="0.9" fill="#777" opacity="0.75"/>
<rect x="280.3" y="106.4" width="0.9" height="0.9" fill="#777" opacity="0.75"/>
<rect x="284.7" y="99.1" width="0.9" height="0.9" fill="#777" opacity="0.75"/>
<rect x="283.6" y="105.4" width="0.9" height="0.9" fill="#777" opacity="0.75"/>
<rect x="288.2" y="102.0" width="0.9" height="0.9" fill="#777" opacity="0.75"/>
<rect x="287.3" y="102.3" width="0.9" height="0.9" fill="#777" opacity="0.75"/>
<rect x="283.2" y="103.3" width="0.9" height="0.9" fill="#777" opacity="0.75"/>
<rect x="290.0" y="108.3" width="0.9" height="0.9" fill="#777" opacity="0.75"/>
<rect x="293.7" y="108.6" width="0.9" height="0.9" fill="#777" opacity="0.75"/>
<rect x="287.7" y="109.3" width="0.9" height="0.9" fill="#777" opacity="0.75"/>
<rect x="282.2" y="106.0" width="0.9" height="0.9" fill="#777" opacity="0.75"/>
<rect x="289.6" y="104.9" width="0.9" height="0.9" fill="#777" opacity="0.75"/>
<rect x="285.2" y="106.2" width="0.9" height="0.9" fill="#777" opacity="0.75"/>
<rect x="286.8" y="105.0" width="0.9" height="0.9" fill="#777" opacity="0.75"/>
<rect x="283.9" y="107.2" width="0.9" height="0.9" fill="#777" opacity="0.75"/>
<rect x="284.9" y="103.2" width="0.9" height="0.9" fill="#777" opacity="0.75"/>
<rect x="287.9" y="101.6" width="0.9" height="0.9" fill="#777" opacity="0.75"/>
<rect x="279.9" y="101.7" width="0.9" height="0.9" fill="#777" opacity="0.75"/>
<rect x="288.2" y="105.0" width="0.9" height="0.9" fill="#777" opacity="0.75"/>
<rect x="280.8" y="102.2" width="0.9" height="0.9" fill="#777" opacity="0.75"/>
<rect x="286.1" y="102.5" width="0.9" height="0.9" fill="#777" opacity="0.75"/>
<rect x="279.7" y="108.5" width="0.9" height="0.9" fill="#777" opacity="0.75"/>
<rect x="280.0" y="105.1" width="0.9" height="0.9" fill="#777" opacity="0.75"/>
<rect x="284.5" y="104.7" width="0.9" height="0.9" fill="#777" opacity="0.75"/>
<rect x="284.3" y="111.1" width="0.9" height="0.9" fill="#777" opacity="0.75"/>
<rect x="282.5" y="101.8" width="0.9" height="0.9" fill="#777" opacity="0.75"/>
<rect x="277.5" y="105.6" width="0.9" height="0.9" fill="#777" opacity="0.75"/>
<rect x="283.2" y="107.3" width="0.9" height="0.9" fill="#777" opacity="0.75"/>
<rect x="282.7" y="104.6" width="0.9" height="0.9" fill="#777" opacity="0.75"/>
<rect x="281.8" y="104.4" width="0.9" height="0.9" fill="#777" opacity="0.75"/>
<rect x="285.1" y="104.9" width="0.9" height="0.9" fill="#777" opacity="0.75"/>
<rect x="284.9" y="113.1" width="0.9" height="0.9" fill="#777" opacity="0.75"/>
<rect x="286.3" y="100.6" width="0.9" height="0.9" fill="#777" opacity="0.75"/>
<rect x="291.1" y="107.6" width="0.9" height="0.9" fill="#777" opacity="0.75"/>
<rect x="280.9" y="109.6" width="0.9" height="0.9" fill="#777" opacity="0.75"/>
<rect x="284.6" y="104.1" width="0.9" height="0.9" fill="#777" opacity="0.75"/>
<rect x="282.1" y="102.7" width="0.9" height="0.9" fill="#777" opacity="0.75"/>
<rect x="284.7" y="110.1" width="0.9" height="0.9" fill="#777" opacity="0.75"/>
<rect x="283.3" y="107.8" width="0.9" height="0.9" fill="#777" opacity="0.75"/>
<rect x="291.6" y="101.9" width="0.9" height="0.9" fill="#777" opacity="0.75"/>
<rect x="285.5" y="105.2" width="0.9" height="0.9" fill="#777" opacity="0.75"/>
<rect x="280.5" y="102.6" width="0.9" height="0.9" fill="#777" opacity="0.75"/>
<rect x="284.4" y="107.9" width="0.9" height="0.9" fill="#777" opacity="0.75"/>
<rect x="282.5" y="106.5" width="0.9" height="0.9" fill="#777" opacity="0.75"/>
<rect x="287.2" y="107.4" width="0.9" height="0.9" fill="#777" opacity="0.75"/>
<rect x="287.8" y="108.0" width="0.9" height="0.9" fill="#777" opacity="0.75"/>
<rect x="286.4" y="112.9" width="0.9" height="0.9" fill="#777" opacity="0.75"/>
<rect x="286.9" y="106.8" width="0.9" height="0.9" fill="#777" opacity="0.75"/>
<rect x="287.2" y="103.0" width="0.9" height="0.9" fill="#777" opacity="0.75"/>
<rect x="283.2" y="109.2" width="0.9" height="0.9" fill="#777" opacity="0.75"/>
<rect x="286.9" y="111.9" width="0.9" height="0.9" fill="#777" opacity="0.75"/>
<rect x="284.5" y="101.0" width="0.9" height="0.9" fill="#777" opacity="0.75"/>
<rect x="291.9" y="110.2" width="0.9" height="0.9" fill="#777" opacity="0.75"/>
<rect x="280.5" y="111.3" width="0.9" height="0.9" fill="#777" opacity="0.75"/>
<rect x="284.6" y="99.8" width="0.9" height="0.9" fill="#777" opacity="0.75"/>
<rect x="282.9" y="104.5" width="0.9" height="0.9" fill="#777" opacity="0.75"/>
<rect x="290.5" y="103.4" width="0.9" height="0.9" fill="#777" opacity="0.75"/>
<rect x="283.5" y="105.3" width="0.9" height="0.9" fill="#777" opacity="0.75"/>
<rect x="283.1" y="103.0" width="0.9" height="0.9" fill="#777" opacity="0.75"/>
<rect x="285.3" y="110.2" width="0.9" height="0.9" fill="#777" opacity="0.75"/>
<rect x="286.9" y="103.0" width="0.9" height="0.9" fill="#777" opacity="0.75"/>
<rect x="280.1" y="106.7" width="0.9" height="0.9" fill="#777" opacity="0.75"/>
<rect x="281.8" y="104.0" width="0.9" height="0.9" fill="#777" opacity="0.75"/>
<rect x="278.1" y="113.3" width="0.9" height="0.9" fill="#777" opacity="0.75"/>
<rect x="288.0" y="102.8" width="0.9" height="0.9" fill="#777" opacity="0.75"/>
<rect x="288.0" y="111.1" width="0.9" height="0.9" fill="#777" opacity="0.75"/>
<rect x="275.4" y="104.3" width="0.9" height="0.9" fill="#777" opacity="0.75"/>
<rect x="283.0" y="108.6" width="0.9" height="0.9" fill="#777" opacity="0.75"/>
<rect x="284.0" y="105.5" width="0.9" height="0.9" fill="#777" opacity="0.75"/>
<rect x="284.3" y="113.0" width="0.9" height="0.9" fill="#777" opacity="0.75"/>
<rect x="292.7" y="104.4" width="0.9" height="0.9" fill="#777" opacity="0.75"/>
<rect x="281.0" y="116.0" width="0.9" height="0.9" fill="#777" opacity="0.75"/>
<rect x="280.8" y="104.2" width="0.9" height="0.9" fill="#777" opacity="0.75"/>
<rect x="284.6" y="108.0" width="0.9" height="0.9" fill="#777" opacity="0.75"/>
<rect x="288.4" y="107.7" width="0.9" height="0.9" fill="#777" opacity="0.75"/>
<rect x="281.2" y="108.1" width="0.9" height="0.9" fill="#777" opacity="0.75"/>
<rect x="285.4" y="113.1" width="0.9" height="0.9" fill="#777" opacity="0.75"/>
<rect x="284.4" y="101.5" width="0.9" height="0.9" fill="#777" opacity="0.75"/>
<rect x="280.5" y="111.5" width="0.9" height="0.9" fill="#777" opacity="0.75"/>
<rect x="282.4" y="98.7" width="0.9" height="0.9" fill="#777" opacity="0.75"/>
<rect x="282.3" y="106.3" width="0.9" height="0.9" fill="#777" opacity="0.75"/>
<rect x="289.0" y="102.6" width="0.9" height="0.9" fill="#777" opacity="0.75"/>
<rect x="287.0" y="109.2" width="0.9" height="0.9" fill="#777" opacity="0.75"/>
<rect x="281.8" y="105.6" width="0.9" height="0.9" fill="#777" opacity="0.75"/>
<rect x="291.2" y="112.5" width="0.9" height="0.9" fill="#777" opacity="0.75"/>
<rect x="287.8" y="107.5" width="0.9" height="0.9" fill="#777" opacity="0.75"/>
<rect x="288.8" y="105.8" width="0.9" height="0.9" fill="#777" opacity="0.75"/>
<rect x="284.1" y="103.2" width="0.9" height="0.9" fill="#777" opacity="0.75"/>
<rect x="284.5" y="106.0" width="0.9" height="0.9" fill="#777" opacity="0.75"/>
<rect x="295.0" y="105.6" width="0.9" height="0.9" fill="#777" opacity="0.75"/>
<rect x="289.3" y="111.1" width="0.9" height="0.9" fill="#777" opacity="0.75"/>
<rect x="283.8" y="110.5" width="0.9" height="0.9" fill="#777" opacity="0.75"/>
<rect x="276.2" y="106.6" width="0.9" height="0.9" fill="#777" opacity="0.75"/>
<rect x="287.8" y="97.7" width="0.9" height="0.9" fill="#777" opacity="0.75"/>
<rect x="280.1" y="110.1" width="0.9" height="0.9" fill="#777" opacity="0.75"/>
<rect x="283.5" y="102.3" width="0.9" height="0.9" fill="#777" opacity="0.75"/>
<rect x="283.1" y="104.3" width="0.9" height="0.9" fill="#777" opacity="0.75"/>
<rect x="287.3" y="107.9" width="0.9" height="0.9" fill="#777" opacity="0.75"/>
<rect x="283.4" y="103.9" width="0.9" height="0.9" fill="#777" opacity="0.75"/>
<rect x="284.4" y="109.2" width="0.9" height="0.9" fill="#555" opacity="0.75"/>
<rect x="285.3" y="107.7" width="0.9" height="0.9" fill="#555" opacity="0.75"/>
<rect x="284.2" y="103.5" width="0.9" height="0.9" fill="#555" opacity="0.75"/>
<rect x="282.9" y="107.7" width="0.9" height="0.9" fill="#555" opacity="0.75"/>
<rect x="284.7" y="104.3" width="0.9" height="0.9" fill="#555" opacity="0.75"/>
<rect x="280.9" y="106.5" width="0.9" height="0.9" fill="#555" opacity="0.75"/>
<rect x="283.8" y="105.5" width="0.9" height="0.9" fill="#555" opacity="0.75"/>
<rect x="283.8" y="106.9" width="0.9" height="0.9" fill="#555" opacity="0.75"/>
<rect x="285.1" y="108.4" width="0.9" height="0.9" fill="#555" opacity="0.75"/>
<rect x="286.5" y="109.2" width="0.9" height="0.9" fill="#555" opacity="0.75"/>
<rect x="286.3" y="105.6" width="0.9" height="0.9" fill="#555" opacity="0.75"/>
<rect x="284.4" y="107.4" width="0.9" height="0.9" fill="#555" opacity="0.75"/>
<rect x="283.8" y="107.5" width="0.9" height="0.9" fill="#555" opacity="0.75"/>
<rect x="287.0" y="104.5" width="0.9" height="0.9" fill="#555" opacity="0.75"/>
<rect x="280.6" y="108.9" width="0.9" height="0.9" fill="#555" opacity="0.75"/>
<rect x="284.5" y="107.9" width="0.9" height="0.9" fill="#555" opacity="0.75"/>
<rect x="281.6" y="110.1" width="0.9" height="0.9" fill="#555" opacity="0.75"/>
<rect x="286.1" y="106.0" width="0.9" height="0.9" fill="#555" opacity="0.75"/>
<rect x="283.7" y="106.6" width="0.9" height="0.9" fill="#555" opacity="0.75"/>
<rect x="284.1" y="105.7" width="0.9" height="0.9" fill="#555" opacity="0.75"/>
<rect x="282.0" y="109.1" width="0.9" height="0.9" fill="#555" opacity="0.75"/>
<rect x="284.4" y="106.5" width="0.9" height="0.9" fill="#555" opacity="0.75"/>
<rect x="284.7" y="101.1" width="0.9" height="0.9" fill="#555" opacity="0.75"/>
<rect x="285.7" y="105.6" width="0.9" height="0.9" fill="#555" opacity="0.75"/>
<rect x="283.9" y="106.5" width="0.9" height="0.9" fill="#555" opacity="0.75"/>
<rect x="282.4" y="108.2" width="0.9" height="0.9" fill="#555" opacity="0.75"/>
<rect x="283.0" y="104.3" width="0.9" height="0.9" fill="#555" opacity="0.75"/>
<rect x="282.6" y="106.6" width="0.9" height="0.9" fill="#555" opacity="0.75"/>
<rect x="286.1" y="105.0" width="0.9" height="0.9" fill="#555" opacity="0.75"/>
<rect x="281.2" y="108.6" width="0.9" height="0.9" fill="#555" opacity="0.75"/>
<rect x="310.4" y="83.0" width="0.8" height="0.8" fill="#999" opacity="1.0"/>
<rect x="319.5" y="78.3" width="0.8" height="0.8" fill="#999" opacity="1.0"/>
<rect x="314.2" y="81.2" width="0.8" height="0.8" fill="#999" opacity="1.0"/>
<rect x="328.0" y="79.5" width="0.8" height="0.8" fill="#999" opacity="1.0"/>
<rect x="328.5" y="85.2" width="0.8" height="0.8" fill="#999" opacity="1.0"/>
<rect x="318.1" y="77.1" width="0.8" height="0.8" fill="#999" opacity="1.0"/>
<rect x="310.5" y="76.5" width="0.8" height="0.8" fill="#999" opacity="1.0"/>
<rect x="314.2" y="78.2" width="0.8" height="0.8" fill="#999" opacity="1.0"/>
<rect x="308.1" y="81.3" width="0.8" height="0.8" fill="#999" opacity="1.0"/>
<rect x="296.5" y="76.7" width="0.8" height="0.8" fill="#999" opacity="1.0"/>
<rect x="318.1" y="99.6" width="0.8" height="0.8" fill="#999" opacity="1.0"/>
<rect x="309.1" y="98.4" width="0.8" height="0.8" fill="#999" opacity="1.0"/>
<rect x="316.6" y="98.6" width="0.8" height="0.8" fill="#999" opacity="1.0"/>
<rect x="306.5" y="95.0" width="0.8" height="0.8" fill="#999" opacity="1.0"/>
<rect x="305.6" y="96.0" width="0.8" height="0.8" fill="#999" opacity="1.0"/>
<rect x="301.8" y="96.1" width="0.8" height="0.8" fill="#999" opacity="1.0"/>
<rect x="305.7" y="96.8" width="0.8" height="0.8" fill="#999" opacity="1.0"/>
<rect x="311.2" y="94.8" width="0.8" height="0.8" fill="#999" opacity="1.0"/>
<rect x="285.5" y="96.2" width="0.8" height="0.8" fill="#aaa" opacity="1.0"/>
<rect x="286.1" y="92.2" width="0.8" height="0.8" fill="#aaa" opacity="1.0"/>
<rect x="289.4" y="92.9" width="0.8" height="0.8" fill="#aaa" opacity="1.0"/>
<rect x="288.2" y="76.7" width="0.8" height="0.8" fill="#aaa" opacity="1.0"/>
<rect x="285.2" y="82.7" width="0.8" height="0.8" fill="#aaa" opacity="1.0"/>
<ellipse cx="286.20" cy="74.30" rx="13.0" ry="21.7" fill="none" stroke="#cc1f38" stroke-width="1.6"/>
<ellipse cx="324.00" cy="78.80" rx="23.6" ry="10.8" fill="none" stroke="#25963f" stroke-width="1.6"/>
<ellipse cx="316.00" cy="98.30" rx="20.6" ry="7.9" fill="none" stroke="#8e1a5c" stroke-width="1.6" transform="rotate(-5 316.00 98.30)"/>
<ellipse cx="286.10" cy="108.80" rx="12.0" ry="10.8" fill="none" stroke="#1c1c55" stroke-width="1.6"/>
<path d="M257.00,23.75 H368.00 V134.45" fill="none" stroke="#333" stroke-width="1.1"/>
<path d="M257.00,23.75 V134.45 H368.00" fill="none" stroke="#000" stroke-width="1.45"/>
<line x1="255.40" y1="126.12" x2="257.00" y2="126.12" stroke="#1a1a1a" stroke-width="0.7"/>
<line x1="255.40" y1="121.25" x2="257.00" y2="121.25" stroke="#1a1a1a" stroke-width="0.7"/>
<line x1="255.40" y1="117.79" x2="257.00" y2="117.79" stroke="#1a1a1a" stroke-width="0.7"/>
<line x1="255.40" y1="115.11" x2="257.00" y2="115.11" stroke="#1a1a1a" stroke-width="0.7"/>
<line x1="255.40" y1="112.91" x2="257.00" y2="112.91" stroke="#1a1a1a" stroke-width="0.7"/>
<line x1="255.40" y1="111.06" x2="257.00" y2="111.06" stroke="#1a1a1a" stroke-width="0.7"/>
<line x1="255.40" y1="109.46" x2="257.00" y2="109.46" stroke="#1a1a1a" stroke-width="0.7"/>
<line x1="255.40" y1="108.04" x2="257.00" y2="108.04" stroke="#1a1a1a" stroke-width="0.7"/>
<line x1="255.40" y1="98.44" x2="257.00" y2="98.44" stroke="#1a1a1a" stroke-width="0.7"/>
<line x1="255.40" y1="93.57" x2="257.00" y2="93.57" stroke="#1a1a1a" stroke-width="0.7"/>
<line x1="255.40" y1="90.11" x2="257.00" y2="90.11" stroke="#1a1a1a" stroke-width="0.7"/>
<line x1="255.40" y1="87.43" x2="257.00" y2="87.43" stroke="#1a1a1a" stroke-width="0.7"/>
<line x1="255.40" y1="85.24" x2="257.00" y2="85.24" stroke="#1a1a1a" stroke-width="0.7"/>
<line x1="255.40" y1="83.39" x2="257.00" y2="83.39" stroke="#1a1a1a" stroke-width="0.7"/>
<line x1="255.40" y1="81.78" x2="257.00" y2="81.78" stroke="#1a1a1a" stroke-width="0.7"/>
<line x1="255.40" y1="80.37" x2="257.00" y2="80.37" stroke="#1a1a1a" stroke-width="0.7"/>
<line x1="255.40" y1="70.77" x2="257.00" y2="70.77" stroke="#1a1a1a" stroke-width="0.7"/>
<line x1="255.40" y1="65.90" x2="257.00" y2="65.90" stroke="#1a1a1a" stroke-width="0.7"/>
<line x1="255.40" y1="62.44" x2="257.00" y2="62.44" stroke="#1a1a1a" stroke-width="0.7"/>
<line x1="255.40" y1="59.76" x2="257.00" y2="59.76" stroke="#1a1a1a" stroke-width="0.7"/>
<line x1="255.40" y1="57.56" x2="257.00" y2="57.56" stroke="#1a1a1a" stroke-width="0.7"/>
<line x1="255.40" y1="55.71" x2="257.00" y2="55.71" stroke="#1a1a1a" stroke-width="0.7"/>
<line x1="255.40" y1="54.11" x2="257.00" y2="54.11" stroke="#1a1a1a" stroke-width="0.7"/>
<line x1="255.40" y1="52.69" x2="257.00" y2="52.69" stroke="#1a1a1a" stroke-width="0.7"/>
<line x1="255.40" y1="43.09" x2="257.00" y2="43.09" stroke="#1a1a1a" stroke-width="0.7"/>
<line x1="255.40" y1="38.22" x2="257.00" y2="38.22" stroke="#1a1a1a" stroke-width="0.7"/>
<line x1="255.40" y1="34.76" x2="257.00" y2="34.76" stroke="#1a1a1a" stroke-width="0.7"/>
<line x1="255.40" y1="32.08" x2="257.00" y2="32.08" stroke="#1a1a1a" stroke-width="0.7"/>
<line x1="255.40" y1="29.89" x2="257.00" y2="29.89" stroke="#1a1a1a" stroke-width="0.7"/>
<line x1="255.40" y1="28.04" x2="257.00" y2="28.04" stroke="#1a1a1a" stroke-width="0.7"/>
<line x1="255.40" y1="26.43" x2="257.00" y2="26.43" stroke="#1a1a1a" stroke-width="0.7"/>
<line x1="255.40" y1="25.02" x2="257.00" y2="25.02" stroke="#1a1a1a" stroke-width="0.7"/>
<line x1="254.00" y1="134.45" x2="257.00" y2="134.45" stroke="#1a1a1a" stroke-width="0.9"/>
<text x="250.40" y="137.45" font-size="8.2" fill="#111" class="tk" text-anchor="end">10</text>
<text x="250.60" y="133.85" font-size="6.4" fill="#111" class="tk">0</text>
<line x1="254.00" y1="106.77" x2="257.00" y2="106.77" stroke="#1a1a1a" stroke-width="0.9"/>
<text x="250.40" y="109.77" font-size="8.2" fill="#111" class="tk" text-anchor="end">10</text>
<text x="250.60" y="106.17" font-size="6.4" fill="#111" class="tk">1</text>
<line x1="254.00" y1="79.10" x2="257.00" y2="79.10" stroke="#1a1a1a" stroke-width="0.9"/>
<text x="250.40" y="82.10" font-size="8.2" fill="#111" class="tk" text-anchor="end">10</text>
<text x="250.60" y="78.50" font-size="6.4" fill="#111" class="tk">2</text>
<line x1="254.00" y1="51.42" x2="257.00" y2="51.42" stroke="#1a1a1a" stroke-width="0.9"/>
<text x="250.40" y="54.42" font-size="8.2" fill="#111" class="tk" text-anchor="end">10</text>
<text x="250.60" y="50.82" font-size="6.4" fill="#111" class="tk">3</text>
<line x1="254.00" y1="23.75" x2="257.00" y2="23.75" stroke="#1a1a1a" stroke-width="0.9"/>
<text x="250.40" y="26.75" font-size="8.2" fill="#111" class="tk" text-anchor="end">10</text>
<text x="250.60" y="23.15" font-size="6.4" fill="#111" class="tk">4</text>
<line x1="257.00" y1="134.45" x2="257.00" y2="137.45" stroke="#1a1a1a" stroke-width="1.0"/>
<line x1="262.43" y1="134.45" x2="262.43" y2="136.15" stroke="#1a1a1a" stroke-width="0.8"/>
<line x1="267.85" y1="134.45" x2="267.85" y2="136.15" stroke="#1a1a1a" stroke-width="0.8"/>
<line x1="273.28" y1="134.45" x2="273.28" y2="136.15" stroke="#1a1a1a" stroke-width="0.8"/>
<line x1="278.70" y1="134.45" x2="278.70" y2="137.45" stroke="#1a1a1a" stroke-width="1.0"/>
<line x1="284.13" y1="134.45" x2="284.13" y2="136.15" stroke="#1a1a1a" stroke-width="0.8"/>
<line x1="289.55" y1="134.45" x2="289.55" y2="136.15" stroke="#1a1a1a" stroke-width="0.8"/>
<line x1="294.98" y1="134.45" x2="294.98" y2="136.15" stroke="#1a1a1a" stroke-width="0.8"/>
<line x1="300.40" y1="134.45" x2="300.40" y2="137.45" stroke="#1a1a1a" stroke-width="1.0"/>
<line x1="305.83" y1="134.45" x2="305.83" y2="136.15" stroke="#1a1a1a" stroke-width="0.8"/>
<line x1="311.25" y1="134.45" x2="311.25" y2="136.15" stroke="#1a1a1a" stroke-width="0.8"/>
<line x1="316.68" y1="134.45" x2="316.68" y2="136.15" stroke="#1a1a1a" stroke-width="0.8"/>
<line x1="322.10" y1="134.45" x2="322.10" y2="137.45" stroke="#1a1a1a" stroke-width="1.0"/>
<line x1="327.53" y1="134.45" x2="327.53" y2="136.15" stroke="#1a1a1a" stroke-width="0.8"/>
<line x1="332.95" y1="134.45" x2="332.95" y2="136.15" stroke="#1a1a1a" stroke-width="0.8"/>
<line x1="338.38" y1="134.45" x2="338.38" y2="136.15" stroke="#1a1a1a" stroke-width="0.8"/>
<line x1="343.80" y1="134.45" x2="343.80" y2="137.45" stroke="#1a1a1a" stroke-width="1.0"/>
<line x1="349.23" y1="134.45" x2="349.23" y2="136.15" stroke="#1a1a1a" stroke-width="0.8"/>
<line x1="354.65" y1="134.45" x2="354.65" y2="136.15" stroke="#1a1a1a" stroke-width="0.8"/>
<line x1="360.08" y1="134.45" x2="360.08" y2="136.15" stroke="#1a1a1a" stroke-width="0.8"/>
<line x1="365.50" y1="134.45" x2="365.50" y2="137.45" stroke="#1a1a1a" stroke-width="1.0"/>
<text x="257.00" y="144.95" font-size="8.2" fill="#111" class="tk" text-anchor="middle">0</text>
<text x="278.70" y="144.95" font-size="8.2" fill="#111" class="tk" text-anchor="middle">200</text>
<text x="300.40" y="144.95" font-size="8.2" fill="#111" class="tk" text-anchor="middle">400</text>
<text x="322.10" y="144.95" font-size="8.2" fill="#111" class="tk" text-anchor="middle">600</text>
<text x="343.80" y="144.95" font-size="8.2" fill="#111" class="tk" text-anchor="middle">800</text>
<text x="365.50" y="144.95" font-size="8.2" fill="#111" class="tk" text-anchor="middle">1000</text>
<text x="310.50" y="155.95" font-size="8.7" fill="#111" stroke="#111" stroke-width="0.3" text-anchor="middle">FSC-H</text>
<text transform="translate(234.70,79.25) rotate(-90)" font-size="8.6" fill="#111" class="tk" text-anchor="middle">SSC-H</text>
<text x="291.00" y="50.00" font-size="10.2" fill="#bd2c46" stroke="#bd2c46" stroke-width="0.2" text-anchor="start">4.2 +/- 1.6</text>
<text x="310.80" y="64.20" font-size="10.2" fill="#3a8c45" stroke="#3a8c45" stroke-width="0.2" text-anchor="start">2.9 +/- 1.9</text>
<text x="309.90" y="117.00" font-size="10.2" fill="#7c2c58" stroke="#7c2c58" stroke-width="0.2" text-anchor="start">7.0 +/- 1.8</text>
<text x="262.90" y="130.40" font-size="10.2" fill="#2c2c5a" stroke="#2c2c5a" stroke-width="0.2" text-anchor="start">79.6 +/- 6.3</text>
<path d="M133.6,257.0 133.1,257.1 132.6,257.1 132.1,257.1 131.6,257.0 131.3,257.0 130.8,257.0 130.3,256.9 129.8,256.8 129.5,256.8 129.1,256.7 128.6,256.6 128.1,256.5 127.8,256.5 127.3,256.5 126.8,256.5 126.5,256.5 126.0,256.6 125.5,256.7 125.0,256.6 124.8,256.5 124.5,256.2 124.3,256.0 124.0,255.7 123.8,255.2 123.7,255.0 123.5,254.7 123.3,254.3 123.2,254.0 123.0,253.8 122.8,253.2 122.7,253.0 122.5,252.6 122.4,252.2 122.3,251.8 122.2,251.5 122.1,251.0 122.0,250.5 122.0,250.2 121.9,249.8 121.8,249.2 121.8,249.0 121.7,248.5 121.6,248.0 121.5,247.8 121.4,247.2 121.3,246.8 121.3,246.5 121.2,246.0 121.1,245.5 121.0,245.2 121.0,244.8 120.9,244.2 120.8,243.8 120.8,243.2 120.8,243.0 120.7,242.5 120.7,242.0 120.6,241.5 120.6,241.0 120.5,240.8 120.5,240.2 120.5,239.8 120.5,239.2 120.5,238.8 120.4,238.2 120.4,237.8 120.4,237.2 120.4,236.8 120.4,236.2 120.4,235.8 120.4,235.2 120.3,234.8 120.3,234.5 120.2,234.0 120.2,233.5 120.1,233.0 120.1,232.5 120.1,232.0 120.1,231.5 120.2,231.0 120.2,230.5 120.2,230.0 120.2,229.5 120.2,229.0 120.2,228.5 120.2,228.0 120.2,227.5 120.2,227.0 120.3,226.5 120.3,226.2 120.3,225.8 120.3,225.2 120.3,224.8 120.3,224.2 120.3,223.8 120.4,223.2 120.4,222.8 120.4,222.2 120.5,221.8 120.5,221.4 120.6,221.0 120.7,220.5 120.7,220.0 120.8,219.7 120.9,219.2 120.9,218.8 120.9,218.2 121.0,217.8 121.0,217.2 121.0,216.8 120.9,216.2 120.9,215.8 121.0,215.2 121.0,214.8 121.0,214.2 121.0,213.8 121.1,213.5 121.1,213.0 121.1,212.5 121.1,212.0 121.1,211.5 121.1,211.0 121.1,210.5 121.1,210.0 121.1,209.5 121.1,209.0 121.1,208.5 121.1,208.0 121.2,207.5 121.3,207.0 121.3,206.8 121.4,206.2 121.5,205.8 121.6,205.5 121.7,205.0 121.8,204.8 122.0,204.2 122.1,204.0 122.3,203.5 122.4,203.2 122.5,202.9 122.7,202.5 122.8,202.2 123.0,201.8 123.1,201.5 123.3,201.1 123.4,200.8 123.5,200.4 123.7,200.0 123.8,199.8 124.0,199.4 124.3,199.0 124.5,198.8 124.8,198.5 125.0,198.3 125.3,198.1 125.6,198.0 126.0,197.8 126.3,197.7 126.8,197.6 127.1,197.5 127.5,197.4 128.1,197.3 128.3,197.2 128.8,197.0 129.1,197.0 129.6,196.8 129.8,196.7 130.3,196.6 130.8,196.6 131.3,196.7 131.6,196.8 131.9,197.0 132.3,197.2 132.6,197.5 132.8,197.7 133.1,198.0 133.3,198.2 133.6,198.4 133.8,198.6 134.1,198.8 134.3,199.0 134.6,199.2 135.0,199.5 135.3,199.7 135.6,199.9 135.8,200.1 136.1,200.3 136.3,200.5 136.6,200.8 136.8,201.2 137.0,201.5 137.1,201.8 137.3,202.1 137.5,202.5 137.6,202.8 137.8,203.1 138.0,203.5 138.2,203.8 138.3,204.0 138.6,204.3 138.8,204.7 139.0,205.0 139.1,205.2 139.3,205.8 139.4,206.0 139.5,206.5 139.6,206.8 139.7,207.2 139.8,207.6 139.9,208.0 140.1,208.3 140.2,208.8 140.3,209.0 140.5,209.5 140.6,209.8 140.8,210.1 141.1,210.5 141.3,210.7 141.6,210.8 142.1,210.9 142.6,210.9 143.1,210.9 143.6,210.8 144.1,210.8 144.6,210.8 145.1,210.8 145.6,210.8 146.1,210.9 146.3,211.0 146.8,211.2 147.1,211.4 147.3,211.5 147.8,211.8 148.1,211.9 148.5,212.0 148.8,212.1 149.3,212.1 149.8,212.1 150.3,212.1 150.6,212.0 151.1,211.9 151.6,211.8 152.1,211.8 152.6,211.9 153.1,211.9 153.6,212.0 153.9,212.0 154.3,212.0 154.8,212.0 155.3,212.0 155.6,212.0 156.1,211.8 156.3,211.6 156.6,211.4 156.8,211.2 157.1,210.9 157.3,210.7 157.6,210.5 157.9,210.2 158.3,210.0 158.6,209.9 159.0,209.8 159.3,209.7 159.8,209.6 160.3,209.5 160.8,209.6 161.3,209.7 161.6,209.8 162.1,210.0 162.3,210.1 162.6,210.2 163.1,210.4 163.6,210.5 164.1,210.5 164.6,210.3 164.8,210.2 165.1,210.0 165.5,209.8 165.8,209.5 166.1,209.4 166.3,209.2 166.7,209.0 167.1,208.9 167.6,208.9 167.8,209.0 168.3,209.2 168.6,209.4 168.8,209.5 169.3,209.7 169.6,209.8 170.1,209.8 170.3,209.8 170.8,209.6 171.1,209.5 171.5,209.2 171.8,209.1 172.1,209.0 172.6,208.8 172.8,208.7 173.3,208.5 173.6,208.4 174.1,208.3 174.4,208.2 174.8,208.2 175.3,208.0 175.6,207.9 175.9,207.8 176.3,207.5 176.6,207.4 176.8,207.2 177.3,207.1 177.8,207.1 178.3,207.2 178.6,207.4 178.8,207.5 179.1,207.8 179.6,208.0 179.8,208.1 180.2,208.2 180.6,208.3 181.1,208.4 181.6,208.5 181.8,208.5 182.3,208.7 182.6,208.8 183.1,209.0 183.3,209.1 183.6,209.2 184.0,209.5 184.3,209.6 184.6,209.8 184.9,210.0 185.3,210.2 185.6,210.3 185.9,210.5 186.3,210.7 186.6,210.8 186.8,211.0 187.3,211.2 187.6,211.4 187.8,211.5 188.3,211.7 188.6,211.8 189.1,211.9 189.5,212.0 189.8,212.1 190.1,212.2 190.4,212.5 190.6,212.8 190.8,213.0 191.1,213.3 191.3,213.5 191.6,213.8 191.8,214.0 192.1,214.2 192.5,214.5 192.8,214.8 193.1,215.0 193.3,215.2 193.5,215.5 193.7,215.8 194.0,216.0 194.3,216.2 194.6,216.3 194.9,216.5 195.3,216.7 195.6,216.9 195.8,217.1 196.1,217.4 196.2,217.8 196.3,218.0 196.4,218.5 196.3,219.0 196.3,219.2 196.1,219.8 196.0,220.0 195.8,220.5 195.7,220.8 195.6,221.2 195.5,221.5 195.4,222.0 195.3,222.3 195.2,222.8 195.1,223.0 194.8,223.5 194.7,223.8 194.6,224.0 194.3,224.3 194.1,224.6 193.8,224.8 193.5,225.0 193.2,225.2 192.9,225.5 192.6,225.8 192.3,226.0 192.1,226.2 191.9,226.5 191.7,226.8 191.6,227.1 191.4,227.5 191.3,227.9 191.2,228.2 191.2,228.8 191.1,229.2 191.0,229.5 190.8,230.0 190.6,230.2 190.3,230.5 190.1,230.6 189.7,230.8 189.3,230.9 188.8,230.9 188.3,230.9 187.8,230.8 187.5,230.8 187.1,230.7 186.6,230.6 186.2,230.8 185.8,230.9 185.6,231.1 185.3,231.4 185.1,231.6 184.8,231.9 184.6,232.1 184.3,232.3 184.1,232.5 183.8,232.8 183.5,233.0 183.1,233.2 182.8,233.5 182.6,233.7 182.3,233.9 182.1,234.1 181.8,234.4 181.6,234.6 181.3,235.0 181.1,235.2 181.0,235.5 180.9,236.0 180.8,236.2 180.7,236.8 180.6,237.2 180.6,237.8 180.5,238.0 180.4,238.5 180.3,238.8 180.1,239.2 179.9,239.5 179.7,239.8 179.5,240.0 179.3,240.2 179.1,240.5 178.8,240.8 178.5,241.0 178.2,241.2 177.9,241.5 177.6,241.8 177.3,242.0 177.1,242.1 176.8,242.3 176.4,242.5 176.1,242.7 175.8,242.8 175.3,243.0 175.1,243.1 174.6,243.2 174.3,243.4 173.9,243.5 173.6,243.6 173.3,243.8 172.8,244.0 172.6,244.1 172.2,244.2 171.8,244.4 171.6,244.6 171.1,244.8 170.8,244.9 170.4,245.0 170.1,245.1 169.6,245.2 169.1,245.2 168.8,245.3 168.3,245.3 167.8,245.3 167.3,245.3 166.8,245.3 166.3,245.3 165.8,245.4 165.3,245.4 164.8,245.5 164.6,245.5 164.1,245.6 163.6,245.8 163.3,245.8 162.8,246.0 162.6,246.0 162.1,246.1 161.6,246.2 161.2,246.2 160.8,246.3 160.3,246.4 159.8,246.5 159.6,246.5 159.1,246.6 158.6,246.7 158.1,246.8 157.8,246.8 157.3,246.8 156.8,246.8 156.3,246.8 156.1,246.7 155.6,246.7 155.1,246.6 154.7,246.5 154.3,246.4 153.8,246.3 153.3,246.2 153.1,246.2 152.6,246.2 152.1,246.1 151.6,246.1 151.1,246.1 150.6,246.0 150.2,246.0 149.8,246.0 149.3,245.9 148.8,245.8 148.5,245.8 148.1,245.7 147.6,245.6 147.1,245.6 146.6,245.5 146.3,245.5 145.8,245.4 145.3,245.4 144.8,245.3 144.5,245.2 144.1,245.2 143.6,245.1 143.1,245.1 142.6,245.0 142.3,245.0 141.8,244.8 141.6,244.7 141.1,244.5 140.8,244.4 140.6,244.2 140.2,244.0 139.8,243.8 139.6,243.7 139.5,244.0 139.6,244.2 139.8,244.6 140.0,245.0 140.2,245.2 140.3,245.5 140.5,246.0 140.6,246.2 140.8,246.8 140.9,247.0 141.0,247.5 141.1,247.8 141.1,248.2 141.2,248.8 141.2,249.2 141.2,249.8 141.1,250.2 141.1,250.5 141.0,251.0 140.8,251.5 140.7,251.8 140.6,252.2 140.4,252.5 140.3,252.8 140.1,253.2 139.8,253.5 139.6,253.8 139.4,254.0 139.2,254.2 138.9,254.5 138.6,254.8 138.3,255.0 138.1,255.2 137.8,255.4 137.6,255.5 137.2,255.8 136.8,256.0 136.6,256.1 136.3,256.2 135.8,256.5 135.6,256.6 135.1,256.7 134.8,256.8 134.3,256.9 133.8,257.0 133.6,257.0Z" fill="none" stroke="#8a8a8a" stroke-width="0.4"/>
<path d="M134.5,241.0 134.3,240.7 134.1,240.4 133.8,240.2 133.6,239.9 133.3,239.6 133.1,239.4 132.8,239.1 132.6,238.9 132.3,238.7 131.8,238.5 131.6,238.5 131.3,238.6 131.1,239.0 131.0,239.2 130.9,239.8 130.8,240.0 130.7,240.5 130.8,240.8 131.1,241.0 131.6,241.1 132.1,241.1 132.6,241.1 133.1,241.2 133.6,241.2 134.1,241.2 134.5,241.0Z" fill="none" stroke="#8a8a8a" stroke-width="0.4"/>
<path d="M134.6,256.6 134.1,256.7 133.6,256.7 133.1,256.7 132.6,256.7 132.1,256.7 131.6,256.7 131.1,256.7 130.6,256.6 130.1,256.5 129.8,256.5 129.3,256.4 128.8,256.3 128.5,256.2 128.1,256.2 127.5,256.1 127.3,256.0 126.8,255.9 126.3,255.8 126.0,255.7 125.6,255.5 125.3,255.4 125.0,255.2 124.8,255.0 124.5,254.8 124.3,254.5 124.0,254.1 123.8,253.8 123.6,253.5 123.5,253.2 123.3,252.9 123.1,252.5 123.0,252.2 122.8,251.8 122.7,251.5 122.6,251.0 122.5,250.6 122.5,250.2 122.4,249.8 122.3,249.2 122.3,249.0 122.2,248.5 122.1,248.0 122.0,247.7 122.0,247.2 121.9,246.8 121.8,246.4 121.7,246.0 121.6,245.5 121.5,245.1 121.5,244.8 121.4,244.2 121.4,243.8 121.3,243.2 121.3,243.0 121.2,242.5 121.2,242.0 121.1,241.5 121.1,241.0 121.0,240.8 121.0,240.2 121.0,239.8 121.0,239.2 120.9,238.8 120.9,238.2 120.9,237.8 120.9,237.2 120.9,236.8 120.9,236.2 120.9,235.8 120.8,235.2 120.8,234.8 120.8,234.5 120.7,234.0 120.7,233.5 120.6,233.0 120.6,232.5 120.6,232.0 120.6,231.5 120.7,231.0 120.7,230.5 120.7,230.0 120.7,229.5 120.7,229.0 120.7,228.5 120.7,228.0 120.7,227.5 120.8,227.0 120.8,226.5 120.8,226.2 120.8,225.8 120.9,225.2 120.9,224.8 120.9,224.2 120.9,223.8 120.9,223.2 121.0,222.8 121.0,222.3 121.1,222.0 121.1,221.5 121.2,221.0 121.3,220.5 121.3,220.2 121.4,219.8 121.4,219.2 121.5,218.8 121.5,218.3 121.6,218.0 121.6,217.5 121.6,217.0 121.6,216.5 121.6,216.0 121.6,215.5 121.7,215.0 121.7,214.5 121.7,214.0 121.8,213.5 121.8,213.0 121.8,212.8 121.8,212.2 121.9,211.8 121.9,211.2 121.9,210.8 122.0,210.2 122.0,209.8 122.0,209.2 122.0,208.8 122.0,208.2 122.0,207.8 122.1,207.5 122.1,207.0 122.2,206.5 122.3,206.0 122.3,205.8 122.5,205.2 122.6,205.0 122.8,204.5 122.9,204.2 123.0,203.9 123.3,203.5 123.5,203.2 123.6,203.0 123.8,202.7 124.0,202.2 124.1,202.0 124.3,201.6 124.4,201.2 124.5,200.9 124.7,200.5 124.8,200.2 125.0,199.9 125.3,199.6 125.5,199.4 125.8,199.2 126.2,199.0 126.5,198.8 126.8,198.8 127.3,198.6 127.8,198.5 128.1,198.5 128.6,198.4 129.1,198.3 129.3,198.2 129.8,198.1 130.3,198.1 130.8,198.2 131.1,198.3 131.5,198.5 131.8,198.7 132.1,198.9 132.3,199.1 132.6,199.3 132.8,199.5 133.2,199.8 133.5,200.0 133.8,200.2 134.1,200.3 134.3,200.5 134.7,200.8 135.0,201.0 135.3,201.2 135.6,201.4 135.8,201.7 136.1,202.0 136.3,202.2 136.4,202.5 136.6,202.8 136.8,203.2 137.0,203.5 137.1,203.8 137.3,204.2 137.5,204.5 137.6,204.8 137.8,205.1 138.0,205.5 138.1,205.8 138.3,206.2 138.4,206.5 138.5,207.0 138.6,207.2 138.7,207.8 138.8,208.0 138.9,208.5 139.0,209.0 139.1,209.2 139.2,209.8 139.3,210.2 139.3,210.5 139.4,211.0 139.6,211.3 139.8,211.7 140.1,211.9 140.3,212.1 140.8,212.2 141.1,212.3 141.6,212.3 142.1,212.3 142.6,212.3 143.0,212.2 143.3,212.2 143.8,212.1 144.3,212.1 144.8,212.1 145.1,212.2 145.6,212.5 145.8,212.6 146.1,212.8 146.4,213.0 146.8,213.2 147.1,213.3 147.5,213.5 147.8,213.6 148.3,213.7 148.8,213.8 149.1,213.8 149.6,213.8 150.1,213.8 150.6,213.8 151.1,213.8 151.6,213.8 152.1,213.9 152.6,214.0 152.8,214.0 153.3,214.1 153.8,214.2 154.3,214.2 154.6,214.3 155.1,214.3 155.6,214.3 156.1,214.3 156.3,214.2 156.8,214.1 157.3,214.0 157.6,213.9 158.0,213.8 158.3,213.6 158.6,213.5 158.9,213.2 159.3,213.0 159.6,212.9 159.8,212.8 160.3,212.6 160.8,212.5 161.1,212.5 161.6,212.5 162.1,212.5 162.6,212.5 163.1,212.4 163.6,212.4 164.1,212.4 164.6,212.3 164.8,212.2 165.3,212.1 165.7,212.0 166.1,211.9 166.6,211.8 166.8,211.7 167.3,211.7 167.6,211.8 168.1,211.8 168.6,211.9 168.9,212.0 169.3,212.1 169.8,212.1 170.3,212.1 170.8,212.0 171.1,211.9 171.5,211.8 171.8,211.6 172.1,211.4 172.3,211.2 172.6,211.0 172.9,210.8 173.3,210.5 173.6,210.5 174.1,210.3 174.6,210.3 175.1,210.3 175.6,210.3 176.1,210.3 176.6,210.4 177.0,210.5 177.3,210.6 177.7,210.8 178.1,210.9 178.3,211.0 178.8,211.2 179.2,211.2 179.6,211.3 180.1,211.3 180.6,211.4 181.1,211.4 181.4,211.5 181.8,211.6 182.1,211.8 182.6,211.9 182.8,212.0 183.3,212.2 183.6,212.2 184.1,212.3 184.6,212.4 184.9,212.5 185.3,212.6 185.6,212.8 185.8,213.0 186.1,213.2 186.3,213.5 186.6,213.8 186.8,214.1 187.1,214.4 187.3,214.7 187.6,214.9 187.8,215.1 188.2,215.2 188.6,215.4 188.8,215.5 189.3,215.7 189.6,215.9 189.8,216.1 190.1,216.3 190.3,216.5 190.6,216.8 190.8,217.1 191.1,217.4 191.3,217.7 191.5,218.0 191.7,218.2 191.9,218.5 192.1,218.8 192.3,219.2 192.4,219.5 192.4,220.0 192.3,220.3 192.1,220.8 191.9,221.0 191.7,221.2 191.4,221.5 191.2,221.8 191.0,222.0 190.9,222.5 190.9,223.0 190.9,223.5 190.8,223.8 190.7,224.2 190.6,224.6 190.4,225.0 190.3,225.2 190.1,225.8 190.0,226.0 189.8,226.4 189.6,226.8 189.5,227.0 189.3,227.4 189.1,227.8 188.8,228.0 188.6,228.1 188.1,228.2 187.6,228.2 187.1,228.1 186.7,228.0 186.3,228.0 185.8,228.0 185.6,228.1 185.2,228.2 184.9,228.5 184.7,228.8 184.6,229.0 184.3,229.4 184.1,229.8 184.0,230.0 183.8,230.3 183.6,230.6 183.3,230.9 183.1,231.2 182.8,231.5 182.6,231.7 182.3,232.0 182.1,232.2 181.8,232.3 181.6,232.5 181.1,232.7 180.8,232.8 180.3,232.8 180.1,232.7 179.6,232.5 179.3,232.3 179.1,232.1 178.8,232.0 178.3,231.8 178.1,231.7 177.6,231.6 177.1,231.6 176.6,231.5 176.3,231.5 175.9,231.2 175.7,231.0 175.4,230.8 175.2,230.5 174.8,230.3 174.6,230.2 174.1,230.1 173.6,230.2 173.3,230.3 172.9,230.5 172.6,230.7 172.3,230.9 172.1,231.0 171.6,231.2 171.3,231.4 170.8,231.5 170.6,231.6 170.1,231.7 169.8,231.8 169.3,232.0 169.1,232.2 169.1,232.3 169.5,232.5 169.8,232.6 170.3,232.7 170.6,232.8 171.1,232.8 171.6,232.8 172.0,232.8 172.1,232.8 172.6,232.8 173.1,232.8 173.6,232.9 174.1,232.9 174.4,233.0 174.8,233.0 175.3,233.1 175.6,233.2 176.1,233.4 176.3,233.6 176.6,233.8 176.9,234.0 177.2,234.2 177.5,234.5 177.8,234.8 177.9,235.0 178.1,235.2 178.3,235.7 178.4,236.0 178.5,236.5 178.5,237.0 178.5,237.5 178.4,238.0 178.3,238.5 178.2,238.8 178.1,239.2 178.0,239.5 177.8,239.9 177.6,240.2 177.4,240.5 177.2,240.8 176.9,241.0 176.7,241.2 176.3,241.5 176.1,241.7 175.8,241.9 175.6,242.0 175.1,242.2 174.8,242.4 174.5,242.5 174.1,242.7 173.8,242.8 173.3,243.0 173.1,243.1 172.6,243.2 172.3,243.4 172.0,243.5 171.6,243.7 171.3,243.8 170.8,244.0 170.6,244.1 170.1,244.2 169.8,244.2 169.3,244.3 168.8,244.4 168.3,244.5 167.9,244.5 167.6,244.5 167.1,244.6 166.6,244.6 166.1,244.7 165.7,244.8 165.3,244.8 164.8,244.9 164.3,245.0 164.1,245.1 163.6,245.2 163.1,245.2 162.8,245.3 162.3,245.4 161.8,245.5 161.6,245.5 161.1,245.6 160.6,245.7 160.1,245.8 159.8,245.8 159.3,245.8 158.8,245.9 158.3,245.9 157.8,246.0 157.3,246.0 156.8,246.0 156.3,245.9 155.8,245.9 155.3,245.8 154.8,245.8 154.6,245.7 154.1,245.7 153.6,245.6 153.1,245.5 152.7,245.5 152.3,245.5 151.8,245.4 151.3,245.4 150.8,245.3 150.3,245.3 150.1,245.2 149.6,245.1 149.1,245.0 148.8,244.9 148.3,244.9 147.8,244.8 147.3,244.8 146.8,244.8 146.6,244.7 146.1,244.7 145.6,244.6 145.1,244.6 144.8,244.5 144.3,244.4 143.8,244.3 143.6,244.2 143.1,244.1 142.8,244.0 142.3,243.8 142.1,243.6 141.8,243.5 141.4,243.2 141.1,243.0 140.8,242.8 140.6,242.6 140.3,242.5 139.9,242.2 139.6,242.1 139.3,242.0 138.8,241.8 138.5,241.8 138.1,241.6 137.7,241.5 137.3,241.3 137.1,241.2 136.7,241.0 136.3,240.8 136.1,240.6 135.8,240.4 135.6,240.2 135.3,239.9 135.1,239.6 134.8,239.3 134.6,239.0 134.4,238.8 134.3,238.5 134.1,238.2 133.8,237.8 133.6,237.5 133.3,237.2 133.1,237.0 132.8,236.8 132.6,236.5 132.3,236.3 132.1,236.0 131.8,235.8 131.6,235.6 131.3,235.4 130.8,235.4 130.6,235.7 130.5,236.0 130.4,236.5 130.3,236.9 130.3,237.2 130.2,237.8 130.2,238.2 130.2,238.8 130.1,239.2 130.1,239.8 130.0,240.0 129.9,240.5 129.9,241.0 130.1,241.3 130.3,241.5 130.8,241.5 131.3,241.5 131.8,241.6 132.3,241.6 132.8,241.6 133.3,241.7 133.6,241.8 134.1,241.8 134.6,241.9 134.8,242.0 135.3,242.1 135.8,242.2 136.1,242.3 136.5,242.5 136.8,242.6 137.1,242.8 137.4,243.0 137.8,243.2 138.0,243.5 138.3,243.8 138.5,244.0 138.7,244.2 139.0,244.5 139.2,244.8 139.3,245.0 139.6,245.3 139.8,245.7 140.0,246.0 140.1,246.2 140.3,246.7 140.4,247.0 140.6,247.5 140.6,247.8 140.7,248.2 140.8,248.8 140.8,249.2 140.8,249.8 140.7,250.2 140.6,250.8 140.6,251.0 140.4,251.5 140.3,251.8 140.1,252.2 140.0,252.5 139.8,252.9 139.6,253.2 139.4,253.5 139.2,253.8 139.0,254.0 138.7,254.2 138.4,254.5 138.1,254.8 137.8,255.0 137.6,255.2 137.3,255.3 137.0,255.5 136.6,255.8 136.3,255.9 136.1,256.0 135.6,256.2 135.3,256.3 134.8,256.5 134.6,256.6Z" fill="none" stroke="#151515" stroke-width="0.5"/>
<path d="M151.6,234.8 152.1,234.7 152.6,234.7 153.1,234.7 153.6,234.6 154.1,234.6 154.4,234.5 154.8,234.4 155.1,234.2 155.6,234.0 155.8,233.9 156.2,233.8 156.6,233.6 156.9,233.5 157.3,233.4 157.8,233.4 158.3,233.4 158.8,233.4 159.3,233.3 159.6,233.2 160.1,233.1 160.6,233.0 160.8,233.0 161.3,232.9 161.8,232.9 162.3,232.8 162.8,232.8 163.3,232.8 163.6,232.7 164.1,232.7 164.6,232.6 165.1,232.5 165.3,232.5 165.8,232.4 166.3,232.4 166.8,232.5 167.3,232.5 167.8,232.3 168.1,232.2 167.8,232.1 167.4,232.0 167.1,232.0 166.6,231.9 166.1,231.8 165.8,231.6 165.6,231.4 165.3,231.2 165.0,231.0 164.8,230.8 164.5,230.5 164.1,230.2 163.8,230.1 163.4,230.0 163.1,230.0 162.6,229.9 162.1,230.0 161.8,230.0 161.3,230.1 160.8,230.2 160.3,230.2 160.1,230.3 159.6,230.3 159.1,230.4 158.7,230.5 158.3,230.7 158.1,230.8 157.6,231.0 157.3,231.2 157.1,231.3 156.6,231.4 156.1,231.3 155.8,231.1 155.6,230.9 155.3,230.6 155.1,230.2 154.9,230.0 154.7,229.8 154.5,229.5 154.3,229.2 154.1,229.0 153.8,228.8 153.5,228.5 153.1,228.2 152.8,228.1 152.6,228.0 152.1,227.8 151.8,227.7 151.3,227.6 150.8,227.6 150.3,227.5 150.1,227.5 149.6,227.4 149.2,227.2 148.8,227.1 148.6,226.9 148.2,226.8 147.8,226.6 147.6,226.5 147.1,226.4 146.6,226.3 146.1,226.3 145.6,226.3 145.1,226.4 144.8,226.5 144.3,226.7 143.9,226.8 143.6,226.8 143.1,226.9 142.6,226.9 142.1,226.9 141.6,226.9 141.1,227.0 140.8,227.1 140.6,227.3 140.4,227.8 140.4,228.2 140.5,228.8 140.6,229.0 140.8,229.2 141.1,229.5 141.3,229.8 141.7,230.0 142.1,230.2 142.3,230.3 142.6,230.5 143.1,230.7 143.3,230.8 143.8,230.9 144.1,231.0 144.6,231.1 145.1,231.2 145.3,231.3 145.8,231.4 146.2,231.5 146.6,231.6 146.8,231.8 147.2,232.0 147.6,232.2 147.8,232.5 148.1,232.7 148.3,233.0 148.4,233.2 148.6,233.5 148.8,233.8 149.1,234.2 149.3,234.4 149.6,234.6 150.0,234.8 150.3,234.8 150.8,234.8 151.3,234.8 151.6,234.8Z" fill="none" stroke="#151515" stroke-width="0.5"/>
<path d="M134.6,256.3 134.1,256.4 133.6,256.4 133.1,256.4 132.6,256.5 132.1,256.4 131.6,256.4 131.1,256.4 130.6,256.3 130.3,256.2 129.8,256.2 129.3,256.1 128.9,256.0 128.6,255.9 128.1,255.8 127.8,255.8 127.3,255.6 127.0,255.5 126.5,255.3 126.3,255.2 125.9,255.0 125.5,254.8 125.3,254.6 125.0,254.4 124.8,254.2 124.5,253.9 124.3,253.6 124.1,253.2 123.9,253.0 123.8,252.8 123.5,252.3 123.4,252.0 123.3,251.7 123.1,251.2 123.0,250.9 123.0,250.5 122.9,250.0 122.8,249.7 122.7,249.2 122.6,248.8 122.6,248.2 122.5,248.0 122.5,247.5 122.4,247.0 122.3,246.5 122.3,246.2 122.2,245.8 122.1,245.2 122.0,245.0 121.9,244.5 121.9,244.0 121.8,243.5 121.8,243.1 121.8,242.8 121.7,242.2 121.7,241.8 121.6,241.2 121.5,241.0 121.5,240.5 121.4,240.0 121.4,239.5 121.4,239.0 121.4,238.5 121.4,238.0 121.4,237.5 121.3,237.0 121.3,236.5 121.3,236.0 121.3,235.8 121.3,235.2 121.2,234.8 121.2,234.2 121.1,233.8 121.0,233.3 121.0,233.0 121.0,232.5 121.0,232.0 121.0,231.5 121.1,231.2 121.1,230.8 121.1,230.2 121.2,229.8 121.2,229.2 121.2,228.8 121.2,228.2 121.2,227.8 121.2,227.2 121.2,226.8 121.3,226.2 121.3,225.8 121.3,225.5 121.3,225.0 121.3,224.5 121.4,224.0 121.4,223.5 121.5,223.0 121.5,222.5 121.6,222.2 121.7,221.8 121.7,221.2 121.8,220.8 121.8,220.5 121.9,220.0 121.9,219.5 122.0,219.0 122.0,218.7 122.1,218.2 122.1,217.8 122.2,217.2 122.2,216.8 122.2,216.2 122.3,215.8 122.3,215.2 122.3,214.8 122.3,214.5 122.3,214.0 122.4,213.5 122.4,213.0 122.5,212.5 122.5,212.0 122.6,211.8 122.6,211.2 122.7,210.8 122.7,210.2 122.7,209.8 122.8,209.2 122.8,208.8 122.8,208.2 122.8,207.8 122.8,207.2 122.8,207.0 122.9,206.5 123.0,206.0 123.1,205.8 123.3,205.2 123.4,205.0 123.5,204.7 123.8,204.3 124.0,204.0 124.2,203.8 124.4,203.5 124.6,203.2 124.8,202.9 125.0,202.6 125.3,202.2 125.4,202.0 125.5,201.7 125.8,201.2 125.9,201.0 126.1,200.8 126.3,200.5 126.6,200.2 127.0,200.0 127.3,199.9 127.8,199.8 128.1,199.8 128.6,199.7 129.1,199.6 129.4,199.5 129.8,199.4 130.3,199.4 130.7,199.5 131.1,199.6 131.3,199.8 131.8,200.0 132.1,200.2 132.3,200.3 132.6,200.5 132.9,200.8 133.3,201.0 133.6,201.2 133.8,201.3 134.1,201.5 134.4,201.8 134.8,202.0 135.1,202.2 135.3,202.5 135.6,202.7 135.7,203.0 135.9,203.2 136.1,203.5 136.3,203.9 136.5,204.2 136.6,204.5 136.8,205.0 136.9,205.2 137.1,205.5 137.3,206.0 137.4,206.2 137.6,206.7 137.7,207.0 137.8,207.4 137.9,207.8 138.0,208.2 138.1,208.5 138.1,209.0 138.2,209.5 138.3,210.0 138.3,210.2 138.4,210.8 138.5,211.2 138.6,211.7 138.7,212.0 138.8,212.3 139.1,212.6 139.3,212.8 139.8,213.0 140.1,213.1 140.6,213.2 141.1,213.2 141.3,213.3 141.8,213.3 142.3,213.3 142.8,213.3 143.3,213.3 143.8,213.3 144.3,213.4 144.6,213.5 145.1,213.7 145.3,213.8 145.6,214.0 146.1,214.2 146.3,214.3 146.8,214.5 147.1,214.5 147.6,214.6 148.1,214.7 148.6,214.7 148.8,214.8 149.3,214.8 149.8,214.8 150.3,214.9 150.8,215.0 151.1,215.1 151.6,215.2 151.8,215.3 152.3,215.5 152.6,215.6 153.1,215.6 153.6,215.6 154.1,215.5 154.3,215.5 154.8,215.4 155.3,215.3 155.6,215.2 156.1,215.1 156.6,215.0 156.8,215.0 157.3,214.9 157.7,214.8 158.1,214.6 158.5,214.5 158.8,214.4 159.1,214.2 159.6,214.1 159.8,214.0 160.3,213.8 160.7,213.8 161.1,213.7 161.6,213.6 162.1,213.6 162.6,213.6 163.1,213.6 163.6,213.5 163.8,213.5 164.3,213.4 164.8,213.4 165.3,213.3 165.6,213.2 166.1,213.1 166.6,213.1 167.1,213.0 167.6,213.0 168.1,213.0 168.6,213.1 169.1,213.1 169.6,213.2 169.9,213.2 170.3,213.3 170.8,213.3 171.1,213.2 171.6,213.2 172.1,213.0 172.3,212.9 172.8,212.8 173.1,212.6 173.4,212.5 173.8,212.3 174.2,212.2 174.6,212.2 175.1,212.2 175.6,212.2 175.8,212.3 176.3,212.4 176.6,212.5 177.1,212.6 177.4,212.8 177.8,212.9 178.3,213.0 178.6,213.0 179.1,213.1 179.5,213.2 179.8,213.3 180.3,213.4 180.6,213.5 181.1,213.7 181.3,213.8 181.8,214.0 182.1,214.1 182.6,214.2 182.8,214.2 183.3,214.3 183.8,214.4 184.1,214.5 184.6,214.7 184.8,214.8 185.1,215.0 185.3,215.3 185.6,215.6 185.8,215.9 186.0,216.2 186.2,216.5 186.5,216.8 186.7,217.0 187.1,217.2 187.3,217.4 187.6,217.5 188.1,217.7 188.3,217.8 188.6,218.0 188.9,218.2 189.0,218.8 188.8,219.2 188.6,219.5 188.5,219.8 188.3,220.0 188.1,220.5 188.0,220.8 187.8,221.2 187.8,221.7 187.8,222.0 187.8,222.4 187.8,222.8 187.9,223.2 188.0,223.8 188.1,224.0 188.3,224.5 188.3,224.8 188.3,225.2 188.2,225.5 188.1,225.8 187.8,226.1 187.3,226.2 186.8,226.1 186.6,226.0 186.1,225.8 185.8,225.7 185.3,225.6 184.8,225.6 184.3,225.7 184.1,225.8 183.6,226.0 183.3,226.1 183.0,226.2 182.6,226.5 182.3,226.6 182.1,226.8 181.7,227.0 181.4,227.2 181.1,227.5 180.8,227.7 180.6,227.9 180.3,228.1 180.0,228.2 179.6,228.5 179.3,228.7 179.0,228.8 178.6,228.8 178.1,228.8 177.6,228.8 177.3,228.7 176.8,228.6 176.3,228.6 175.8,228.6 175.3,228.5 174.8,228.5 174.3,228.6 173.8,228.6 173.3,228.6 172.8,228.6 172.3,228.6 171.8,228.7 171.6,228.8 171.1,229.0 170.8,229.0 170.3,229.2 170.1,229.3 169.6,229.4 169.1,229.4 168.6,229.4 168.1,229.5 167.8,229.5 167.3,229.6 166.8,229.6 166.3,229.6 165.8,229.5 165.6,229.5 165.1,229.3 164.7,229.2 164.3,229.2 163.8,229.1 163.4,229.0 163.1,229.0 162.6,229.0 162.1,229.0 161.6,229.0 161.1,229.0 160.6,229.0 160.1,229.0 159.6,228.9 159.1,228.9 158.6,228.9 158.1,228.9 157.6,228.9 157.1,228.9 156.6,228.8 156.3,228.7 155.8,228.5 155.6,228.4 155.2,228.2 154.8,228.0 154.6,227.9 154.3,227.7 153.9,227.5 153.6,227.3 153.3,227.2 153.0,227.0 152.6,226.8 152.3,226.6 151.9,226.5 151.6,226.4 151.1,226.3 150.8,226.2 150.3,226.0 150.1,226.0 149.6,225.8 149.3,225.6 149.0,225.5 148.6,225.3 148.3,225.2 147.8,225.1 147.3,225.0 146.8,225.0 146.3,225.0 145.8,225.1 145.3,225.1 144.8,225.2 144.6,225.3 144.1,225.4 143.7,225.5 143.3,225.6 142.8,225.7 142.3,225.6 141.8,225.5 141.6,225.4 141.1,225.3 140.8,225.2 140.3,225.1 139.9,225.2 139.6,225.5 139.4,225.8 139.3,226.0 139.1,226.5 139.1,227.0 139.0,227.2 139.0,227.8 139.1,228.0 139.1,228.5 139.2,229.0 139.3,229.3 139.5,229.8 139.6,230.0 139.9,230.2 140.3,230.5 140.6,230.6 140.9,230.8 141.3,230.9 141.6,231.0 142.0,231.2 142.3,231.4 142.6,231.5 143.1,231.7 143.3,231.8 143.8,231.9 144.1,232.0 144.6,232.2 144.8,232.2 145.3,232.4 145.6,232.5 146.1,232.7 146.3,232.8 146.6,233.0 146.9,233.2 147.1,233.5 147.3,233.8 147.6,234.2 147.7,234.5 147.9,234.8 148.1,235.1 148.3,235.3 148.6,235.5 149.1,235.7 149.6,235.7 150.1,235.7 150.6,235.6 151.1,235.6 151.4,235.5 151.8,235.5 152.3,235.4 152.8,235.4 153.3,235.4 153.8,235.4 154.3,235.3 154.6,235.2 155.1,235.1 155.4,235.0 155.8,234.9 156.1,234.8 156.6,234.6 157.0,234.5 157.3,234.4 157.8,234.4 158.3,234.3 158.7,234.2 159.1,234.2 159.6,234.1 159.9,234.0 160.3,233.9 160.8,233.8 161.1,233.7 161.6,233.6 162.1,233.6 162.6,233.6 163.1,233.5 163.6,233.5 164.1,233.5 164.6,233.5 165.1,233.6 165.6,233.6 166.1,233.7 166.4,233.8 166.8,233.8 167.3,233.9 167.8,233.9 168.3,233.9 168.8,233.9 169.3,234.0 169.7,234.0 170.1,234.0 170.6,234.1 171.1,234.1 171.6,234.1 172.1,234.1 172.6,234.1 173.1,234.1 173.6,234.2 173.8,234.3 174.3,234.4 174.7,234.5 175.1,234.6 175.4,234.8 175.8,235.0 176.1,235.1 176.3,235.4 176.6,235.6 176.8,236.0 176.9,236.2 177.0,236.8 177.1,237.0 177.1,237.5 177.1,238.0 177.1,238.3 177.0,238.8 176.9,239.2 176.8,239.5 176.6,240.0 176.4,240.2 176.2,240.5 176.0,240.8 175.7,241.0 175.4,241.2 175.1,241.5 174.8,241.6 174.6,241.8 174.1,242.0 173.8,242.1 173.4,242.2 173.1,242.4 172.7,242.5 172.3,242.7 172.1,242.8 171.6,243.0 171.3,243.1 170.8,243.2 170.6,243.3 170.1,243.4 169.7,243.5 169.3,243.6 168.8,243.6 168.3,243.7 168.0,243.8 167.6,243.8 167.1,243.9 166.6,244.0 166.3,244.1 165.8,244.2 165.4,244.2 165.1,244.3 164.6,244.4 164.2,244.5 163.8,244.6 163.3,244.7 163.0,244.8 162.6,244.9 162.1,244.9 161.6,245.0 161.3,245.0 160.8,245.1 160.3,245.2 159.8,245.2 159.4,245.2 159.1,245.3 158.6,245.3 158.1,245.3 157.6,245.3 157.1,245.3 156.6,245.3 156.3,245.2 155.8,245.2 155.3,245.2 154.8,245.1 154.3,245.1 153.8,245.0 153.6,245.0 153.1,244.9 152.6,244.9 152.1,244.9 151.6,244.8 151.2,244.8 150.8,244.7 150.3,244.5 150.1,244.5 149.6,244.3 149.3,244.2 148.8,244.1 148.3,244.1 147.8,244.1 147.3,244.1 146.8,244.1 146.3,244.0 146.0,244.0 145.6,243.9 145.1,243.8 144.8,243.8 144.3,243.6 144.1,243.5 143.6,243.2 143.3,243.1 143.1,242.9 142.8,242.6 142.6,242.4 142.3,242.1 142.1,241.9 141.8,241.7 141.4,241.5 141.1,241.4 140.6,241.2 140.3,241.2 139.8,241.0 139.6,241.0 139.1,240.8 138.8,240.7 138.3,240.6 138.1,240.5 137.6,240.3 137.3,240.1 137.0,240.0 136.7,239.8 136.3,239.5 136.1,239.2 135.9,239.0 135.7,238.8 135.6,238.5 135.3,238.0 135.2,237.8 135.1,237.5 134.9,237.0 134.8,236.8 134.6,236.2 134.5,236.0 134.3,235.5 134.2,235.2 134.1,235.0 133.8,234.7 133.3,234.5 133.1,234.4 132.6,234.2 132.3,234.1 132.0,234.0 131.6,233.8 131.3,233.6 131.1,233.5 130.6,233.4 130.3,233.5 130.1,233.9 129.9,234.2 129.8,234.8 129.8,235.0 129.8,235.5 129.7,236.0 129.7,236.5 129.7,237.0 129.7,237.5 129.6,238.0 129.6,238.5 129.6,239.0 129.5,239.2 129.5,239.8 129.4,240.2 129.3,240.8 129.3,241.0 129.3,241.5 129.4,241.8 129.8,241.9 130.3,242.0 130.8,241.9 131.3,241.9 131.8,241.9 132.3,241.9 132.8,242.0 133.1,242.0 133.6,242.1 134.1,242.2 134.3,242.3 134.8,242.4 135.3,242.5 135.6,242.6 136.0,242.8 136.3,242.8 136.6,243.0 137.1,243.2 137.3,243.4 137.6,243.6 137.8,243.8 138.1,244.1 138.3,244.3 138.6,244.6 138.8,244.9 139.0,245.2 139.2,245.5 139.4,245.8 139.6,246.0 139.8,246.5 139.9,246.8 140.1,247.1 140.2,247.5 140.3,248.0 140.4,248.2 140.4,248.8 140.5,249.2 140.4,249.8 140.4,250.2 140.3,250.6 140.2,251.0 140.1,251.5 140.0,251.8 139.8,252.2 139.7,252.5 139.5,252.8 139.3,253.1 139.1,253.4 138.8,253.7 138.6,254.0 138.3,254.2 138.1,254.4 137.8,254.6 137.6,254.8 137.2,255.0 136.8,255.2 136.6,255.4 136.3,255.6 136.0,255.8 135.6,255.9 135.3,256.0 134.8,256.2 134.6,256.3Z" fill="none" stroke="#151515" stroke-width="0.5"/>
<path d="M134.3,256.1 133.8,256.1 133.3,256.2 132.8,256.2 132.3,256.2 131.8,256.2 131.3,256.1 130.8,256.1 130.3,256.0 130.1,256.0 129.6,255.9 129.1,255.8 128.8,255.7 128.3,255.6 127.9,255.5 127.5,255.4 127.2,255.2 126.8,255.1 126.5,255.0 126.1,254.8 125.8,254.5 125.5,254.3 125.3,254.1 125.0,253.9 124.8,253.6 124.6,253.2 124.4,253.0 124.2,252.8 124.0,252.5 123.8,252.0 123.7,251.8 123.5,251.4 123.4,251.0 123.3,250.5 123.2,250.2 123.1,249.8 123.1,249.2 123.0,249.0 123.0,248.5 122.9,248.0 122.9,247.5 122.8,247.0 122.8,246.8 122.7,246.2 122.6,245.8 122.5,245.5 122.4,245.0 122.4,244.5 122.3,244.1 122.3,243.8 122.2,243.2 122.2,242.8 122.1,242.2 122.1,241.8 122.0,241.5 122.0,241.0 121.9,240.5 121.8,240.0 121.8,239.5 121.8,239.2 121.8,238.8 121.8,238.2 121.7,237.8 121.7,237.2 121.7,236.8 121.6,236.2 121.6,235.8 121.6,235.2 121.5,234.8 121.5,234.5 121.5,234.0 121.4,233.5 121.3,233.0 121.3,232.5 121.3,232.0 121.4,231.5 121.4,231.0 121.5,230.5 121.5,230.0 121.5,229.7 121.6,229.2 121.6,228.8 121.6,228.2 121.6,227.8 121.6,227.2 121.6,226.8 121.6,226.2 121.7,225.8 121.7,225.2 121.7,224.8 121.7,224.2 121.8,223.8 121.8,223.5 121.9,223.0 122.0,222.5 122.0,222.1 122.1,221.8 122.2,221.2 122.2,220.8 122.3,220.2 122.3,220.0 122.4,219.5 122.4,219.0 122.5,218.5 122.5,218.1 122.6,217.8 122.6,217.2 122.7,216.8 122.7,216.2 122.8,215.8 122.8,215.2 122.8,215.0 122.8,214.5 122.9,214.0 122.9,213.5 123.0,213.0 123.0,212.5 123.0,212.2 123.1,211.8 123.2,211.2 123.2,210.8 123.3,210.3 123.3,210.0 123.4,209.5 123.4,209.0 123.4,208.5 123.4,208.0 123.4,207.5 123.4,207.0 123.5,206.5 123.6,206.2 123.7,205.8 123.8,205.5 124.0,205.1 124.3,204.8 124.5,204.5 124.7,204.2 124.9,204.0 125.1,203.8 125.4,203.5 125.7,203.2 125.9,203.0 126.1,202.8 126.4,202.5 126.6,202.2 126.8,202.0 127.1,201.8 127.4,201.5 127.7,201.2 128.1,201.1 128.3,201.0 128.8,200.8 129.1,200.7 129.6,200.6 130.1,200.5 130.3,200.5 130.6,200.5 131.1,200.6 131.4,200.8 131.8,201.0 132.1,201.1 132.3,201.3 132.7,201.5 133.0,201.8 133.3,201.9 133.6,202.1 133.8,202.3 134.1,202.5 134.5,202.8 134.8,203.0 135.0,203.2 135.2,203.5 135.4,203.8 135.6,204.0 135.8,204.5 135.9,204.8 136.1,205.1 136.2,205.5 136.3,205.8 136.6,206.2 136.7,206.5 136.8,206.8 137.0,207.2 137.1,207.5 137.2,208.0 137.3,208.3 137.4,208.8 137.5,209.2 137.5,209.8 137.6,210.1 137.6,210.5 137.7,211.0 137.7,211.5 137.8,212.0 137.8,212.2 138.0,212.8 138.1,213.0 138.3,213.2 138.7,213.5 139.1,213.7 139.3,213.8 139.8,213.8 140.3,213.9 140.8,213.9 141.3,214.0 141.6,214.0 142.1,214.1 142.6,214.1 143.1,214.2 143.3,214.3 143.8,214.4 144.2,214.5 144.6,214.6 144.9,214.8 145.3,214.9 145.6,215.0 146.1,215.1 146.5,215.2 146.8,215.3 147.3,215.4 147.8,215.4 148.3,215.5 148.6,215.5 149.1,215.5 149.6,215.6 150.1,215.7 150.3,215.8 150.8,216.0 151.1,216.1 151.3,216.3 151.7,216.5 152.1,216.7 152.4,216.8 152.8,216.8 153.1,216.7 153.6,216.6 153.8,216.5 154.3,216.3 154.6,216.2 155.1,216.0 155.3,215.9 155.8,215.8 156.1,215.7 156.6,215.6 157.0,215.5 157.3,215.4 157.8,215.3 158.1,215.2 158.6,215.1 158.9,215.0 159.3,214.8 159.6,214.8 160.1,214.6 160.4,214.5 160.8,214.4 161.3,214.4 161.8,214.3 162.3,214.3 162.8,214.3 163.3,214.3 163.6,214.2 164.1,214.2 164.6,214.1 165.1,214.0 165.3,214.0 165.8,213.9 166.3,213.8 166.7,213.8 167.1,213.7 167.6,213.7 168.1,213.7 168.4,213.8 168.8,213.8 169.3,213.9 169.8,214.0 170.2,214.0 170.6,214.0 171.1,214.0 171.4,214.0 171.8,213.9 172.3,213.8 172.6,213.7 173.1,213.6 173.3,213.5 173.8,213.4 174.3,213.3 174.8,213.3 175.3,213.3 175.8,213.4 176.1,213.5 176.6,213.7 176.8,213.8 177.3,213.9 177.6,214.0 178.1,214.1 178.6,214.2 178.8,214.3 179.3,214.4 179.8,214.5 180.1,214.6 180.5,214.8 180.8,214.9 181.2,215.0 181.6,215.1 181.8,215.2 182.3,215.4 182.8,215.5 183.1,215.5 183.6,215.6 183.9,215.8 184.3,216.0 184.6,216.2 184.8,216.5 185.0,216.8 185.1,217.0 185.3,217.3 185.5,217.8 185.7,218.0 185.8,218.2 186.1,218.7 186.2,219.0 186.3,219.2 186.5,219.8 186.5,220.2 186.6,220.7 186.6,221.0 186.6,221.5 186.5,221.8 186.5,222.2 186.3,222.8 186.2,223.0 186.0,223.2 185.8,223.5 185.4,223.8 185.1,223.9 184.8,224.1 184.3,224.2 184.1,224.4 183.7,224.5 183.3,224.7 183.1,224.8 182.7,225.0 182.3,225.2 182.1,225.4 181.8,225.6 181.5,225.8 181.2,226.0 180.9,226.2 180.6,226.5 180.3,226.7 180.1,226.9 179.8,227.0 179.3,227.2 179.1,227.3 178.6,227.4 178.1,227.4 177.6,227.4 177.1,227.5 176.7,227.5 176.3,227.6 175.8,227.7 175.3,227.7 175.1,227.8 174.6,227.8 174.1,227.9 173.6,227.9 173.1,227.9 172.6,227.8 172.1,227.9 171.6,227.9 171.1,228.0 170.8,228.1 170.3,228.2 170.1,228.3 169.6,228.4 169.1,228.5 168.8,228.5 168.3,228.6 167.8,228.6 167.3,228.7 166.8,228.7 166.3,228.7 165.8,228.7 165.3,228.6 164.8,228.5 164.6,228.5 164.1,228.4 163.6,228.4 163.1,228.4 162.6,228.3 162.1,228.3 161.6,228.3 161.1,228.3 160.6,228.3 160.3,228.2 159.8,228.2 159.3,228.2 158.8,228.1 158.3,228.1 157.8,228.0 157.5,228.0 157.1,227.9 156.6,227.8 156.2,227.8 155.8,227.6 155.4,227.5 155.1,227.3 154.8,227.2 154.4,227.0 154.1,226.8 153.8,226.7 153.5,226.5 153.2,226.2 152.8,226.0 152.6,225.9 152.3,225.7 151.8,225.5 151.6,225.4 151.1,225.2 150.8,225.2 150.4,225.0 150.1,224.9 149.7,224.8 149.3,224.6 149.1,224.5 148.6,224.3 148.2,224.2 147.8,224.2 147.3,224.2 146.8,224.2 146.3,224.2 145.8,224.2 145.4,224.2 145.1,224.3 144.6,224.3 144.1,224.4 143.6,224.5 143.3,224.6 142.8,224.6 142.3,224.6 142.1,224.5 141.6,224.3 141.3,224.2 140.9,224.0 140.6,223.8 140.1,223.8 140.0,223.8 139.6,223.9 139.3,224.1 139.1,224.4 138.9,224.8 138.8,225.0 138.6,225.5 138.5,225.8 138.4,226.2 138.3,226.7 138.3,227.0 138.2,227.5 138.3,228.0 138.3,228.5 138.3,228.8 138.3,229.2 138.3,229.8 138.3,230.1 138.3,230.5 138.3,231.0 138.4,231.2 138.8,231.4 139.3,231.5 139.8,231.5 140.1,231.5 140.6,231.5 141.1,231.7 141.4,231.8 141.8,231.9 142.1,232.0 142.6,232.2 142.8,232.3 143.3,232.5 143.6,232.6 144.0,232.8 144.3,232.9 144.6,233.0 145.1,233.2 145.3,233.3 145.7,233.5 146.0,233.8 146.3,234.0 146.4,234.2 146.6,234.5 146.7,235.0 146.8,235.3 147.0,235.8 147.2,236.0 147.5,236.2 147.8,236.4 148.3,236.5 148.6,236.5 149.1,236.5 149.3,236.5 149.8,236.4 150.3,236.3 150.6,236.2 151.1,236.1 151.6,236.0 151.8,236.0 152.3,236.0 152.8,235.9 153.3,235.9 153.8,235.9 154.3,235.9 154.8,235.8 155.1,235.7 155.6,235.6 155.8,235.5 156.3,235.3 156.6,235.2 157.1,235.1 157.6,235.0 157.8,235.0 158.3,234.9 158.8,234.8 159.1,234.8 159.6,234.6 160.0,234.5 160.3,234.4 160.8,234.3 161.1,234.2 161.6,234.1 162.1,234.1 162.6,234.0 163.1,234.0 163.6,234.0 164.1,234.0 164.6,234.1 165.1,234.1 165.6,234.2 165.9,234.2 166.3,234.3 166.8,234.4 167.3,234.5 167.6,234.5 168.1,234.6 168.6,234.6 169.1,234.6 169.6,234.7 170.1,234.7 170.3,234.8 170.8,234.8 171.3,234.8 171.8,234.8 172.3,234.8 172.8,234.8 173.3,234.9 173.6,235.0 174.1,235.1 174.4,235.2 174.8,235.4 175.1,235.6 175.3,235.8 175.6,236.0 175.8,236.3 176.1,236.7 176.1,237.0 176.2,237.5 176.2,238.0 176.2,238.5 176.1,239.0 176.0,239.2 175.8,239.7 175.7,240.0 175.5,240.2 175.3,240.5 175.0,240.8 174.7,241.0 174.3,241.2 174.1,241.4 173.7,241.5 173.3,241.7 173.1,241.8 172.6,242.0 172.3,242.1 171.9,242.2 171.6,242.4 171.2,242.5 170.8,242.6 170.3,242.7 170.1,242.8 169.6,242.8 169.1,242.9 168.6,243.0 168.3,243.0 167.8,243.1 167.3,243.2 167.1,243.3 166.6,243.4 166.3,243.5 165.8,243.7 165.5,243.8 165.1,243.9 164.6,244.0 164.3,244.1 163.8,244.2 163.4,244.2 163.1,244.3 162.6,244.4 162.1,244.5 161.8,244.5 161.3,244.6 160.8,244.7 160.3,244.7 160.0,244.8 159.6,244.8 159.1,244.8 158.6,244.8 158.1,244.8 157.6,244.8 157.3,244.7 156.8,244.7 156.3,244.7 155.8,244.7 155.3,244.6 154.8,244.6 154.3,244.5 153.9,244.5 153.6,244.5 153.1,244.5 152.6,244.4 152.1,244.4 151.6,244.3 151.3,244.2 150.8,244.1 150.5,244.0 150.1,243.8 149.8,243.7 149.3,243.6 149.1,243.5 148.6,243.4 148.1,243.4 147.6,243.4 147.1,243.4 146.6,243.4 146.1,243.4 145.6,243.3 145.3,243.2 144.8,243.0 144.6,242.8 144.3,242.6 144.1,242.4 143.8,242.1 143.6,241.8 143.5,241.5 143.3,241.1 143.1,240.8 142.8,240.6 142.6,240.4 142.1,240.3 141.8,240.2 141.3,240.2 140.8,240.2 140.3,240.2 139.8,240.1 139.4,240.0 139.1,239.9 138.7,239.8 138.3,239.6 138.1,239.4 137.7,239.2 137.4,239.0 137.1,238.8 136.9,238.5 136.7,238.2 136.5,238.0 136.3,237.5 136.2,237.2 136.1,236.8 136.0,236.5 136.0,236.0 135.9,235.5 136.0,235.0 136.0,234.5 136.1,234.2 136.1,233.8 136.1,233.2 136.0,233.0 135.6,232.9 135.1,232.9 134.6,233.0 134.3,233.0 133.8,233.1 133.3,233.2 132.8,233.2 132.3,233.1 132.1,233.0 131.6,232.8 131.3,232.6 131.1,232.5 130.6,232.3 130.3,232.2 130.1,232.3 129.8,232.7 129.7,233.0 129.6,233.4 129.5,233.8 129.4,234.2 129.4,234.8 129.3,235.2 129.3,235.6 129.3,236.0 129.3,236.5 129.2,237.0 129.2,237.5 129.2,238.0 129.2,238.5 129.1,239.0 129.1,239.5 129.0,239.8 128.9,240.2 128.8,240.8 128.8,241.0 128.8,241.5 128.8,241.8 129.1,242.2 129.3,242.3 129.8,242.3 130.3,242.3 130.6,242.2 131.1,242.2 131.6,242.1 132.1,242.2 132.6,242.2 132.8,242.3 133.3,242.3 133.8,242.4 134.1,242.5 134.6,242.6 135.1,242.7 135.3,242.8 135.8,243.0 136.1,243.1 136.5,243.2 136.8,243.4 137.1,243.6 137.3,243.8 137.6,244.0 137.9,244.2 138.1,244.5 138.3,244.8 138.6,245.0 138.8,245.4 139.0,245.8 139.2,246.0 139.3,246.2 139.6,246.7 139.7,247.0 139.8,247.3 140.0,247.8 140.1,248.2 140.1,248.5 140.2,249.0 140.2,249.5 140.1,250.0 140.1,250.4 140.0,250.8 139.9,251.2 139.8,251.5 139.6,252.0 139.5,252.2 139.3,252.6 139.1,253.0 138.8,253.2 138.6,253.5 138.4,253.8 138.1,254.0 137.8,254.2 137.6,254.5 137.3,254.6 137.1,254.8 136.8,255.0 136.4,255.2 136.1,255.4 135.8,255.6 135.3,255.8 135.1,255.9 134.6,256.0 134.3,256.1Z" fill="none" stroke="#151515" stroke-width="0.5"/>
<path d="M134.6,255.8 134.1,255.9 133.6,256.0 133.1,256.0 132.6,256.0 132.1,256.0 131.6,255.9 131.1,255.9 130.6,255.8 130.2,255.8 129.8,255.7 129.3,255.6 128.8,255.5 128.6,255.4 128.1,255.3 127.8,255.2 127.3,255.1 127.0,254.9 126.7,254.8 126.3,254.5 126.0,254.4 125.8,254.2 125.5,253.9 125.3,253.7 125.0,253.4 124.8,253.1 124.6,252.8 124.4,252.5 124.2,252.2 124.0,251.9 123.9,251.5 123.8,251.2 123.6,250.8 123.5,250.4 123.5,250.0 123.4,249.5 123.3,249.0 123.3,248.8 123.2,248.2 123.2,247.8 123.2,247.2 123.1,246.8 123.1,246.2 123.0,246.0 122.9,245.5 122.8,245.0 122.8,244.8 122.7,244.2 122.6,243.8 122.6,243.2 122.6,242.8 122.5,242.5 122.5,242.0 122.4,241.5 122.3,241.0 122.3,240.8 122.2,240.2 122.1,239.8 122.1,239.2 122.1,238.8 122.1,238.2 122.0,237.9 122.0,237.5 122.0,237.0 121.9,236.5 121.9,236.0 121.9,235.5 121.8,235.0 121.8,234.6 121.8,234.2 121.7,233.8 121.6,233.2 121.6,232.8 121.6,232.2 121.6,231.8 121.7,231.2 121.7,230.8 121.8,230.3 121.8,230.0 121.9,229.5 121.9,229.0 121.9,228.5 121.9,228.0 121.9,227.5 121.9,227.0 121.9,226.5 122.0,226.0 122.0,225.5 122.0,225.0 122.0,224.5 122.1,224.2 122.1,223.8 122.2,223.2 122.3,222.8 122.3,222.5 122.4,222.0 122.5,221.5 122.5,221.0 122.6,220.8 122.6,220.2 122.7,219.8 122.8,219.2 122.8,219.0 122.9,218.5 122.9,218.0 123.0,217.5 123.0,217.2 123.1,216.8 123.2,216.2 123.2,215.8 123.2,215.2 123.3,214.8 123.3,214.2 123.3,214.0 123.3,213.5 123.4,213.0 123.5,212.5 123.5,212.0 123.6,211.8 123.7,211.2 123.7,210.8 123.8,210.4 123.8,210.0 123.9,209.5 123.9,209.0 123.9,208.5 123.9,208.0 123.9,207.5 123.9,207.0 124.0,206.5 124.1,206.2 124.3,205.8 124.5,205.5 124.6,205.2 124.8,205.0 125.0,204.7 125.3,204.5 125.5,204.2 125.8,204.0 126.1,203.8 126.4,203.5 126.7,203.2 127.0,203.0 127.3,202.8 127.5,202.6 127.8,202.4 128.1,202.2 128.4,202.0 128.8,201.8 129.1,201.6 129.3,201.5 129.8,201.4 130.3,201.3 130.8,201.3 131.3,201.5 131.6,201.6 131.8,201.8 132.2,202.0 132.6,202.2 132.8,202.4 133.1,202.6 133.3,202.8 133.6,203.0 133.9,203.2 134.2,203.5 134.5,203.8 134.7,204.0 134.9,204.2 135.1,204.5 135.3,205.0 135.4,205.2 135.6,205.7 135.7,206.0 135.8,206.3 136.0,206.8 136.1,207.0 136.3,207.3 136.5,207.8 136.6,208.0 136.7,208.5 136.8,209.0 136.8,209.3 136.9,209.8 136.9,210.2 137.0,210.8 137.0,211.2 137.1,211.7 137.1,212.0 137.1,212.5 137.2,213.0 137.3,213.2 137.6,213.7 137.8,214.0 138.1,214.1 138.3,214.3 138.8,214.4 139.2,214.5 139.6,214.5 139.9,214.5 140.3,214.5 140.8,214.5 141.1,214.5 141.6,214.6 142.1,214.7 142.3,214.8 142.8,214.9 143.2,215.0 143.6,215.1 143.8,215.2 144.3,215.4 144.6,215.5 145.1,215.7 145.4,215.8 145.8,215.9 146.3,216.0 146.6,216.0 147.1,216.1 147.6,216.2 148.1,216.2 148.6,216.2 148.9,216.2 149.3,216.3 149.8,216.4 150.1,216.6 150.4,216.8 150.6,217.0 150.9,217.2 151.2,217.5 151.6,217.7 151.8,217.8 152.3,217.8 152.6,217.7 153.1,217.5 153.3,217.4 153.7,217.2 154.1,217.0 154.3,216.9 154.6,216.8 155.1,216.6 155.3,216.5 155.8,216.3 156.1,216.2 156.6,216.1 156.8,216.0 157.3,215.9 157.8,215.8 158.1,215.7 158.6,215.6 158.8,215.5 159.3,215.3 159.6,215.2 160.1,215.1 160.6,215.0 160.8,215.0 161.3,214.9 161.8,214.9 162.3,214.9 162.8,214.9 163.3,214.9 163.8,214.8 164.2,214.8 164.6,214.7 165.1,214.6 165.4,214.5 165.8,214.4 166.3,214.3 166.8,214.2 167.1,214.2 167.6,214.2 168.1,214.2 168.4,214.2 168.8,214.3 169.3,214.4 169.8,214.5 170.1,214.5 170.6,214.6 171.1,214.6 171.6,214.6 172.1,214.5 172.3,214.5 172.8,214.4 173.2,214.2 173.6,214.1 174.1,214.0 174.6,214.0 175.1,214.1 175.6,214.2 175.8,214.3 176.3,214.4 176.6,214.5 177.1,214.7 177.3,214.8 177.8,214.9 178.3,215.0 178.6,215.0 179.1,215.1 179.5,215.2 179.8,215.3 180.2,215.5 180.6,215.6 180.8,215.8 181.3,216.0 181.6,216.1 182.0,216.2 182.3,216.4 182.8,216.5 183.1,216.6 183.4,216.8 183.7,217.0 183.9,217.2 184.1,217.5 184.3,218.0 184.3,218.2 184.5,218.8 184.6,219.0 184.8,219.3 185.0,219.8 185.2,220.0 185.3,220.3 185.4,220.8 185.5,221.2 185.5,221.8 185.4,222.2 185.3,222.5 185.1,222.8 184.8,223.0 184.4,223.2 184.1,223.4 183.8,223.6 183.4,223.8 183.1,223.9 182.8,224.1 182.5,224.2 182.1,224.5 181.8,224.7 181.6,224.9 181.3,225.1 181.0,225.2 180.7,225.5 180.4,225.8 180.1,226.0 179.8,226.1 179.6,226.3 179.1,226.5 178.8,226.5 178.3,226.6 177.8,226.6 177.3,226.7 176.9,226.8 176.6,226.8 176.1,227.0 175.8,227.0 175.3,227.2 174.9,227.2 174.6,227.3 174.1,227.4 173.6,227.4 173.1,227.4 172.6,227.3 172.1,227.3 171.6,227.4 171.1,227.4 170.8,227.5 170.3,227.6 169.9,227.8 169.6,227.8 169.1,228.0 168.7,228.0 168.3,228.1 167.8,228.1 167.3,228.1 166.8,228.2 166.3,228.1 165.8,228.1 165.3,228.1 164.8,228.0 164.6,228.0 164.1,227.9 163.6,227.9 163.1,227.9 162.6,227.9 162.1,227.9 161.6,227.8 161.1,227.8 160.8,227.7 160.3,227.7 159.8,227.6 159.3,227.5 159.0,227.5 158.6,227.4 158.1,227.4 157.6,227.3 157.1,227.3 156.8,227.2 156.3,227.1 155.8,227.0 155.6,226.9 155.1,226.8 154.8,226.6 154.6,226.5 154.2,226.2 153.8,226.0 153.6,225.8 153.3,225.6 153.1,225.4 152.8,225.2 152.4,225.0 152.1,224.8 151.8,224.7 151.4,224.5 151.1,224.4 150.7,224.2 150.3,224.1 150.1,224.0 149.6,223.8 149.3,223.7 148.8,223.5 148.6,223.5 148.1,223.4 147.6,223.4 147.1,223.5 146.8,223.5 146.3,223.5 145.8,223.6 145.3,223.6 144.8,223.6 144.3,223.6 143.8,223.7 143.3,223.7 142.8,223.7 142.3,223.7 141.8,223.5 141.6,223.4 141.3,223.2 140.8,223.0 140.6,222.9 140.1,222.8 139.8,222.7 139.4,222.8 139.1,222.9 138.8,223.1 138.6,223.5 138.5,223.8 138.3,224.2 138.3,224.5 138.1,225.0 138.1,225.3 137.9,225.8 137.8,226.2 137.8,226.5 137.7,227.0 137.6,227.5 137.6,228.0 137.6,228.5 137.6,229.0 137.6,229.4 137.5,229.8 137.3,230.2 137.2,230.5 137.0,230.8 136.8,231.0 136.5,231.2 136.1,231.5 135.8,231.7 135.6,231.8 135.1,232.0 134.8,232.1 134.3,232.2 134.1,232.3 133.6,232.4 133.1,232.5 132.8,232.5 132.6,232.5 132.1,232.4 131.8,232.2 131.4,232.0 131.1,231.8 130.8,231.6 130.6,231.4 130.1,231.3 129.7,231.5 129.6,231.8 129.4,232.2 129.3,232.7 129.3,233.0 129.2,233.5 129.1,234.0 129.1,234.4 129.0,234.8 129.0,235.2 129.0,235.8 128.9,236.2 128.9,236.8 128.9,237.2 128.9,237.8 128.8,238.2 128.8,238.5 128.8,239.0 128.7,239.5 128.6,240.0 128.5,240.2 128.5,240.8 128.4,241.2 128.4,241.8 128.5,242.2 128.7,242.5 129.1,242.6 129.6,242.6 130.1,242.5 130.3,242.5 130.8,242.4 131.3,242.4 131.8,242.4 132.3,242.4 132.8,242.5 133.1,242.5 133.6,242.6 134.1,242.7 134.3,242.8 134.8,242.9 135.2,243.0 135.6,243.1 135.9,243.2 136.3,243.4 136.6,243.5 136.9,243.8 137.3,244.0 137.5,244.2 137.8,244.5 138.0,244.8 138.2,245.0 138.4,245.2 138.6,245.5 138.8,245.8 139.1,246.2 139.2,246.5 139.3,246.8 139.5,247.2 139.6,247.5 139.8,248.0 139.8,248.2 139.9,248.8 139.9,249.2 139.9,249.8 139.8,250.2 139.8,250.5 139.7,251.0 139.6,251.4 139.4,251.8 139.3,252.1 139.1,252.5 138.9,252.8 138.8,253.0 138.5,253.2 138.3,253.5 138.1,253.8 137.8,254.0 137.5,254.2 137.1,254.5 136.8,254.7 136.6,254.9 136.3,255.0 135.9,255.2 135.6,255.4 135.3,255.5 134.8,255.7 134.6,255.8Z" fill="none" stroke="#151515" stroke-width="0.5"/>
<path d="M161.1,244.3 160.6,244.3 160.1,244.4 159.6,244.4 159.1,244.4 158.6,244.4 158.1,244.4 157.6,244.3 157.1,244.3 156.6,244.3 156.3,244.2 155.8,244.2 155.3,244.2 154.8,244.1 154.3,244.1 153.8,244.1 153.3,244.1 152.8,244.0 152.3,244.0 152.1,244.0 151.6,243.9 151.2,243.8 150.8,243.6 150.5,243.5 150.1,243.3 149.8,243.2 149.3,243.0 149.1,242.9 148.6,242.8 148.1,242.8 147.6,242.8 147.1,242.8 146.6,242.8 146.3,242.7 145.8,242.6 145.5,242.5 145.2,242.2 145.0,242.0 144.8,241.7 144.6,241.2 144.5,241.0 144.3,240.5 144.2,240.2 144.1,240.0 143.8,239.7 143.6,239.5 143.2,239.2 142.8,239.1 142.3,239.1 141.8,239.2 141.4,239.2 141.1,239.3 140.6,239.4 140.1,239.3 139.6,239.2 139.3,239.1 139.0,239.0 138.6,238.8 138.3,238.5 138.1,238.2 137.8,238.0 137.7,237.8 137.5,237.5 137.3,237.1 137.2,236.8 137.1,236.3 137.0,236.0 137.0,235.5 137.0,235.0 137.1,234.8 137.2,234.2 137.4,234.0 137.6,233.7 137.8,233.4 138.1,233.1 138.3,232.9 138.6,232.8 139.1,232.5 139.3,232.4 139.8,232.3 140.1,232.2 140.6,232.2 140.9,232.2 141.3,232.3 141.8,232.5 142.1,232.5 142.6,232.7 142.8,232.9 143.1,233.0 143.6,233.2 143.8,233.3 144.1,233.5 144.5,233.8 144.8,233.9 145.1,234.1 145.3,234.4 145.5,234.8 145.6,235.0 145.7,235.5 145.8,236.0 145.8,236.2 146.0,236.8 146.2,237.0 146.6,237.2 146.9,237.2 147.2,237.2 147.6,237.2 148.1,237.2 148.6,237.2 149.1,237.1 149.6,237.0 149.8,237.0 150.3,236.8 150.6,236.8 151.1,236.6 151.5,236.5 151.8,236.4 152.3,236.4 152.8,236.4 153.3,236.4 153.8,236.3 154.3,236.3 154.7,236.2 155.1,236.2 155.6,236.0 155.8,236.0 156.3,235.8 156.6,235.7 157.1,235.6 157.5,235.5 157.8,235.4 158.3,235.3 158.8,235.3 159.1,235.2 159.6,235.1 159.8,235.0 160.3,234.8 160.6,234.8 161.1,234.6 161.6,234.5 161.8,234.5 162.3,234.5 162.8,234.4 163.3,234.4 163.8,234.5 164.3,234.5 164.6,234.5 165.1,234.6 165.6,234.6 166.1,234.7 166.3,234.8 166.8,234.8 167.3,234.9 167.8,235.0 168.1,235.0 168.6,235.1 169.1,235.2 169.6,235.2 169.8,235.3 170.3,235.3 170.8,235.4 171.3,235.4 171.8,235.4 172.3,235.4 172.8,235.4 173.1,235.5 173.6,235.6 173.9,235.8 174.3,236.0 174.6,236.1 174.8,236.3 175.1,236.6 175.3,237.0 175.4,237.2 175.5,237.8 175.5,238.2 175.4,238.8 175.3,239.1 175.1,239.5 175.0,239.8 174.8,240.0 174.6,240.3 174.3,240.5 174.0,240.8 173.6,241.0 173.3,241.1 173.1,241.3 172.6,241.5 172.3,241.6 171.9,241.8 171.6,241.9 171.1,242.0 170.8,242.1 170.3,242.2 169.8,242.2 169.6,242.3 169.1,242.3 168.6,242.4 168.1,242.4 167.8,242.5 167.3,242.6 167.0,242.8 166.6,242.9 166.3,243.0 165.8,243.2 165.6,243.3 165.1,243.5 164.8,243.5 164.3,243.7 164.1,243.8 163.6,243.9 163.1,244.0 162.8,244.0 162.3,244.1 161.8,244.2 161.3,244.2 161.1,244.3Z" fill="none" stroke="#151515" stroke-width="0.5"/>
<path d="M133.3,255.8 132.8,255.8 132.3,255.8 131.9,255.8 131.6,255.7 131.1,255.7 130.6,255.6 130.1,255.5 129.8,255.5 129.3,255.4 128.8,255.3 128.6,255.2 128.1,255.1 127.8,255.0 127.3,254.8 127.0,254.7 126.7,254.5 126.4,254.2 126.0,254.0 125.8,253.8 125.5,253.5 125.3,253.3 125.1,253.0 124.9,252.8 124.7,252.5 124.5,252.2 124.3,251.8 124.2,251.5 124.0,251.1 123.9,250.8 123.8,250.3 123.7,250.0 123.6,249.5 123.6,249.0 123.5,248.8 123.5,248.2 123.5,247.8 123.5,247.2 123.5,246.8 123.5,246.2 123.4,245.8 123.3,245.3 123.2,245.0 123.1,244.5 123.0,244.1 123.0,243.8 123.0,243.2 122.9,242.8 122.9,242.2 122.8,241.8 122.8,241.5 122.7,241.0 122.6,240.5 122.5,240.1 122.5,239.8 122.5,239.2 122.4,238.8 122.4,238.2 122.3,237.8 122.3,237.2 122.3,237.0 122.2,236.5 122.2,236.0 122.1,235.5 122.1,235.0 122.1,234.5 122.0,234.2 122.0,233.8 121.9,233.2 121.9,232.8 121.9,232.2 121.9,231.8 121.9,231.2 122.0,230.8 122.1,230.5 122.1,230.0 122.2,229.5 122.2,229.0 122.2,228.5 122.2,228.0 122.2,227.5 122.2,227.0 122.2,226.5 122.3,226.0 122.3,225.5 122.3,225.2 122.3,224.8 122.4,224.2 122.5,223.8 122.5,223.2 122.6,223.0 122.7,222.5 122.7,222.0 122.8,221.7 122.9,221.2 122.9,220.8 123.0,220.2 123.0,219.8 123.1,219.5 123.2,219.0 123.2,218.5 123.3,218.2 123.4,217.8 123.5,217.2 123.5,216.8 123.6,216.5 123.6,216.0 123.7,215.5 123.7,215.0 123.7,214.5 123.8,214.0 123.8,213.5 123.8,213.2 123.9,212.8 124.0,212.2 124.0,211.8 124.1,211.5 124.2,211.0 124.3,210.7 124.4,210.2 124.5,209.8 124.5,209.2 124.5,208.8 124.5,208.2 124.5,207.8 124.5,207.3 124.6,207.0 124.7,206.5 124.8,206.2 125.0,205.8 125.3,205.5 125.5,205.2 125.7,205.0 126.0,204.8 126.3,204.5 126.5,204.3 126.8,204.1 127.0,203.9 127.3,203.7 127.6,203.5 128.0,203.2 128.3,203.0 128.6,202.8 128.8,202.7 129.1,202.5 129.6,202.3 129.8,202.2 130.3,202.1 130.8,202.1 131.2,202.2 131.6,202.4 131.8,202.6 132.1,202.8 132.3,203.0 132.6,203.2 132.8,203.5 133.1,203.8 133.4,204.0 133.6,204.2 133.8,204.5 134.1,204.8 134.3,205.2 134.4,205.5 134.6,205.9 134.7,206.2 134.8,206.6 135.0,207.0 135.2,207.2 135.3,207.5 135.6,207.9 135.7,208.2 135.8,208.5 135.9,209.0 136.0,209.5 136.1,209.9 136.1,210.2 136.2,210.8 136.3,211.2 136.3,211.6 136.3,212.0 136.3,212.5 136.4,213.0 136.5,213.5 136.6,213.8 136.8,214.2 137.0,214.5 137.2,214.8 137.5,215.0 137.8,215.2 138.1,215.3 138.6,215.5 139.1,215.5 139.6,215.4 140.0,215.2 140.3,215.2 140.8,215.2 141.3,215.2 141.6,215.2 142.1,215.4 142.4,215.5 142.8,215.7 143.1,215.8 143.4,216.0 143.8,216.2 144.1,216.3 144.5,216.5 144.8,216.6 145.2,216.8 145.6,216.9 146.1,217.0 146.3,217.0 146.8,217.1 147.3,217.2 147.8,217.2 148.3,217.2 148.6,217.3 149.1,217.4 149.3,217.5 149.6,217.8 149.8,218.1 150.1,218.4 150.3,218.7 150.6,218.8 151.1,219.0 151.6,218.9 152.1,218.8 152.3,218.7 152.7,218.5 153.1,218.3 153.3,218.2 153.6,218.0 154.0,217.8 154.3,217.6 154.6,217.4 154.9,217.2 155.3,217.0 155.6,216.9 155.9,216.8 156.3,216.6 156.7,216.5 157.1,216.4 157.6,216.3 157.8,216.2 158.3,216.1 158.8,216.0 159.1,215.9 159.6,215.8 159.8,215.7 160.3,215.6 160.7,215.5 161.1,215.5 161.6,215.4 162.1,215.5 162.6,215.5 163.1,215.5 163.6,215.5 164.1,215.4 164.6,215.3 164.8,215.2 165.3,215.0 165.6,215.0 166.1,214.9 166.6,214.8 166.8,214.7 167.3,214.7 167.8,214.7 168.3,214.7 168.6,214.8 169.1,214.8 169.6,214.9 169.8,215.0 170.3,215.1 170.8,215.2 171.3,215.2 171.8,215.2 172.3,215.2 172.8,215.1 173.1,215.0 173.6,214.9 174.1,214.8 174.6,214.8 175.1,214.9 175.4,215.0 175.8,215.1 176.2,215.2 176.6,215.4 177.1,215.5 177.3,215.6 177.8,215.7 178.3,215.8 178.6,215.8 179.1,215.9 179.3,216.0 179.8,216.2 180.1,216.3 180.4,216.5 180.8,216.8 181.1,216.9 181.3,217.1 181.6,217.4 181.8,217.7 182.0,218.0 182.1,218.2 182.3,218.5 182.6,218.9 182.8,219.2 183.1,219.5 183.3,219.7 183.6,220.0 183.8,220.2 184.0,220.5 184.2,220.8 184.3,221.0 184.4,221.5 184.3,222.0 184.1,222.2 183.9,222.5 183.6,222.8 183.3,222.9 183.1,223.1 182.8,223.2 182.4,223.5 182.1,223.7 181.8,223.9 181.6,224.1 181.3,224.3 181.1,224.5 180.7,224.8 180.4,225.0 180.1,225.2 179.8,225.4 179.6,225.5 179.1,225.7 178.8,225.8 178.3,225.9 177.8,226.0 177.4,226.0 177.1,226.1 176.6,226.2 176.3,226.3 175.8,226.5 175.6,226.6 175.1,226.7 174.8,226.8 174.3,226.9 173.8,226.9 173.3,226.9 172.8,226.9 172.3,226.8 171.8,226.8 171.3,226.9 170.8,227.0 170.6,227.0 170.1,227.2 169.8,227.3 169.3,227.4 168.8,227.5 168.6,227.5 168.1,227.6 167.6,227.6 167.1,227.7 166.6,227.7 166.1,227.6 165.6,227.6 165.1,227.5 164.7,227.5 164.3,227.5 163.8,227.5 163.3,227.4 162.8,227.4 162.3,227.4 161.8,227.3 161.3,227.3 161.1,227.2 160.6,227.1 160.1,227.0 159.8,227.0 159.3,226.9 158.8,226.8 158.6,226.7 158.1,226.7 157.6,226.6 157.1,226.6 156.6,226.5 156.3,226.5 155.8,226.4 155.4,226.2 155.1,226.1 154.8,226.0 154.5,225.8 154.1,225.5 153.8,225.2 153.6,225.0 153.3,224.8 153.1,224.5 152.8,224.4 152.6,224.2 152.2,224.0 151.8,223.8 151.6,223.7 151.2,223.5 150.8,223.3 150.6,223.2 150.3,223.0 149.8,222.8 149.6,222.6 149.2,222.5 148.8,222.4 148.3,222.4 148.0,222.5 147.6,222.6 147.1,222.7 146.8,222.8 146.3,222.8 145.8,222.9 145.3,222.9 144.8,222.8 144.3,222.8 143.8,222.9 143.3,222.9 142.8,222.9 142.3,222.8 142.1,222.7 141.6,222.6 141.3,222.4 140.9,222.2 140.6,222.1 140.2,222.0 139.8,221.9 139.3,221.9 138.8,221.9 138.5,222.0 138.1,222.2 137.9,222.5 137.8,222.9 137.8,223.2 137.7,223.8 137.7,224.2 137.6,224.8 137.6,225.0 137.4,225.5 137.3,226.0 137.2,226.2 137.1,226.8 137.1,227.0 137.0,227.5 136.9,228.0 136.9,228.5 136.8,228.9 136.7,229.2 136.6,229.8 136.4,230.0 136.3,230.2 136.1,230.5 135.8,230.8 135.5,231.0 135.1,231.2 134.8,231.4 134.5,231.5 134.1,231.7 133.8,231.8 133.3,231.9 132.8,231.9 132.3,231.8 132.1,231.7 131.6,231.5 131.3,231.3 131.1,231.1 130.8,230.8 130.6,230.6 130.3,230.3 130.1,230.1 129.8,230.0 129.6,230.1 129.4,230.5 129.3,230.8 129.2,231.2 129.1,231.8 129.0,232.0 129.0,232.5 128.9,233.0 128.8,233.5 128.8,233.8 128.8,234.2 128.7,234.8 128.7,235.2 128.7,235.8 128.6,236.2 128.6,236.8 128.6,237.2 128.5,237.5 128.5,238.0 128.4,238.5 128.4,239.0 128.3,239.5 128.3,239.8 128.2,240.2 128.1,240.8 128.1,241.0 128.0,241.5 128.0,242.0 128.1,242.4 128.2,242.8 128.6,242.9 129.1,242.9 129.6,242.9 130.1,242.8 130.3,242.7 130.8,242.6 131.3,242.6 131.8,242.6 132.3,242.6 132.8,242.7 133.2,242.8 133.6,242.8 134.1,242.9 134.3,243.0 134.8,243.1 135.3,243.2 135.6,243.3 136.0,243.5 136.3,243.6 136.6,243.8 136.9,244.0 137.2,244.2 137.5,244.5 137.7,244.8 138.0,245.0 138.2,245.2 138.3,245.5 138.6,245.8 138.8,246.2 139.0,246.5 139.1,246.8 139.3,247.2 139.4,247.5 139.5,248.0 139.6,248.2 139.7,248.8 139.7,249.2 139.7,249.8 139.6,250.2 139.6,250.5 139.4,251.0 139.3,251.4 139.2,251.8 139.1,252.0 138.8,252.5 138.6,252.8 138.5,253.0 138.2,253.2 138.0,253.5 137.7,253.8 137.4,254.0 137.1,254.2 136.8,254.5 136.6,254.6 136.3,254.8 135.9,255.0 135.6,255.2 135.3,255.3 134.8,255.5 134.6,255.6 134.1,255.7 133.6,255.7 133.3,255.8Z" fill="none" stroke="#151515" stroke-width="0.5"/>
<path d="M141.1,238.3 140.6,238.4 140.1,238.4 139.7,238.2 139.3,238.0 139.1,237.8 138.8,237.5 138.6,237.2 138.4,237.0 138.3,236.8 138.1,236.2 138.0,236.0 138.0,235.5 138.0,235.0 138.1,234.8 138.3,234.3 138.5,234.0 138.8,233.8 139.0,233.5 139.3,233.3 139.6,233.2 140.0,233.0 140.3,232.9 140.8,232.9 141.3,232.9 141.6,233.0 142.1,233.1 142.3,233.3 142.8,233.5 143.1,233.7 143.3,233.8 143.6,234.0 143.8,234.2 144.1,234.5 144.3,234.8 144.5,235.2 144.6,235.5 144.6,236.0 144.6,236.5 144.6,236.9 144.4,237.2 144.3,237.5 143.9,237.8 143.6,237.8 143.1,237.9 142.6,237.9 142.1,238.0 141.8,238.1 141.3,238.2 141.1,238.3Z" fill="none" stroke="#151515" stroke-width="0.5"/>
<path d="M161.8,243.8 161.3,243.8 160.8,243.9 160.3,243.9 159.8,244.0 159.3,244.0 158.8,244.0 158.3,243.9 157.8,243.9 157.3,243.9 156.8,243.8 156.3,243.8 155.8,243.8 155.6,243.7 155.1,243.7 154.6,243.7 154.1,243.7 153.6,243.7 153.1,243.7 152.6,243.6 152.1,243.5 151.8,243.5 151.3,243.3 151.1,243.2 150.6,243.0 150.3,242.9 150.1,242.7 149.6,242.5 149.3,242.4 148.8,242.3 148.6,242.2 148.1,242.1 147.6,242.1 147.1,242.0 146.8,241.9 146.5,241.8 146.2,241.5 146.0,241.2 145.8,240.8 145.8,240.5 145.8,240.0 145.8,239.6 145.9,239.2 146.1,239.0 146.3,238.7 146.6,238.5 147.0,238.2 147.3,238.1 147.6,238.0 148.1,237.9 148.6,237.8 148.9,237.8 149.3,237.7 149.8,237.6 150.1,237.5 150.6,237.3 150.8,237.2 151.3,237.0 151.6,237.0 152.1,236.9 152.6,236.8 153.1,236.8 153.6,236.8 154.0,236.8 154.3,236.7 154.8,236.6 155.3,236.5 155.6,236.5 156.1,236.3 156.4,236.2 156.8,236.1 157.3,236.0 157.6,236.0 158.1,235.9 158.6,235.8 158.8,235.7 159.3,235.6 159.6,235.5 160.1,235.3 160.3,235.2 160.8,235.1 161.2,235.0 161.6,234.9 162.1,234.9 162.6,234.8 163.1,234.8 163.6,234.9 164.1,234.9 164.6,234.9 165.1,235.0 165.3,235.0 165.8,235.1 166.3,235.2 166.6,235.2 167.1,235.3 167.6,235.4 168.0,235.5 168.3,235.6 168.8,235.7 169.2,235.8 169.6,235.8 170.1,235.9 170.6,236.0 171.1,236.0 171.4,236.0 171.8,236.0 172.3,236.1 172.8,236.2 173.1,236.2 173.6,236.5 173.8,236.7 174.1,236.9 174.3,237.2 174.4,237.5 174.5,238.0 174.5,238.5 174.4,239.0 174.3,239.2 174.1,239.7 173.8,240.0 173.6,240.2 173.3,240.4 173.1,240.6 172.8,240.8 172.3,241.0 172.1,241.1 171.8,241.2 171.3,241.4 171.0,241.5 170.6,241.6 170.1,241.7 169.6,241.7 169.1,241.7 168.7,241.8 168.3,241.8 167.8,241.9 167.5,242.0 167.1,242.1 166.8,242.2 166.3,242.5 166.1,242.6 165.7,242.8 165.3,242.9 165.1,243.0 164.6,243.2 164.3,243.3 163.8,243.4 163.5,243.5 163.1,243.6 162.6,243.7 162.1,243.7 161.8,243.8Z" fill="none" stroke="#151515" stroke-width="0.5"/>
<path d="M134.3,255.3 133.8,255.4 133.3,255.4 132.8,255.5 132.3,255.5 131.8,255.4 131.3,255.4 130.8,255.3 130.5,255.2 130.1,255.2 129.6,255.1 129.2,255.0 128.8,254.9 128.3,254.8 128.1,254.7 127.5,254.5 127.3,254.4 127.0,254.2 126.7,254.0 126.3,253.8 126.1,253.5 125.8,253.2 125.6,253.0 125.4,252.8 125.2,252.5 125.0,252.2 124.8,251.8 124.6,251.5 124.5,251.2 124.3,250.8 124.3,250.5 124.1,250.0 124.0,249.6 124.0,249.2 123.9,248.8 123.9,248.2 123.9,247.8 124.0,247.2 124.0,246.8 124.0,246.3 124.1,246.0 124.0,245.5 124.0,245.2 123.9,244.8 123.8,244.4 123.7,244.0 123.6,243.5 123.6,243.0 123.5,242.8 123.5,242.2 123.5,241.8 123.4,241.2 123.3,240.8 123.2,240.5 123.1,240.0 123.0,239.6 123.0,239.2 122.9,238.8 122.9,238.2 122.8,237.8 122.8,237.5 122.7,237.0 122.7,236.5 122.6,236.0 122.5,235.5 122.5,235.2 122.5,234.8 122.4,234.2 122.3,233.8 122.3,233.3 122.3,233.0 122.3,232.5 122.3,232.0 122.3,231.8 122.4,231.2 122.5,230.8 122.5,230.4 122.6,230.0 122.7,229.5 122.7,229.0 122.7,228.5 122.7,228.0 122.7,227.5 122.7,227.0 122.7,226.5 122.7,226.0 122.8,225.5 122.8,225.0 122.8,224.8 122.9,224.2 123.0,223.8 123.0,223.2 123.1,223.0 123.2,222.5 123.3,222.0 123.3,221.8 123.4,221.2 123.5,220.8 123.5,220.2 123.6,220.0 123.7,219.5 123.8,219.0 123.8,218.8 123.9,218.2 124.0,217.8 124.1,217.5 124.2,217.0 124.3,216.5 124.3,216.2 124.4,215.8 124.4,215.2 124.4,214.8 124.5,214.2 124.5,213.8 124.5,213.2 124.5,213.0 124.6,212.5 124.8,212.0 124.8,211.8 125.0,211.2 125.1,211.0 125.3,210.6 125.5,210.2 125.6,210.0 125.8,209.5 125.9,209.2 126.0,208.8 126.0,208.2 126.1,208.0 126.1,207.5 126.2,207.0 126.3,206.5 126.4,206.2 126.6,206.0 126.8,205.6 127.0,205.3 127.3,205.1 127.5,204.8 127.8,204.6 128.1,204.5 128.4,204.2 128.7,204.0 129.1,203.8 129.3,203.7 129.8,203.5 130.1,203.4 130.6,203.4 130.8,203.5 131.1,203.8 131.4,204.0 131.6,204.2 131.8,204.5 132.1,204.8 132.3,205.2 132.5,205.5 132.7,205.8 132.8,206.0 133.1,206.5 133.2,206.8 133.3,207.1 133.4,207.5 133.6,207.8 133.7,208.2 133.8,208.5 134.0,209.0 134.1,209.2 134.3,209.6 134.5,210.0 134.7,210.2 134.8,210.5 135.0,211.0 135.1,211.2 135.2,211.8 135.3,212.2 135.3,212.8 135.2,213.2 135.3,213.8 135.3,214.1 135.4,214.5 135.6,214.9 135.7,215.2 135.8,215.5 136.0,216.0 136.1,216.2 136.2,216.8 136.1,217.2 136.1,217.8 136.1,218.1 136.0,218.5 136.1,218.8 136.1,219.2 136.1,219.8 136.1,220.2 136.1,220.6 136.0,221.0 136.1,221.4 136.1,221.8 136.2,222.2 136.3,222.5 136.5,223.0 136.6,223.2 136.7,223.8 136.7,224.2 136.7,224.8 136.6,225.2 136.5,225.5 136.3,225.9 136.2,226.2 136.1,226.6 135.9,227.0 135.8,227.2 135.6,227.8 135.6,228.1 135.5,228.5 135.3,229.0 135.3,229.2 135.1,229.7 134.8,230.0 134.6,230.2 134.3,230.5 134.1,230.6 133.8,230.8 133.3,230.9 132.8,231.0 132.3,230.9 132.1,230.7 131.7,230.5 131.5,230.2 131.3,230.0 131.1,229.6 130.9,229.2 130.8,229.0 130.6,228.5 130.6,228.0 130.5,227.8 130.5,227.2 130.5,226.8 130.5,226.2 130.5,225.8 130.4,225.2 130.4,224.8 130.4,224.2 130.5,223.8 130.6,223.5 130.8,223.1 131.1,222.8 131.2,222.5 131.3,222.2 131.4,221.8 131.3,221.3 131.2,221.0 131.1,220.7 130.8,220.3 130.6,220.0 130.4,219.8 130.1,219.5 129.8,219.3 129.6,219.2 129.1,219.1 128.8,219.3 128.6,219.6 128.4,220.0 128.3,220.5 128.3,221.0 128.4,221.5 128.5,222.0 128.6,222.4 128.6,222.8 128.7,223.2 128.7,223.8 128.7,224.2 128.7,224.8 128.6,225.2 128.6,225.8 128.7,226.2 128.7,226.8 128.8,227.2 128.8,227.5 128.9,228.0 128.9,228.5 128.8,229.0 128.8,229.2 128.7,229.8 128.7,230.2 128.6,230.8 128.6,231.2 128.6,231.8 128.5,232.0 128.5,232.5 128.5,233.0 128.4,233.5 128.3,234.0 128.3,234.3 128.3,234.8 128.2,235.2 128.2,235.8 128.2,236.2 128.1,236.8 128.1,237.2 128.0,237.5 127.9,238.0 127.9,238.5 127.8,239.0 127.8,239.2 127.7,239.8 127.6,240.2 127.5,240.6 127.5,241.0 127.5,241.5 127.4,242.0 127.4,242.5 127.5,243.0 127.7,243.2 128.1,243.4 128.6,243.4 129.1,243.4 129.5,243.2 129.8,243.2 130.3,243.0 130.6,243.0 131.1,242.9 131.6,242.9 132.1,242.9 132.6,243.0 132.8,243.0 133.3,243.1 133.8,243.2 134.1,243.3 134.6,243.4 135.0,243.5 135.3,243.6 135.7,243.8 136.1,243.9 136.3,244.0 136.7,244.2 137.0,244.5 137.3,244.7 137.5,245.0 137.8,245.2 138.0,245.5 138.1,245.8 138.3,246.0 138.6,246.4 138.7,246.8 138.8,247.0 139.0,247.5 139.1,247.8 139.2,248.2 139.3,248.6 139.3,249.0 139.3,249.5 139.3,249.9 139.3,250.2 139.1,250.8 139.1,251.0 138.9,251.5 138.8,251.8 138.6,252.2 138.4,252.5 138.2,252.8 138.0,253.0 137.7,253.2 137.5,253.5 137.2,253.8 136.8,254.0 136.6,254.2 136.3,254.4 136.1,254.5 135.7,254.8 135.3,255.0 135.1,255.1 134.6,255.2 134.3,255.3Z" fill="none" stroke="#151515" stroke-width="0.5"/>
<path d="M169.1,226.8 168.6,226.9 168.1,226.9 167.6,227.0 167.1,227.0 166.6,227.0 166.1,226.9 165.6,226.9 165.1,226.8 164.6,226.8 164.1,226.8 163.8,226.7 163.3,226.7 162.8,226.7 162.3,226.6 161.8,226.5 161.6,226.5 161.1,226.3 160.8,226.2 160.3,226.1 160.1,226.0 159.6,225.8 159.3,225.7 158.8,225.5 158.6,225.5 158.1,225.4 157.6,225.4 157.1,225.4 156.6,225.4 156.1,225.3 155.8,225.2 155.4,225.0 155.1,224.8 154.9,224.5 154.7,224.2 154.5,224.0 154.3,223.6 154.1,223.4 153.8,223.2 153.4,223.0 153.1,222.9 152.8,222.8 152.3,222.5 152.1,222.4 151.8,222.2 151.6,221.9 151.4,221.5 151.4,221.0 151.6,220.7 151.8,220.4 152.1,220.2 152.3,220.0 152.7,219.8 153.1,219.5 153.3,219.4 153.6,219.2 153.8,219.0 154.2,218.8 154.5,218.5 154.8,218.3 155.1,218.1 155.3,218.0 155.7,217.8 156.1,217.5 156.3,217.4 156.8,217.2 157.1,217.2 157.6,217.0 157.8,217.0 158.3,216.9 158.8,216.8 159.1,216.7 159.6,216.5 159.8,216.5 160.3,216.4 160.8,216.3 161.1,216.2 161.6,216.2 161.8,216.3 162.3,216.3 162.8,216.4 163.3,216.4 163.8,216.4 164.3,216.3 164.6,216.2 165.1,216.1 165.3,215.9 165.8,215.8 166.1,215.7 166.6,215.5 166.8,215.4 167.3,215.4 167.8,215.3 168.3,215.4 168.8,215.4 169.1,215.5 169.6,215.6 169.9,215.8 170.3,215.9 170.8,216.0 171.1,216.0 171.6,216.1 172.1,216.1 172.6,216.1 173.1,216.1 173.6,216.0 174.1,216.0 174.6,216.1 175.1,216.1 175.6,216.2 175.8,216.3 176.3,216.4 176.8,216.4 177.2,216.5 177.6,216.6 178.1,216.7 178.3,216.8 178.7,217.0 179.1,217.2 179.3,217.4 179.6,217.6 179.8,217.9 180.1,218.2 180.2,218.5 180.4,218.8 180.6,219.0 180.8,219.4 181.1,219.7 181.3,220.0 181.6,220.2 181.8,220.5 182.0,220.8 182.2,221.0 182.3,221.2 182.4,221.8 182.3,222.0 182.1,222.3 181.8,222.7 181.6,222.9 181.3,223.2 181.1,223.5 180.8,223.7 180.6,223.9 180.3,224.1 180.1,224.3 179.7,224.5 179.3,224.7 179.1,224.8 178.6,225.0 178.3,225.0 177.8,225.1 177.3,225.2 176.9,225.2 176.6,225.4 176.2,225.5 175.8,225.7 175.6,225.8 175.1,226.0 174.8,226.1 174.3,226.2 173.8,226.2 173.3,226.2 172.8,226.2 172.3,226.1 171.8,226.1 171.3,226.2 170.9,226.2 170.6,226.3 170.1,226.5 169.8,226.6 169.3,226.7 169.1,226.8Z" fill="none" stroke="#151515" stroke-width="0.5"/>
<path d="M143.6,221.5 143.1,221.6 142.6,221.6 142.1,221.6 141.6,221.5 141.3,221.4 140.8,221.2 140.6,221.1 140.2,221.0 139.8,220.8 139.6,220.7 139.1,220.5 138.8,220.3 138.6,220.1 138.4,219.8 138.4,219.2 138.5,218.8 138.6,218.5 138.8,218.1 139.0,217.8 139.2,217.5 139.4,217.2 139.6,217.0 139.9,216.8 140.3,216.5 140.6,216.4 141.1,216.3 141.6,216.4 141.9,216.5 142.3,216.7 142.6,216.9 142.8,217.1 143.1,217.4 143.3,217.6 143.6,217.9 143.8,218.2 144.1,218.5 144.3,218.7 144.5,219.0 144.8,219.2 145.1,219.4 145.3,219.6 145.7,219.8 146.1,219.9 146.3,220.0 146.6,220.2 146.6,220.8 146.4,221.0 146.1,221.2 145.7,221.2 145.3,221.3 144.8,221.3 144.3,221.3 143.8,221.4 143.6,221.5Z" fill="none" stroke="#151515" stroke-width="0.5"/>
<path d="M141.3,236.3 140.8,236.3 140.5,236.2 140.1,236.0 140.0,235.8 139.8,235.2 139.9,234.8 140.1,234.5 140.4,234.2 140.8,234.1 141.3,234.1 141.8,234.2 142.1,234.4 142.3,234.7 142.5,235.0 142.5,235.5 142.3,235.8 142.0,236.0 141.6,236.2 141.3,236.3Z" fill="none" stroke="#151515" stroke-width="0.5"/>
<path d="M160.1,243.3 159.6,243.3 159.1,243.3 158.6,243.3 158.2,243.2 157.8,243.2 157.3,243.2 156.8,243.2 156.3,243.1 155.8,243.1 155.3,243.1 154.8,243.1 154.3,243.1 153.8,243.1 153.3,243.1 152.8,243.0 152.5,243.0 152.1,242.9 151.6,242.8 151.3,242.6 151.1,242.5 150.7,242.2 150.3,242.0 150.1,241.9 149.8,241.7 149.3,241.5 149.1,241.4 148.7,241.2 148.3,241.0 148.1,240.9 147.8,240.6 147.6,240.2 147.6,239.8 147.8,239.3 148.1,239.1 148.3,238.9 148.8,238.8 149.1,238.7 149.6,238.6 149.9,238.5 150.3,238.3 150.6,238.2 151.1,238.0 151.3,237.9 151.7,237.8 152.1,237.7 152.6,237.6 152.9,237.5 153.3,237.5 153.8,237.4 154.3,237.3 154.8,237.3 155.1,237.2 155.6,237.1 156.0,237.0 156.3,236.9 156.8,236.8 157.1,236.7 157.6,236.7 158.1,236.6 158.4,236.5 158.8,236.4 159.3,236.3 159.6,236.2 160.0,236.0 160.3,235.9 160.7,235.8 161.1,235.7 161.6,235.6 162.1,235.5 162.6,235.5 163.1,235.5 163.6,235.6 164.1,235.6 164.6,235.6 165.1,235.7 165.6,235.7 165.8,235.8 166.3,235.8 166.8,235.9 167.1,236.0 167.6,236.1 168.0,236.2 168.3,236.3 168.7,236.5 169.1,236.6 169.4,236.8 169.8,236.9 170.1,237.0 170.6,237.1 171.1,237.2 171.3,237.3 171.8,237.5 172.1,237.6 172.3,237.9 172.5,238.2 172.6,238.5 172.6,239.0 172.5,239.2 172.3,239.7 172.1,240.0 171.8,240.2 171.6,240.4 171.3,240.5 170.8,240.7 170.5,240.8 170.1,240.8 169.6,240.8 169.1,240.9 168.6,240.9 168.1,241.0 167.8,241.0 167.3,241.2 167.1,241.3 166.6,241.5 166.3,241.6 166.0,241.8 165.6,242.0 165.3,242.2 165.1,242.3 164.6,242.5 164.3,242.6 163.9,242.8 163.6,242.9 163.1,243.0 162.8,243.0 162.3,243.1 161.8,243.1 161.3,243.2 160.8,243.2 160.3,243.2 160.1,243.3Z" fill="none" stroke="#151515" stroke-width="0.5"/>
<path d="M134.3,255.0 133.8,255.2 133.3,255.2 132.8,255.2 132.3,255.2 131.8,255.2 131.3,255.1 130.8,255.0 130.6,255.0 130.1,254.9 129.6,254.8 129.3,254.7 128.8,254.6 128.3,254.5 128.1,254.4 127.7,254.2 127.3,254.1 127.0,253.9 126.8,253.7 126.5,253.5 126.2,253.2 126.0,253.0 125.8,252.7 125.5,252.4 125.3,252.0 125.1,251.8 125.0,251.5 124.8,251.1 124.7,250.8 124.5,250.4 124.4,250.0 124.3,249.5 124.3,249.2 124.2,248.8 124.2,248.2 124.2,247.8 124.3,247.3 124.4,247.0 124.5,246.5 124.5,246.1 124.6,245.8 124.7,245.2 124.6,244.8 124.5,244.5 124.3,244.0 124.2,243.8 124.1,243.2 124.1,242.8 124.0,242.5 124.0,242.0 123.9,241.5 123.9,241.0 123.8,240.7 123.7,240.2 123.6,239.8 123.5,239.5 123.4,239.0 123.3,238.5 123.3,238.2 123.2,237.8 123.1,237.2 123.0,236.9 123.0,236.5 122.9,236.0 122.9,235.5 122.8,235.0 122.8,234.8 122.7,234.2 122.6,233.8 122.6,233.2 122.6,232.8 122.6,232.2 122.6,231.8 122.7,231.2 122.8,230.9 122.9,230.5 123.0,230.0 123.0,229.7 123.1,229.2 123.1,228.8 123.1,228.2 123.1,227.8 123.1,227.2 123.1,226.8 123.1,226.2 123.1,225.8 123.1,225.2 123.2,224.8 123.3,224.2 123.3,224.0 123.4,223.5 123.5,223.0 123.5,222.6 123.6,222.2 123.7,221.8 123.8,221.3 123.8,221.0 123.9,220.5 124.0,220.0 124.1,219.8 124.2,219.2 124.3,218.8 124.4,218.5 124.5,218.0 124.6,217.8 124.7,217.2 124.8,216.8 124.9,216.5 125.0,216.0 125.0,215.5 125.1,215.2 125.1,214.8 125.1,214.2 125.1,213.8 125.1,213.2 125.2,212.8 125.3,212.4 125.4,212.0 125.6,211.8 125.8,211.4 126.0,211.1 126.3,210.9 126.5,210.6 126.8,210.4 127.0,210.0 127.2,209.8 127.3,209.4 127.4,209.0 127.4,208.5 127.5,208.0 127.5,207.5 127.6,207.2 127.6,206.8 127.8,206.3 127.9,206.0 128.1,205.8 128.3,205.5 128.6,205.2 129.0,205.0 129.3,204.8 129.7,204.8 130.1,204.7 130.3,204.8 130.7,205.0 131.0,205.2 131.3,205.5 131.5,205.8 131.7,206.0 131.9,206.2 132.1,206.5 132.3,206.9 132.4,207.2 132.6,207.6 132.7,208.0 132.8,208.5 132.8,208.8 133.0,209.2 133.1,209.5 133.3,209.8 133.6,210.2 133.8,210.5 133.9,210.8 134.1,211.0 134.3,211.5 134.4,211.8 134.5,212.2 134.5,212.8 134.4,213.2 134.3,213.8 134.3,214.2 134.4,214.8 134.5,215.2 134.6,215.5 134.7,216.0 134.8,216.4 134.8,216.8 134.9,217.2 134.9,217.8 134.9,218.2 134.9,218.8 134.9,219.2 134.9,219.8 134.9,220.2 134.8,220.7 134.8,221.0 134.7,221.5 134.8,221.9 134.9,222.2 135.1,222.5 135.3,222.9 135.5,223.2 135.6,223.5 135.7,224.0 135.7,224.5 135.6,225.0 135.5,225.2 135.3,225.6 135.1,226.0 134.9,226.2 134.7,226.5 134.6,226.8 134.3,227.2 134.1,227.5 134.0,227.8 133.9,228.2 133.8,228.8 133.7,229.0 133.6,229.4 133.3,229.7 133.1,229.8 132.6,229.8 132.3,229.7 132.1,229.4 131.8,229.0 131.7,228.8 131.6,228.2 131.6,227.8 131.6,227.2 131.6,227.0 131.5,226.5 131.4,226.0 131.4,225.5 131.4,225.0 131.6,224.6 131.7,224.2 131.9,224.0 132.1,223.8 132.4,223.5 132.6,223.2 132.8,223.0 133.0,222.5 133.1,222.2 133.1,221.8 133.0,221.5 132.8,221.1 132.6,220.8 132.4,220.5 132.3,220.2 132.1,219.9 131.8,219.5 131.7,219.2 131.5,219.0 131.3,218.7 131.1,218.3 130.8,218.1 130.6,217.8 130.3,217.7 130.1,217.5 129.6,217.3 129.3,217.2 128.9,217.2 128.6,217.4 128.3,217.6 128.1,217.9 127.9,218.2 127.8,218.5 127.7,219.0 127.6,219.5 127.6,220.0 127.6,220.5 127.7,221.0 127.7,221.5 127.8,221.8 127.9,222.2 128.0,222.8 128.1,223.1 128.1,223.5 128.1,224.0 128.1,224.5 128.1,225.0 128.1,225.5 128.1,226.0 128.2,226.5 128.2,227.0 128.3,227.4 128.3,227.8 128.4,228.2 128.4,228.8 128.4,229.2 128.3,229.8 128.3,230.0 128.2,230.5 128.2,231.0 128.2,231.5 128.2,232.0 128.2,232.5 128.1,233.0 128.1,233.5 128.0,233.8 128.0,234.2 127.9,234.8 127.9,235.2 127.8,235.8 127.8,236.1 127.8,236.5 127.7,237.0 127.6,237.5 127.5,237.8 127.5,238.2 127.4,238.8 127.3,239.2 127.3,239.5 127.2,240.0 127.1,240.5 127.1,241.0 127.0,241.2 127.0,241.8 126.9,242.2 126.9,242.8 126.9,243.2 127.0,243.6 127.3,243.8 127.8,243.9 128.3,243.9 128.8,243.8 129.1,243.7 129.6,243.5 129.8,243.4 130.3,243.3 130.6,243.2 131.1,243.2 131.6,243.2 132.1,243.2 132.6,243.2 132.8,243.3 133.3,243.4 133.8,243.5 134.1,243.5 134.6,243.6 134.9,243.8 135.3,243.9 135.7,244.0 136.1,244.2 136.3,244.3 136.6,244.5 136.9,244.8 137.2,245.0 137.4,245.2 137.7,245.5 137.8,245.8 138.1,246.1 138.3,246.5 138.4,246.8 138.6,247.0 138.8,247.5 138.8,247.8 139.0,248.2 139.1,248.7 139.1,249.0 139.1,249.5 139.1,249.8 139.0,250.2 138.9,250.8 138.8,251.0 138.6,251.5 138.5,251.8 138.3,252.1 138.1,252.5 137.8,252.8 137.6,253.0 137.3,253.2 137.1,253.5 136.8,253.7 136.6,253.9 136.3,254.1 136.0,254.2 135.6,254.5 135.3,254.7 135.1,254.8 134.6,255.0 134.3,255.0Z" fill="none" stroke="#151515" stroke-width="0.5"/>
<path d="M168.8,226.3 168.3,226.4 167.8,226.5 167.3,226.5 166.8,226.5 166.3,226.4 165.8,226.4 165.3,226.3 164.8,226.3 164.6,226.2 164.1,226.2 163.6,226.1 163.1,226.1 162.6,226.0 162.3,225.9 161.8,225.8 161.6,225.7 161.1,225.5 160.8,225.4 160.4,225.2 160.1,225.1 159.8,224.9 159.4,224.8 159.1,224.6 158.6,224.5 158.3,224.5 157.8,224.4 157.3,224.3 157.1,224.2 156.6,224.0 156.3,223.8 156.1,223.5 156.0,223.2 155.8,222.8 155.7,222.5 155.6,222.2 155.3,221.8 155.1,221.5 154.9,221.2 154.6,221.0 154.3,220.8 154.2,220.5 154.3,220.2 154.6,219.9 154.8,219.6 155.1,219.3 155.3,219.1 155.6,218.8 155.8,218.6 156.1,218.5 156.4,218.2 156.8,218.1 157.1,217.9 157.6,217.8 157.8,217.7 158.3,217.6 158.6,217.5 159.1,217.4 159.4,217.2 159.8,217.1 160.2,217.0 160.6,216.9 161.1,216.8 161.6,216.8 162.1,216.9 162.5,217.0 162.8,217.1 163.3,217.2 163.8,217.2 164.3,217.2 164.8,217.1 165.1,217.0 165.4,216.8 165.8,216.5 166.1,216.4 166.3,216.2 166.8,216.1 167.1,216.0 167.6,215.9 168.1,215.9 168.6,215.9 169.0,216.0 169.3,216.1 169.8,216.2 170.1,216.3 170.5,216.5 170.8,216.6 171.3,216.7 171.6,216.8 172.1,216.8 172.6,216.8 173.1,216.8 173.6,216.8 174.1,216.8 174.6,216.9 175.1,216.9 175.6,217.0 176.1,217.0 176.3,217.0 176.8,217.1 177.3,217.2 177.6,217.2 178.1,217.5 178.3,217.6 178.6,217.8 178.8,218.1 179.1,218.5 179.2,218.8 179.4,219.0 179.6,219.3 179.8,219.7 180.0,220.0 180.2,220.2 180.4,220.5 180.6,220.8 180.8,221.0 181.1,221.4 181.1,221.8 181.1,222.2 180.9,222.5 180.8,222.8 180.6,223.1 180.3,223.4 180.1,223.6 179.8,223.8 179.5,224.0 179.1,224.2 178.8,224.3 178.3,224.4 177.8,224.5 177.6,224.5 177.1,224.6 176.6,224.7 176.3,224.8 175.8,225.0 175.6,225.1 175.3,225.3 174.8,225.5 174.6,225.6 174.1,225.7 173.6,225.7 173.1,225.6 172.6,225.6 172.1,225.5 171.6,225.6 171.1,225.7 170.7,225.8 170.3,225.9 169.9,226.0 169.6,226.1 169.1,226.2 168.8,226.3Z" fill="none" stroke="#151515" stroke-width="0.5"/>
<path d="M142.6,220.6 142.1,220.7 141.6,220.7 141.1,220.5 140.8,220.4 140.5,220.2 140.1,220.0 139.9,219.8 139.8,219.5 139.7,219.0 139.8,218.7 140.0,218.2 140.2,218.0 140.4,217.8 140.8,217.5 141.1,217.4 141.5,217.5 141.8,217.6 142.1,217.8 142.3,218.1 142.6,218.4 142.8,218.7 142.9,219.0 143.1,219.3 143.1,219.8 143.1,220.1 142.8,220.4 142.6,220.6Z" fill="none" stroke="#151515" stroke-width="0.5"/>
<path d="M160.8,242.5 160.3,242.6 159.8,242.6 159.3,242.7 158.8,242.7 158.3,242.7 157.8,242.7 157.3,242.7 156.8,242.6 156.3,242.6 155.8,242.6 155.3,242.6 154.8,242.6 154.3,242.6 153.8,242.6 153.3,242.6 152.8,242.5 152.6,242.5 152.1,242.3 151.8,242.2 151.4,242.0 151.1,241.8 150.8,241.6 150.6,241.4 150.3,241.2 150.0,241.0 149.7,240.8 149.5,240.5 149.3,240.0 149.6,239.7 149.8,239.5 150.2,239.2 150.6,239.1 150.8,239.0 151.2,238.8 151.6,238.6 151.8,238.5 152.3,238.3 152.6,238.2 153.1,238.1 153.3,238.0 153.8,237.9 154.3,237.8 154.6,237.7 155.1,237.6 155.6,237.5 155.8,237.5 156.3,237.4 156.8,237.3 157.1,237.2 157.6,237.2 158.1,237.1 158.6,237.1 158.9,237.0 159.3,236.9 159.7,236.8 160.1,236.6 160.3,236.5 160.8,236.3 161.1,236.2 161.6,236.1 162.1,236.1 162.6,236.1 163.1,236.1 163.6,236.2 164.1,236.2 164.5,236.2 164.8,236.3 165.3,236.3 165.8,236.3 166.3,236.4 166.8,236.5 167.1,236.6 167.6,236.7 167.8,236.8 168.1,237.0 168.6,237.2 168.8,237.4 169.1,237.6 169.3,237.8 169.7,238.0 170.1,238.2 170.3,238.3 170.6,238.5 170.9,238.8 171.0,239.2 170.8,239.6 170.6,239.8 170.1,239.9 169.8,240.0 169.3,240.1 168.8,240.1 168.3,240.2 168.1,240.3 167.6,240.4 167.2,240.5 166.8,240.7 166.6,240.8 166.1,241.0 165.8,241.2 165.6,241.3 165.3,241.5 164.9,241.8 164.6,241.9 164.3,242.0 163.8,242.2 163.6,242.3 163.1,242.4 162.6,242.4 162.1,242.4 161.6,242.4 161.1,242.5 160.8,242.5Z" fill="none" stroke="#151515" stroke-width="0.5"/>
<path d="M125.8,244.0 125.5,244.0 125.1,243.8 124.9,243.5 124.8,243.2 124.6,242.8 124.5,242.4 124.5,242.0 124.4,241.5 124.4,241.0 124.3,240.7 124.2,240.2 124.1,239.8 124.0,239.5 123.9,239.0 123.8,238.8 123.7,238.2 123.5,237.8 123.5,237.5 123.4,237.0 123.3,236.6 123.2,236.2 123.2,235.8 123.1,235.2 123.0,234.9 123.0,234.5 122.9,234.0 122.9,233.5 122.8,233.0 122.8,232.5 122.9,232.0 123.0,231.5 123.0,231.1 123.1,230.8 123.3,230.2 123.3,230.0 123.4,229.5 123.4,229.0 123.4,228.5 123.4,228.0 123.4,227.5 123.4,227.0 123.4,226.5 123.4,226.0 123.4,225.5 123.5,225.0 123.5,224.5 123.6,224.2 123.7,223.8 123.8,223.2 123.8,223.0 123.9,222.5 124.0,222.0 124.1,221.8 124.2,221.2 124.3,220.8 124.4,220.5 124.5,220.0 124.6,219.8 124.7,219.2 124.8,218.9 124.9,218.5 125.0,218.0 125.2,217.8 125.3,217.3 125.4,217.0 125.5,216.6 125.7,216.2 125.7,215.8 125.8,215.2 125.7,214.8 125.7,214.2 125.7,213.8 125.7,213.2 125.8,212.9 126.0,212.5 126.2,212.2 126.5,212.0 126.8,211.8 127.0,211.7 127.5,211.5 127.8,211.4 128.1,211.0 128.1,210.8 128.3,210.2 128.3,210.0 128.4,209.5 128.4,209.0 128.4,208.5 128.5,208.0 128.5,207.5 128.6,207.2 128.8,206.8 128.9,206.5 129.2,206.2 129.6,206.0 129.8,206.0 130.1,206.0 130.6,206.1 130.8,206.3 131.1,206.5 131.3,206.8 131.6,207.1 131.8,207.5 131.9,207.8 132.0,208.2 132.1,208.7 132.1,209.0 132.3,209.5 132.4,209.8 132.6,210.0 132.8,210.4 133.1,210.7 133.3,211.0 133.4,211.2 133.6,211.5 133.7,212.0 133.7,212.5 133.6,213.0 133.5,213.2 133.3,213.8 133.2,214.0 133.0,214.2 132.8,214.6 132.6,215.0 132.5,215.2 132.6,215.5 132.8,215.9 133.0,216.2 133.1,216.5 133.3,216.8 133.4,217.2 133.5,217.8 133.5,218.2 133.3,218.6 133.1,218.3 132.9,218.0 132.8,217.8 132.6,217.2 132.5,217.0 132.3,216.6 132.2,216.2 132.1,215.8 131.9,215.5 131.6,215.3 131.3,215.2 130.9,215.0 130.6,214.9 130.3,214.8 129.8,214.5 129.6,214.4 129.1,214.3 128.6,214.5 128.3,214.8 128.1,215.0 128.0,215.2 127.8,215.6 127.6,216.0 127.5,216.2 127.4,216.8 127.3,217.0 127.1,217.5 127.1,218.0 127.0,218.2 127.0,218.8 127.0,219.2 127.0,219.6 127.1,220.0 127.1,220.5 127.2,221.0 127.3,221.5 127.4,221.8 127.5,222.2 127.5,222.6 127.6,223.0 127.7,223.5 127.7,224.0 127.7,224.5 127.7,225.0 127.7,225.5 127.8,226.0 127.8,226.4 127.9,226.8 127.9,227.2 128.0,227.8 128.1,228.2 128.1,228.5 128.1,229.0 128.0,229.2 128.0,229.8 128.0,230.2 127.9,230.8 127.9,231.2 127.9,231.8 127.9,232.2 127.9,232.8 127.8,233.2 127.8,233.6 127.7,234.0 127.7,234.5 127.6,235.0 127.6,235.5 127.5,235.8 127.5,236.2 127.4,236.8 127.3,237.2 127.3,237.5 127.1,238.0 127.0,238.4 127.0,238.8 126.9,239.2 126.8,239.6 126.7,240.0 126.7,240.5 126.6,241.0 126.6,241.5 126.5,241.8 126.5,242.2 126.4,242.8 126.3,243.0 126.1,243.5 126.0,243.8 125.8,244.0Z" fill="none" stroke="#151515" stroke-width="0.5"/>
<path d="M167.8,226.0 167.3,226.0 166.8,226.0 166.4,226.0 166.1,226.0 165.6,225.9 165.1,225.8 164.7,225.8 164.3,225.7 163.8,225.6 163.4,225.5 163.1,225.4 162.6,225.3 162.3,225.2 161.8,225.1 161.6,225.0 161.1,224.8 160.8,224.6 160.6,224.5 160.1,224.3 159.8,224.2 159.4,224.0 159.1,223.9 158.6,223.8 158.3,223.7 157.8,223.6 157.6,223.5 157.2,223.2 156.9,223.0 156.7,222.8 156.6,222.4 156.4,222.0 156.3,221.7 156.2,221.2 156.1,220.8 156.2,220.2 156.3,219.8 156.5,219.5 156.7,219.2 157.1,219.0 157.3,218.8 157.6,218.7 158.0,218.5 158.3,218.4 158.6,218.2 159.1,218.1 159.3,218.0 159.8,217.8 160.1,217.6 160.5,217.5 160.8,217.4 161.3,217.4 161.8,217.4 162.2,217.5 162.6,217.6 162.9,217.8 163.3,217.9 163.6,218.0 164.1,218.1 164.6,218.0 164.8,218.0 165.3,217.8 165.6,217.6 165.8,217.4 166.1,217.2 166.3,217.0 166.7,216.8 167.1,216.6 167.3,216.5 167.8,216.3 168.3,216.3 168.8,216.4 169.3,216.5 169.6,216.6 169.9,216.8 170.3,216.9 170.6,217.0 171.1,217.2 171.3,217.3 171.8,217.4 172.3,217.4 172.8,217.4 173.3,217.4 173.8,217.5 174.3,217.5 174.8,217.5 175.3,217.5 175.8,217.5 176.3,217.5 176.6,217.5 177.1,217.6 177.5,217.8 177.8,217.9 178.1,218.1 178.3,218.4 178.5,218.8 178.7,219.0 178.8,219.3 179.1,219.7 179.2,220.0 179.3,220.2 179.6,220.6 179.8,220.9 180.0,221.2 180.2,221.5 180.3,222.0 180.2,222.5 180.1,222.8 179.8,223.1 179.6,223.4 179.3,223.6 178.9,223.8 178.6,223.9 178.1,224.0 177.8,224.0 177.3,224.1 176.8,224.1 176.3,224.2 176.1,224.3 175.6,224.5 175.3,224.7 175.1,224.8 174.6,225.0 174.3,225.1 173.8,225.1 173.3,225.1 172.8,225.0 172.6,225.0 172.1,224.9 171.6,225.0 171.3,225.0 170.8,225.2 170.6,225.3 170.1,225.5 169.8,225.6 169.3,225.7 169.1,225.8 168.6,225.9 168.1,226.0 167.8,226.0Z" fill="none" stroke="#151515" stroke-width="0.5"/>
<path d="M133.6,225.1 133.4,224.8 133.7,224.5 133.9,224.5 133.8,224.9 133.6,225.1Z" fill="none" stroke="#151515" stroke-width="0.5"/>
<path d="M159.3,242.1 158.8,242.1 158.3,242.2 157.8,242.2 157.3,242.2 156.8,242.2 156.3,242.2 155.8,242.2 155.3,242.2 154.8,242.2 154.3,242.2 153.8,242.2 153.3,242.2 152.8,242.1 152.5,242.0 152.1,241.8 151.8,241.6 151.6,241.5 151.3,241.2 151.1,241.0 150.8,240.6 150.8,240.2 150.8,240.0 151.1,239.8 151.4,239.5 151.8,239.2 152.1,239.1 152.3,239.0 152.8,238.8 153.1,238.6 153.4,238.5 153.8,238.3 154.1,238.2 154.6,238.1 155.1,238.0 155.3,238.0 155.8,237.9 156.3,237.8 156.6,237.7 157.1,237.7 157.6,237.6 158.1,237.6 158.6,237.7 159.1,237.6 159.6,237.6 159.8,237.5 160.3,237.3 160.6,237.2 160.9,237.0 161.3,236.9 161.8,236.8 162.3,236.8 162.8,236.8 163.3,236.8 163.8,236.8 164.3,236.9 164.8,236.9 165.3,236.9 165.8,237.0 166.2,237.0 166.6,237.1 167.1,237.2 167.3,237.3 167.6,237.5 167.9,237.8 168.1,238.0 168.3,238.2 168.5,238.8 168.3,239.2 168.1,239.4 167.8,239.5 167.3,239.7 167.1,239.8 166.6,240.0 166.3,240.2 166.1,240.3 165.8,240.5 165.4,240.8 165.1,241.0 164.8,241.2 164.6,241.3 164.1,241.5 163.8,241.6 163.3,241.7 162.8,241.7 162.3,241.6 161.8,241.5 161.6,241.4 161.1,241.4 160.8,241.5 160.3,241.7 160.1,241.8 159.6,242.0 159.3,242.1Z" fill="none" stroke="#151515" stroke-width="0.5"/>
<path d="M133.3,255.0 132.8,255.0 132.3,255.0 132.1,255.0 131.6,254.9 131.1,254.9 130.6,254.8 130.3,254.7 129.8,254.6 129.3,254.5 129.1,254.5 128.6,254.3 128.3,254.2 127.8,254.0 127.5,253.9 127.3,253.8 126.9,253.5 126.6,253.2 126.4,253.0 126.1,252.8 125.9,252.5 125.8,252.2 125.5,251.9 125.3,251.5 125.2,251.2 125.0,251.0 124.8,250.5 124.8,250.2 124.6,249.8 124.5,249.4 124.5,249.0 124.5,248.5 124.5,248.0 124.5,247.5 124.6,247.2 124.7,246.8 124.8,246.5 125.0,246.0 125.2,245.8 125.3,245.5 125.5,245.0 125.7,244.8 125.9,244.5 126.3,244.4 126.8,244.4 127.3,244.4 127.8,244.3 128.1,244.2 128.6,244.1 128.9,244.0 129.3,243.9 129.6,243.8 130.1,243.6 130.4,243.5 130.8,243.4 131.3,243.4 131.8,243.4 132.3,243.4 132.8,243.5 133.1,243.5 133.6,243.6 134.1,243.7 134.3,243.8 134.8,243.9 135.1,244.0 135.6,244.2 135.8,244.3 136.2,244.5 136.6,244.7 136.8,244.9 137.1,245.1 137.3,245.4 137.6,245.7 137.8,246.0 137.9,246.2 138.1,246.5 138.3,246.9 138.4,247.2 138.6,247.5 138.7,248.0 138.8,248.5 138.8,248.8 138.9,249.2 138.8,249.8 138.8,250.0 138.7,250.5 138.6,250.9 138.4,251.2 138.3,251.6 138.1,252.0 137.9,252.2 137.7,252.5 137.5,252.8 137.2,253.0 137.0,253.2 136.7,253.5 136.3,253.8 136.1,254.0 135.8,254.1 135.6,254.3 135.2,254.5 134.8,254.7 134.6,254.8 134.1,254.9 133.6,255.0 133.3,255.0Z" fill="none" stroke="#151515" stroke-width="0.5"/>
<path d="M132.1,213.3 131.6,213.3 131.1,213.3 130.8,213.2 130.6,213.0 130.3,212.7 130.1,212.3 129.9,212.0 129.8,211.7 129.7,211.2 129.6,210.8 129.5,210.5 129.4,210.0 129.4,209.5 129.4,209.0 129.4,208.5 129.5,208.0 129.6,207.8 129.8,207.5 130.3,207.3 130.7,207.5 130.9,207.8 131.1,208.0 131.2,208.5 131.2,209.0 131.3,209.4 131.4,209.8 131.6,210.1 131.8,210.4 132.1,210.7 132.3,210.9 132.6,211.2 132.8,211.5 132.9,211.8 132.9,212.2 132.8,212.7 132.6,213.0 132.3,213.2 132.1,213.3Z" fill="none" stroke="#151515" stroke-width="0.5"/>
<path d="M168.3,225.5 167.8,225.6 167.3,225.6 166.8,225.6 166.3,225.6 165.9,225.5 165.6,225.4 165.1,225.3 164.8,225.2 164.3,225.1 164.1,225.0 163.6,224.8 163.3,224.6 163.1,224.4 162.7,224.2 162.3,224.1 162.0,224.0 161.6,223.9 161.1,223.8 160.8,223.7 160.3,223.6 160.1,223.5 159.6,223.4 159.1,223.3 158.8,223.2 158.3,223.1 158.1,223.0 157.6,222.8 157.4,222.5 157.2,222.2 157.1,222.0 156.9,221.5 156.9,221.0 157.0,220.5 157.1,220.2 157.3,220.0 157.6,219.8 158.0,219.5 158.3,219.3 158.6,219.2 158.9,219.0 159.3,218.8 159.6,218.6 159.8,218.5 160.2,218.2 160.6,218.1 160.9,218.0 161.3,217.9 161.8,218.0 162.1,218.1 162.4,218.2 162.8,218.5 163.1,218.6 163.3,218.8 163.8,219.0 164.3,218.9 164.8,218.8 165.1,218.7 165.4,218.5 165.8,218.3 166.1,218.1 166.3,217.9 166.6,217.7 166.8,217.5 167.1,217.2 167.4,217.0 167.8,216.8 168.3,216.8 168.8,216.8 169.3,216.9 169.6,217.0 170.0,217.2 170.3,217.4 170.6,217.5 171.1,217.7 171.3,217.8 171.8,217.9 172.3,218.0 172.8,218.0 173.1,218.0 173.6,218.0 174.1,218.0 174.3,218.0 174.8,218.0 175.3,217.9 175.8,217.9 176.3,217.9 176.8,218.0 177.1,218.0 177.5,218.2 177.8,218.5 178.0,218.8 178.1,219.0 178.3,219.3 178.5,219.8 178.6,220.0 178.8,220.3 179.0,220.8 179.2,221.0 179.3,221.3 179.5,221.8 179.6,222.0 179.6,222.4 179.4,222.8 179.2,223.0 178.8,223.2 178.6,223.4 178.1,223.5 177.8,223.5 177.3,223.6 176.8,223.6 176.3,223.7 176.1,223.8 175.6,223.9 175.3,224.0 174.8,224.2 174.6,224.4 174.1,224.5 173.6,224.4 173.1,224.3 172.8,224.2 172.3,224.2 171.8,224.2 171.6,224.3 171.1,224.5 170.8,224.6 170.6,224.8 170.1,225.0 169.8,225.1 169.4,225.2 169.1,225.4 168.6,225.5 168.3,225.5Z" fill="none" stroke="#151515" stroke-width="0.5"/>
<path d="M125.5,242.3 125.3,242.2 125.2,241.8 125.0,241.3 125.0,241.0 124.9,240.5 124.8,240.2 124.6,239.8 124.5,239.5 124.3,239.0 124.2,238.8 124.1,238.2 124.0,238.0 123.8,237.5 123.7,237.2 123.6,236.8 123.5,236.5 123.5,236.0 123.4,235.5 123.3,235.0 123.3,234.8 123.2,234.2 123.1,233.8 123.1,233.2 123.1,232.8 123.1,232.2 123.2,231.8 123.3,231.2 123.4,231.0 123.5,230.5 123.6,230.2 123.7,229.8 123.7,229.2 123.7,228.8 123.7,228.2 123.7,227.8 123.6,227.2 123.6,226.8 123.6,226.2 123.7,225.8 123.7,225.2 123.8,224.8 123.9,224.5 123.9,224.0 124.0,223.5 124.1,223.2 124.2,222.8 124.3,222.2 124.3,222.0 124.5,221.5 124.6,221.2 124.7,220.8 124.8,220.5 125.0,220.0 125.1,219.8 125.3,219.3 125.5,219.0 125.7,218.8 126.0,218.7 126.2,219.0 126.3,219.2 126.5,219.8 126.5,220.0 126.7,220.5 126.8,221.0 126.8,221.2 127.0,221.8 127.0,222.0 127.2,222.5 127.3,223.0 127.3,223.2 127.4,223.8 127.4,224.2 127.4,224.8 127.4,225.2 127.4,225.8 127.5,226.2 127.5,226.7 127.6,227.0 127.7,227.5 127.8,228.0 127.8,228.5 127.8,229.0 127.8,229.5 127.7,230.0 127.7,230.5 127.7,231.0 127.7,231.5 127.7,232.0 127.7,232.5 127.6,233.0 127.6,233.5 127.5,233.8 127.5,234.2 127.4,234.8 127.3,235.2 127.3,235.5 127.2,236.0 127.2,236.5 127.0,237.0 127.0,237.2 126.8,237.8 126.8,238.0 126.6,238.5 126.5,238.8 126.4,239.2 126.3,239.6 126.2,240.0 126.1,240.5 126.1,241.0 126.0,241.2 125.9,241.8 125.8,242.1 125.5,242.3Z" fill="none" stroke="#151515" stroke-width="0.5"/>
<path d="M164.3,240.8 163.8,240.9 163.3,240.9 162.9,240.8 162.6,240.5 162.4,240.2 162.3,239.9 162.2,239.5 162.1,239.0 162.0,238.8 162.1,238.3 162.2,238.0 162.6,237.8 162.8,237.7 163.3,237.6 163.8,237.6 164.3,237.6 164.8,237.7 165.3,237.7 165.6,237.8 166.1,238.0 166.3,238.1 166.5,238.5 166.3,238.9 166.1,239.2 165.8,239.5 165.6,239.8 165.3,240.0 165.1,240.2 164.8,240.5 164.6,240.6 164.3,240.8Z" fill="none" stroke="#151515" stroke-width="0.5"/>
<path d="M157.3,241.8 156.8,241.8 156.3,241.8 155.8,241.8 155.3,241.9 154.8,241.9 154.3,241.9 153.8,241.8 153.4,241.8 153.1,241.7 152.7,241.5 152.3,241.3 152.1,241.0 151.9,240.8 151.9,240.2 152.1,240.0 152.3,239.8 152.6,239.5 153.0,239.2 153.3,239.1 153.6,238.9 153.9,238.8 154.3,238.6 154.6,238.5 155.1,238.3 155.5,238.2 155.8,238.2 156.3,238.1 156.8,238.1 157.3,238.1 157.8,238.1 158.3,238.2 158.6,238.3 159.1,238.5 159.3,238.6 159.6,238.8 159.8,239.2 159.9,239.5 160.0,240.0 159.9,240.5 159.8,240.8 159.6,241.1 159.3,241.3 158.9,241.5 158.6,241.6 158.1,241.7 157.6,241.7 157.3,241.8Z" fill="none" stroke="#151515" stroke-width="0.5"/>
<path d="M133.8,254.8 133.3,254.8 132.8,254.9 132.3,254.8 131.8,254.8 131.6,254.7 131.1,254.7 130.6,254.6 130.3,254.5 129.8,254.4 129.3,254.3 129.1,254.2 128.6,254.1 128.3,254.0 127.8,253.8 127.5,253.6 127.3,253.5 127.0,253.2 126.7,253.0 126.5,252.8 126.2,252.5 126.0,252.2 125.8,251.9 125.6,251.5 125.4,251.2 125.3,251.0 125.1,250.5 125.0,250.2 124.9,249.8 124.8,249.5 124.7,249.0 124.7,248.5 124.7,248.0 124.8,247.5 124.9,247.2 125.0,246.8 125.2,246.5 125.3,246.2 125.5,245.9 125.8,245.6 126.0,245.4 126.3,245.2 126.7,245.0 127.0,244.9 127.4,244.8 127.8,244.6 128.2,244.5 128.6,244.4 128.9,244.2 129.3,244.1 129.6,244.0 130.1,243.8 130.3,243.7 130.8,243.6 131.3,243.6 131.8,243.6 132.3,243.6 132.8,243.7 133.1,243.8 133.6,243.8 134.1,243.9 134.3,244.0 134.8,244.1 135.2,244.2 135.6,244.4 135.8,244.5 136.3,244.8 136.6,244.9 136.8,245.1 137.1,245.4 137.3,245.7 137.6,246.0 137.7,246.2 137.9,246.5 138.1,246.8 138.3,247.2 138.4,247.5 138.5,248.0 138.6,248.2 138.7,248.8 138.7,249.2 138.6,249.8 138.6,250.2 138.5,250.5 138.3,251.0 138.2,251.2 138.1,251.6 137.8,252.0 137.6,252.2 137.4,252.5 137.2,252.8 136.9,253.0 136.6,253.2 136.3,253.5 136.1,253.7 135.8,253.9 135.6,254.1 135.2,254.2 134.8,254.5 134.6,254.6 134.1,254.7 133.8,254.8Z" fill="none" stroke="#151515" stroke-width="0.5"/>
<path d="M168.6,225.1 168.1,225.1 167.6,225.2 167.1,225.2 166.6,225.1 166.1,225.0 165.8,225.0 165.3,224.8 165.1,224.7 164.7,224.5 164.5,224.2 164.3,223.8 164.2,223.5 164.2,223.0 164.1,222.5 164.1,222.0 164.0,221.8 163.9,221.2 163.9,220.8 164.0,220.2 164.2,220.0 164.5,219.8 164.8,219.5 165.1,219.4 165.3,219.2 165.8,219.0 166.1,218.9 166.3,218.7 166.6,218.5 166.9,218.2 167.2,218.0 167.4,217.8 167.7,217.5 168.1,217.3 168.3,217.2 168.8,217.2 169.1,217.3 169.6,217.5 169.8,217.6 170.1,217.8 170.5,218.0 170.8,218.2 171.1,218.3 171.6,218.5 171.8,218.5 172.3,218.6 172.8,218.6 173.3,218.5 173.8,218.5 174.1,218.5 174.6,218.4 175.1,218.3 175.6,218.3 175.9,218.2 176.2,218.2 176.6,218.3 177.1,218.4 177.3,218.6 177.6,218.8 177.8,219.2 178.0,219.5 178.1,219.8 178.3,220.2 178.4,220.5 178.6,220.9 178.7,221.2 178.8,221.5 178.9,222.0 178.8,222.4 178.6,222.8 178.3,222.9 178.1,223.0 177.6,223.1 177.1,223.2 176.6,223.2 176.1,223.2 175.8,223.3 175.3,223.4 174.9,223.5 174.6,223.6 174.1,223.6 173.6,223.5 173.3,223.5 172.8,223.3 172.6,223.2 172.1,223.0 171.8,223.0 171.6,223.0 171.2,223.2 171.0,223.5 170.8,223.8 170.6,224.0 170.3,224.3 170.0,224.5 169.6,224.7 169.3,224.8 168.8,225.0 168.6,225.1Z" fill="none" stroke="#151515" stroke-width="0.5"/>
<path d="M159.8,222.5 159.3,222.6 158.8,222.5 158.6,222.5 158.1,222.3 157.8,222.0 157.7,221.8 157.6,221.2 157.7,220.8 157.9,220.5 158.3,220.2 158.6,220.1 158.8,220.0 159.3,219.8 159.6,219.6 159.8,219.5 160.1,219.2 160.5,219.0 160.8,218.8 161.1,218.8 161.4,218.8 161.8,218.9 162.1,219.2 162.2,219.5 162.1,220.0 161.9,220.2 161.7,220.5 161.5,220.8 161.3,221.0 161.1,221.4 160.9,221.8 160.7,222.0 160.5,222.2 160.1,222.5 159.8,222.5Z" fill="none" stroke="#151515" stroke-width="0.5"/>
<path d="M125.5,239.2 125.1,239.0 124.8,238.8 124.7,238.5 124.5,238.2 124.3,237.9 124.1,237.5 124.0,237.2 123.9,236.8 123.8,236.4 123.7,236.0 123.6,235.5 123.5,235.1 123.5,234.8 123.4,234.2 123.4,233.8 123.3,233.2 123.3,233.0 123.3,232.6 123.3,232.2 123.4,231.8 123.5,231.2 123.6,231.0 123.8,230.5 123.8,230.2 123.9,229.8 124.0,229.2 124.0,228.8 124.0,228.2 123.9,227.8 123.9,227.2 123.9,226.8 123.9,226.2 123.9,225.8 124.0,225.2 124.1,225.0 124.2,224.5 124.2,224.0 124.3,223.7 124.4,223.2 124.5,222.8 124.5,222.5 124.7,222.0 124.8,221.7 125.0,221.2 125.1,221.0 125.3,220.7 125.6,220.5 125.9,220.5 126.1,220.8 126.3,221.0 126.5,221.5 126.6,221.8 126.8,222.2 126.8,222.5 127.0,223.0 127.0,223.5 127.1,223.8 127.1,224.2 127.1,224.8 127.1,225.2 127.2,225.8 127.2,226.2 127.3,226.8 127.3,227.0 127.4,227.5 127.5,228.0 127.5,228.3 127.6,228.8 127.5,229.1 127.5,229.5 127.5,230.0 127.5,230.5 127.5,231.0 127.5,231.5 127.5,232.0 127.5,232.5 127.4,233.0 127.4,233.5 127.3,233.9 127.2,234.2 127.2,234.8 127.1,235.2 127.0,235.6 127.0,236.0 126.9,236.5 126.8,236.8 126.7,237.2 126.5,237.6 126.4,238.0 126.2,238.2 126.0,238.6 125.8,239.0 125.5,239.2Z" fill="none" stroke="#151515" stroke-width="0.5"/>
<path d="M155.6,241.5 155.1,241.5 154.7,241.5 154.3,241.5 153.8,241.4 153.5,241.2 153.1,241.0 152.9,240.8 152.9,240.2 153.1,240.0 153.3,239.7 153.6,239.5 153.8,239.2 154.2,239.0 154.6,238.9 154.8,238.8 155.3,238.6 155.8,238.5 156.1,238.5 156.6,238.4 157.1,238.4 157.5,238.5 157.8,238.6 158.1,238.8 158.5,239.0 158.7,239.2 158.8,239.5 159.0,240.0 158.9,240.5 158.7,240.8 158.4,241.0 158.1,241.2 157.7,241.2 157.3,241.3 156.8,241.4 156.3,241.4 155.8,241.5 155.6,241.5Z" fill="none" stroke="#151515" stroke-width="0.5"/>
<path d="M164.1,239.8 163.8,239.8 163.6,239.2 163.8,238.9 164.3,239.0 164.4,239.2 164.3,239.6 164.1,239.8Z" fill="none" stroke="#151515" stroke-width="0.5"/>
<path d="M134.1,254.5 133.6,254.6 133.1,254.7 132.6,254.7 132.1,254.7 131.6,254.6 131.2,254.5 130.8,254.4 130.3,254.3 130.1,254.2 129.6,254.1 129.1,254.0 128.8,253.9 128.3,253.8 128.1,253.7 127.7,253.5 127.3,253.2 127.0,253.0 126.8,252.8 126.5,252.5 126.3,252.2 126.1,252.0 126.0,251.8 125.8,251.5 125.5,251.0 125.4,250.8 125.3,250.5 125.1,250.0 125.0,249.7 124.9,249.2 124.9,248.8 124.9,248.2 125.0,247.8 125.0,247.4 125.2,247.0 125.3,246.8 125.5,246.4 125.8,246.1 126.0,245.8 126.3,245.6 126.5,245.5 127.0,245.2 127.3,245.1 127.6,245.0 128.1,244.8 128.3,244.7 128.8,244.5 129.1,244.4 129.4,244.2 129.8,244.1 130.1,244.0 130.6,243.9 131.1,243.8 131.3,243.7 131.8,243.8 132.1,243.8 132.6,243.8 133.1,243.9 133.4,244.0 133.8,244.1 134.3,244.2 134.6,244.3 135.1,244.4 135.3,244.5 135.8,244.7 136.1,244.8 136.3,245.0 136.7,245.2 136.9,245.5 137.2,245.8 137.4,246.0 137.6,246.3 137.8,246.7 138.0,247.0 138.1,247.2 138.3,247.8 138.4,248.0 138.5,248.5 138.5,249.0 138.5,249.5 138.4,250.0 138.3,250.4 138.2,250.8 138.1,251.1 137.9,251.5 137.7,251.8 137.6,252.0 137.3,252.3 137.1,252.6 136.8,252.8 136.6,253.1 136.3,253.3 136.0,253.5 135.7,253.8 135.3,254.0 135.1,254.1 134.8,254.3 134.3,254.5 134.1,254.5Z" fill="none" stroke="#151515" stroke-width="0.5"/>
<path d="M168.6,224.6 168.1,224.6 167.6,224.7 167.1,224.6 166.6,224.6 166.1,224.5 165.8,224.4 165.6,224.2 165.3,224.0 165.1,223.5 165.0,223.2 164.9,222.8 164.8,222.4 164.7,222.0 164.6,221.5 164.7,221.0 164.8,220.5 164.9,220.2 165.2,220.0 165.5,219.8 165.8,219.6 166.1,219.5 166.5,219.2 166.8,219.1 167.1,218.9 167.3,218.7 167.6,218.5 167.8,218.2 168.1,218.0 168.6,217.8 169.1,217.8 169.5,218.0 169.8,218.2 170.1,218.4 170.3,218.6 170.6,218.8 170.8,219.0 171.2,219.2 171.6,219.4 172.1,219.3 172.4,219.2 172.8,219.2 173.3,219.1 173.7,219.0 174.1,218.9 174.6,218.8 174.9,218.8 175.3,218.7 175.8,218.6 176.3,218.6 176.8,218.7 177.1,218.9 177.3,219.1 177.6,219.4 177.7,219.8 177.8,220.0 178.0,220.5 178.1,220.8 178.2,221.2 178.2,221.8 178.1,222.2 177.8,222.5 177.6,222.6 177.1,222.7 176.6,222.7 176.3,222.8 175.8,222.8 175.3,222.9 174.8,222.9 174.3,222.9 173.8,222.8 173.6,222.7 173.1,222.5 172.8,222.4 172.6,222.2 172.2,222.0 171.9,221.8 171.6,221.5 171.4,221.2 171.1,221.1 170.8,221.3 170.6,221.8 170.5,222.0 170.4,222.5 170.3,222.9 170.2,223.2 170.1,223.5 169.8,223.9 169.6,224.1 169.3,224.3 168.8,224.5 168.6,224.6Z" fill="none" stroke="#151515" stroke-width="0.5"/>
<path d="M125.5,238.1 125.0,238.0 124.8,237.8 124.5,237.5 124.4,237.2 124.3,237.0 124.1,236.5 124.0,236.2 123.9,235.8 123.8,235.2 123.8,235.0 123.7,234.5 123.6,234.0 123.6,233.5 123.5,233.2 123.5,232.8 123.5,232.2 123.6,232.0 123.7,231.5 123.8,231.2 124.0,230.8 124.0,230.5 124.2,230.0 124.2,229.5 124.2,229.0 124.2,228.5 124.2,228.0 124.1,227.5 124.1,227.0 124.1,226.5 124.2,226.0 124.3,225.5 124.3,225.2 124.4,224.8 124.5,224.2 124.6,224.0 124.7,223.5 124.8,223.0 124.8,222.8 125.0,222.2 125.2,222.0 125.3,221.8 125.8,221.6 126.0,221.8 126.3,222.2 126.4,222.5 126.5,222.8 126.7,223.2 126.8,223.8 126.8,224.2 126.8,224.5 126.8,225.0 126.9,225.5 126.9,226.0 127.0,226.5 127.0,226.8 127.2,227.2 127.3,227.8 127.3,228.0 127.3,228.5 127.3,229.0 127.3,229.5 127.3,229.8 127.2,230.2 127.2,230.8 127.3,231.2 127.3,231.8 127.3,232.2 127.3,232.8 127.2,233.2 127.1,233.8 127.0,234.1 127.0,234.5 126.9,235.0 126.8,235.5 126.8,235.8 126.7,236.2 126.5,236.6 126.4,237.0 126.3,237.2 126.0,237.7 125.8,238.0 125.5,238.1Z" fill="none" stroke="#151515" stroke-width="0.5"/>
<path d="M156.6,241.0 156.1,241.1 155.6,241.1 155.1,241.1 154.6,241.1 154.3,241.0 153.9,240.8 153.8,240.5 153.8,240.1 154.0,239.8 154.2,239.5 154.6,239.3 154.8,239.1 155.1,239.0 155.6,238.9 156.1,238.8 156.6,238.8 157.1,238.8 157.5,239.0 157.8,239.2 158.0,239.5 158.1,239.8 158.1,240.2 157.9,240.5 157.6,240.7 157.3,240.8 156.8,241.0 156.6,241.0Z" fill="none" stroke="#151515" stroke-width="0.5"/>
<path d="M133.3,254.5 132.8,254.5 132.3,254.5 132.1,254.5 131.6,254.4 131.1,254.3 130.8,254.2 130.3,254.1 129.8,254.0 129.6,253.9 129.1,253.8 128.8,253.7 128.3,253.5 128.1,253.4 127.7,253.2 127.4,253.0 127.1,252.8 126.8,252.5 126.6,252.2 126.4,252.0 126.2,251.8 126.0,251.5 125.8,251.1 125.6,250.8 125.5,250.5 125.3,250.0 125.3,249.8 125.1,249.2 125.1,248.8 125.1,248.2 125.2,247.8 125.3,247.3 125.4,247.0 125.6,246.8 125.8,246.5 126.0,246.2 126.3,246.0 126.7,245.8 127.0,245.5 127.3,245.4 127.7,245.2 128.1,245.1 128.3,245.0 128.8,244.8 129.1,244.6 129.4,244.5 129.8,244.3 130.1,244.2 130.6,244.0 130.8,244.0 131.3,243.9 131.8,243.9 132.3,244.0 132.6,244.0 133.1,244.1 133.6,244.2 133.8,244.2 134.3,244.4 134.8,244.5 135.1,244.6 135.5,244.8 135.8,244.9 136.1,245.0 136.4,245.2 136.7,245.5 137.0,245.8 137.2,246.0 137.4,246.2 137.6,246.5 137.8,247.0 137.9,247.2 138.1,247.5 138.2,248.0 138.3,248.5 138.3,248.8 138.3,249.2 138.3,249.6 138.2,250.0 138.1,250.5 138.0,250.8 137.8,251.2 137.7,251.5 137.5,251.8 137.3,252.0 137.1,252.3 136.8,252.6 136.6,252.8 136.3,253.0 136.0,253.2 135.7,253.5 135.4,253.8 135.1,253.9 134.8,254.1 134.4,254.2 134.1,254.4 133.6,254.5 133.3,254.5Z" fill="none" stroke="#151515" stroke-width="0.5"/>
<path d="M168.3,224.0 167.8,224.1 167.3,224.1 166.8,224.0 166.6,224.0 166.1,223.8 165.8,223.5 165.7,223.2 165.5,223.0 165.4,222.5 165.3,222.2 165.2,221.8 165.2,221.2 165.3,220.8 165.5,220.5 165.7,220.2 166.1,220.0 166.3,219.9 166.6,219.8 167.1,219.5 167.3,219.4 167.6,219.2 168.1,219.0 168.3,218.8 168.6,218.7 169.1,218.6 169.3,218.8 169.6,219.0 169.8,219.4 169.9,219.8 169.9,220.2 169.8,220.8 169.8,221.2 169.8,221.5 169.8,222.0 169.7,222.5 169.6,223.0 169.4,223.2 169.3,223.5 169.0,223.8 168.6,224.0 168.3,224.0Z" fill="none" stroke="#151515" stroke-width="0.5"/>
<path d="M176.6,222.3 176.1,222.3 175.6,222.4 175.1,222.4 174.6,222.3 174.1,222.3 173.8,222.2 173.4,222.0 173.1,221.8 172.8,221.6 172.6,221.2 172.5,221.0 172.4,220.5 172.6,220.2 172.8,219.9 173.1,219.8 173.6,219.5 173.8,219.4 174.3,219.3 174.6,219.2 175.1,219.1 175.4,219.0 175.8,218.9 176.3,219.0 176.6,219.0 176.9,219.2 177.2,219.5 177.3,219.8 177.5,220.2 177.6,220.5 177.7,221.0 177.6,221.5 177.5,221.8 177.3,222.0 176.8,222.2 176.6,222.3Z" fill="none" stroke="#151515" stroke-width="0.5"/>
<path d="M125.5,237.4 125.0,237.3 124.8,237.1 124.5,236.8 124.4,236.5 124.3,236.2 124.2,235.8 124.1,235.2 124.0,235.0 123.9,234.5 123.8,234.0 123.8,233.8 123.7,233.2 123.7,232.8 123.8,232.2 123.8,232.0 124.0,231.5 124.0,231.2 124.2,230.8 124.3,230.5 124.4,230.0 124.5,229.5 124.5,229.0 124.4,228.5 124.4,228.0 124.4,227.5 124.3,227.0 124.4,226.5 124.4,226.0 124.5,225.5 124.6,225.2 124.7,224.8 124.8,224.5 124.9,224.0 125.0,223.5 125.1,223.2 125.3,222.9 125.5,222.6 126.0,222.8 126.1,223.0 126.3,223.4 126.4,223.8 126.4,224.2 126.5,224.8 126.5,225.2 126.5,225.5 126.6,226.0 126.7,226.5 126.8,226.8 126.9,227.2 127.0,227.8 127.1,228.0 127.1,228.5 127.1,229.0 127.1,229.5 127.0,229.9 127.0,230.2 127.0,230.8 127.0,231.2 127.1,231.5 127.1,232.0 127.1,232.5 127.0,233.0 127.0,233.2 126.9,233.8 126.8,234.2 126.8,234.5 126.7,235.0 126.6,235.5 126.5,235.8 126.4,236.2 126.3,236.5 126.0,236.9 125.8,237.2 125.5,237.4Z" fill="none" stroke="#151515" stroke-width="0.5"/>
<path d="M156.6,240.5 156.1,240.7 155.6,240.7 155.1,240.6 154.7,240.5 154.6,240.0 154.8,239.7 155.1,239.5 155.6,239.3 155.8,239.2 156.3,239.2 156.7,239.2 157.1,239.5 157.2,239.8 157.1,240.2 156.8,240.4 156.6,240.5Z" fill="none" stroke="#151515" stroke-width="0.5"/>
<path d="M133.8,254.3 133.3,254.4 132.8,254.4 132.3,254.4 131.8,254.3 131.5,254.2 131.1,254.1 130.6,254.0 130.3,253.9 129.8,253.8 129.6,253.7 129.1,253.6 128.8,253.5 128.3,253.3 128.1,253.2 127.8,253.0 127.4,252.8 127.1,252.5 126.9,252.2 126.7,252.0 126.5,251.8 126.3,251.5 126.0,251.1 125.9,250.8 125.7,250.5 125.5,250.0 125.5,249.8 125.3,249.2 125.3,249.0 125.3,248.5 125.3,248.1 125.4,247.8 125.5,247.2 125.7,247.0 125.9,246.8 126.1,246.5 126.4,246.2 126.7,246.0 127.0,245.8 127.3,245.7 127.7,245.5 128.1,245.3 128.3,245.2 128.8,245.0 129.1,244.9 129.3,244.7 129.8,244.5 130.1,244.4 130.4,244.2 130.8,244.2 131.3,244.1 131.8,244.1 132.3,244.1 132.8,244.2 133.1,244.3 133.6,244.4 134.1,244.5 134.3,244.5 134.8,244.7 135.1,244.8 135.6,244.9 135.8,245.1 136.1,245.2 136.5,245.5 136.8,245.8 137.0,246.0 137.2,246.2 137.4,246.5 137.6,246.8 137.8,247.2 137.9,247.5 138.1,248.0 138.1,248.2 138.2,248.8 138.2,249.2 138.1,249.8 138.1,250.0 137.9,250.5 137.8,250.8 137.6,251.2 137.4,251.5 137.3,251.8 137.1,252.0 136.8,252.3 136.6,252.6 136.3,252.8 136.1,253.0 135.8,253.2 135.4,253.5 135.1,253.8 134.8,253.9 134.6,254.0 134.1,254.2 133.8,254.3Z" fill="none" stroke="#151515" stroke-width="0.5"/>
<path d="M176.6,221.8 176.1,221.9 175.6,221.9 175.1,221.9 174.6,221.8 174.2,221.8 173.8,221.6 173.6,221.4 173.3,221.1 173.2,220.8 173.3,220.5 173.6,220.2 173.8,220.0 174.2,219.8 174.6,219.6 174.9,219.5 175.3,219.4 175.8,219.3 176.3,219.3 176.6,219.5 176.9,219.8 177.1,220.1 177.2,220.5 177.2,221.0 177.1,221.4 176.8,221.6 176.6,221.8Z" fill="none" stroke="#151515" stroke-width="0.5"/>
<path d="M168.3,223.4 167.8,223.5 167.3,223.5 166.8,223.4 166.6,223.2 166.2,223.0 166.0,222.8 165.8,222.3 165.7,222.0 165.7,221.5 165.8,221.0 165.9,220.8 166.2,220.5 166.6,220.3 166.8,220.1 167.2,220.0 167.6,219.9 168.1,219.8 168.6,219.8 168.9,220.0 169.1,220.2 169.2,220.8 169.2,221.2 169.2,221.8 169.2,222.2 169.1,222.6 168.8,223.0 168.6,223.2 168.3,223.4Z" fill="none" stroke="#151515" stroke-width="0.5"/>
<path d="M125.3,236.8 125.0,236.7 124.8,236.4 124.6,236.0 124.5,235.8 124.3,235.2 124.3,235.0 124.2,234.5 124.1,234.0 124.0,233.8 124.0,233.2 123.9,232.8 124.0,232.2 124.0,232.0 124.2,231.5 124.3,231.2 124.5,230.8 124.6,230.5 124.7,230.0 124.7,229.5 124.7,229.0 124.7,228.5 124.6,228.0 124.6,227.5 124.6,227.0 124.7,226.5 124.8,226.0 124.8,225.8 125.0,225.2 125.1,225.0 125.3,224.6 125.5,224.2 125.8,224.2 125.9,224.5 126.0,225.0 126.1,225.2 126.2,225.8 126.3,226.0 126.4,226.5 126.5,226.9 126.7,227.2 126.8,227.7 126.9,228.0 126.9,228.5 126.9,229.0 126.9,229.5 126.8,230.0 126.8,230.3 126.8,230.7 126.8,231.0 126.9,231.5 126.9,232.0 126.9,232.5 126.9,233.0 126.8,233.3 126.7,233.8 126.6,234.2 126.5,234.5 126.4,235.0 126.3,235.4 126.2,235.8 126.0,236.1 125.8,236.5 125.5,236.7 125.3,236.8Z" fill="none" stroke="#151515" stroke-width="0.5"/>
<path d="M133.1,254.3 132.6,254.3 132.3,254.2 131.8,254.2 131.3,254.0 131.1,254.0 130.6,253.8 130.3,253.7 129.8,253.6 129.5,253.5 129.1,253.4 128.8,253.2 128.3,253.0 128.1,252.9 127.8,252.8 127.5,252.5 127.2,252.2 126.9,252.0 126.7,251.8 126.5,251.5 126.3,251.1 126.1,250.8 126.0,250.5 125.8,250.2 125.6,249.8 125.5,249.4 125.5,249.0 125.4,248.5 125.5,248.0 125.6,247.8 125.8,247.2 125.9,247.0 126.1,246.8 126.4,246.5 126.8,246.2 127.0,246.1 127.3,245.9 127.7,245.8 128.1,245.6 128.3,245.5 128.7,245.2 129.1,245.1 129.3,245.0 129.7,244.8 130.1,244.6 130.3,244.5 130.8,244.3 131.3,244.3 131.6,244.2 131.8,244.3 132.3,244.3 132.8,244.4 133.3,244.5 133.6,244.5 134.1,244.6 134.5,244.8 134.8,244.8 135.3,245.0 135.6,245.1 135.8,245.2 136.3,245.5 136.6,245.7 136.8,246.0 137.0,246.2 137.2,246.5 137.4,246.8 137.6,247.0 137.8,247.5 137.8,247.8 138.0,248.2 138.0,248.8 138.0,249.2 138.0,249.8 137.8,250.2 137.7,250.5 137.6,250.9 137.4,251.2 137.2,251.5 137.1,251.8 136.8,252.1 136.6,252.3 136.3,252.6 136.1,252.8 135.8,253.0 135.5,253.2 135.2,253.5 134.8,253.7 134.6,253.9 134.2,254.0 133.8,254.1 133.3,254.2 133.1,254.3Z" fill="none" stroke="#151515" stroke-width="0.5"/>
<path d="M176.3,221.3 175.8,221.4 175.3,221.4 174.8,221.3 174.5,221.2 174.2,221.0 174.2,220.5 174.4,220.2 174.8,220.0 175.1,219.9 175.5,219.8 175.8,219.7 176.1,219.8 176.5,220.0 176.6,220.2 176.7,220.8 176.6,221.1 176.3,221.3Z" fill="none" stroke="#000" stroke-width="0.65"/>
<path d="M168.1,222.8 167.6,222.9 167.1,222.8 166.8,222.7 166.5,222.5 166.3,222.1 166.2,221.8 166.3,221.2 166.4,221.0 166.7,220.8 167.1,220.5 167.3,220.5 167.8,220.4 168.2,220.5 168.5,220.8 168.6,221.0 168.7,221.5 168.7,222.0 168.6,222.4 168.3,222.7 168.1,222.8Z" fill="none" stroke="#000" stroke-width="0.65"/>
<path d="M125.3,236.1 125.0,235.9 124.8,235.6 124.7,235.2 124.5,235.0 124.4,234.5 124.3,234.0 124.3,233.8 124.2,233.2 124.2,232.8 124.2,232.2 124.3,231.9 124.4,231.5 124.5,231.2 124.8,230.8 124.8,230.5 125.0,230.0 125.0,229.5 125.0,229.0 124.9,228.5 124.9,228.0 124.9,227.5 124.9,227.0 125.0,226.5 125.1,226.2 125.3,226.0 125.7,226.0 125.9,226.2 126.1,226.5 126.3,227.0 126.4,227.2 126.5,227.8 126.6,228.0 126.7,228.5 126.7,229.0 126.6,229.5 126.6,230.0 126.5,230.4 126.5,230.5 126.6,231.0 126.6,231.5 126.7,232.0 126.7,232.5 126.7,233.0 126.6,233.5 126.5,233.8 126.3,234.2 126.3,234.5 126.1,235.0 126.0,235.2 125.8,235.7 125.5,236.0 125.3,236.1Z" fill="none" stroke="#000" stroke-width="0.65"/>
<path d="M133.6,254.1 133.1,254.1 132.6,254.1 132.1,254.1 131.8,254.0 131.3,253.9 130.9,253.8 130.6,253.6 130.2,253.5 129.8,253.4 129.4,253.2 129.1,253.1 128.8,253.0 128.3,252.8 128.1,252.6 127.8,252.5 127.5,252.2 127.3,252.0 127.0,251.8 126.8,251.5 126.5,251.1 126.3,250.8 126.2,250.5 126.0,250.2 125.8,249.8 125.8,249.5 125.7,249.0 125.6,248.5 125.7,248.0 125.8,247.6 126.0,247.2 126.2,247.0 126.4,246.8 126.8,246.5 127.0,246.3 127.3,246.2 127.7,246.0 128.1,245.8 128.3,245.7 128.7,245.5 129.1,245.3 129.3,245.2 129.6,245.0 130.1,244.8 130.3,244.7 130.8,244.5 131.1,244.4 131.6,244.4 132.1,244.4 132.5,244.5 132.8,244.5 133.3,244.6 133.8,244.7 134.1,244.8 134.6,244.9 134.8,245.0 135.3,245.2 135.6,245.3 136.0,245.5 136.3,245.7 136.6,245.9 136.8,246.2 137.1,246.5 137.2,246.8 137.4,247.0 137.6,247.3 137.7,247.8 137.8,248.1 137.9,248.5 137.9,249.0 137.9,249.5 137.8,249.8 137.7,250.2 137.6,250.5 137.3,251.0 137.2,251.2 137.0,251.5 136.8,251.8 136.6,252.1 136.3,252.3 136.1,252.6 135.8,252.8 135.6,253.0 135.2,253.2 134.9,253.5 134.6,253.7 134.3,253.8 133.8,254.0 133.6,254.1Z" fill="none" stroke="#000" stroke-width="0.65"/>
<path d="M167.8,222.1 167.3,222.2 167.0,222.0 166.9,221.5 167.1,221.2 167.6,221.1 167.9,221.2 168.1,221.5 168.1,221.8 167.8,222.1Z" fill="none" stroke="#000" stroke-width="0.65"/>
<path d="M125.5,235.1 125.0,235.0 124.9,234.8 124.8,234.5 124.6,234.0 124.5,233.8 124.4,233.2 124.4,232.8 124.5,232.2 124.5,231.9 124.7,231.5 124.8,231.2 125.0,230.8 125.2,230.5 125.3,230.1 125.4,229.8 125.3,229.2 125.3,229.0 125.2,228.5 125.2,228.0 125.3,227.5 125.3,227.2 125.5,227.0 125.8,227.1 126.0,227.4 126.2,227.8 126.3,228.0 126.4,228.5 126.4,229.0 126.3,229.5 126.3,229.8 126.2,230.2 126.3,230.8 126.3,231.0 126.4,231.5 126.5,232.0 126.5,232.5 126.4,233.0 126.3,233.5 126.2,233.8 126.1,234.2 125.9,234.5 125.8,234.8 125.5,235.1Z" fill="none" stroke="#000" stroke-width="0.65"/>
<path d="M134.1,253.8 133.6,253.9 133.1,254.0 132.6,254.0 132.1,253.9 131.6,253.8 131.3,253.7 130.8,253.5 130.6,253.4 130.1,253.2 129.8,253.1 129.4,253.0 129.1,252.8 128.8,252.7 128.4,252.5 128.1,252.3 127.8,252.1 127.5,251.9 127.3,251.7 127.0,251.4 126.8,251.1 126.6,250.8 126.4,250.5 126.3,250.2 126.1,249.8 126.0,249.5 125.8,249.0 125.8,248.5 125.9,248.0 126.0,247.5 126.2,247.2 126.5,247.0 126.8,246.8 127.0,246.6 127.3,246.4 127.6,246.2 128.1,246.1 128.3,245.9 128.7,245.8 129.1,245.6 129.3,245.4 129.6,245.2 130.0,245.0 130.3,244.9 130.6,244.8 131.1,244.6 131.6,244.6 132.1,244.6 132.6,244.7 133.0,244.8 133.3,244.8 133.8,244.9 134.2,245.0 134.6,245.1 135.1,245.2 135.3,245.3 135.7,245.5 136.1,245.7 136.3,245.9 136.6,246.1 136.8,246.4 137.1,246.7 137.3,247.0 137.4,247.2 137.6,247.6 137.7,248.0 137.8,248.5 137.8,249.0 137.7,249.5 137.6,250.0 137.5,250.2 137.3,250.7 137.1,251.0 137.0,251.2 136.8,251.5 136.6,251.8 136.3,252.1 136.1,252.3 135.8,252.6 135.6,252.8 135.3,253.0 135.0,253.2 134.6,253.5 134.3,253.7 134.1,253.8Z" fill="none" stroke="#000" stroke-width="0.65"/>
<path d="M125.3,234.3 125.0,234.1 124.9,233.8 124.8,233.5 124.7,233.0 124.7,232.5 124.8,232.0 124.9,231.8 125.1,231.5 125.3,231.2 125.5,231.0 125.8,231.0 126.0,231.4 126.2,231.8 126.2,232.2 126.2,232.8 126.1,233.2 126.0,233.5 125.8,234.0 125.5,234.2 125.3,234.3Z" fill="none" stroke="#000" stroke-width="0.65"/>
<path d="M133.6,253.8 133.1,253.9 132.6,253.9 132.1,253.8 131.8,253.7 131.3,253.5 131.1,253.4 130.6,253.2 130.3,253.1 130.1,253.0 129.6,252.8 129.3,252.6 129.0,252.5 128.6,252.2 128.3,252.1 128.1,251.9 127.8,251.7 127.5,251.5 127.3,251.2 127.0,251.0 126.8,250.6 126.6,250.2 126.4,250.0 126.3,249.8 126.1,249.2 126.0,249.0 126.0,248.5 126.0,248.1 126.2,247.8 126.3,247.5 126.5,247.2 126.8,247.0 127.1,246.8 127.5,246.5 127.8,246.4 128.2,246.2 128.6,246.1 128.8,245.9 129.1,245.8 129.5,245.5 129.8,245.3 130.1,245.2 130.4,245.0 130.8,244.9 131.3,244.8 131.8,244.8 132.3,244.8 132.8,244.9 133.3,245.0 133.6,245.0 134.1,245.1 134.5,245.2 134.8,245.3 135.3,245.5 135.6,245.6 135.8,245.8 136.2,246.0 136.5,246.2 136.8,246.5 136.9,246.8 137.1,247.0 137.3,247.3 137.5,247.8 137.6,248.1 137.6,248.5 137.6,249.0 137.6,249.5 137.5,249.8 137.3,250.2 137.2,250.5 137.1,250.8 136.8,251.2 136.6,251.5 136.4,251.8 136.2,252.0 135.9,252.2 135.6,252.5 135.4,252.8 135.1,253.0 134.8,253.2 134.6,253.4 134.3,253.5 133.8,253.7 133.6,253.8Z" fill="none" stroke="#000" stroke-width="0.65"/>
<path d="M125.5,233.4 125.2,233.2 125.0,232.9 125.0,232.5 125.1,232.2 125.3,232.0 125.8,232.0 125.9,232.2 125.9,232.8 125.8,233.1 125.5,233.4Z" fill="none" stroke="#000" stroke-width="0.65"/>
<path d="M133.8,253.6 133.3,253.7 132.8,253.7 132.3,253.7 131.8,253.6 131.6,253.5 131.1,253.3 130.8,253.1 130.6,253.0 130.1,252.8 129.8,252.6 129.6,252.4 129.3,252.2 128.9,252.0 128.6,251.8 128.3,251.6 128.1,251.4 127.8,251.2 127.5,251.0 127.3,250.8 127.0,250.5 126.8,250.1 126.6,249.8 126.4,249.5 126.3,249.1 126.2,248.8 126.2,248.2 126.3,248.0 126.5,247.5 126.8,247.2 127.0,247.1 127.3,246.9 127.6,246.8 128.1,246.5 128.3,246.4 128.7,246.2 129.1,246.0 129.3,245.9 129.6,245.7 129.9,245.5 130.3,245.3 130.6,245.2 131.0,245.0 131.3,245.0 131.8,244.9 132.3,245.0 132.6,245.0 133.1,245.1 133.6,245.2 133.8,245.3 134.3,245.4 134.8,245.5 135.1,245.6 135.5,245.8 135.8,245.9 136.1,246.1 136.3,246.2 136.6,246.5 136.8,246.8 137.1,247.1 137.2,247.5 137.3,247.8 137.5,248.2 137.5,248.8 137.5,249.2 137.3,249.8 137.3,250.0 137.1,250.5 136.9,250.8 136.8,251.0 136.6,251.3 136.3,251.6 136.1,251.9 135.8,252.1 135.6,252.4 135.3,252.6 135.1,252.8 134.8,253.0 134.4,253.2 134.1,253.5 133.8,253.6Z" fill="none" stroke="#000" stroke-width="0.65"/>
<path d="M133.3,253.6 132.8,253.6 132.3,253.5 132.1,253.5 131.6,253.3 131.3,253.2 131.0,253.0 130.6,252.8 130.3,252.5 130.1,252.3 129.8,252.1 129.6,251.9 129.3,251.6 129.1,251.3 128.8,251.1 128.6,250.9 128.3,250.8 127.8,250.5 127.5,250.4 127.3,250.2 127.0,249.9 126.8,249.6 126.6,249.2 126.5,249.0 126.5,248.5 126.5,248.0 126.7,247.8 126.9,247.5 127.2,247.2 127.5,247.0 127.8,246.9 128.2,246.8 128.6,246.6 128.8,246.4 129.1,246.2 129.5,246.0 129.8,245.8 130.1,245.6 130.3,245.5 130.8,245.3 131.1,245.2 131.6,245.1 132.1,245.2 132.6,245.2 132.8,245.3 133.3,245.4 133.8,245.4 134.1,245.5 134.6,245.6 135.0,245.8 135.3,245.8 135.6,246.0 136.1,246.2 136.3,246.4 136.6,246.7 136.8,247.0 137.0,247.2 137.1,247.5 137.3,248.0 137.3,248.2 137.4,248.8 137.3,249.2 137.3,249.5 137.1,250.0 137.0,250.2 136.8,250.6 136.6,251.0 136.4,251.2 136.2,251.5 135.9,251.8 135.7,252.0 135.4,252.2 135.2,252.5 134.9,252.8 134.6,253.0 134.3,253.2 134.1,253.3 133.6,253.5 133.3,253.6Z" fill="none" stroke="#000" stroke-width="0.65"/>
<path d="M133.8,253.3 133.3,253.4 132.8,253.4 132.3,253.4 131.9,253.2 131.6,253.1 131.3,253.0 131.0,252.8 130.7,252.5 130.4,252.2 130.2,252.0 130.1,251.7 129.8,251.3 129.7,251.0 129.5,250.8 129.3,250.4 129.1,250.1 128.8,249.9 128.3,249.8 128.0,249.8 127.5,249.6 127.3,249.5 127.0,249.2 126.8,248.8 126.8,248.5 126.8,248.2 127.0,247.8 127.3,247.5 127.5,247.3 127.8,247.2 128.3,247.0 128.6,246.9 128.8,246.7 129.2,246.5 129.5,246.2 129.8,246.1 130.1,245.9 130.3,245.7 130.8,245.5 131.1,245.4 131.6,245.3 132.1,245.4 132.6,245.4 132.9,245.5 133.3,245.6 133.8,245.6 134.3,245.7 134.6,245.8 135.1,245.9 135.3,246.0 135.8,246.2 136.1,246.4 136.3,246.6 136.6,246.8 136.8,247.2 137.0,247.5 137.1,247.8 137.2,248.2 137.2,248.8 137.2,249.2 137.1,249.7 136.9,250.0 136.8,250.3 136.6,250.7 136.3,251.0 136.1,251.2 135.9,251.5 135.7,251.8 135.4,252.0 135.2,252.2 134.9,252.5 134.6,252.8 134.3,253.0 134.1,253.1 133.8,253.3Z" fill="none" stroke="#000" stroke-width="0.65"/>
<path d="M133.1,253.3 132.6,253.3 132.3,253.2 131.8,253.0 131.6,252.9 131.3,252.7 131.1,252.5 130.8,252.2 130.6,251.8 130.4,251.5 130.3,251.2 130.1,250.8 129.9,250.5 129.8,250.2 129.6,249.9 129.3,249.6 129.1,249.3 128.8,249.2 128.3,249.0 128.1,249.0 127.5,248.9 127.3,248.6 127.3,248.2 127.4,248.0 127.6,247.8 128.0,247.5 128.3,247.4 128.6,247.2 128.9,247.0 129.3,246.8 129.6,246.5 129.8,246.4 130.1,246.2 130.3,246.0 130.8,245.8 131.1,245.7 131.6,245.6 132.1,245.6 132.6,245.7 133.0,245.8 133.3,245.8 133.8,245.9 134.3,245.9 134.6,246.0 135.1,246.1 135.4,246.2 135.8,246.4 136.1,246.6 136.3,246.8 136.6,247.0 136.8,247.4 136.9,247.8 137.1,248.1 137.1,248.5 137.1,249.0 137.0,249.2 136.9,249.8 136.7,250.0 136.6,250.3 136.3,250.7 136.1,251.0 135.9,251.2 135.7,251.5 135.4,251.8 135.2,252.0 134.9,252.2 134.7,252.5 134.3,252.8 134.1,252.9 133.8,253.1 133.3,253.2 133.1,253.3Z" fill="none" stroke="#000" stroke-width="0.65"/>
<path d="M133.6,253.0 133.1,253.1 132.6,253.1 132.2,253.0 131.8,252.8 131.6,252.6 131.3,252.4 131.1,252.0 130.9,251.8 130.8,251.5 130.6,251.0 130.5,250.8 130.3,250.4 130.1,250.0 129.9,249.8 129.7,249.5 129.5,249.2 129.3,248.9 129.1,248.7 128.8,248.4 128.6,248.0 128.8,247.7 129.1,247.4 129.3,247.1 129.6,246.9 129.8,246.7 130.1,246.5 130.4,246.2 130.8,246.0 131.1,245.9 131.6,245.8 132.1,245.9 132.6,245.9 132.9,246.0 133.3,246.1 133.8,246.1 134.3,246.2 134.8,246.2 135.1,246.3 135.6,246.5 135.8,246.6 136.1,246.8 136.3,247.0 136.6,247.3 136.8,247.7 136.9,248.0 137.0,248.5 136.9,249.0 136.8,249.4 136.7,249.8 136.5,250.0 136.3,250.4 136.1,250.7 135.8,251.0 135.6,251.2 135.4,251.5 135.2,251.8 134.9,252.0 134.7,252.2 134.4,252.5 134.1,252.7 133.8,252.9 133.6,253.0Z" fill="none" stroke="#000" stroke-width="0.65"/>
<path d="M133.6,252.8 133.1,252.9 132.6,252.9 132.1,252.8 131.8,252.5 131.6,252.3 131.4,252.0 131.2,251.8 131.1,251.3 130.9,251.0 130.8,250.8 130.6,250.3 130.4,250.0 130.2,249.8 130.1,249.5 129.8,249.1 129.6,248.8 129.5,248.5 129.3,248.0 129.5,247.5 129.6,247.2 129.9,247.0 130.1,246.8 130.5,246.5 130.8,246.3 131.1,246.2 131.6,246.1 132.1,246.2 132.5,246.2 132.8,246.3 133.3,246.3 133.8,246.4 134.3,246.4 134.8,246.5 135.1,246.5 135.6,246.7 135.8,246.8 136.1,247.0 136.4,247.2 136.6,247.5 136.7,248.0 136.8,248.3 136.8,248.8 136.8,249.0 136.6,249.5 136.5,249.8 136.3,250.0 136.1,250.4 135.8,250.7 135.6,251.0 135.3,251.2 135.1,251.5 134.9,251.8 134.6,252.0 134.4,252.2 134.1,252.5 133.8,252.7 133.6,252.8Z" fill="none" stroke="#000" stroke-width="0.65"/>
<path d="M133.6,252.6 133.1,252.7 132.6,252.7 132.2,252.5 131.9,252.2 131.7,252.0 131.6,251.7 131.3,251.2 131.2,251.0 131.1,250.6 130.8,250.2 130.7,250.0 130.5,249.8 130.3,249.4 130.1,249.0 130.0,248.8 129.8,248.3 129.8,248.0 129.8,247.7 130.1,247.3 130.3,247.0 130.6,246.8 130.8,246.6 131.2,246.5 131.6,246.5 132.0,246.5 132.3,246.6 132.8,246.6 133.3,246.7 133.8,246.7 134.3,246.6 134.8,246.7 135.2,246.8 135.6,246.9 135.8,247.0 136.1,247.2 136.3,247.5 136.6,247.9 136.6,248.2 136.6,248.8 136.6,249.1 136.4,249.5 136.2,249.8 136.0,250.0 135.8,250.3 135.6,250.6 135.3,250.9 135.1,251.2 134.8,251.5 134.6,251.8 134.3,252.0 134.1,252.2 133.8,252.4 133.6,252.6Z" fill="none" stroke="#000" stroke-width="0.65"/>
<path d="M133.6,252.3 133.1,252.5 132.6,252.4 132.3,252.2 132.1,252.0 131.8,251.5 131.7,251.2 131.6,251.0 131.3,250.5 131.1,250.2 131.0,250.0 130.8,249.8 130.6,249.3 130.4,249.0 130.3,248.8 130.1,248.2 130.2,247.8 130.3,247.5 130.6,247.2 130.8,247.0 131.3,246.8 131.8,246.8 132.3,246.9 132.8,247.0 133.1,247.0 133.5,247.0 133.8,247.0 134.3,246.9 134.8,246.9 135.3,247.0 135.6,247.1 135.9,247.2 136.1,247.5 136.3,247.8 136.5,248.2 136.4,248.8 136.3,249.2 136.1,249.5 135.9,249.8 135.7,250.0 135.5,250.2 135.2,250.5 135.0,250.8 134.8,251.0 134.6,251.3 134.3,251.7 134.1,251.9 133.8,252.1 133.6,252.3Z" fill="none" stroke="#000" stroke-width="0.65"/>
<path d="M133.3,252.1 132.8,252.1 132.6,252.0 132.3,251.7 132.1,251.3 131.9,251.0 131.8,250.8 131.6,250.4 131.3,250.1 131.1,249.8 130.9,249.5 130.8,249.2 130.6,248.8 130.5,248.5 130.5,248.0 130.6,247.8 130.8,247.4 131.1,247.2 131.6,247.2 132.1,247.2 132.3,247.3 132.8,247.4 133.3,247.4 133.8,247.3 134.1,247.2 134.6,247.2 135.1,247.2 135.4,247.2 135.8,247.5 136.1,247.7 136.2,248.0 136.3,248.5 136.1,249.0 136.0,249.2 135.8,249.5 135.5,249.8 135.2,250.0 135.0,250.2 134.8,250.5 134.6,250.8 134.3,251.1 134.1,251.5 133.8,251.7 133.6,251.9 133.3,252.1Z" fill="none" stroke="#000" stroke-width="0.65"/>
<path d="M133.3,251.6 132.8,251.5 132.6,251.3 132.3,251.0 132.2,250.8 132.0,250.5 131.8,250.2 131.6,250.0 131.3,249.6 131.1,249.2 130.9,249.0 130.8,248.5 130.8,248.2 130.9,248.0 131.1,247.8 131.6,247.6 132.1,247.6 132.6,247.7 132.8,247.8 133.3,247.8 133.7,247.8 134.1,247.7 134.6,247.5 134.8,247.5 135.1,247.5 135.6,247.6 135.8,247.9 136.0,248.2 135.9,248.8 135.8,249.0 135.5,249.2 135.2,249.5 134.9,249.8 134.6,250.0 134.4,250.2 134.2,250.5 134.1,250.8 133.8,251.1 133.6,251.4 133.3,251.6Z" fill="none" stroke="#000" stroke-width="0.65"/>
<path d="M133.3,250.7 132.8,250.7 132.6,250.5 132.3,250.2 132.0,250.0 131.8,249.8 131.6,249.5 131.3,249.0 131.2,248.8 131.3,248.2 131.6,248.0 131.8,248.0 132.1,248.0 132.6,248.1 133.0,248.2 133.3,248.3 133.8,248.3 134.1,248.2 134.6,248.1 134.8,248.0 135.3,248.0 135.5,248.2 135.3,248.8 135.1,249.0 134.8,249.1 134.5,249.2 134.2,249.5 134.0,249.8 133.8,250.0 133.6,250.4 133.3,250.7Z" fill="none" stroke="#000" stroke-width="0.65"/>
<rect x="169.0" y="245.5" width="0.8" height="0.8" fill="#777"/>
<rect x="165.6" y="199.3" width="0.8" height="0.8" fill="#777"/>
<rect x="124.6" y="195.6" width="0.8" height="0.8" fill="#777"/>
<rect x="170.2" y="253.6" width="0.8" height="0.8" fill="#777"/>
<rect x="162.1" y="204.5" width="0.8" height="0.8" fill="#777"/>
<rect x="131.3" y="235.6" width="0.8" height="0.8" fill="#777"/>
<rect x="155.1" y="212.7" width="0.8" height="0.8" fill="#777"/>
<rect x="164.2" y="250.6" width="0.8" height="0.8" fill="#777"/>
<rect x="175.4" y="203.7" width="0.8" height="0.8" fill="#777"/>
<rect x="156.9" y="252.7" width="0.8" height="0.8" fill="#777"/>
<rect x="136.7" y="199.5" width="0.8" height="0.8" fill="#777"/>
<rect x="139.1" y="208.0" width="0.8" height="0.8" fill="#777"/>
<rect x="139.3" y="244.4" width="0.8" height="0.8" fill="#777"/>
<rect x="121.8" y="246.9" width="0.8" height="0.8" fill="#777"/>
<rect x="178.0" y="209.9" width="0.8" height="0.8" fill="#777"/>
<rect x="195.2" y="206.7" width="0.8" height="0.8" fill="#777"/>
<rect x="147.0" y="202.5" width="0.8" height="0.8" fill="#777"/>
<rect x="181.0" y="208.5" width="0.8" height="0.8" fill="#777"/>
<rect x="122.9" y="199.3" width="0.8" height="0.8" fill="#777"/>
<rect x="170.6" y="199.9" width="0.8" height="0.8" fill="#777"/>
<rect x="156.1" y="209.4" width="0.8" height="0.8" fill="#777"/>
<rect x="120.3" y="210.4" width="0.8" height="0.8" fill="#777"/>
<rect x="120.1" y="247.7" width="0.8" height="0.8" fill="#777"/>
<rect x="174.0" y="204.6" width="0.8" height="0.8" fill="#777"/>
<rect x="119.5" y="229.0" width="0.8" height="0.8" fill="#777"/>
<rect x="146.1" y="226.6" width="0.8" height="0.8" fill="#777"/>
<rect x="143.0" y="245.2" width="0.8" height="0.8" fill="#777"/>
<rect x="156.6" y="206.2" width="0.8" height="0.8" fill="#777"/>
<rect x="164.0" y="212.1" width="0.8" height="0.8" fill="#777"/>
<rect x="185.3" y="244.5" width="0.8" height="0.8" fill="#777"/>
<rect x="140.4" y="242.6" width="0.8" height="0.8" fill="#777"/>
<rect x="191.0" y="228.6" width="0.8" height="0.8" fill="#777"/>
<rect x="196.6" y="206.2" width="0.8" height="0.8" fill="#777"/>
<rect x="167.4" y="203.5" width="0.8" height="0.8" fill="#777"/>
<rect x="150.9" y="229.1" width="0.8" height="0.8" fill="#777"/>
<rect x="144.7" y="246.9" width="0.8" height="0.8" fill="#777"/>
<rect x="157.7" y="204.8" width="0.8" height="0.8" fill="#777"/>
<rect x="148.5" y="208.1" width="0.8" height="0.8" fill="#777"/>
<rect x="119.3" y="238.8" width="0.8" height="0.8" fill="#777"/>
<rect x="148.4" y="203.3" width="0.8" height="0.8" fill="#777"/>
<rect x="174.2" y="250.6" width="0.8" height="0.8" fill="#777"/>
<rect x="198.0" y="219.8" width="0.8" height="0.8" fill="#777"/>
<rect x="178.7" y="248.7" width="0.8" height="0.8" fill="#777"/>
<rect x="125.1" y="199.4" width="0.8" height="0.8" fill="#777"/>
<rect x="117.7" y="223.9" width="0.8" height="0.8" fill="#777"/>
<rect x="190.7" y="242.6" width="0.8" height="0.8" fill="#777"/>
<rect x="177.5" y="206.6" width="0.8" height="0.8" fill="#777"/>
<rect x="190.0" y="228.2" width="0.8" height="0.8" fill="#777"/>
<rect x="182.6" y="204.2" width="0.8" height="0.8" fill="#777"/>
<rect x="159.7" y="207.2" width="0.8" height="0.8" fill="#777"/>
<rect x="163.1" y="248.8" width="0.8" height="0.8" fill="#777"/>
<rect x="170.7" y="201.1" width="0.8" height="0.8" fill="#777"/>
<rect x="170.2" y="253.6" width="0.8" height="0.8" fill="#777"/>
<rect x="152.5" y="234.6" width="0.8" height="0.8" fill="#777"/>
<rect x="124.1" y="199.0" width="0.8" height="0.8" fill="#777"/>
<rect x="123.4" y="257.5" width="0.8" height="0.8" fill="#777"/>
<rect x="199.6" y="212.8" width="0.8" height="0.8" fill="#777"/>
<rect x="193.9" y="223.4" width="0.8" height="0.8" fill="#777"/>
<rect x="181.2" y="234.5" width="0.8" height="0.8" fill="#777"/>
<rect x="155.9" y="197.9" width="0.8" height="0.8" fill="#777"/>
<ellipse cx="132.50" cy="216.55" rx="13.0" ry="21.7" fill="none" stroke="#cc1f38" stroke-width="1.6"/>
<ellipse cx="170.30" cy="221.05" rx="23.6" ry="10.8" fill="none" stroke="#25963f" stroke-width="1.6"/>
<ellipse cx="162.30" cy="240.55" rx="20.6" ry="7.9" fill="none" stroke="#8e1a5c" stroke-width="1.6" transform="rotate(-5 162.30 240.55)"/>
<ellipse cx="132.40" cy="251.05" rx="12.0" ry="10.8" fill="none" stroke="#1c1c55" stroke-width="1.6"/>
<path d="M103.30,166.00 H214.30 V276.70" fill="none" stroke="#333" stroke-width="1.1"/>
<path d="M103.30,166.00 V276.70 H214.30" fill="none" stroke="#000" stroke-width="1.45"/>
<line x1="101.70" y1="268.37" x2="103.30" y2="268.37" stroke="#1a1a1a" stroke-width="0.7"/>
<line x1="101.70" y1="263.50" x2="103.30" y2="263.50" stroke="#1a1a1a" stroke-width="0.7"/>
<line x1="101.70" y1="260.04" x2="103.30" y2="260.04" stroke="#1a1a1a" stroke-width="0.7"/>
<line x1="101.70" y1="257.36" x2="103.30" y2="257.36" stroke="#1a1a1a" stroke-width="0.7"/>
<line x1="101.70" y1="255.16" x2="103.30" y2="255.16" stroke="#1a1a1a" stroke-width="0.7"/>
<line x1="101.70" y1="253.31" x2="103.30" y2="253.31" stroke="#1a1a1a" stroke-width="0.7"/>
<line x1="101.70" y1="251.71" x2="103.30" y2="251.71" stroke="#1a1a1a" stroke-width="0.7"/>
<line x1="101.70" y1="250.29" x2="103.30" y2="250.29" stroke="#1a1a1a" stroke-width="0.7"/>
<line x1="101.70" y1="240.69" x2="103.30" y2="240.69" stroke="#1a1a1a" stroke-width="0.7"/>
<line x1="101.70" y1="235.82" x2="103.30" y2="235.82" stroke="#1a1a1a" stroke-width="0.7"/>
<line x1="101.70" y1="232.36" x2="103.30" y2="232.36" stroke="#1a1a1a" stroke-width="0.7"/>
<line x1="101.70" y1="229.68" x2="103.30" y2="229.68" stroke="#1a1a1a" stroke-width="0.7"/>
<line x1="101.70" y1="227.49" x2="103.30" y2="227.49" stroke="#1a1a1a" stroke-width="0.7"/>
<line x1="101.70" y1="225.64" x2="103.30" y2="225.64" stroke="#1a1a1a" stroke-width="0.7"/>
<line x1="101.70" y1="224.03" x2="103.30" y2="224.03" stroke="#1a1a1a" stroke-width="0.7"/>
<line x1="101.70" y1="222.62" x2="103.30" y2="222.62" stroke="#1a1a1a" stroke-width="0.7"/>
<line x1="101.70" y1="213.02" x2="103.30" y2="213.02" stroke="#1a1a1a" stroke-width="0.7"/>
<line x1="101.70" y1="208.15" x2="103.30" y2="208.15" stroke="#1a1a1a" stroke-width="0.7"/>
<line x1="101.70" y1="204.69" x2="103.30" y2="204.69" stroke="#1a1a1a" stroke-width="0.7"/>
<line x1="101.70" y1="202.01" x2="103.30" y2="202.01" stroke="#1a1a1a" stroke-width="0.7"/>
<line x1="101.70" y1="199.81" x2="103.30" y2="199.81" stroke="#1a1a1a" stroke-width="0.7"/>
<line x1="101.70" y1="197.96" x2="103.30" y2="197.96" stroke="#1a1a1a" stroke-width="0.7"/>
<line x1="101.70" y1="196.36" x2="103.30" y2="196.36" stroke="#1a1a1a" stroke-width="0.7"/>
<line x1="101.70" y1="194.94" x2="103.30" y2="194.94" stroke="#1a1a1a" stroke-width="0.7"/>
<line x1="101.70" y1="185.34" x2="103.30" y2="185.34" stroke="#1a1a1a" stroke-width="0.7"/>
<line x1="101.70" y1="180.47" x2="103.30" y2="180.47" stroke="#1a1a1a" stroke-width="0.7"/>
<line x1="101.70" y1="177.01" x2="103.30" y2="177.01" stroke="#1a1a1a" stroke-width="0.7"/>
<line x1="101.70" y1="174.33" x2="103.30" y2="174.33" stroke="#1a1a1a" stroke-width="0.7"/>
<line x1="101.70" y1="172.14" x2="103.30" y2="172.14" stroke="#1a1a1a" stroke-width="0.7"/>
<line x1="101.70" y1="170.29" x2="103.30" y2="170.29" stroke="#1a1a1a" stroke-width="0.7"/>
<line x1="101.70" y1="168.68" x2="103.30" y2="168.68" stroke="#1a1a1a" stroke-width="0.7"/>
<line x1="101.70" y1="167.27" x2="103.30" y2="167.27" stroke="#1a1a1a" stroke-width="0.7"/>
<line x1="100.30" y1="276.70" x2="103.30" y2="276.70" stroke="#1a1a1a" stroke-width="0.9"/>
<text x="96.70" y="279.70" font-size="8.2" fill="#111" class="tk" text-anchor="end">10</text>
<text x="96.90" y="276.10" font-size="6.4" fill="#111" class="tk">0</text>
<line x1="100.30" y1="249.02" x2="103.30" y2="249.02" stroke="#1a1a1a" stroke-width="0.9"/>
<text x="96.70" y="252.02" font-size="8.2" fill="#111" class="tk" text-anchor="end">10</text>
<text x="96.90" y="248.42" font-size="6.4" fill="#111" class="tk">1</text>
<line x1="100.30" y1="221.35" x2="103.30" y2="221.35" stroke="#1a1a1a" stroke-width="0.9"/>
<text x="96.70" y="224.35" font-size="8.2" fill="#111" class="tk" text-anchor="end">10</text>
<text x="96.90" y="220.75" font-size="6.4" fill="#111" class="tk">2</text>
<line x1="100.30" y1="193.67" x2="103.30" y2="193.67" stroke="#1a1a1a" stroke-width="0.9"/>
<text x="96.70" y="196.67" font-size="8.2" fill="#111" class="tk" text-anchor="end">10</text>
<text x="96.90" y="193.07" font-size="6.4" fill="#111" class="tk">3</text>
<line x1="100.30" y1="166.00" x2="103.30" y2="166.00" stroke="#1a1a1a" stroke-width="0.9"/>
<text x="96.70" y="169.00" font-size="8.2" fill="#111" class="tk" text-anchor="end">10</text>
<text x="96.90" y="165.40" font-size="6.4" fill="#111" class="tk">4</text>
<line x1="103.30" y1="276.70" x2="103.30" y2="279.70" stroke="#1a1a1a" stroke-width="1.0"/>
<line x1="108.73" y1="276.70" x2="108.73" y2="278.40" stroke="#1a1a1a" stroke-width="0.8"/>
<line x1="114.15" y1="276.70" x2="114.15" y2="278.40" stroke="#1a1a1a" stroke-width="0.8"/>
<line x1="119.58" y1="276.70" x2="119.58" y2="278.40" stroke="#1a1a1a" stroke-width="0.8"/>
<line x1="125.00" y1="276.70" x2="125.00" y2="279.70" stroke="#1a1a1a" stroke-width="1.0"/>
<line x1="130.43" y1="276.70" x2="130.43" y2="278.40" stroke="#1a1a1a" stroke-width="0.8"/>
<line x1="135.85" y1="276.70" x2="135.85" y2="278.40" stroke="#1a1a1a" stroke-width="0.8"/>
<line x1="141.28" y1="276.70" x2="141.28" y2="278.40" stroke="#1a1a1a" stroke-width="0.8"/>
<line x1="146.70" y1="276.70" x2="146.70" y2="279.70" stroke="#1a1a1a" stroke-width="1.0"/>
<line x1="152.13" y1="276.70" x2="152.13" y2="278.40" stroke="#1a1a1a" stroke-width="0.8"/>
<line x1="157.55" y1="276.70" x2="157.55" y2="278.40" stroke="#1a1a1a" stroke-width="0.8"/>
<line x1="162.98" y1="276.70" x2="162.98" y2="278.40" stroke="#1a1a1a" stroke-width="0.8"/>
<line x1="168.40" y1="276.70" x2="168.40" y2="279.70" stroke="#1a1a1a" stroke-width="1.0"/>
<line x1="173.83" y1="276.70" x2="173.83" y2="278.40" stroke="#1a1a1a" stroke-width="0.8"/>
<line x1="179.25" y1="276.70" x2="179.25" y2="278.40" stroke="#1a1a1a" stroke-width="0.8"/>
<line x1="184.68" y1="276.70" x2="184.68" y2="278.40" stroke="#1a1a1a" stroke-width="0.8"/>
<line x1="190.10" y1="276.70" x2="190.10" y2="279.70" stroke="#1a1a1a" stroke-width="1.0"/>
<line x1="195.53" y1="276.70" x2="195.53" y2="278.40" stroke="#1a1a1a" stroke-width="0.8"/>
<line x1="200.95" y1="276.70" x2="200.95" y2="278.40" stroke="#1a1a1a" stroke-width="0.8"/>
<line x1="206.38" y1="276.70" x2="206.38" y2="278.40" stroke="#1a1a1a" stroke-width="0.8"/>
<line x1="211.80" y1="276.70" x2="211.80" y2="279.70" stroke="#1a1a1a" stroke-width="1.0"/>
<text x="103.30" y="287.20" font-size="8.2" fill="#111" class="tk" text-anchor="middle">0</text>
<text x="125.00" y="287.20" font-size="8.2" fill="#111" class="tk" text-anchor="middle">200</text>
<text x="146.70" y="287.20" font-size="8.2" fill="#111" class="tk" text-anchor="middle">400</text>
<text x="168.40" y="287.20" font-size="8.2" fill="#111" class="tk" text-anchor="middle">600</text>
<text x="190.10" y="287.20" font-size="8.2" fill="#111" class="tk" text-anchor="middle">800</text>
<text x="211.80" y="287.20" font-size="8.2" fill="#111" class="tk" text-anchor="middle">1000</text>
<text x="156.80" y="299.00" font-size="8.7" fill="#111" stroke="#111" stroke-width="0.3" text-anchor="middle">FSC-H</text>
<text transform="translate(81.00,222.30) rotate(-90)" font-size="8.6" fill="#111" class="tk" text-anchor="middle">SSC-H</text>
<text x="134.80" y="193.40" font-size="10.2" fill="#bd2c46" stroke="#bd2c46" stroke-width="0.2" text-anchor="start">23.2 +/- 5.1</text>
<text x="154.80" y="208.10" font-size="10.2" fill="#3a8c45" stroke="#3a8c45" stroke-width="0.2" text-anchor="start">18.1 +/- 1.2</text>
<text x="152.20" y="259.80" font-size="10.2" fill="#7c2c58" stroke="#7c2c58" stroke-width="0.2" text-anchor="start">14.1 +/- 2.8</text>
<text x="108.70" y="272.60" font-size="10.2" fill="#2c2c5a" stroke="#2c2c5a" stroke-width="0.2" text-anchor="start">34.4 +/- 6.2</text>
<rect x="278.0" y="247.8" width="0.9" height="0.9" fill="#1a1a1a" opacity="0.85"/>
<rect x="279.2" y="243.3" width="0.9" height="0.9" fill="#1a1a1a" opacity="0.85"/>
<rect x="285.0" y="249.4" width="0.9" height="0.9" fill="#1a1a1a" opacity="0.85"/>
<rect x="281.4" y="246.0" width="0.9" height="0.9" fill="#1a1a1a" opacity="0.85"/>
<rect x="282.0" y="248.1" width="0.9" height="0.9" fill="#1a1a1a" opacity="0.85"/>
<rect x="282.6" y="249.4" width="0.9" height="0.9" fill="#1a1a1a" opacity="0.85"/>
<rect x="282.5" y="251.1" width="0.9" height="0.9" fill="#1a1a1a" opacity="0.85"/>
<rect x="286.3" y="251.0" width="0.9" height="0.9" fill="#1a1a1a" opacity="0.85"/>
<rect x="281.5" y="247.3" width="0.9" height="0.9" fill="#1a1a1a" opacity="0.85"/>
<rect x="285.9" y="248.9" width="0.9" height="0.9" fill="#1a1a1a" opacity="0.85"/>
<rect x="284.0" y="240.1" width="0.9" height="0.9" fill="#1a1a1a" opacity="0.85"/>
<rect x="273.4" y="250.9" width="0.9" height="0.9" fill="#1a1a1a" opacity="0.85"/>
<rect x="285.5" y="254.9" width="0.9" height="0.9" fill="#1a1a1a" opacity="0.85"/>
<rect x="287.1" y="250.4" width="0.9" height="0.9" fill="#1a1a1a" opacity="0.85"/>
<rect x="284.3" y="244.2" width="0.9" height="0.9" fill="#1a1a1a" opacity="0.85"/>
<rect x="287.7" y="247.3" width="0.9" height="0.9" fill="#1a1a1a" opacity="0.85"/>
<rect x="286.2" y="250.4" width="0.9" height="0.9" fill="#1a1a1a" opacity="0.85"/>
<rect x="285.3" y="253.0" width="0.9" height="0.9" fill="#1a1a1a" opacity="0.85"/>
<rect x="282.2" y="248.1" width="0.9" height="0.9" fill="#1a1a1a" opacity="0.85"/>
<rect x="280.8" y="248.2" width="0.9" height="0.9" fill="#1a1a1a" opacity="0.85"/>
<rect x="290.9" y="248.2" width="0.9" height="0.9" fill="#1a1a1a" opacity="0.85"/>
<rect x="288.9" y="252.7" width="0.9" height="0.9" fill="#1a1a1a" opacity="0.85"/>
<rect x="287.1" y="252.7" width="0.9" height="0.9" fill="#1a1a1a" opacity="0.85"/>
<rect x="280.1" y="251.0" width="0.9" height="0.9" fill="#1a1a1a" opacity="0.85"/>
<rect x="290.6" y="247.0" width="0.9" height="0.9" fill="#1a1a1a" opacity="0.85"/>
<rect x="284.0" y="247.0" width="0.9" height="0.9" fill="#1a1a1a" opacity="0.85"/>
<rect x="285.5" y="245.5" width="0.9" height="0.9" fill="#1a1a1a" opacity="0.85"/>
<rect x="290.6" y="248.2" width="0.9" height="0.9" fill="#1a1a1a" opacity="0.85"/>
<rect x="278.0" y="256.4" width="0.9" height="0.9" fill="#1a1a1a" opacity="0.85"/>
<rect x="288.1" y="251.6" width="0.9" height="0.9" fill="#1a1a1a" opacity="0.85"/>
<rect x="286.3" y="248.2" width="0.9" height="0.9" fill="#1a1a1a" opacity="0.85"/>
<rect x="283.3" y="252.4" width="0.9" height="0.9" fill="#1a1a1a" opacity="0.85"/>
<rect x="287.9" y="253.1" width="0.9" height="0.9" fill="#1a1a1a" opacity="0.85"/>
<rect x="285.1" y="247.8" width="0.9" height="0.9" fill="#1a1a1a" opacity="0.85"/>
<rect x="283.4" y="253.8" width="0.9" height="0.9" fill="#1a1a1a" opacity="0.85"/>
<rect x="290.0" y="248.3" width="0.9" height="0.9" fill="#1a1a1a" opacity="0.85"/>
<rect x="282.3" y="254.3" width="0.9" height="0.9" fill="#1a1a1a" opacity="0.85"/>
<rect x="287.1" y="252.2" width="0.9" height="0.9" fill="#1a1a1a" opacity="0.85"/>
<rect x="279.0" y="248.2" width="0.9" height="0.9" fill="#1a1a1a" opacity="0.85"/>
<rect x="282.1" y="250.4" width="0.9" height="0.9" fill="#1a1a1a" opacity="0.85"/>
<rect x="277.5" y="254.4" width="0.9" height="0.9" fill="#1a1a1a" opacity="0.85"/>
<rect x="285.4" y="251.3" width="0.9" height="0.9" fill="#1a1a1a" opacity="0.85"/>
<rect x="279.5" y="249.5" width="0.9" height="0.9" fill="#1a1a1a" opacity="0.85"/>
<rect x="289.5" y="243.6" width="0.9" height="0.9" fill="#1a1a1a" opacity="0.85"/>
<rect x="285.4" y="252.3" width="0.9" height="0.9" fill="#1a1a1a" opacity="0.85"/>
<rect x="281.4" y="252.7" width="0.9" height="0.9" fill="#1a1a1a" opacity="0.85"/>
<rect x="282.9" y="254.3" width="0.9" height="0.9" fill="#1a1a1a" opacity="0.85"/>
<rect x="286.3" y="250.5" width="0.9" height="0.9" fill="#1a1a1a" opacity="0.85"/>
<rect x="292.2" y="252.8" width="0.9" height="0.9" fill="#1a1a1a" opacity="0.85"/>
<rect x="289.4" y="245.1" width="0.9" height="0.9" fill="#1a1a1a" opacity="0.85"/>
<rect x="281.6" y="252.8" width="0.9" height="0.9" fill="#1a1a1a" opacity="0.85"/>
<rect x="287.8" y="249.4" width="0.9" height="0.9" fill="#1a1a1a" opacity="0.85"/>
<rect x="287.3" y="245.6" width="0.9" height="0.9" fill="#1a1a1a" opacity="0.85"/>
<rect x="285.1" y="245.2" width="0.9" height="0.9" fill="#1a1a1a" opacity="0.85"/>
<rect x="285.6" y="247.8" width="0.9" height="0.9" fill="#1a1a1a" opacity="0.85"/>
<rect x="281.6" y="249.8" width="0.9" height="0.9" fill="#1a1a1a" opacity="0.85"/>
<rect x="291.5" y="245.8" width="0.9" height="0.9" fill="#1a1a1a" opacity="0.85"/>
<rect x="281.8" y="253.7" width="0.9" height="0.9" fill="#1a1a1a" opacity="0.85"/>
<rect x="282.5" y="256.3" width="0.9" height="0.9" fill="#1a1a1a" opacity="0.85"/>
<rect x="285.1" y="249.9" width="0.9" height="0.9" fill="#1a1a1a" opacity="0.85"/>
<rect x="285.6" y="256.2" width="0.9" height="0.9" fill="#1a1a1a" opacity="0.85"/>
<rect x="286.8" y="251.6" width="0.9" height="0.9" fill="#1a1a1a" opacity="0.85"/>
<rect x="285.2" y="243.7" width="0.9" height="0.9" fill="#1a1a1a" opacity="0.85"/>
<rect x="280.7" y="255.2" width="0.9" height="0.9" fill="#1a1a1a" opacity="0.85"/>
<rect x="287.5" y="251.5" width="0.9" height="0.9" fill="#1a1a1a" opacity="0.85"/>
<rect x="286.7" y="247.5" width="0.9" height="0.9" fill="#1a1a1a" opacity="0.85"/>
<rect x="285.6" y="246.2" width="0.9" height="0.9" fill="#1a1a1a" opacity="0.85"/>
<rect x="285.8" y="246.9" width="0.9" height="0.9" fill="#1a1a1a" opacity="0.85"/>
<rect x="283.3" y="251.3" width="0.9" height="0.9" fill="#1a1a1a" opacity="0.85"/>
<rect x="282.9" y="252.1" width="0.9" height="0.9" fill="#1a1a1a" opacity="0.85"/>
<rect x="286.0" y="251.0" width="0.9" height="0.9" fill="#1a1a1a" opacity="0.85"/>
<rect x="289.5" y="244.0" width="0.9" height="0.9" fill="#1a1a1a" opacity="0.85"/>
<rect x="277.8" y="251.9" width="0.9" height="0.9" fill="#1a1a1a" opacity="0.85"/>
<rect x="288.0" y="257.2" width="0.9" height="0.9" fill="#1a1a1a" opacity="0.85"/>
<rect x="287.2" y="252.8" width="0.9" height="0.9" fill="#1a1a1a" opacity="0.85"/>
<rect x="280.7" y="252.5" width="0.9" height="0.9" fill="#1a1a1a" opacity="0.85"/>
<rect x="286.9" y="245.6" width="0.9" height="0.9" fill="#1a1a1a" opacity="0.85"/>
<rect x="280.6" y="249.2" width="0.9" height="0.9" fill="#1a1a1a" opacity="0.85"/>
<rect x="285.4" y="238.4" width="0.9" height="0.9" fill="#1a1a1a" opacity="0.85"/>
<rect x="284.5" y="250.5" width="0.9" height="0.9" fill="#1a1a1a" opacity="0.85"/>
<rect x="283.5" y="250.6" width="0.9" height="0.9" fill="#1a1a1a" opacity="0.85"/>
<rect x="286.0" y="245.8" width="0.9" height="0.9" fill="#1a1a1a" opacity="0.85"/>
<rect x="285.9" y="248.6" width="0.9" height="0.9" fill="#1a1a1a" opacity="0.85"/>
<rect x="280.4" y="250.4" width="0.9" height="0.9" fill="#1a1a1a" opacity="0.85"/>
<rect x="290.2" y="244.1" width="0.9" height="0.9" fill="#1a1a1a" opacity="0.85"/>
<rect x="277.6" y="243.3" width="0.9" height="0.9" fill="#1a1a1a" opacity="0.85"/>
<rect x="292.1" y="248.6" width="0.9" height="0.9" fill="#1a1a1a" opacity="0.85"/>
<rect x="284.0" y="246.6" width="0.9" height="0.9" fill="#1a1a1a" opacity="0.85"/>
<rect x="280.4" y="241.9" width="0.9" height="0.9" fill="#1a1a1a" opacity="0.85"/>
<rect x="284.9" y="250.6" width="0.9" height="0.9" fill="#1a1a1a" opacity="0.85"/>
<rect x="276.3" y="245.6" width="0.9" height="0.9" fill="#1a1a1a" opacity="0.85"/>
<rect x="281.2" y="249.5" width="0.9" height="0.9" fill="#1a1a1a" opacity="0.85"/>
<rect x="285.2" y="253.9" width="0.9" height="0.9" fill="#1a1a1a" opacity="0.85"/>
<rect x="289.7" y="253.7" width="0.9" height="0.9" fill="#1a1a1a" opacity="0.85"/>
<rect x="289.6" y="245.2" width="0.9" height="0.9" fill="#1a1a1a" opacity="0.85"/>
<rect x="282.0" y="253.9" width="0.9" height="0.9" fill="#1a1a1a" opacity="0.85"/>
<rect x="285.4" y="249.7" width="0.9" height="0.9" fill="#1a1a1a" opacity="0.85"/>
<rect x="276.3" y="242.5" width="0.9" height="0.9" fill="#1a1a1a" opacity="0.85"/>
<rect x="287.1" y="250.9" width="0.9" height="0.9" fill="#1a1a1a" opacity="0.85"/>
<rect x="283.0" y="248.0" width="0.9" height="0.9" fill="#1a1a1a" opacity="0.85"/>
<rect x="277.3" y="251.0" width="0.9" height="0.9" fill="#1a1a1a" opacity="0.85"/>
<rect x="288.3" y="255.8" width="0.9" height="0.9" fill="#1a1a1a" opacity="0.85"/>
<rect x="284.4" y="248.8" width="0.9" height="0.9" fill="#1a1a1a" opacity="0.85"/>
<rect x="279.8" y="254.2" width="0.9" height="0.9" fill="#1a1a1a" opacity="0.85"/>
<rect x="291.0" y="247.3" width="0.9" height="0.9" fill="#1a1a1a" opacity="0.85"/>
<rect x="285.4" y="249.9" width="0.9" height="0.9" fill="#1a1a1a" opacity="0.85"/>
<rect x="281.9" y="240.1" width="0.9" height="0.9" fill="#1a1a1a" opacity="0.85"/>
<rect x="282.7" y="251.9" width="0.9" height="0.9" fill="#1a1a1a" opacity="0.85"/>
<rect x="278.4" y="246.4" width="0.9" height="0.9" fill="#1a1a1a" opacity="0.85"/>
<rect x="271.1" y="254.5" width="0.9" height="0.9" fill="#1a1a1a" opacity="0.85"/>
<rect x="286.2" y="249.8" width="0.9" height="0.9" fill="#1a1a1a" opacity="0.85"/>
<rect x="283.1" y="247.2" width="0.9" height="0.9" fill="#1a1a1a" opacity="0.85"/>
<rect x="283.9" y="248.4" width="0.9" height="0.9" fill="#1a1a1a" opacity="0.85"/>
<rect x="283.2" y="249.5" width="0.9" height="0.9" fill="#1a1a1a" opacity="0.85"/>
<rect x="284.7" y="255.5" width="0.9" height="0.9" fill="#1a1a1a" opacity="0.85"/>
<rect x="278.4" y="250.6" width="0.9" height="0.9" fill="#1a1a1a" opacity="0.85"/>
<rect x="281.7" y="245.3" width="0.9" height="0.9" fill="#1a1a1a" opacity="0.85"/>
<rect x="274.7" y="251.9" width="0.9" height="0.9" fill="#1a1a1a" opacity="0.85"/>
<rect x="280.2" y="246.7" width="0.9" height="0.9" fill="#1a1a1a" opacity="0.85"/>
<rect x="286.0" y="245.4" width="0.9" height="0.9" fill="#1a1a1a" opacity="0.85"/>
<rect x="284.3" y="249.3" width="0.9" height="0.9" fill="#1a1a1a" opacity="0.85"/>
<rect x="287.4" y="253.4" width="0.9" height="0.9" fill="#1a1a1a" opacity="0.85"/>
<rect x="280.7" y="253.0" width="0.9" height="0.9" fill="#1a1a1a" opacity="0.85"/>
<rect x="283.8" y="250.0" width="0.9" height="0.9" fill="#1a1a1a" opacity="0.85"/>
<rect x="283.3" y="252.5" width="0.9" height="0.9" fill="#1a1a1a" opacity="0.85"/>
<rect x="279.3" y="250.6" width="0.9" height="0.9" fill="#1a1a1a" opacity="0.85"/>
<rect x="288.9" y="248.5" width="0.9" height="0.9" fill="#1a1a1a" opacity="0.85"/>
<rect x="292.3" y="246.8" width="0.9" height="0.9" fill="#1a1a1a" opacity="0.85"/>
<rect x="285.0" y="247.7" width="0.9" height="0.9" fill="#1a1a1a" opacity="0.85"/>
<rect x="281.7" y="245.3" width="0.9" height="0.9" fill="#1a1a1a" opacity="0.85"/>
<rect x="282.0" y="249.4" width="0.9" height="0.9" fill="#1a1a1a" opacity="0.85"/>
<rect x="280.9" y="252.9" width="0.9" height="0.9" fill="#1a1a1a" opacity="0.85"/>
<rect x="290.2" y="243.8" width="0.9" height="0.9" fill="#1a1a1a" opacity="0.85"/>
<rect x="287.5" y="250.3" width="0.9" height="0.9" fill="#1a1a1a" opacity="0.85"/>
<rect x="285.1" y="258.9" width="0.9" height="0.9" fill="#1a1a1a" opacity="0.85"/>
<rect x="289.0" y="250.8" width="0.9" height="0.9" fill="#1a1a1a" opacity="0.85"/>
<rect x="284.9" y="241.4" width="0.9" height="0.9" fill="#1a1a1a" opacity="0.85"/>
<rect x="287.3" y="246.8" width="0.9" height="0.9" fill="#1a1a1a" opacity="0.85"/>
<rect x="284.9" y="250.0" width="0.9" height="0.9" fill="#1a1a1a" opacity="0.85"/>
<rect x="288.0" y="257.3" width="0.9" height="0.9" fill="#1a1a1a" opacity="0.85"/>
<rect x="288.1" y="254.4" width="0.9" height="0.9" fill="#1a1a1a" opacity="0.85"/>
<rect x="283.3" y="251.3" width="0.9" height="0.9" fill="#1a1a1a" opacity="0.85"/>
<rect x="287.3" y="244.1" width="0.9" height="0.9" fill="#1a1a1a" opacity="0.85"/>
<rect x="292.4" y="246.9" width="0.9" height="0.9" fill="#1a1a1a" opacity="0.85"/>
<rect x="279.1" y="255.8" width="0.9" height="0.9" fill="#1a1a1a" opacity="0.85"/>
<rect x="292.7" y="246.9" width="0.9" height="0.9" fill="#1a1a1a" opacity="0.85"/>
<rect x="281.7" y="261.4" width="0.9" height="0.9" fill="#1a1a1a" opacity="0.85"/>
<rect x="284.7" y="242.1" width="0.9" height="0.9" fill="#1a1a1a" opacity="0.85"/>
<rect x="281.8" y="257.2" width="0.9" height="0.9" fill="#1a1a1a" opacity="0.85"/>
<rect x="286.8" y="252.5" width="0.9" height="0.9" fill="#1a1a1a" opacity="0.85"/>
<rect x="289.1" y="252.2" width="0.9" height="0.9" fill="#1a1a1a" opacity="0.85"/>
<rect x="282.9" y="243.5" width="0.9" height="0.9" fill="#1a1a1a" opacity="0.85"/>
<rect x="286.0" y="245.4" width="0.9" height="0.9" fill="#1a1a1a" opacity="0.85"/>
<rect x="284.0" y="256.3" width="0.9" height="0.9" fill="#1a1a1a" opacity="0.85"/>
<rect x="286.4" y="249.8" width="0.9" height="0.9" fill="#1a1a1a" opacity="0.85"/>
<rect x="284.5" y="252.4" width="0.9" height="0.9" fill="#1a1a1a" opacity="0.85"/>
<rect x="287.9" y="244.6" width="0.9" height="0.9" fill="#1a1a1a" opacity="0.85"/>
<rect x="284.9" y="256.1" width="0.9" height="0.9" fill="#1a1a1a" opacity="0.85"/>
<rect x="287.2" y="246.7" width="0.9" height="0.9" fill="#1a1a1a" opacity="0.85"/>
<rect x="281.5" y="241.8" width="0.9" height="0.9" fill="#1a1a1a" opacity="0.85"/>
<rect x="281.0" y="255.7" width="0.9" height="0.9" fill="#1a1a1a" opacity="0.85"/>
<rect x="283.9" y="246.4" width="0.9" height="0.9" fill="#1a1a1a" opacity="0.85"/>
<rect x="281.9" y="249.2" width="0.9" height="0.9" fill="#1a1a1a" opacity="0.85"/>
<rect x="283.8" y="248.3" width="0.9" height="0.9" fill="#1a1a1a" opacity="0.85"/>
<rect x="281.1" y="252.0" width="0.9" height="0.9" fill="#1a1a1a" opacity="0.85"/>
<rect x="290.4" y="247.4" width="0.9" height="0.9" fill="#1a1a1a" opacity="0.85"/>
<rect x="282.0" y="254.1" width="0.9" height="0.9" fill="#1a1a1a" opacity="0.85"/>
<rect x="278.3" y="247.4" width="0.9" height="0.9" fill="#1a1a1a" opacity="0.85"/>
<rect x="282.7" y="250.2" width="0.9" height="0.9" fill="#1a1a1a" opacity="0.85"/>
<rect x="283.1" y="246.2" width="0.9" height="0.9" fill="#1a1a1a" opacity="0.85"/>
<rect x="285.4" y="245.1" width="0.9" height="0.9" fill="#1a1a1a" opacity="0.85"/>
<rect x="277.2" y="241.9" width="0.9" height="0.9" fill="#1a1a1a" opacity="0.85"/>
<rect x="287.2" y="243.0" width="0.9" height="0.9" fill="#1a1a1a" opacity="0.85"/>
<rect x="286.0" y="252.1" width="0.9" height="0.9" fill="#1a1a1a" opacity="0.85"/>
<rect x="287.4" y="248.9" width="0.9" height="0.9" fill="#1a1a1a" opacity="0.85"/>
<rect x="282.0" y="249.9" width="0.9" height="0.9" fill="#1a1a1a" opacity="0.85"/>
<rect x="281.8" y="244.7" width="0.9" height="0.9" fill="#1a1a1a" opacity="0.85"/>
<rect x="289.2" y="246.2" width="0.9" height="0.9" fill="#1a1a1a" opacity="0.85"/>
<rect x="291.4" y="251.6" width="0.9" height="0.9" fill="#1a1a1a" opacity="0.85"/>
<rect x="282.4" y="251.3" width="0.9" height="0.9" fill="#1a1a1a" opacity="0.85"/>
<rect x="289.1" y="244.4" width="0.9" height="0.9" fill="#1a1a1a" opacity="0.85"/>
<rect x="280.5" y="245.6" width="0.9" height="0.9" fill="#1a1a1a" opacity="0.85"/>
<rect x="284.9" y="251.1" width="0.9" height="0.9" fill="#1a1a1a" opacity="0.85"/>
<rect x="284.3" y="246.8" width="0.9" height="0.9" fill="#1a1a1a" opacity="0.85"/>
<rect x="282.1" y="254.1" width="0.9" height="0.9" fill="#1a1a1a" opacity="0.85"/>
<rect x="288.7" y="250.1" width="0.9" height="0.9" fill="#1a1a1a" opacity="0.85"/>
<rect x="279.0" y="252.0" width="0.9" height="0.9" fill="#1a1a1a" opacity="0.85"/>
<rect x="285.4" y="250.6" width="0.9" height="0.9" fill="#1a1a1a" opacity="0.85"/>
<rect x="291.1" y="252.7" width="0.9" height="0.9" fill="#1a1a1a" opacity="0.85"/>
<rect x="280.3" y="245.9" width="0.9" height="0.9" fill="#1a1a1a" opacity="0.85"/>
<rect x="289.7" y="250.4" width="0.9" height="0.9" fill="#1a1a1a" opacity="0.85"/>
<rect x="287.7" y="249.2" width="0.9" height="0.9" fill="#1a1a1a" opacity="0.85"/>
<rect x="280.4" y="250.8" width="0.9" height="0.9" fill="#1a1a1a" opacity="0.85"/>
<rect x="290.7" y="251.1" width="0.9" height="0.9" fill="#1a1a1a" opacity="0.85"/>
<rect x="279.9" y="248.7" width="0.9" height="0.9" fill="#1a1a1a" opacity="0.85"/>
<rect x="282.5" y="250.5" width="0.9" height="0.9" fill="#1a1a1a" opacity="0.85"/>
<rect x="288.6" y="257.4" width="0.9" height="0.9" fill="#1a1a1a" opacity="0.85"/>
<rect x="285.5" y="248.3" width="0.9" height="0.9" fill="#1a1a1a" opacity="0.85"/>
<rect x="284.9" y="250.0" width="0.9" height="0.9" fill="#1a1a1a" opacity="0.85"/>
<rect x="282.9" y="250.1" width="0.9" height="0.9" fill="#1a1a1a" opacity="0.85"/>
<rect x="284.6" y="245.5" width="0.9" height="0.9" fill="#1a1a1a" opacity="0.85"/>
<rect x="286.8" y="248.6" width="0.9" height="0.9" fill="#1a1a1a" opacity="0.85"/>
<rect x="280.6" y="251.8" width="0.9" height="0.9" fill="#1a1a1a" opacity="0.85"/>
<rect x="282.6" y="256.6" width="0.9" height="0.9" fill="#1a1a1a" opacity="0.85"/>
<rect x="286.5" y="250.2" width="0.9" height="0.9" fill="#1a1a1a" opacity="0.85"/>
<rect x="281.5" y="248.4" width="0.9" height="0.9" fill="#1a1a1a" opacity="0.85"/>
<rect x="287.9" y="247.3" width="0.9" height="0.9" fill="#1a1a1a" opacity="0.85"/>
<rect x="287.6" y="241.9" width="0.9" height="0.9" fill="#1a1a1a" opacity="0.85"/>
<rect x="285.3" y="253.0" width="0.9" height="0.9" fill="#1a1a1a" opacity="0.85"/>
<rect x="285.9" y="249.9" width="0.9" height="0.9" fill="#1a1a1a" opacity="0.85"/>
<rect x="288.5" y="246.6" width="0.9" height="0.9" fill="#1a1a1a" opacity="0.85"/>
<rect x="280.6" y="250.3" width="0.9" height="0.9" fill="#1a1a1a" opacity="0.85"/>
<rect x="289.3" y="251.5" width="0.9" height="0.9" fill="#1a1a1a" opacity="0.85"/>
<rect x="283.7" y="251.0" width="0.9" height="0.9" fill="#1a1a1a" opacity="0.85"/>
<rect x="286.3" y="245.2" width="0.9" height="0.9" fill="#1a1a1a" opacity="0.85"/>
<rect x="273.3" y="246.0" width="0.9" height="0.9" fill="#1a1a1a" opacity="0.85"/>
<rect x="278.5" y="247.7" width="0.9" height="0.9" fill="#1a1a1a" opacity="0.85"/>
<rect x="279.7" y="246.6" width="0.9" height="0.9" fill="#1a1a1a" opacity="0.85"/>
<rect x="286.2" y="250.3" width="0.9" height="0.9" fill="#1a1a1a" opacity="0.85"/>
<rect x="284.4" y="256.2" width="0.9" height="0.9" fill="#1a1a1a" opacity="0.85"/>
<rect x="282.7" y="248.5" width="0.9" height="0.9" fill="#1a1a1a" opacity="0.85"/>
<rect x="289.6" y="245.7" width="0.9" height="0.9" fill="#1a1a1a" opacity="0.85"/>
<rect x="278.0" y="254.9" width="0.9" height="0.9" fill="#1a1a1a" opacity="0.85"/>
<rect x="285.9" y="252.2" width="0.9" height="0.9" fill="#1a1a1a" opacity="0.85"/>
<rect x="287.1" y="253.4" width="0.9" height="0.9" fill="#1a1a1a" opacity="0.85"/>
<rect x="282.7" y="249.7" width="0.9" height="0.9" fill="#1a1a1a" opacity="0.85"/>
<rect x="280.2" y="250.5" width="0.9" height="0.9" fill="#1a1a1a" opacity="0.85"/>
<rect x="285.5" y="248.3" width="0.9" height="0.9" fill="#1a1a1a" opacity="0.85"/>
<rect x="287.3" y="261.2" width="0.9" height="0.9" fill="#1a1a1a" opacity="0.85"/>
<rect x="280.0" y="253.2" width="0.9" height="0.9" fill="#1a1a1a" opacity="0.85"/>
<rect x="288.4" y="254.1" width="0.9" height="0.9" fill="#1a1a1a" opacity="0.85"/>
<rect x="281.5" y="254.6" width="0.9" height="0.9" fill="#1a1a1a" opacity="0.85"/>
<rect x="287.3" y="249.6" width="0.9" height="0.9" fill="#1a1a1a" opacity="0.85"/>
<rect x="283.4" y="251.0" width="0.9" height="0.9" fill="#1a1a1a" opacity="0.85"/>
<rect x="288.5" y="253.5" width="0.9" height="0.9" fill="#1a1a1a" opacity="0.85"/>
<rect x="293.9" y="248.8" width="0.9" height="0.9" fill="#1a1a1a" opacity="0.85"/>
<rect x="287.3" y="248.5" width="0.9" height="0.9" fill="#1a1a1a" opacity="0.85"/>
<rect x="287.9" y="250.7" width="0.9" height="0.9" fill="#1a1a1a" opacity="0.85"/>
<rect x="282.4" y="245.2" width="0.9" height="0.9" fill="#1a1a1a" opacity="0.85"/>
<rect x="281.7" y="251.1" width="0.9" height="0.9" fill="#1a1a1a" opacity="0.85"/>
<rect x="290.7" y="253.1" width="0.9" height="0.9" fill="#1a1a1a" opacity="0.85"/>
<rect x="280.0" y="248.3" width="0.9" height="0.9" fill="#1a1a1a" opacity="0.85"/>
<rect x="284.9" y="249.6" width="0.9" height="0.9" fill="#1a1a1a" opacity="0.85"/>
<rect x="285.0" y="253.0" width="0.9" height="0.9" fill="#1a1a1a" opacity="0.85"/>
<rect x="285.5" y="247.3" width="0.9" height="0.9" fill="#1a1a1a" opacity="0.85"/>
<rect x="276.8" y="248.6" width="0.9" height="0.9" fill="#1a1a1a" opacity="0.85"/>
<rect x="277.7" y="249.2" width="0.9" height="0.9" fill="#1a1a1a" opacity="0.85"/>
<rect x="285.7" y="244.7" width="0.9" height="0.9" fill="#1a1a1a" opacity="0.85"/>
<rect x="283.7" y="248.4" width="0.9" height="0.9" fill="#1a1a1a" opacity="0.85"/>
<rect x="291.8" y="251.3" width="0.9" height="0.9" fill="#1a1a1a" opacity="0.85"/>
<rect x="276.6" y="251.2" width="0.9" height="0.9" fill="#1a1a1a" opacity="0.85"/>
<rect x="285.7" y="248.7" width="0.9" height="0.9" fill="#1a1a1a" opacity="0.85"/>
<rect x="282.5" y="251.7" width="0.9" height="0.9" fill="#1a1a1a" opacity="0.85"/>
<rect x="286.7" y="251.1" width="0.9" height="0.9" fill="#1a1a1a" opacity="0.85"/>
<rect x="280.0" y="248.4" width="0.9" height="0.9" fill="#1a1a1a" opacity="0.85"/>
<rect x="277.7" y="243.6" width="0.9" height="0.9" fill="#1a1a1a" opacity="0.85"/>
<rect x="281.7" y="245.3" width="0.9" height="0.9" fill="#1a1a1a" opacity="0.85"/>
<rect x="282.2" y="258.7" width="0.9" height="0.9" fill="#1a1a1a" opacity="0.85"/>
<rect x="285.8" y="245.9" width="0.9" height="0.9" fill="#1a1a1a" opacity="0.85"/>
<rect x="275.2" y="246.0" width="0.9" height="0.9" fill="#1a1a1a" opacity="0.85"/>
<rect x="278.0" y="240.8" width="0.9" height="0.9" fill="#1a1a1a" opacity="0.85"/>
<rect x="286.6" y="247.3" width="0.9" height="0.9" fill="#1a1a1a" opacity="0.85"/>
<rect x="285.5" y="260.9" width="0.9" height="0.9" fill="#1a1a1a" opacity="0.85"/>
<rect x="284.8" y="249.6" width="0.9" height="0.9" fill="#1a1a1a" opacity="0.85"/>
<rect x="285.1" y="248.1" width="0.9" height="0.9" fill="#1a1a1a" opacity="0.85"/>
<rect x="280.4" y="248.3" width="0.9" height="0.9" fill="#1a1a1a" opacity="0.85"/>
<rect x="288.3" y="248.1" width="0.9" height="0.9" fill="#1a1a1a" opacity="0.85"/>
<rect x="278.2" y="244.4" width="0.9" height="0.9" fill="#1a1a1a" opacity="0.85"/>
<rect x="279.6" y="249.2" width="0.9" height="0.9" fill="#1a1a1a" opacity="0.85"/>
<rect x="285.7" y="251.0" width="0.9" height="0.9" fill="#1a1a1a" opacity="0.85"/>
<rect x="288.5" y="248.4" width="0.9" height="0.9" fill="#1a1a1a" opacity="0.85"/>
<rect x="287.2" y="250.5" width="0.9" height="0.9" fill="#1a1a1a" opacity="0.85"/>
<rect x="286.7" y="242.3" width="0.9" height="0.9" fill="#1a1a1a" opacity="0.85"/>
<rect x="288.9" y="243.5" width="0.9" height="0.9" fill="#1a1a1a" opacity="0.85"/>
<rect x="279.5" y="252.4" width="0.9" height="0.9" fill="#1a1a1a" opacity="0.85"/>
<rect x="282.5" y="256.2" width="0.9" height="0.9" fill="#1a1a1a" opacity="0.85"/>
<rect x="284.7" y="245.6" width="0.9" height="0.9" fill="#1a1a1a" opacity="0.85"/>
<rect x="284.7" y="248.0" width="0.9" height="0.9" fill="#1a1a1a" opacity="0.85"/>
<rect x="290.3" y="255.7" width="0.9" height="0.9" fill="#1a1a1a" opacity="0.85"/>
<rect x="287.1" y="248.0" width="0.9" height="0.9" fill="#1a1a1a" opacity="0.85"/>
<rect x="284.5" y="253.5" width="0.9" height="0.9" fill="#1a1a1a" opacity="0.85"/>
<rect x="280.9" y="246.5" width="0.9" height="0.9" fill="#1a1a1a" opacity="0.85"/>
<rect x="287.6" y="252.4" width="0.9" height="0.9" fill="#1a1a1a" opacity="0.85"/>
<rect x="283.2" y="248.5" width="0.9" height="0.9" fill="#1a1a1a" opacity="0.85"/>
<rect x="276.4" y="254.1" width="0.9" height="0.9" fill="#1a1a1a" opacity="0.85"/>
<rect x="283.7" y="244.1" width="0.9" height="0.9" fill="#1a1a1a" opacity="0.85"/>
<rect x="279.7" y="246.2" width="0.9" height="0.9" fill="#1a1a1a" opacity="0.85"/>
<rect x="291.0" y="252.2" width="0.9" height="0.9" fill="#1a1a1a" opacity="0.85"/>
<rect x="278.8" y="256.6" width="0.9" height="0.9" fill="#1a1a1a" opacity="0.85"/>
<rect x="289.5" y="245.6" width="0.9" height="0.9" fill="#1a1a1a" opacity="0.85"/>
<rect x="273.6" y="253.3" width="0.9" height="0.9" fill="#1a1a1a" opacity="0.85"/>
<rect x="281.8" y="249.1" width="0.9" height="0.9" fill="#1a1a1a" opacity="0.85"/>
<rect x="282.1" y="254.4" width="0.9" height="0.9" fill="#1a1a1a" opacity="0.85"/>
<rect x="290.1" y="252.7" width="0.9" height="0.9" fill="#1a1a1a" opacity="0.85"/>
<rect x="283.6" y="250.6" width="0.9" height="0.9" fill="#1a1a1a" opacity="0.85"/>
<rect x="286.7" y="243.6" width="0.9" height="0.9" fill="#1a1a1a" opacity="0.85"/>
<rect x="289.2" y="248.4" width="0.9" height="0.9" fill="#1a1a1a" opacity="0.85"/>
<rect x="285.3" y="250.1" width="0.9" height="0.9" fill="#1a1a1a" opacity="0.85"/>
<rect x="287.8" y="253.7" width="0.9" height="0.9" fill="#1a1a1a" opacity="0.85"/>
<rect x="293.1" y="248.3" width="0.9" height="0.9" fill="#1a1a1a" opacity="0.85"/>
<rect x="280.6" y="250.2" width="0.9" height="0.9" fill="#1a1a1a" opacity="0.85"/>
<rect x="281.6" y="252.9" width="0.9" height="0.9" fill="#1a1a1a" opacity="0.85"/>
<rect x="281.0" y="250.2" width="0.9" height="0.9" fill="#1a1a1a" opacity="0.85"/>
<rect x="288.0" y="253.5" width="0.9" height="0.9" fill="#1a1a1a" opacity="0.85"/>
<rect x="285.1" y="255.0" width="0.9" height="0.9" fill="#1a1a1a" opacity="0.85"/>
<rect x="289.4" y="243.2" width="0.9" height="0.9" fill="#1a1a1a" opacity="0.85"/>
<rect x="285.7" y="250.4" width="0.9" height="0.9" fill="#1a1a1a" opacity="0.85"/>
<rect x="283.1" y="247.3" width="0.9" height="0.9" fill="#1a1a1a" opacity="0.85"/>
<rect x="284.5" y="251.2" width="0.9" height="0.9" fill="#1a1a1a" opacity="0.85"/>
<rect x="285.4" y="254.9" width="0.9" height="0.9" fill="#1a1a1a" opacity="0.85"/>
<rect x="288.3" y="247.5" width="0.9" height="0.9" fill="#1a1a1a" opacity="0.85"/>
<rect x="281.3" y="253.0" width="0.9" height="0.9" fill="#1a1a1a" opacity="0.85"/>
<rect x="281.6" y="250.4" width="0.9" height="0.9" fill="#1a1a1a" opacity="0.85"/>
<rect x="286.3" y="253.7" width="0.9" height="0.9" fill="#1a1a1a" opacity="0.85"/>
<rect x="286.4" y="255.2" width="0.9" height="0.9" fill="#1a1a1a" opacity="0.85"/>
<rect x="282.5" y="252.3" width="0.9" height="0.9" fill="#1a1a1a" opacity="0.85"/>
<rect x="281.7" y="250.5" width="0.9" height="0.9" fill="#1a1a1a" opacity="0.85"/>
<rect x="284.9" y="246.2" width="0.9" height="0.9" fill="#1a1a1a" opacity="0.85"/>
<rect x="273.9" y="253.4" width="0.9" height="0.9" fill="#1a1a1a" opacity="0.85"/>
<rect x="285.8" y="250.3" width="0.9" height="0.9" fill="#1a1a1a" opacity="0.85"/>
<rect x="281.6" y="248.5" width="0.9" height="0.9" fill="#1a1a1a" opacity="0.85"/>
<rect x="286.2" y="249.8" width="0.9" height="0.9" fill="#1a1a1a" opacity="0.85"/>
<rect x="289.0" y="250.2" width="0.9" height="0.9" fill="#1a1a1a" opacity="0.85"/>
<rect x="281.1" y="252.1" width="0.9" height="0.9" fill="#1a1a1a" opacity="0.85"/>
<rect x="281.8" y="250.6" width="0.9" height="0.9" fill="#1a1a1a" opacity="0.85"/>
<rect x="277.1" y="248.4" width="0.9" height="0.9" fill="#1a1a1a" opacity="0.85"/>
<rect x="286.6" y="247.3" width="0.9" height="0.9" fill="#1a1a1a" opacity="0.85"/>
<rect x="284.2" y="252.0" width="0.9" height="0.9" fill="#1a1a1a" opacity="0.85"/>
<rect x="284.6" y="256.5" width="0.9" height="0.9" fill="#1a1a1a" opacity="0.85"/>
<rect x="283.3" y="249.0" width="0.9" height="0.9" fill="#1a1a1a" opacity="0.85"/>
<rect x="282.7" y="243.5" width="0.9" height="0.9" fill="#000" opacity="0.9"/>
<rect x="279.5" y="249.3" width="0.9" height="0.9" fill="#000" opacity="0.9"/>
<rect x="282.3" y="251.3" width="0.9" height="0.9" fill="#000" opacity="0.9"/>
<rect x="282.9" y="247.7" width="0.9" height="0.9" fill="#000" opacity="0.9"/>
<rect x="285.4" y="248.7" width="0.9" height="0.9" fill="#000" opacity="0.9"/>
<rect x="286.8" y="245.6" width="0.9" height="0.9" fill="#000" opacity="0.9"/>
<rect x="284.1" y="249.6" width="0.9" height="0.9" fill="#000" opacity="0.9"/>
<rect x="284.3" y="250.7" width="0.9" height="0.9" fill="#000" opacity="0.9"/>
<rect x="285.4" y="248.2" width="0.9" height="0.9" fill="#000" opacity="0.9"/>
<rect x="281.8" y="250.3" width="0.9" height="0.9" fill="#000" opacity="0.9"/>
<rect x="283.2" y="250.3" width="0.9" height="0.9" fill="#000" opacity="0.9"/>
<rect x="286.2" y="248.6" width="0.9" height="0.9" fill="#000" opacity="0.9"/>
<rect x="281.1" y="247.6" width="0.9" height="0.9" fill="#000" opacity="0.9"/>
<rect x="285.0" y="247.6" width="0.9" height="0.9" fill="#000" opacity="0.9"/>
<rect x="285.9" y="248.3" width="0.9" height="0.9" fill="#000" opacity="0.9"/>
<rect x="283.5" y="246.8" width="0.9" height="0.9" fill="#000" opacity="0.9"/>
<rect x="283.0" y="250.7" width="0.9" height="0.9" fill="#000" opacity="0.9"/>
<rect x="282.4" y="247.4" width="0.9" height="0.9" fill="#000" opacity="0.9"/>
<rect x="281.4" y="250.0" width="0.9" height="0.9" fill="#000" opacity="0.9"/>
<rect x="279.7" y="246.7" width="0.9" height="0.9" fill="#000" opacity="0.9"/>
<rect x="285.3" y="251.4" width="0.9" height="0.9" fill="#000" opacity="0.9"/>
<rect x="282.7" y="250.4" width="0.9" height="0.9" fill="#000" opacity="0.9"/>
<rect x="278.6" y="249.9" width="0.9" height="0.9" fill="#000" opacity="0.9"/>
<rect x="283.8" y="245.3" width="0.9" height="0.9" fill="#000" opacity="0.9"/>
<rect x="279.1" y="247.0" width="0.9" height="0.9" fill="#000" opacity="0.9"/>
<rect x="283.7" y="249.0" width="0.9" height="0.9" fill="#000" opacity="0.9"/>
<rect x="283.4" y="249.9" width="0.9" height="0.9" fill="#000" opacity="0.9"/>
<rect x="284.7" y="245.0" width="0.9" height="0.9" fill="#000" opacity="0.9"/>
<rect x="282.3" y="247.0" width="0.9" height="0.9" fill="#000" opacity="0.9"/>
<rect x="285.5" y="247.0" width="0.9" height="0.9" fill="#000" opacity="0.9"/>
<rect x="285.4" y="248.3" width="0.9" height="0.9" fill="#000" opacity="0.9"/>
<rect x="288.5" y="248.0" width="0.9" height="0.9" fill="#000" opacity="0.9"/>
<rect x="283.1" y="247.9" width="0.9" height="0.9" fill="#000" opacity="0.9"/>
<rect x="283.5" y="253.7" width="0.9" height="0.9" fill="#000" opacity="0.9"/>
<rect x="282.0" y="246.1" width="0.9" height="0.9" fill="#000" opacity="0.9"/>
<rect x="282.7" y="249.7" width="0.9" height="0.9" fill="#000" opacity="0.9"/>
<rect x="280.8" y="249.9" width="0.9" height="0.9" fill="#000" opacity="0.9"/>
<rect x="284.9" y="247.7" width="0.9" height="0.9" fill="#000" opacity="0.9"/>
<rect x="282.5" y="246.3" width="0.9" height="0.9" fill="#000" opacity="0.9"/>
<rect x="282.5" y="246.3" width="0.9" height="0.9" fill="#000" opacity="0.9"/>
<rect x="286.0" y="251.8" width="0.9" height="0.9" fill="#000" opacity="0.9"/>
<rect x="282.4" y="248.0" width="0.9" height="0.9" fill="#000" opacity="0.9"/>
<rect x="278.7" y="246.9" width="0.9" height="0.9" fill="#000" opacity="0.9"/>
<rect x="283.9" y="248.7" width="0.9" height="0.9" fill="#000" opacity="0.9"/>
<rect x="283.4" y="250.0" width="0.9" height="0.9" fill="#000" opacity="0.9"/>
<rect x="283.3" y="247.2" width="0.9" height="0.9" fill="#000" opacity="0.9"/>
<rect x="286.8" y="243.7" width="0.9" height="0.9" fill="#000" opacity="0.9"/>
<rect x="280.4" y="246.4" width="0.9" height="0.9" fill="#000" opacity="0.9"/>
<rect x="281.4" y="246.3" width="0.9" height="0.9" fill="#000" opacity="0.9"/>
<rect x="282.5" y="246.4" width="0.9" height="0.9" fill="#000" opacity="0.9"/>
<rect x="282.9" y="249.4" width="0.9" height="0.9" fill="#000" opacity="0.9"/>
<rect x="283.1" y="248.3" width="0.9" height="0.9" fill="#000" opacity="0.9"/>
<rect x="280.9" y="245.4" width="0.9" height="0.9" fill="#000" opacity="0.9"/>
<rect x="282.4" y="250.2" width="0.9" height="0.9" fill="#000" opacity="0.9"/>
<rect x="283.9" y="250.5" width="0.9" height="0.9" fill="#000" opacity="0.9"/>
<rect x="285.3" y="250.6" width="0.9" height="0.9" fill="#000" opacity="0.9"/>
<rect x="281.2" y="250.9" width="0.9" height="0.9" fill="#000" opacity="0.9"/>
<rect x="284.8" y="252.8" width="0.9" height="0.9" fill="#000" opacity="0.9"/>
<rect x="284.4" y="248.8" width="0.9" height="0.9" fill="#000" opacity="0.9"/>
<rect x="282.7" y="248.4" width="0.9" height="0.9" fill="#000" opacity="0.9"/>
<rect x="279.2" y="247.5" width="0.9" height="0.9" fill="#000" opacity="0.9"/>
<rect x="282.9" y="250.3" width="0.9" height="0.9" fill="#000" opacity="0.9"/>
<rect x="281.5" y="248.3" width="0.9" height="0.9" fill="#000" opacity="0.9"/>
<rect x="287.2" y="246.8" width="0.9" height="0.9" fill="#000" opacity="0.9"/>
<rect x="285.0" y="246.8" width="0.9" height="0.9" fill="#000" opacity="0.9"/>
<rect x="282.8" y="249.1" width="0.9" height="0.9" fill="#000" opacity="0.9"/>
<rect x="285.0" y="246.9" width="0.9" height="0.9" fill="#000" opacity="0.9"/>
<rect x="280.7" y="251.5" width="0.9" height="0.9" fill="#000" opacity="0.9"/>
<rect x="283.5" y="249.8" width="0.9" height="0.9" fill="#000" opacity="0.9"/>
<rect x="285.1" y="249.8" width="0.9" height="0.9" fill="#000" opacity="0.9"/>
<rect x="282.4" y="247.7" width="0.9" height="0.9" fill="#000" opacity="0.9"/>
<rect x="279.5" y="248.4" width="0.9" height="0.9" fill="#000" opacity="0.9"/>
<rect x="282.0" y="248.0" width="0.9" height="0.9" fill="#000" opacity="0.9"/>
<rect x="287.3" y="249.6" width="0.9" height="0.9" fill="#000" opacity="0.9"/>
<rect x="283.2" y="244.9" width="0.9" height="0.9" fill="#000" opacity="0.9"/>
<rect x="284.7" y="251.5" width="0.9" height="0.9" fill="#000" opacity="0.9"/>
<rect x="281.2" y="249.0" width="0.9" height="0.9" fill="#000" opacity="0.9"/>
<rect x="281.9" y="247.7" width="0.9" height="0.9" fill="#000" opacity="0.9"/>
<rect x="282.2" y="244.4" width="0.9" height="0.9" fill="#000" opacity="0.9"/>
<rect x="281.9" y="244.4" width="0.9" height="0.9" fill="#000" opacity="0.9"/>
<rect x="286.2" y="250.4" width="0.9" height="0.9" fill="#000" opacity="0.9"/>
<rect x="283.1" y="248.7" width="0.9" height="0.9" fill="#000" opacity="0.9"/>
<rect x="283.2" y="248.5" width="0.9" height="0.9" fill="#000" opacity="0.9"/>
<rect x="283.5" y="247.5" width="0.9" height="0.9" fill="#000" opacity="0.9"/>
<rect x="282.7" y="245.0" width="0.9" height="0.9" fill="#000" opacity="0.9"/>
<rect x="280.8" y="246.7" width="0.9" height="0.9" fill="#000" opacity="0.9"/>
<rect x="283.5" y="247.2" width="0.9" height="0.9" fill="#000" opacity="0.9"/>
<rect x="287.3" y="247.6" width="0.9" height="0.9" fill="#000" opacity="0.9"/>
<rect x="282.2" y="249.0" width="0.9" height="0.9" fill="#000" opacity="0.9"/>
<rect x="285.4" y="252.2" width="0.9" height="0.9" fill="#000" opacity="0.9"/>
<rect x="285.2" y="246.7" width="0.9" height="0.9" fill="#000" opacity="0.9"/>
<rect x="282.7" y="250.4" width="0.9" height="0.9" fill="#000" opacity="0.9"/>
<rect x="283.6" y="249.8" width="0.9" height="0.9" fill="#000" opacity="0.9"/>
<rect x="282.9" y="251.7" width="0.9" height="0.9" fill="#000" opacity="0.9"/>
<rect x="286.3" y="250.6" width="0.9" height="0.9" fill="#000" opacity="0.9"/>
<rect x="283.4" y="244.4" width="0.9" height="0.9" fill="#000" opacity="0.9"/>
<rect x="280.0" y="248.8" width="0.9" height="0.9" fill="#000" opacity="0.9"/>
<rect x="284.5" y="241.5" width="0.9" height="0.9" fill="#000" opacity="0.9"/>
<rect x="282.0" y="250.7" width="0.9" height="0.9" fill="#000" opacity="0.9"/>
<rect x="285.2" y="246.9" width="0.9" height="0.9" fill="#000" opacity="0.9"/>
<rect x="284.5" y="248.1" width="0.9" height="0.9" fill="#000" opacity="0.9"/>
<rect x="282.6" y="250.6" width="0.9" height="0.9" fill="#000" opacity="0.9"/>
<rect x="285.6" y="246.9" width="0.9" height="0.9" fill="#000" opacity="0.9"/>
<rect x="280.9" y="245.1" width="0.9" height="0.9" fill="#000" opacity="0.9"/>
<rect x="279.9" y="251.1" width="0.9" height="0.9" fill="#000" opacity="0.9"/>
<rect x="287.3" y="248.6" width="0.9" height="0.9" fill="#000" opacity="0.9"/>
<rect x="285.4" y="246.5" width="0.9" height="0.9" fill="#000" opacity="0.9"/>
<rect x="282.9" y="250.1" width="0.9" height="0.9" fill="#000" opacity="0.9"/>
<rect x="283.8" y="248.0" width="0.9" height="0.9" fill="#000" opacity="0.9"/>
<rect x="279.4" y="244.8" width="0.9" height="0.9" fill="#000" opacity="0.9"/>
<rect x="282.2" y="246.8" width="0.9" height="0.9" fill="#000" opacity="0.9"/>
<rect x="282.9" y="246.7" width="0.9" height="0.9" fill="#000" opacity="0.9"/>
<rect x="282.6" y="248.2" width="0.9" height="0.9" fill="#000" opacity="0.9"/>
<rect x="284.2" y="248.2" width="0.9" height="0.9" fill="#000" opacity="0.9"/>
<rect x="281.9" y="247.5" width="0.9" height="0.9" fill="#000" opacity="0.9"/>
<rect x="285.1" y="247.6" width="0.9" height="0.9" fill="#000" opacity="0.9"/>
<rect x="280.9" y="245.8" width="0.9" height="0.9" fill="#000" opacity="0.9"/>
<rect x="283.7" y="249.3" width="0.9" height="0.9" fill="#000" opacity="0.9"/>
<rect x="285.8" y="247.4" width="0.9" height="0.9" fill="#000" opacity="0.9"/>
<rect x="286.2" y="247.3" width="0.9" height="0.9" fill="#000" opacity="0.9"/>
<rect x="319.7" y="218.2" width="0.8" height="0.8" fill="#999" opacity="1.0"/>
<rect x="328.5" y="223.7" width="0.8" height="0.8" fill="#999" opacity="1.0"/>
<rect x="322.1" y="218.4" width="0.8" height="0.8" fill="#999" opacity="1.0"/>
<rect x="304.3" y="220.6" width="0.8" height="0.8" fill="#999" opacity="1.0"/>
<rect x="318.3" y="219.4" width="0.8" height="0.8" fill="#999" opacity="1.0"/>
<rect x="314.9" y="217.1" width="0.8" height="0.8" fill="#999" opacity="1.0"/>
<rect x="317.3" y="221.6" width="0.8" height="0.8" fill="#999" opacity="1.0"/>
<rect x="333.5" y="220.0" width="0.8" height="0.8" fill="#999" opacity="1.0"/>
<rect x="326.0" y="219.4" width="0.8" height="0.8" fill="#999" opacity="1.0"/>
<rect x="320.8" y="215.4" width="0.8" height="0.8" fill="#999" opacity="1.0"/>
<rect x="332.5" y="222.1" width="0.8" height="0.8" fill="#999" opacity="1.0"/>
<rect x="339.2" y="218.0" width="0.8" height="0.8" fill="#999" opacity="1.0"/>
<rect x="323.7" y="216.9" width="0.8" height="0.8" fill="#999" opacity="1.0"/>
<rect x="325.0" y="219.7" width="0.8" height="0.8" fill="#999" opacity="1.0"/>
<rect x="330.1" y="219.6" width="0.8" height="0.8" fill="#999" opacity="1.0"/>
<rect x="329.7" y="218.4" width="0.8" height="0.8" fill="#999" opacity="1.0"/>
<rect x="329.2" y="219.0" width="0.8" height="0.8" fill="#999" opacity="1.0"/>
<rect x="317.2" y="220.4" width="0.8" height="0.8" fill="#999" opacity="1.0"/>
<rect x="326.5" y="215.3" width="0.8" height="0.8" fill="#999" opacity="1.0"/>
<rect x="304.6" y="220.7" width="0.8" height="0.8" fill="#999" opacity="1.0"/>
<rect x="321.6" y="213.2" width="0.8" height="0.8" fill="#999" opacity="1.0"/>
<rect x="302.5" y="217.5" width="0.8" height="0.8" fill="#999" opacity="1.0"/>
<rect x="326.0" y="220.8" width="0.8" height="0.8" fill="#999" opacity="1.0"/>
<rect x="334.0" y="224.1" width="0.8" height="0.8" fill="#999" opacity="1.0"/>
<rect x="349.8" y="215.2" width="0.8" height="0.8" fill="#999" opacity="1.0"/>
<rect x="321.8" y="223.7" width="0.8" height="0.8" fill="#999" opacity="1.0"/>
<rect x="307.7" y="215.3" width="0.8" height="0.8" fill="#999" opacity="1.0"/>
<rect x="324.6" y="223.8" width="0.8" height="0.8" fill="#999" opacity="1.0"/>
<rect x="336.9" y="214.1" width="0.8" height="0.8" fill="#999" opacity="1.0"/>
<rect x="308.2" y="219.8" width="0.8" height="0.8" fill="#999" opacity="1.0"/>
<rect x="316.2" y="221.2" width="0.8" height="0.8" fill="#999" opacity="1.0"/>
<rect x="323.9" y="226.1" width="0.8" height="0.8" fill="#999" opacity="1.0"/>
<rect x="321.6" y="220.7" width="0.8" height="0.8" fill="#999" opacity="1.0"/>
<rect x="323.2" y="223.9" width="0.8" height="0.8" fill="#999" opacity="1.0"/>
<rect x="309.4" y="221.4" width="0.8" height="0.8" fill="#999" opacity="1.0"/>
<rect x="313.4" y="215.3" width="0.8" height="0.8" fill="#999" opacity="1.0"/>
<rect x="336.1" y="221.9" width="0.8" height="0.8" fill="#999" opacity="1.0"/>
<rect x="338.7" y="221.0" width="0.8" height="0.8" fill="#999" opacity="1.0"/>
<rect x="330.0" y="220.6" width="0.8" height="0.8" fill="#999" opacity="1.0"/>
<rect x="329.1" y="218.7" width="0.8" height="0.8" fill="#999" opacity="1.0"/>
<rect x="317.9" y="237.2" width="0.8" height="0.8" fill="#999" opacity="1.0"/>
<rect x="317.9" y="238.7" width="0.8" height="0.8" fill="#999" opacity="1.0"/>
<rect x="312.2" y="239.4" width="0.8" height="0.8" fill="#999" opacity="1.0"/>
<rect x="309.4" y="242.3" width="0.8" height="0.8" fill="#999" opacity="1.0"/>
<rect x="307.3" y="237.1" width="0.8" height="0.8" fill="#999" opacity="1.0"/>
<rect x="308.0" y="240.5" width="0.8" height="0.8" fill="#999" opacity="1.0"/>
<rect x="289.6" y="241.2" width="0.8" height="0.8" fill="#999" opacity="1.0"/>
<rect x="313.8" y="235.3" width="0.8" height="0.8" fill="#999" opacity="1.0"/>
<rect x="305.3" y="240.9" width="0.8" height="0.8" fill="#999" opacity="1.0"/>
<rect x="298.4" y="238.2" width="0.8" height="0.8" fill="#999" opacity="1.0"/>
<rect x="304.0" y="240.3" width="0.8" height="0.8" fill="#999" opacity="1.0"/>
<rect x="314.0" y="239.1" width="0.8" height="0.8" fill="#999" opacity="1.0"/>
<rect x="306.8" y="241.1" width="0.8" height="0.8" fill="#999" opacity="1.0"/>
<rect x="310.1" y="238.9" width="0.8" height="0.8" fill="#999" opacity="1.0"/>
<rect x="315.5" y="236.1" width="0.8" height="0.8" fill="#999" opacity="1.0"/>
<rect x="307.4" y="238.2" width="0.8" height="0.8" fill="#999" opacity="1.0"/>
<rect x="302.9" y="239.5" width="0.8" height="0.8" fill="#999" opacity="1.0"/>
<rect x="306.6" y="244.4" width="0.8" height="0.8" fill="#999" opacity="1.0"/>
<rect x="310.8" y="239.9" width="0.8" height="0.8" fill="#999" opacity="1.0"/>
<rect x="317.7" y="241.3" width="0.8" height="0.8" fill="#999" opacity="1.0"/>
<rect x="293.5" y="239.4" width="0.8" height="0.8" fill="#999" opacity="1.0"/>
<rect x="311.5" y="237.8" width="0.8" height="0.8" fill="#999" opacity="1.0"/>
<rect x="308.4" y="238.1" width="0.8" height="0.8" fill="#999" opacity="1.0"/>
<rect x="308.9" y="235.6" width="0.8" height="0.8" fill="#999" opacity="1.0"/>
<rect x="292.9" y="237.9" width="0.8" height="0.8" fill="#999" opacity="1.0"/>
<rect x="288.7" y="236.8" width="0.8" height="0.8" fill="#aaa" opacity="1.0"/>
<rect x="287.4" y="226.5" width="0.8" height="0.8" fill="#aaa" opacity="1.0"/>
<rect x="290.4" y="230.4" width="0.8" height="0.8" fill="#aaa" opacity="1.0"/>
<rect x="292.5" y="229.7" width="0.8" height="0.8" fill="#aaa" opacity="1.0"/>
<rect x="283.3" y="226.2" width="0.8" height="0.8" fill="#aaa" opacity="1.0"/>
<rect x="285.7" y="223.3" width="0.8" height="0.8" fill="#aaa" opacity="1.0"/>
<rect x="286.2" y="226.8" width="0.8" height="0.8" fill="#aaa" opacity="1.0"/>
<rect x="287.4" y="227.4" width="0.8" height="0.8" fill="#aaa" opacity="1.0"/>
<rect x="355.3" y="220.9" width="0.8" height="0.8" fill="#aaa" opacity="1.0"/>
<rect x="354.6" y="220.4" width="0.8" height="0.8" fill="#aaa" opacity="1.0"/>
<rect x="348.5" y="216.8" width="0.8" height="0.8" fill="#aaa" opacity="1.0"/>
<rect x="351.5" y="220.6" width="0.8" height="0.8" fill="#aaa" opacity="1.0"/>
<rect x="349.7" y="219.2" width="0.8" height="0.8" fill="#aaa" opacity="1.0"/>
<rect x="354.8" y="224.0" width="0.8" height="0.8" fill="#aaa" opacity="1.0"/>
<ellipse cx="286.20" cy="216.55" rx="13.0" ry="21.7" fill="none" stroke="#cc1f38" stroke-width="1.6"/>
<ellipse cx="324.00" cy="221.05" rx="23.6" ry="10.8" fill="none" stroke="#25963f" stroke-width="1.6"/>
<ellipse cx="316.00" cy="240.55" rx="20.6" ry="7.9" fill="none" stroke="#8e1a5c" stroke-width="1.6" transform="rotate(-5 316.00 240.55)"/>
<ellipse cx="286.10" cy="251.05" rx="12.0" ry="10.8" fill="none" stroke="#1c1c55" stroke-width="1.6"/>
<path d="M257.00,166.00 H368.00 V276.70" fill="none" stroke="#333" stroke-width="1.1"/>
<path d="M257.00,166.00 V276.70 H368.00" fill="none" stroke="#000" stroke-width="1.45"/>
<line x1="255.40" y1="268.37" x2="257.00" y2="268.37" stroke="#1a1a1a" stroke-width="0.7"/>
<line x1="255.40" y1="263.50" x2="257.00" y2="263.50" stroke="#1a1a1a" stroke-width="0.7"/>
<line x1="255.40" y1="260.04" x2="257.00" y2="260.04" stroke="#1a1a1a" stroke-width="0.7"/>
<line x1="255.40" y1="257.36" x2="257.00" y2="257.36" stroke="#1a1a1a" stroke-width="0.7"/>
<line x1="255.40" y1="255.16" x2="257.00" y2="255.16" stroke="#1a1a1a" stroke-width="0.7"/>
<line x1="255.40" y1="253.31" x2="257.00" y2="253.31" stroke="#1a1a1a" stroke-width="0.7"/>
<line x1="255.40" y1="251.71" x2="257.00" y2="251.71" stroke="#1a1a1a" stroke-width="0.7"/>
<line x1="255.40" y1="250.29" x2="257.00" y2="250.29" stroke="#1a1a1a" stroke-width="0.7"/>
<line x1="255.40" y1="240.69" x2="257.00" y2="240.69" stroke="#1a1a1a" stroke-width="0.7"/>
<line x1="255.40" y1="235.82" x2="257.00" y2="235.82" stroke="#1a1a1a" stroke-width="0.7"/>
<line x1="255.40" y1="232.36" x2="257.00" y2="232.36" stroke="#1a1a1a" stroke-width="0.7"/>
<line x1="255.40" y1="229.68" x2="257.00" y2="229.68" stroke="#1a1a1a" stroke-width="0.7"/>
<line x1="255.40" y1="227.49" x2="257.00" y2="227.49" stroke="#1a1a1a" stroke-width="0.7"/>
<line x1="255.40" y1="225.64" x2="257.00" y2="225.64" stroke="#1a1a1a" stroke-width="0.7"/>
<line x1="255.40" y1="224.03" x2="257.00" y2="224.03" stroke="#1a1a1a" stroke-width="0.7"/>
<line x1="255.40" y1="222.62" x2="257.00" y2="222.62" stroke="#1a1a1a" stroke-width="0.7"/>
<line x1="255.40" y1="213.02" x2="257.00" y2="213.02" stroke="#1a1a1a" stroke-width="0.7"/>
<line x1="255.40" y1="208.15" x2="257.00" y2="208.15" stroke="#1a1a1a" stroke-width="0.7"/>
<line x1="255.40" y1="204.69" x2="257.00" y2="204.69" stroke="#1a1a1a" stroke-width="0.7"/>
<line x1="255.40" y1="202.01" x2="257.00" y2="202.01" stroke="#1a1a1a" stroke-width="0.7"/>
<line x1="255.40" y1="199.81" x2="257.00" y2="199.81" stroke="#1a1a1a" stroke-width="0.7"/>
<line x1="255.40" y1="197.96" x2="257.00" y2="197.96" stroke="#1a1a1a" stroke-width="0.7"/>
<line x1="255.40" y1="196.36" x2="257.00" y2="196.36" stroke="#1a1a1a" stroke-width="0.7"/>
<line x1="255.40" y1="194.94" x2="257.00" y2="194.94" stroke="#1a1a1a" stroke-width="0.7"/>
<line x1="255.40" y1="185.34" x2="257.00" y2="185.34" stroke="#1a1a1a" stroke-width="0.7"/>
<line x1="255.40" y1="180.47" x2="257.00" y2="180.47" stroke="#1a1a1a" stroke-width="0.7"/>
<line x1="255.40" y1="177.01" x2="257.00" y2="177.01" stroke="#1a1a1a" stroke-width="0.7"/>
<line x1="255.40" y1="174.33" x2="257.00" y2="174.33" stroke="#1a1a1a" stroke-width="0.7"/>
<line x1="255.40" y1="172.14" x2="257.00" y2="172.14" stroke="#1a1a1a" stroke-width="0.7"/>
<line x1="255.40" y1="170.29" x2="257.00" y2="170.29" stroke="#1a1a1a" stroke-width="0.7"/>
<line x1="255.40" y1="168.68" x2="257.00" y2="168.68" stroke="#1a1a1a" stroke-width="0.7"/>
<line x1="255.40" y1="167.27" x2="257.00" y2="167.27" stroke="#1a1a1a" stroke-width="0.7"/>
<line x1="254.00" y1="276.70" x2="257.00" y2="276.70" stroke="#1a1a1a" stroke-width="0.9"/>
<text x="250.40" y="279.70" font-size="8.2" fill="#111" class="tk" text-anchor="end">10</text>
<text x="250.60" y="276.10" font-size="6.4" fill="#111" class="tk">0</text>
<line x1="254.00" y1="249.02" x2="257.00" y2="249.02" stroke="#1a1a1a" stroke-width="0.9"/>
<text x="250.40" y="252.02" font-size="8.2" fill="#111" class="tk" text-anchor="end">10</text>
<text x="250.60" y="248.42" font-size="6.4" fill="#111" class="tk">1</text>
<line x1="254.00" y1="221.35" x2="257.00" y2="221.35" stroke="#1a1a1a" stroke-width="0.9"/>
<text x="250.40" y="224.35" font-size="8.2" fill="#111" class="tk" text-anchor="end">10</text>
<text x="250.60" y="220.75" font-size="6.4" fill="#111" class="tk">2</text>
<line x1="254.00" y1="193.67" x2="257.00" y2="193.67" stroke="#1a1a1a" stroke-width="0.9"/>
<text x="250.40" y="196.67" font-size="8.2" fill="#111" class="tk" text-anchor="end">10</text>
<text x="250.60" y="193.07" font-size="6.4" fill="#111" class="tk">3</text>
<line x1="254.00" y1="166.00" x2="257.00" y2="166.00" stroke="#1a1a1a" stroke-width="0.9"/>
<text x="250.40" y="169.00" font-size="8.2" fill="#111" class="tk" text-anchor="end">10</text>
<text x="250.60" y="165.40" font-size="6.4" fill="#111" class="tk">4</text>
<line x1="257.00" y1="276.70" x2="257.00" y2="279.70" stroke="#1a1a1a" stroke-width="1.0"/>
<line x1="262.43" y1="276.70" x2="262.43" y2="278.40" stroke="#1a1a1a" stroke-width="0.8"/>
<line x1="267.85" y1="276.70" x2="267.85" y2="278.40" stroke="#1a1a1a" stroke-width="0.8"/>
<line x1="273.28" y1="276.70" x2="273.28" y2="278.40" stroke="#1a1a1a" stroke-width="0.8"/>
<line x1="278.70" y1="276.70" x2="278.70" y2="279.70" stroke="#1a1a1a" stroke-width="1.0"/>
<line x1="284.13" y1="276.70" x2="284.13" y2="278.40" stroke="#1a1a1a" stroke-width="0.8"/>
<line x1="289.55" y1="276.70" x2="289.55" y2="278.40" stroke="#1a1a1a" stroke-width="0.8"/>
<line x1="294.98" y1="276.70" x2="294.98" y2="278.40" stroke="#1a1a1a" stroke-width="0.8"/>
<line x1="300.40" y1="276.70" x2="300.40" y2="279.70" stroke="#1a1a1a" stroke-width="1.0"/>
<line x1="305.83" y1="276.70" x2="305.83" y2="278.40" stroke="#1a1a1a" stroke-width="0.8"/>
<line x1="311.25" y1="276.70" x2="311.25" y2="278.40" stroke="#1a1a1a" stroke-width="0.8"/>
<line x1="316.68" y1="276.70" x2="316.68" y2="278.40" stroke="#1a1a1a" stroke-width="0.8"/>
<line x1="322.10" y1="276.70" x2="322.10" y2="279.70" stroke="#1a1a1a" stroke-width="1.0"/>
<line x1="327.53" y1="276.70" x2="327.53" y2="278.40" stroke="#1a1a1a" stroke-width="0.8"/>
<line x1="332.95" y1="276.70" x2="332.95" y2="278.40" stroke="#1a1a1a" stroke-width="0.8"/>
<line x1="338.38" y1="276.70" x2="338.38" y2="278.40" stroke="#1a1a1a" stroke-width="0.8"/>
<line x1="343.80" y1="276.70" x2="343.80" y2="279.70" stroke="#1a1a1a" stroke-width="1.0"/>
<line x1="349.23" y1="276.70" x2="349.23" y2="278.40" stroke="#1a1a1a" stroke-width="0.8"/>
<line x1="354.65" y1="276.70" x2="354.65" y2="278.40" stroke="#1a1a1a" stroke-width="0.8"/>
<line x1="360.08" y1="276.70" x2="360.08" y2="278.40" stroke="#1a1a1a" stroke-width="0.8"/>
<line x1="365.50" y1="276.70" x2="365.50" y2="279.70" stroke="#1a1a1a" stroke-width="1.0"/>
<text x="257.00" y="287.20" font-size="8.2" fill="#111" class="tk" text-anchor="middle">0</text>
<text x="278.70" y="287.20" font-size="8.2" fill="#111" class="tk" text-anchor="middle">200</text>
<text x="300.40" y="287.20" font-size="8.2" fill="#111" class="tk" text-anchor="middle">400</text>
<text x="322.10" y="287.20" font-size="8.2" fill="#111" class="tk" text-anchor="middle">600</text>
<text x="343.80" y="287.20" font-size="8.2" fill="#111" class="tk" text-anchor="middle">800</text>
<text x="365.50" y="287.20" font-size="8.2" fill="#111" class="tk" text-anchor="middle">1000</text>
<text x="310.50" y="299.00" font-size="8.7" fill="#111" stroke="#111" stroke-width="0.3" text-anchor="middle">FSC-H</text>
<text transform="translate(234.70,222.30) rotate(-90)" font-size="8.6" fill="#111" class="tk" text-anchor="middle">SSC-H</text>
<text x="289.20" y="192.50" font-size="10.2" fill="#bd2c46" stroke="#bd2c46" stroke-width="0.2" text-anchor="start">3.2 +/- 0.5</text>
<text x="311.90" y="206.60" font-size="10.2" fill="#3a8c45" stroke="#3a8c45" stroke-width="0.2" text-anchor="start">2.1 +/- 0.9</text>
<text x="310.10" y="259.80" font-size="10.2" fill="#7c2c58" stroke="#7c2c58" stroke-width="0.2" text-anchor="start">6.9 +/- 0.9</text>
<text x="262.00" y="273.30" font-size="10.2" fill="#2c2c5a" stroke="#2c2c5a" stroke-width="0.2" text-anchor="start">82.1 +/- 2.3</text>
<path d="M402.60,133.40 L403.5,79.0 404.5,76.0 405.0,70.0 406.0,60.0 407.0,50.0 407.5,42.0 408.5,31.0 410.5,37.0 411.5,33.0 413.0,31.0 414.0,29.2 415.0,34.0 416.0,42.0 417.0,46.0 418.5,47.0 420.0,49.0 421.0,55.0 421.5,62.0 422.5,75.0 423.0,80.0 424.5,92.0 425.5,100.0 426.5,108.0 427.0,110.0 428.0,115.0 430.0,120.0 431.5,124.0 432.0,125.0 434.0,125.0 436.0,125.5 437.0,127.5 440.0,126.0 442.0,125.5 444.0,125.5 446.0,126.0 448.5,124.5 450.5,123.0 452.5,122.3 454.5,123.0 456.5,124.8 459.0,127.5 462.0,130.0 465.0,132.2 467.5,133.1 478.0,132.5 492.0,133.0 512.0,133.3 L513.40,133.40 Z" fill="#b3b3b3" stroke="none"/>
<path d="M403.5,79.0 404.5,76.0 405.0,70.0 406.0,60.0 407.0,50.0 407.5,42.0 408.5,31.0 410.5,37.0 411.5,33.0 413.0,31.0 414.0,29.2 415.0,34.0 416.0,42.0 417.0,46.0 418.5,47.0 420.0,49.0 421.0,55.0 421.5,62.0 422.5,75.0 423.0,80.0 424.5,92.0 425.5,100.0 426.5,108.0 427.0,110.0 428.0,115.0 430.0,120.0 431.5,124.0 432.0,125.0 434.0,125.0 436.0,125.5 437.0,127.5 440.0,126.0 442.0,125.5 444.0,125.5 446.0,126.0 448.5,124.5 450.5,123.0 452.5,122.3 454.5,123.0 456.5,124.8 459.0,127.5 462.0,130.0 465.0,132.2 467.5,133.1 478.0,132.5 492.0,133.0 512.0,133.3" fill="none" stroke="#1e1e1e" stroke-width="1.3" stroke-linejoin="round"/>
<path d="M402.60,24.00 H513.40 V133.40" fill="none" stroke="#333" stroke-width="1.1"/>
<path d="M402.60,24.00 V133.40 H513.40" fill="none" stroke="#000" stroke-width="1.45"/>
<line x1="399.60" y1="133.40" x2="402.60" y2="133.40" stroke="#1a1a1a" stroke-width="0.9"/>
<text x="397.40" y="136.40" font-size="8.3" fill="#111" class="tk" text-anchor="end">0</text>
<line x1="401.00" y1="126.30" x2="402.60" y2="126.30" stroke="#1a1a1a" stroke-width="0.9"/>
<line x1="401.00" y1="119.20" x2="402.60" y2="119.20" stroke="#1a1a1a" stroke-width="0.9"/>
<line x1="401.00" y1="112.10" x2="402.60" y2="112.10" stroke="#1a1a1a" stroke-width="0.9"/>
<line x1="399.60" y1="105.00" x2="402.60" y2="105.00" stroke="#1a1a1a" stroke-width="0.9"/>
<text x="397.40" y="108.00" font-size="8.3" fill="#111" class="tk" text-anchor="end">20</text>
<line x1="401.00" y1="97.90" x2="402.60" y2="97.90" stroke="#1a1a1a" stroke-width="0.9"/>
<line x1="401.00" y1="90.80" x2="402.60" y2="90.80" stroke="#1a1a1a" stroke-width="0.9"/>
<line x1="401.00" y1="83.70" x2="402.60" y2="83.70" stroke="#1a1a1a" stroke-width="0.9"/>
<line x1="399.60" y1="76.60" x2="402.60" y2="76.60" stroke="#1a1a1a" stroke-width="0.9"/>
<text x="397.40" y="79.60" font-size="8.3" fill="#111" class="tk" text-anchor="end">40</text>
<line x1="401.00" y1="69.50" x2="402.60" y2="69.50" stroke="#1a1a1a" stroke-width="0.9"/>
<line x1="401.00" y1="62.40" x2="402.60" y2="62.40" stroke="#1a1a1a" stroke-width="0.9"/>
<line x1="401.00" y1="55.30" x2="402.60" y2="55.30" stroke="#1a1a1a" stroke-width="0.9"/>
<line x1="399.60" y1="48.20" x2="402.60" y2="48.20" stroke="#1a1a1a" stroke-width="0.9"/>
<text x="397.40" y="51.20" font-size="8.3" fill="#111" class="tk" text-anchor="end">60</text>
<line x1="401.00" y1="41.10" x2="402.60" y2="41.10" stroke="#1a1a1a" stroke-width="0.9"/>
<line x1="401.00" y1="34.00" x2="402.60" y2="34.00" stroke="#1a1a1a" stroke-width="0.9"/>
<line x1="401.00" y1="26.90" x2="402.60" y2="26.90" stroke="#1a1a1a" stroke-width="0.9"/>
<line x1="403.20" y1="133.40" x2="403.20" y2="136.00" stroke="#1a1a1a" stroke-width="0.8"/>
<line x1="411.39" y1="133.40" x2="411.39" y2="134.90" stroke="#1a1a1a" stroke-width="0.8"/>
<line x1="416.18" y1="133.40" x2="416.18" y2="134.90" stroke="#1a1a1a" stroke-width="0.8"/>
<line x1="419.58" y1="133.40" x2="419.58" y2="134.90" stroke="#1a1a1a" stroke-width="0.8"/>
<line x1="422.21" y1="133.40" x2="422.21" y2="134.90" stroke="#1a1a1a" stroke-width="0.8"/>
<line x1="424.37" y1="133.40" x2="424.37" y2="134.90" stroke="#1a1a1a" stroke-width="0.8"/>
<line x1="426.19" y1="133.40" x2="426.19" y2="134.90" stroke="#1a1a1a" stroke-width="0.8"/>
<line x1="427.76" y1="133.40" x2="427.76" y2="134.90" stroke="#1a1a1a" stroke-width="0.8"/>
<line x1="429.16" y1="133.40" x2="429.16" y2="134.90" stroke="#1a1a1a" stroke-width="0.8"/>
<line x1="430.40" y1="133.40" x2="430.40" y2="136.00" stroke="#1a1a1a" stroke-width="0.8"/>
<line x1="438.59" y1="133.40" x2="438.59" y2="134.90" stroke="#1a1a1a" stroke-width="0.8"/>
<line x1="443.38" y1="133.40" x2="443.38" y2="134.90" stroke="#1a1a1a" stroke-width="0.8"/>
<line x1="446.78" y1="133.40" x2="446.78" y2="134.90" stroke="#1a1a1a" stroke-width="0.8"/>
<line x1="449.41" y1="133.40" x2="449.41" y2="134.90" stroke="#1a1a1a" stroke-width="0.8"/>
<line x1="451.57" y1="133.40" x2="451.57" y2="134.90" stroke="#1a1a1a" stroke-width="0.8"/>
<line x1="453.39" y1="133.40" x2="453.39" y2="134.90" stroke="#1a1a1a" stroke-width="0.8"/>
<line x1="454.96" y1="133.40" x2="454.96" y2="134.90" stroke="#1a1a1a" stroke-width="0.8"/>
<line x1="456.36" y1="133.40" x2="456.36" y2="134.90" stroke="#1a1a1a" stroke-width="0.8"/>
<line x1="457.60" y1="133.40" x2="457.60" y2="136.00" stroke="#1a1a1a" stroke-width="0.8"/>
<line x1="465.79" y1="133.40" x2="465.79" y2="134.90" stroke="#1a1a1a" stroke-width="0.8"/>
<line x1="470.58" y1="133.40" x2="470.58" y2="134.90" stroke="#1a1a1a" stroke-width="0.8"/>
<line x1="473.98" y1="133.40" x2="473.98" y2="134.90" stroke="#1a1a1a" stroke-width="0.8"/>
<line x1="476.61" y1="133.40" x2="476.61" y2="134.90" stroke="#1a1a1a" stroke-width="0.8"/>
<line x1="478.77" y1="133.40" x2="478.77" y2="134.90" stroke="#1a1a1a" stroke-width="0.8"/>
<line x1="480.59" y1="133.40" x2="480.59" y2="134.90" stroke="#1a1a1a" stroke-width="0.8"/>
<line x1="482.16" y1="133.40" x2="482.16" y2="134.90" stroke="#1a1a1a" stroke-width="0.8"/>
<line x1="483.56" y1="133.40" x2="483.56" y2="134.90" stroke="#1a1a1a" stroke-width="0.8"/>
<line x1="484.80" y1="133.40" x2="484.80" y2="136.00" stroke="#1a1a1a" stroke-width="0.8"/>
<line x1="492.99" y1="133.40" x2="492.99" y2="134.90" stroke="#1a1a1a" stroke-width="0.8"/>
<line x1="497.78" y1="133.40" x2="497.78" y2="134.90" stroke="#1a1a1a" stroke-width="0.8"/>
<line x1="501.18" y1="133.40" x2="501.18" y2="134.90" stroke="#1a1a1a" stroke-width="0.8"/>
<line x1="503.81" y1="133.40" x2="503.81" y2="134.90" stroke="#1a1a1a" stroke-width="0.8"/>
<line x1="505.97" y1="133.40" x2="505.97" y2="134.90" stroke="#1a1a1a" stroke-width="0.8"/>
<line x1="507.79" y1="133.40" x2="507.79" y2="134.90" stroke="#1a1a1a" stroke-width="0.8"/>
<line x1="509.36" y1="133.40" x2="509.36" y2="134.90" stroke="#1a1a1a" stroke-width="0.8"/>
<line x1="510.76" y1="133.40" x2="510.76" y2="134.90" stroke="#1a1a1a" stroke-width="0.8"/>
<text x="403.55" y="144.70" font-size="8.2" fill="#111" class="tk" text-anchor="end">10</text>
<text x="403.75" y="142.10" font-size="6.4" fill="#111" class="tk">0</text>
<text x="430.95" y="144.70" font-size="8.2" fill="#111" class="tk" text-anchor="end">10</text>
<text x="431.15" y="142.10" font-size="6.4" fill="#111" class="tk">1</text>
<text x="459.15" y="144.70" font-size="8.2" fill="#111" class="tk" text-anchor="end">10</text>
<text x="459.35" y="142.10" font-size="6.4" fill="#111" class="tk">2</text>
<text x="487.05" y="144.70" font-size="8.2" fill="#111" class="tk" text-anchor="end">10</text>
<text x="487.25" y="142.10" font-size="6.4" fill="#111" class="tk">3</text>
<text x="515.35" y="144.70" font-size="8.2" fill="#111" class="tk" text-anchor="end">10</text>
<text x="515.55" y="142.10" font-size="6.4" fill="#111" class="tk">4</text>
<text x="456.50" y="156.20" font-size="8.6" fill="#111" stroke="#111" stroke-width="0.3" text-anchor="middle">GFP</text>
<text transform="translate(386.00,78.30) rotate(-90)" font-size="8.6" fill="#111" class="tk" text-anchor="middle">no. of Cells</text>
<path d="M439.4,97.60 H503.4 M439.4,95.40 V99.80 M503.4,95.40 V99.80" stroke="#262660" stroke-width="1.5" fill="none"/>
<text x="470.10" y="95.30" font-size="10.4" fill="#2a2a48" stroke="#2a2a48" stroke-width="0.2" text-anchor="middle">11.0 +/- 3.6</text>
<path d="M402.60,276.50 L403.0,224.0 404.5,221.0 405.5,212.0 406.6,198.0 407.6,188.0 408.5,183.0 409.5,176.0 410.8,171.8 412.0,175.5 413.0,173.5 414.0,175.0 415.0,178.0 417.0,182.0 418.5,181.0 419.5,185.0 421.0,200.0 421.5,210.0 422.5,212.0 424.0,225.0 425.5,240.0 427.5,250.0 429.5,257.0 431.0,261.0 435.0,263.0 438.0,264.5 441.5,266.0 443.5,263.5 447.5,267.0 450.0,265.5 453.0,264.5 456.0,264.0 459.0,262.0 462.0,263.5 464.0,258.0 466.0,254.5 468.0,254.0 470.5,248.5 471.5,251.0 472.5,254.0 473.5,253.5 475.0,257.0 476.5,258.5 477.5,258.0 479.0,262.0 481.0,264.5 482.5,266.0 484.0,268.0 486.0,268.5 488.0,270.0 490.0,272.0 493.0,274.5 496.0,275.5 512.0,275.8 L513.40,276.50 Z" fill="#b3b3b3" stroke="none"/>
<path d="M403.0,224.0 404.5,221.0 405.5,212.0 406.6,198.0 407.6,188.0 408.5,183.0 409.5,176.0 410.8,171.8 412.0,175.5 413.0,173.5 414.0,175.0 415.0,178.0 417.0,182.0 418.5,181.0 419.5,185.0 421.0,200.0 421.5,210.0 422.5,212.0 424.0,225.0 425.5,240.0 427.5,250.0 429.5,257.0 431.0,261.0 435.0,263.0 438.0,264.5 441.5,266.0 443.5,263.5 447.5,267.0 450.0,265.5 453.0,264.5 456.0,264.0 459.0,262.0 462.0,263.5 464.0,258.0 466.0,254.5 468.0,254.0 470.5,248.5 471.5,251.0 472.5,254.0 473.5,253.5 475.0,257.0 476.5,258.5 477.5,258.0 479.0,262.0 481.0,264.5 482.5,266.0 484.0,268.0 486.0,268.5 488.0,270.0 490.0,272.0 493.0,274.5 496.0,275.5 512.0,275.8" fill="none" stroke="#1e1e1e" stroke-width="1.3" stroke-linejoin="round"/>
<path d="M402.60,166.30 H513.40 V276.50" fill="none" stroke="#333" stroke-width="1.1"/>
<path d="M402.60,166.30 V276.50 H513.40" fill="none" stroke="#000" stroke-width="1.45"/>
<line x1="399.60" y1="276.50" x2="402.60" y2="276.50" stroke="#1a1a1a" stroke-width="0.9"/>
<text x="397.40" y="279.50" font-size="8.3" fill="#111" class="tk" text-anchor="end">0</text>
<line x1="401.00" y1="269.40" x2="402.60" y2="269.40" stroke="#1a1a1a" stroke-width="0.9"/>
<line x1="401.00" y1="262.30" x2="402.60" y2="262.30" stroke="#1a1a1a" stroke-width="0.9"/>
<line x1="401.00" y1="255.20" x2="402.60" y2="255.20" stroke="#1a1a1a" stroke-width="0.9"/>
<line x1="399.60" y1="248.10" x2="402.60" y2="248.10" stroke="#1a1a1a" stroke-width="0.9"/>
<text x="397.40" y="251.10" font-size="8.3" fill="#111" class="tk" text-anchor="end">20</text>
<line x1="401.00" y1="241.00" x2="402.60" y2="241.00" stroke="#1a1a1a" stroke-width="0.9"/>
<line x1="401.00" y1="233.90" x2="402.60" y2="233.90" stroke="#1a1a1a" stroke-width="0.9"/>
<line x1="401.00" y1="226.80" x2="402.60" y2="226.80" stroke="#1a1a1a" stroke-width="0.9"/>
<line x1="399.60" y1="219.70" x2="402.60" y2="219.70" stroke="#1a1a1a" stroke-width="0.9"/>
<text x="397.40" y="222.70" font-size="8.3" fill="#111" class="tk" text-anchor="end">40</text>
<line x1="401.00" y1="212.60" x2="402.60" y2="212.60" stroke="#1a1a1a" stroke-width="0.9"/>
<line x1="401.00" y1="205.50" x2="402.60" y2="205.50" stroke="#1a1a1a" stroke-width="0.9"/>
<line x1="401.00" y1="198.40" x2="402.60" y2="198.40" stroke="#1a1a1a" stroke-width="0.9"/>
<line x1="399.60" y1="191.30" x2="402.60" y2="191.30" stroke="#1a1a1a" stroke-width="0.9"/>
<text x="397.40" y="194.30" font-size="8.3" fill="#111" class="tk" text-anchor="end">60</text>
<line x1="401.00" y1="184.20" x2="402.60" y2="184.20" stroke="#1a1a1a" stroke-width="0.9"/>
<line x1="401.00" y1="177.10" x2="402.60" y2="177.10" stroke="#1a1a1a" stroke-width="0.9"/>
<line x1="401.00" y1="170.00" x2="402.60" y2="170.00" stroke="#1a1a1a" stroke-width="0.9"/>
<line x1="403.20" y1="276.50" x2="403.20" y2="279.10" stroke="#1a1a1a" stroke-width="0.8"/>
<line x1="411.39" y1="276.50" x2="411.39" y2="278.00" stroke="#1a1a1a" stroke-width="0.8"/>
<line x1="416.18" y1="276.50" x2="416.18" y2="278.00" stroke="#1a1a1a" stroke-width="0.8"/>
<line x1="419.58" y1="276.50" x2="419.58" y2="278.00" stroke="#1a1a1a" stroke-width="0.8"/>
<line x1="422.21" y1="276.50" x2="422.21" y2="278.00" stroke="#1a1a1a" stroke-width="0.8"/>
<line x1="424.37" y1="276.50" x2="424.37" y2="278.00" stroke="#1a1a1a" stroke-width="0.8"/>
<line x1="426.19" y1="276.50" x2="426.19" y2="278.00" stroke="#1a1a1a" stroke-width="0.8"/>
<line x1="427.76" y1="276.50" x2="427.76" y2="278.00" stroke="#1a1a1a" stroke-width="0.8"/>
<line x1="429.16" y1="276.50" x2="429.16" y2="278.00" stroke="#1a1a1a" stroke-width="0.8"/>
<line x1="430.40" y1="276.50" x2="430.40" y2="279.10" stroke="#1a1a1a" stroke-width="0.8"/>
<line x1="438.59" y1="276.50" x2="438.59" y2="278.00" stroke="#1a1a1a" stroke-width="0.8"/>
<line x1="443.38" y1="276.50" x2="443.38" y2="278.00" stroke="#1a1a1a" stroke-width="0.8"/>
<line x1="446.78" y1="276.50" x2="446.78" y2="278.00" stroke="#1a1a1a" stroke-width="0.8"/>
<line x1="449.41" y1="276.50" x2="449.41" y2="278.00" stroke="#1a1a1a" stroke-width="0.8"/>
<line x1="451.57" y1="276.50" x2="451.57" y2="278.00" stroke="#1a1a1a" stroke-width="0.8"/>
<line x1="453.39" y1="276.50" x2="453.39" y2="278.00" stroke="#1a1a1a" stroke-width="0.8"/>
<line x1="454.96" y1="276.50" x2="454.96" y2="278.00" stroke="#1a1a1a" stroke-width="0.8"/>
<line x1="456.36" y1="276.50" x2="456.36" y2="278.00" stroke="#1a1a1a" stroke-width="0.8"/>
<line x1="457.60" y1="276.50" x2="457.60" y2="279.10" stroke="#1a1a1a" stroke-width="0.8"/>
<line x1="465.79" y1="276.50" x2="465.79" y2="278.00" stroke="#1a1a1a" stroke-width="0.8"/>
<line x1="470.58" y1="276.50" x2="470.58" y2="278.00" stroke="#1a1a1a" stroke-width="0.8"/>
<line x1="473.98" y1="276.50" x2="473.98" y2="278.00" stroke="#1a1a1a" stroke-width="0.8"/>
<line x1="476.61" y1="276.50" x2="476.61" y2="278.00" stroke="#1a1a1a" stroke-width="0.8"/>
<line x1="478.77" y1="276.50" x2="478.77" y2="278.00" stroke="#1a1a1a" stroke-width="0.8"/>
<line x1="480.59" y1="276.50" x2="480.59" y2="278.00" stroke="#1a1a1a" stroke-width="0.8"/>
<line x1="482.16" y1="276.50" x2="482.16" y2="278.00" stroke="#1a1a1a" stroke-width="0.8"/>
<line x1="483.56" y1="276.50" x2="483.56" y2="278.00" stroke="#1a1a1a" stroke-width="0.8"/>
<line x1="484.80" y1="276.50" x2="484.80" y2="279.10" stroke="#1a1a1a" stroke-width="0.8"/>
<line x1="492.99" y1="276.50" x2="492.99" y2="278.00" stroke="#1a1a1a" stroke-width="0.8"/>
<line x1="497.78" y1="276.50" x2="497.78" y2="278.00" stroke="#1a1a1a" stroke-width="0.8"/>
<line x1="501.18" y1="276.50" x2="501.18" y2="278.00" stroke="#1a1a1a" stroke-width="0.8"/>
<line x1="503.81" y1="276.50" x2="503.81" y2="278.00" stroke="#1a1a1a" stroke-width="0.8"/>
<line x1="505.97" y1="276.50" x2="505.97" y2="278.00" stroke="#1a1a1a" stroke-width="0.8"/>
<line x1="507.79" y1="276.50" x2="507.79" y2="278.00" stroke="#1a1a1a" stroke-width="0.8"/>
<line x1="509.36" y1="276.50" x2="509.36" y2="278.00" stroke="#1a1a1a" stroke-width="0.8"/>
<line x1="510.76" y1="276.50" x2="510.76" y2="278.00" stroke="#1a1a1a" stroke-width="0.8"/>
<text x="403.55" y="287.80" font-size="8.2" fill="#111" class="tk" text-anchor="end">10</text>
<text x="403.75" y="285.20" font-size="6.4" fill="#111" class="tk">0</text>
<text x="430.95" y="287.80" font-size="8.2" fill="#111" class="tk" text-anchor="end">10</text>
<text x="431.15" y="285.20" font-size="6.4" fill="#111" class="tk">1</text>
<text x="459.15" y="287.80" font-size="8.2" fill="#111" class="tk" text-anchor="end">10</text>
<text x="459.35" y="285.20" font-size="6.4" fill="#111" class="tk">2</text>
<text x="487.05" y="287.80" font-size="8.2" fill="#111" class="tk" text-anchor="end">10</text>
<text x="487.25" y="285.20" font-size="6.4" fill="#111" class="tk">3</text>
<text x="515.35" y="287.80" font-size="8.2" fill="#111" class="tk" text-anchor="end">10</text>
<text x="515.55" y="285.20" font-size="6.4" fill="#111" class="tk">4</text>
<text x="456.50" y="300.10" font-size="8.6" fill="#111" stroke="#111" stroke-width="0.3" text-anchor="middle">GFP</text>
<text transform="translate(386.00,220.60) rotate(-90)" font-size="8.6" fill="#111" class="tk" text-anchor="middle">no. of Cells</text>
<path d="M439.4,239.90 H503.4 M439.4,237.70 V242.10 M503.4,237.70 V242.10" stroke="#262660" stroke-width="1.5" fill="none"/>
<text x="471.60" y="237.60" font-size="10.4" fill="#2a2a48" stroke="#2a2a48" stroke-width="0.2" text-anchor="middle">20.0 +/- 5.8</text>
</svg>
</body></html>
